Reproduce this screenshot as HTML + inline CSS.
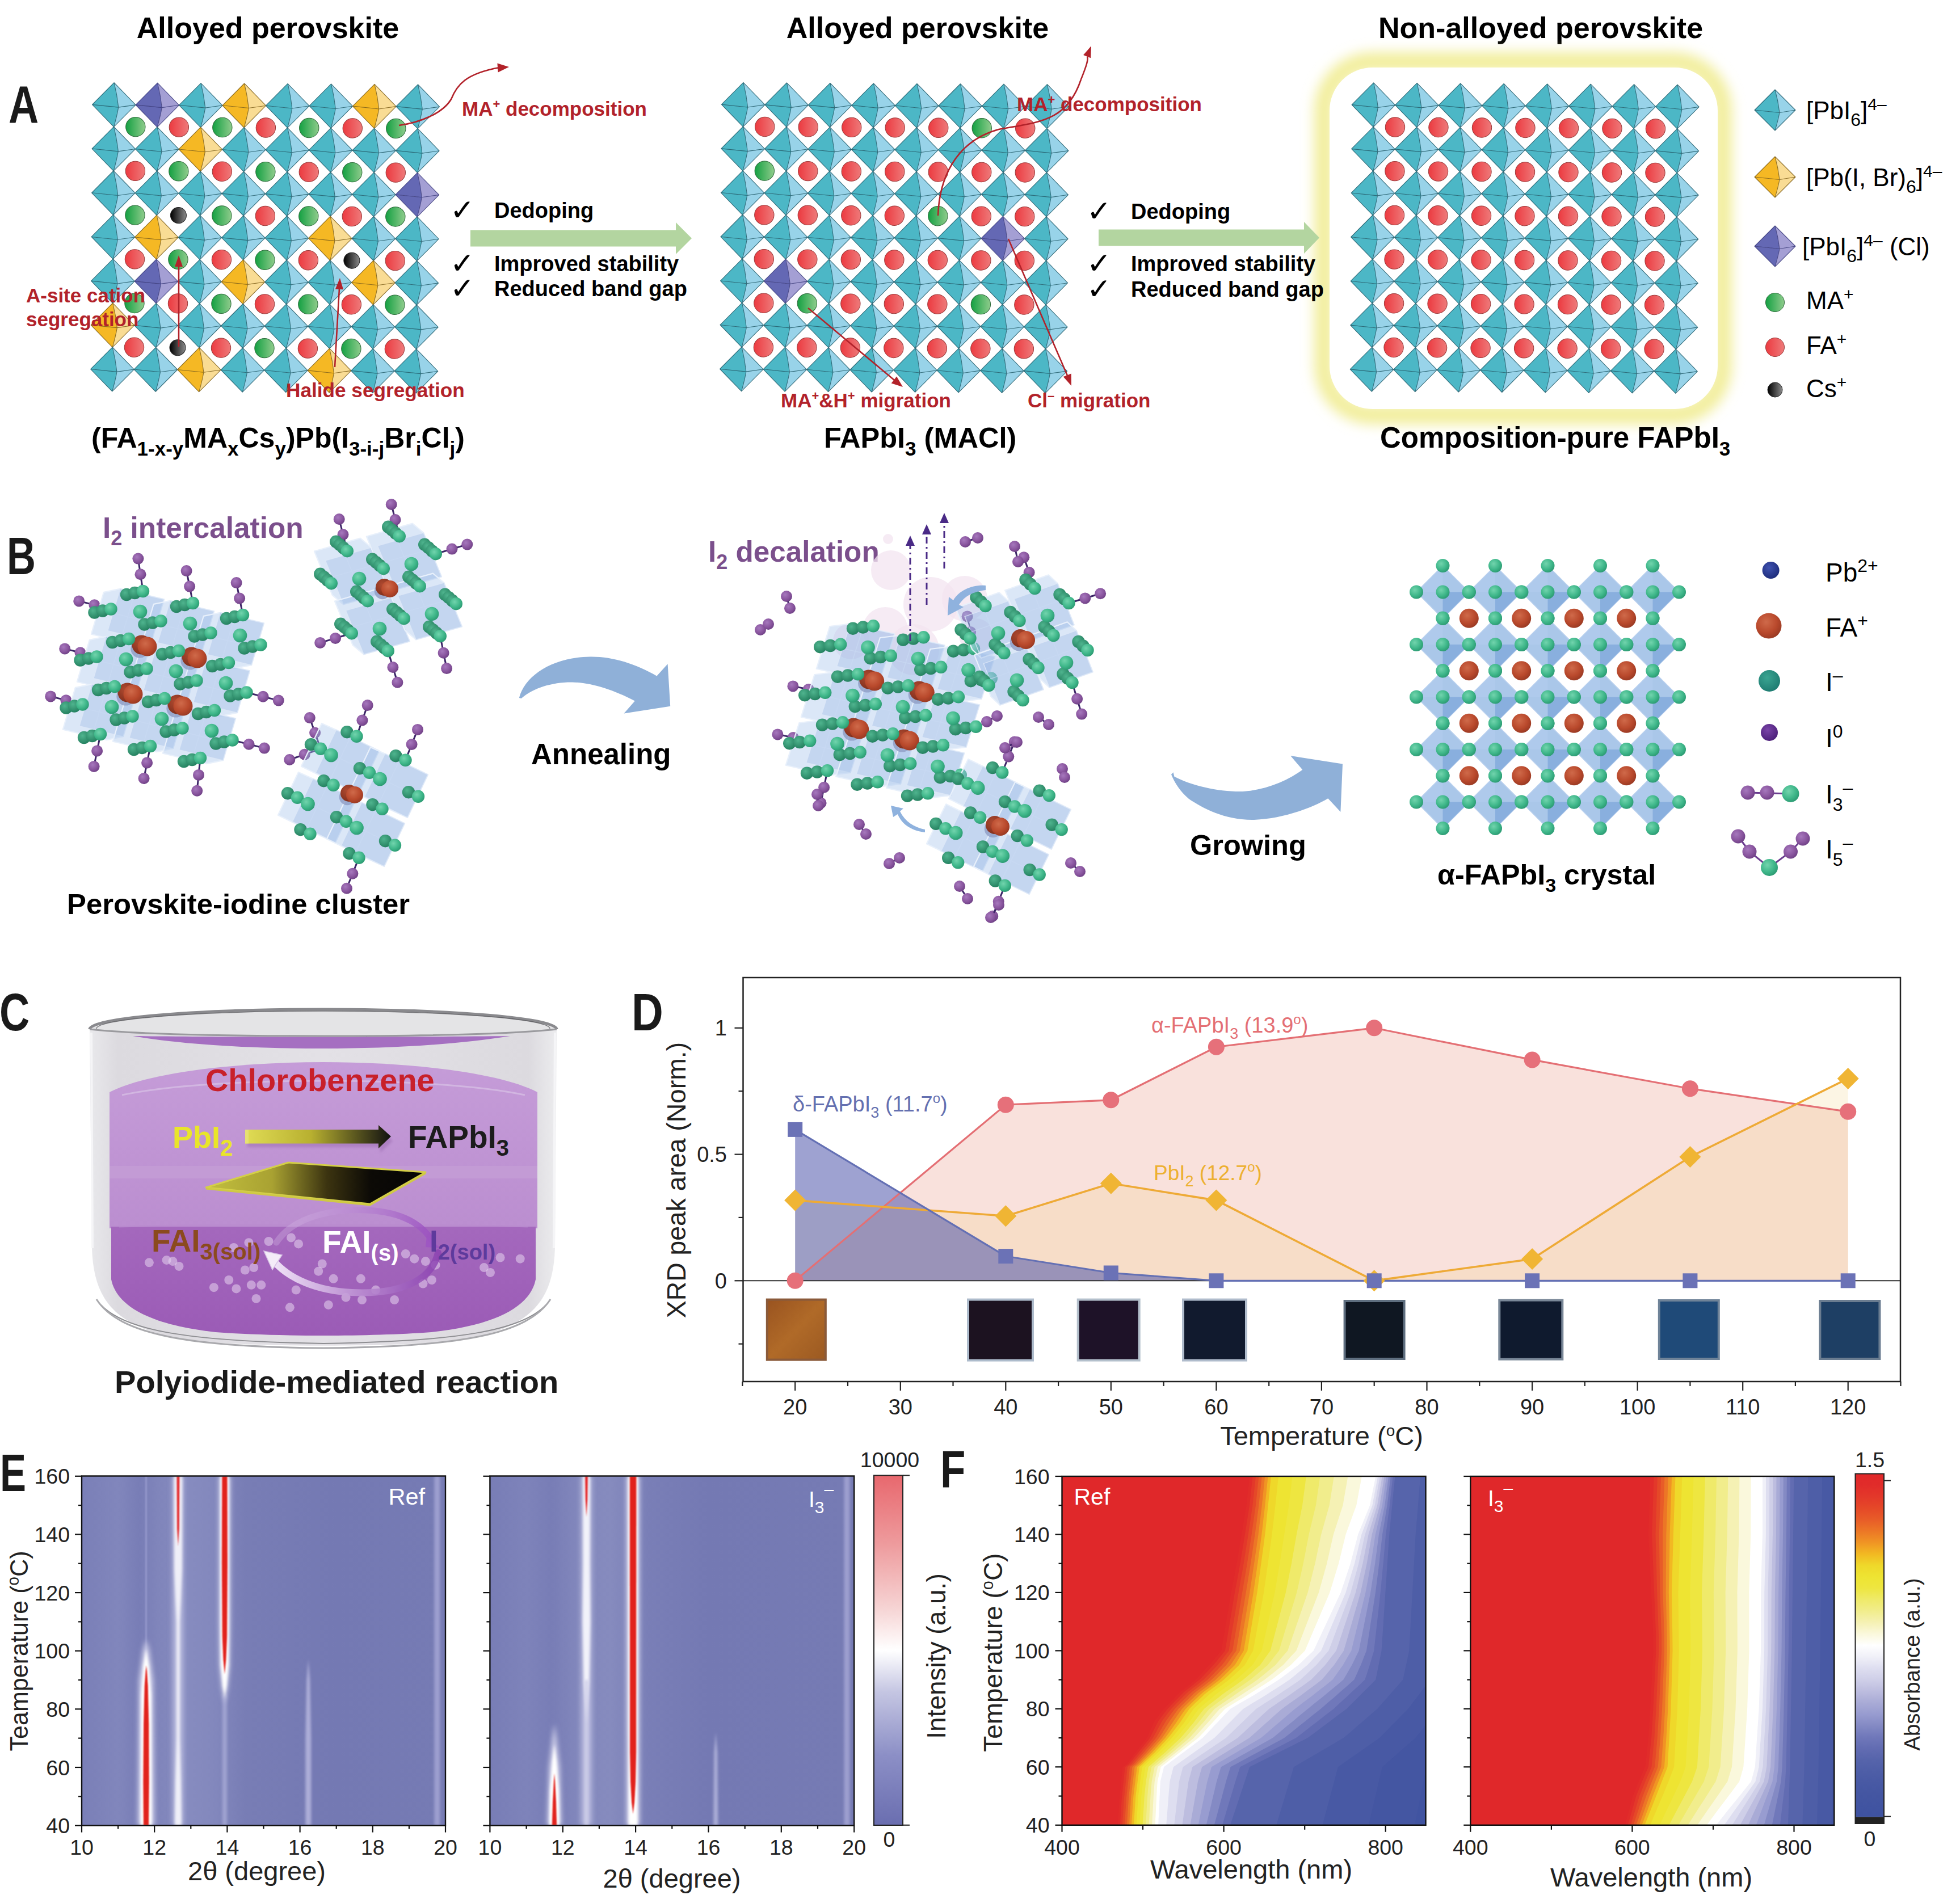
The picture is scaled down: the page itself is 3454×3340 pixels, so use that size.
<!DOCTYPE html>
<html><head><meta charset="utf-8"><title>Figure</title>
<style>html,body{margin:0;padding:0;background:#fff;} svg{display:block;}</style></head>
<body><svg width="3454" height="3340" viewBox="0 0 3454 3340" font-family='"Liberation Sans", Arial, Helvetica, sans-serif'>
<defs>
<linearGradient id="gG" x1="0" x2="1" y1="0" y2="0"><stop offset="0" stop-color="#14a042"/><stop offset="1" stop-color="#8fcc8c"/></linearGradient>
<linearGradient id="gR" x1="0" x2="1" y1="0" y2="0"><stop offset="0" stop-color="#ec3a40"/><stop offset="1" stop-color="#ee7a7a"/></linearGradient>
<linearGradient id="gK" x1="0" x2="1" y1="0" y2="0"><stop offset="0" stop-color="#000"/><stop offset="1" stop-color="#8a8a8a"/></linearGradient>
<filter id="glow" x="-20%" y="-20%" width="140%" height="140%"><feGaussianBlur stdDeviation="11"/></filter>
<marker id="arrR" markerWidth="8" markerHeight="8" refX="6" refY="4" orient="auto" markerUnits="userSpaceOnUse" viewBox="0 0 8 8"><path d="M0,0 L8,4 L0,8Z" fill="#b2222a"/></marker>

<radialGradient id="bG" cx="0.38" cy="0.35" r="0.7"><stop offset="0" stop-color="#72d4ad"/><stop offset="0.6" stop-color="#3fb78a"/><stop offset="1" stop-color="#2a9870"/></radialGradient>
<radialGradient id="bGd" cx="0.38" cy="0.35" r="0.7"><stop offset="0" stop-color="#4fb48e"/><stop offset="1" stop-color="#237f5e"/></radialGradient>
<radialGradient id="bP" cx="0.38" cy="0.35" r="0.7"><stop offset="0" stop-color="#a678bd"/><stop offset="0.6" stop-color="#8a569f"/><stop offset="1" stop-color="#6d3f84"/></radialGradient>
<radialGradient id="bR" cx="0.4" cy="0.35" r="0.7"><stop offset="0" stop-color="#cf6a4a"/><stop offset="0.6" stop-color="#b9492c"/><stop offset="1" stop-color="#963822"/></radialGradient>
<radialGradient id="bRd" cx="0.4" cy="0.35" r="0.7"><stop offset="0" stop-color="#b04a30"/><stop offset="1" stop-color="#7e2e1c"/></radialGradient>
<radialGradient id="bB" cx="0.4" cy="0.35" r="0.7"><stop offset="0" stop-color="#3f52b0"/><stop offset="1" stop-color="#1c2a78"/></radialGradient>
<radialGradient id="bV" cx="0.4" cy="0.35" r="0.7"><stop offset="0" stop-color="#7a44a8"/><stop offset="1" stop-color="#4a1e78"/></radialGradient>
<radialGradient id="bGl" cx="0.4" cy="0.35" r="0.7"><stop offset="0" stop-color="#3aa592"/><stop offset="1" stop-color="#1d7a70"/></radialGradient>
<linearGradient id="annealG" x1="0" y1="0" x2="1" y2="0"><stop offset="0" stop-color="#a9c4e6"/><stop offset="1" stop-color="#86aedd"/></linearGradient>
<filter id="soft" x="-30%" y="-30%" width="160%" height="160%"><feGaussianBlur stdDeviation="3"/></filter>

<linearGradient id="cUp" x1="0" y1="0" x2="0" y2="1"><stop offset="0" stop-color="#c59cd8"/><stop offset="1" stop-color="#bb8ed0"/></linearGradient>
<linearGradient id="cLow" x1="0" y1="0" x2="0" y2="1"><stop offset="0" stop-color="#a468bd"/><stop offset="1" stop-color="#9b5bb6"/></linearGradient>
<linearGradient id="cGlass" x1="0" y1="0" x2="1" y2="0"><stop offset="0" stop-color="#e9e9ec"/><stop offset="0.06" stop-color="#dcdadf"/><stop offset="0.5" stop-color="#e3e1e6"/><stop offset="0.94" stop-color="#dcdadf"/><stop offset="1" stop-color="#ececee"/></linearGradient>
<linearGradient id="cFilm" x1="0" y1="0" x2="1" y2="0"><stop offset="0" stop-color="#c2bf3e"/><stop offset="0.3" stop-color="#a9a232"/><stop offset="0.55" stop-color="#3c3410"/><stop offset="0.75" stop-color="#0c0a06"/><stop offset="1" stop-color="#050505"/></linearGradient>
<linearGradient id="cArr" x1="0" y1="0" x2="1" y2="0"><stop offset="0" stop-color="#e0dc55"/><stop offset="0.45" stop-color="#b8b030"/><stop offset="1" stop-color="#111"/></linearGradient>
<linearGradient id="cArcT" x1="0" y1="0" x2="1" y2="0"><stop offset="0" stop-color="#d8bfe6" stop-opacity="0.3"/><stop offset="1" stop-color="#9a4fc0" stop-opacity="0.85"/></linearGradient>
<linearGradient id="cArcB" x1="0" y1="0" x2="1" y2="0"><stop offset="0" stop-color="#f4eafa" stop-opacity="0.95"/><stop offset="1" stop-color="#8a3fb0" stop-opacity="0.8"/></linearGradient>
<filter id="blur2" x="-10%" y="-10%" width="120%" height="120%"><feGaussianBlur stdDeviation="2"/></filter>

<linearGradient id="ph20" x1="0" y1="0" x2="1" y2="1"><stop offset="0" stop-color="#9a5420"/><stop offset="0.5" stop-color="#b06a28"/><stop offset="1" stop-color="#9c5a22"/></linearGradient>

<filter id="bl1" x="-50%" y="-5%" width="200%" height="110%"><feGaussianBlur stdDeviation="1"/></filter>
<filter id="bl2" x="-50%" y="-5%" width="200%" height="110%"><feGaussianBlur stdDeviation="2.2"/></filter>
<filter id="bl4" x="-50%" y="-5%" width="200%" height="110%"><feGaussianBlur stdDeviation="4"/></filter>
<linearGradient id="eBg1" x1="0" y1="0" x2="1" y2="0">
 <stop offset="0" stop-color="#7a7fb7"/><stop offset="0.1" stop-color="#8186bc"/><stop offset="0.16" stop-color="#787db6"/><stop offset="0.21" stop-color="#8085bb"/>
 <stop offset="0.3" stop-color="#868bbf"/><stop offset="0.36" stop-color="#8388bd"/><stop offset="0.45" stop-color="#787db5"/><stop offset="0.7" stop-color="#7479b3"/><stop offset="1" stop-color="#767bb4"/></linearGradient>
<linearGradient id="eBg2" x1="0" y1="0" x2="1" y2="0">
 <stop offset="0" stop-color="#787db6"/><stop offset="0.1" stop-color="#7e83ba"/><stop offset="0.17" stop-color="#787db6"/><stop offset="0.24" stop-color="#8287bc"/>
 <stop offset="0.33" stop-color="#868bbe"/><stop offset="0.42" stop-color="#7a7fb7"/><stop offset="0.6" stop-color="#7479b3"/><stop offset="1" stop-color="#767bb4"/></linearGradient>
<linearGradient id="eCb" x1="0" y1="1" x2="0" y2="0">
 <stop offset="0" stop-color="#6a6eb0"/><stop offset="0.2" stop-color="#8c8fc6"/><stop offset="0.38" stop-color="#c4c5e2"/><stop offset="0.5" stop-color="#ffffff"/>
 <stop offset="0.62" stop-color="#f6d4d4"/><stop offset="0.8" stop-color="#ee9c9e"/><stop offset="1" stop-color="#e8686e"/></linearGradient>
<clipPath id="cpE1"><rect x="144" y="2601.5" width="641" height="616"/></clipPath>
<clipPath id="cpE2"><rect x="863.4" y="2601.5" width="641.8" height="616"/></clipPath>
<linearGradient id="fCb" x1="0" y1="0" x2="0" y2="1"><stop offset="0.0000" stop-color="#e0282a"/><stop offset="0.0333" stop-color="#e12c2a"/><stop offset="0.0667" stop-color="#e3382a"/><stop offset="0.1000" stop-color="#e54828"/><stop offset="0.1333" stop-color="#e85c28"/><stop offset="0.1667" stop-color="#ec7626"/><stop offset="0.2000" stop-color="#f09424"/><stop offset="0.2333" stop-color="#f2b822"/><stop offset="0.2667" stop-color="#efd82a"/><stop offset="0.3000" stop-color="#eee432"/><stop offset="0.3333" stop-color="#eee640"/><stop offset="0.3667" stop-color="#efea6a"/><stop offset="0.4000" stop-color="#f1ed8c"/><stop offset="0.4333" stop-color="#f5f1b4"/><stop offset="0.4667" stop-color="#faf8dc"/><stop offset="0.5000" stop-color="#ffffff"/><stop offset="0.5333" stop-color="#f0f0f8"/><stop offset="0.5667" stop-color="#dedef0"/><stop offset="0.6000" stop-color="#cfcfe8"/><stop offset="0.6333" stop-color="#bdbddf"/><stop offset="0.6667" stop-color="#a9abd6"/><stop offset="0.7000" stop-color="#989cd0"/><stop offset="0.7333" stop-color="#848ac4"/><stop offset="0.7667" stop-color="#7078ba"/><stop offset="0.8000" stop-color="#626cb2"/><stop offset="0.8333" stop-color="#5664ab"/><stop offset="0.8667" stop-color="#4e5ea7"/><stop offset="0.9000" stop-color="#4859a4"/><stop offset="0.9333" stop-color="#4456a2"/><stop offset="0.9667" stop-color="#4154a1"/><stop offset="1.0000" stop-color="#3e52a0"/></linearGradient><clipPath id="cpF1"><rect x="1871.5" y="2602" width="641" height="615"/></clipPath><clipPath id="cpF2"><rect x="2591.3" y="2602" width="641" height="615"/></clipPath></defs>
<rect width="3454" height="3340" fill="#fff"/>
<text x="472.0" y="67.0" font-size="52" font-weight="bold" text-anchor="middle" fill="#000" >Alloyed perovskite</text>
<text x="1617.0" y="67.0" font-size="52" font-weight="bold" text-anchor="middle" fill="#000" >Alloyed perovskite</text>
<text x="2715.0" y="67.0" font-size="52" font-weight="bold" text-anchor="middle" fill="#000" >Non-alloyed perovskite</text>
<text x="15" y="216" font-size="92" font-weight="bold" fill="#1a1a1a" transform="translate(15,0) scale(0.8,1) translate(-15,0)">A</text>
<g transform="rotate(0.35 200.8 184.6)">
<path d="M162.5,184.6 L200.8,145.6 Q206.3,167.0 208.8,189.1Z" fill="#4cb7c6"/><path d="M200.8,145.6 L239.1,184.6 L208.8,189.1 Q206.3,167.0 200.8,145.6Z" fill="#98d3e9"/><path d="M162.5,184.6 L208.8,189.1 Q206.3,204.1 200.8,223.6Z" fill="#4cb7c6"/><path d="M208.8,189.1 L239.1,184.6 L200.8,223.6 Q206.3,204.1 208.8,189.1Z" fill="#98d3e9"/><path d="M162.5,184.6 L200.8,145.6 L239.1,184.6 L200.8,223.6Z M200.8,145.6 Q206.3,167.0 208.8,189.1 Q206.3,204.1 200.8,223.6 M162.5,184.6 L208.8,189.1 L239.1,184.6" fill="none" stroke="#1f5a68" stroke-width="1.1" stroke-opacity="0.85" stroke-linejoin="round"/>
<path d="M239.0,184.6 L277.3,145.6 Q282.8,167.0 285.3,189.1Z" fill="#6468b4"/><path d="M277.3,145.6 L315.6,184.6 L285.3,189.1 Q282.8,167.0 277.3,145.6Z" fill="#a49fd4"/><path d="M239.0,184.6 L285.3,189.1 Q282.8,204.1 277.3,223.6Z" fill="#6468b4"/><path d="M285.3,189.1 L315.6,184.6 L277.3,223.6 Q282.8,204.1 285.3,189.1Z" fill="#a49fd4"/><path d="M239.0,184.6 L277.3,145.6 L315.6,184.6 L277.3,223.6Z M277.3,145.6 Q282.8,167.0 285.3,189.1 Q282.8,204.1 277.3,223.6 M239.0,184.6 L285.3,189.1 L315.6,184.6" fill="none" stroke="#3a3a7a" stroke-width="1.1" stroke-opacity="0.85" stroke-linejoin="round"/>
<path d="M315.5,184.6 L353.8,145.6 Q359.3,167.0 361.8,189.1Z" fill="#4cb7c6"/><path d="M353.8,145.6 L392.1,184.6 L361.8,189.1 Q359.3,167.0 353.8,145.6Z" fill="#98d3e9"/><path d="M315.5,184.6 L361.8,189.1 Q359.3,204.1 353.8,223.6Z" fill="#4cb7c6"/><path d="M361.8,189.1 L392.1,184.6 L353.8,223.6 Q359.3,204.1 361.8,189.1Z" fill="#98d3e9"/><path d="M315.5,184.6 L353.8,145.6 L392.1,184.6 L353.8,223.6Z M353.8,145.6 Q359.3,167.0 361.8,189.1 Q359.3,204.1 353.8,223.6 M315.5,184.6 L361.8,189.1 L392.1,184.6" fill="none" stroke="#1f5a68" stroke-width="1.1" stroke-opacity="0.85" stroke-linejoin="round"/>
<path d="M392.0,184.6 L430.3,145.6 Q435.8,167.0 438.3,189.1Z" fill="#f5b824"/><path d="M430.3,145.6 L468.6,184.6 L438.3,189.1 Q435.8,167.0 430.3,145.6Z" fill="#f9dc94"/><path d="M392.0,184.6 L438.3,189.1 Q435.8,204.1 430.3,223.6Z" fill="#f5b824"/><path d="M438.3,189.1 L468.6,184.6 L430.3,223.6 Q435.8,204.1 438.3,189.1Z" fill="#f9dc94"/><path d="M392.0,184.6 L430.3,145.6 L468.6,184.6 L430.3,223.6Z M430.3,145.6 Q435.8,167.0 438.3,189.1 Q435.8,204.1 430.3,223.6 M392.0,184.6 L438.3,189.1 L468.6,184.6" fill="none" stroke="#7a5a10" stroke-width="1.1" stroke-opacity="0.85" stroke-linejoin="round"/>
<path d="M468.5,184.6 L506.8,145.6 Q512.3,167.0 514.8,189.1Z" fill="#4cb7c6"/><path d="M506.8,145.6 L545.1,184.6 L514.8,189.1 Q512.3,167.0 506.8,145.6Z" fill="#98d3e9"/><path d="M468.5,184.6 L514.8,189.1 Q512.3,204.1 506.8,223.6Z" fill="#4cb7c6"/><path d="M514.8,189.1 L545.1,184.6 L506.8,223.6 Q512.3,204.1 514.8,189.1Z" fill="#98d3e9"/><path d="M468.5,184.6 L506.8,145.6 L545.1,184.6 L506.8,223.6Z M506.8,145.6 Q512.3,167.0 514.8,189.1 Q512.3,204.1 506.8,223.6 M468.5,184.6 L514.8,189.1 L545.1,184.6" fill="none" stroke="#1f5a68" stroke-width="1.1" stroke-opacity="0.85" stroke-linejoin="round"/>
<path d="M545.0,184.6 L583.3,145.6 Q588.8,167.0 591.3,189.1Z" fill="#4cb7c6"/><path d="M583.3,145.6 L621.6,184.6 L591.3,189.1 Q588.8,167.0 583.3,145.6Z" fill="#98d3e9"/><path d="M545.0,184.6 L591.3,189.1 Q588.8,204.1 583.3,223.6Z" fill="#4cb7c6"/><path d="M591.3,189.1 L621.6,184.6 L583.3,223.6 Q588.8,204.1 591.3,189.1Z" fill="#98d3e9"/><path d="M545.0,184.6 L583.3,145.6 L621.6,184.6 L583.3,223.6Z M583.3,145.6 Q588.8,167.0 591.3,189.1 Q588.8,204.1 583.3,223.6 M545.0,184.6 L591.3,189.1 L621.6,184.6" fill="none" stroke="#1f5a68" stroke-width="1.1" stroke-opacity="0.85" stroke-linejoin="round"/>
<path d="M621.5,184.6 L659.8,145.6 Q665.3,167.0 667.8,189.1Z" fill="#f5b824"/><path d="M659.8,145.6 L698.1,184.6 L667.8,189.1 Q665.3,167.0 659.8,145.6Z" fill="#f9dc94"/><path d="M621.5,184.6 L667.8,189.1 Q665.3,204.1 659.8,223.6Z" fill="#f5b824"/><path d="M667.8,189.1 L698.1,184.6 L659.8,223.6 Q665.3,204.1 667.8,189.1Z" fill="#f9dc94"/><path d="M621.5,184.6 L659.8,145.6 L698.1,184.6 L659.8,223.6Z M659.8,145.6 Q665.3,167.0 667.8,189.1 Q665.3,204.1 659.8,223.6 M621.5,184.6 L667.8,189.1 L698.1,184.6" fill="none" stroke="#7a5a10" stroke-width="1.1" stroke-opacity="0.85" stroke-linejoin="round"/>
<path d="M698.0,184.6 L736.3,145.6 Q741.8,167.0 744.3,189.1Z" fill="#4cb7c6"/><path d="M736.3,145.6 L774.6,184.6 L744.3,189.1 Q741.8,167.0 736.3,145.6Z" fill="#98d3e9"/><path d="M698.0,184.6 L744.3,189.1 Q741.8,204.1 736.3,223.6Z" fill="#4cb7c6"/><path d="M744.3,189.1 L774.6,184.6 L736.3,223.6 Q741.8,204.1 744.3,189.1Z" fill="#98d3e9"/><path d="M698.0,184.6 L736.3,145.6 L774.6,184.6 L736.3,223.6Z M736.3,145.6 Q741.8,167.0 744.3,189.1 Q741.8,204.1 736.3,223.6 M698.0,184.6 L744.3,189.1 L774.6,184.6" fill="none" stroke="#1f5a68" stroke-width="1.1" stroke-opacity="0.85" stroke-linejoin="round"/>
<path d="M162.5,262.3 L200.8,223.3 Q206.3,244.8 208.8,266.8Z" fill="#4cb7c6"/><path d="M200.8,223.3 L239.1,262.3 L208.8,266.8 Q206.3,244.8 200.8,223.3Z" fill="#98d3e9"/><path d="M162.5,262.3 L208.8,266.8 Q206.3,281.8 200.8,301.3Z" fill="#4cb7c6"/><path d="M208.8,266.8 L239.1,262.3 L200.8,301.3 Q206.3,281.8 208.8,266.8Z" fill="#98d3e9"/><path d="M162.5,262.3 L200.8,223.3 L239.1,262.3 L200.8,301.3Z M200.8,223.3 Q206.3,244.8 208.8,266.8 Q206.3,281.8 200.8,301.3 M162.5,262.3 L208.8,266.8 L239.1,262.3" fill="none" stroke="#1f5a68" stroke-width="1.1" stroke-opacity="0.85" stroke-linejoin="round"/>
<path d="M239.0,262.3 L277.3,223.3 Q282.8,244.8 285.3,266.8Z" fill="#4cb7c6"/><path d="M277.3,223.3 L315.6,262.3 L285.3,266.8 Q282.8,244.8 277.3,223.3Z" fill="#98d3e9"/><path d="M239.0,262.3 L285.3,266.8 Q282.8,281.8 277.3,301.3Z" fill="#4cb7c6"/><path d="M285.3,266.8 L315.6,262.3 L277.3,301.3 Q282.8,281.8 285.3,266.8Z" fill="#98d3e9"/><path d="M239.0,262.3 L277.3,223.3 L315.6,262.3 L277.3,301.3Z M277.3,223.3 Q282.8,244.8 285.3,266.8 Q282.8,281.8 277.3,301.3 M239.0,262.3 L285.3,266.8 L315.6,262.3" fill="none" stroke="#1f5a68" stroke-width="1.1" stroke-opacity="0.85" stroke-linejoin="round"/>
<path d="M315.5,262.3 L353.8,223.3 Q359.3,244.8 361.8,266.8Z" fill="#f5b824"/><path d="M353.8,223.3 L392.1,262.3 L361.8,266.8 Q359.3,244.8 353.8,223.3Z" fill="#f9dc94"/><path d="M315.5,262.3 L361.8,266.8 Q359.3,281.8 353.8,301.3Z" fill="#f5b824"/><path d="M361.8,266.8 L392.1,262.3 L353.8,301.3 Q359.3,281.8 361.8,266.8Z" fill="#f9dc94"/><path d="M315.5,262.3 L353.8,223.3 L392.1,262.3 L353.8,301.3Z M353.8,223.3 Q359.3,244.8 361.8,266.8 Q359.3,281.8 353.8,301.3 M315.5,262.3 L361.8,266.8 L392.1,262.3" fill="none" stroke="#7a5a10" stroke-width="1.1" stroke-opacity="0.85" stroke-linejoin="round"/>
<path d="M392.0,262.3 L430.3,223.3 Q435.8,244.8 438.3,266.8Z" fill="#4cb7c6"/><path d="M430.3,223.3 L468.6,262.3 L438.3,266.8 Q435.8,244.8 430.3,223.3Z" fill="#98d3e9"/><path d="M392.0,262.3 L438.3,266.8 Q435.8,281.8 430.3,301.3Z" fill="#4cb7c6"/><path d="M438.3,266.8 L468.6,262.3 L430.3,301.3 Q435.8,281.8 438.3,266.8Z" fill="#98d3e9"/><path d="M392.0,262.3 L430.3,223.3 L468.6,262.3 L430.3,301.3Z M430.3,223.3 Q435.8,244.8 438.3,266.8 Q435.8,281.8 430.3,301.3 M392.0,262.3 L438.3,266.8 L468.6,262.3" fill="none" stroke="#1f5a68" stroke-width="1.1" stroke-opacity="0.85" stroke-linejoin="round"/>
<path d="M468.5,262.3 L506.8,223.3 Q512.3,244.8 514.8,266.8Z" fill="#4cb7c6"/><path d="M506.8,223.3 L545.1,262.3 L514.8,266.8 Q512.3,244.8 506.8,223.3Z" fill="#98d3e9"/><path d="M468.5,262.3 L514.8,266.8 Q512.3,281.8 506.8,301.3Z" fill="#4cb7c6"/><path d="M514.8,266.8 L545.1,262.3 L506.8,301.3 Q512.3,281.8 514.8,266.8Z" fill="#98d3e9"/><path d="M468.5,262.3 L506.8,223.3 L545.1,262.3 L506.8,301.3Z M506.8,223.3 Q512.3,244.8 514.8,266.8 Q512.3,281.8 506.8,301.3 M468.5,262.3 L514.8,266.8 L545.1,262.3" fill="none" stroke="#1f5a68" stroke-width="1.1" stroke-opacity="0.85" stroke-linejoin="round"/>
<path d="M545.0,262.3 L583.3,223.3 Q588.8,244.8 591.3,266.8Z" fill="#4cb7c6"/><path d="M583.3,223.3 L621.6,262.3 L591.3,266.8 Q588.8,244.8 583.3,223.3Z" fill="#98d3e9"/><path d="M545.0,262.3 L591.3,266.8 Q588.8,281.8 583.3,301.3Z" fill="#4cb7c6"/><path d="M591.3,266.8 L621.6,262.3 L583.3,301.3 Q588.8,281.8 591.3,266.8Z" fill="#98d3e9"/><path d="M545.0,262.3 L583.3,223.3 L621.6,262.3 L583.3,301.3Z M583.3,223.3 Q588.8,244.8 591.3,266.8 Q588.8,281.8 583.3,301.3 M545.0,262.3 L591.3,266.8 L621.6,262.3" fill="none" stroke="#1f5a68" stroke-width="1.1" stroke-opacity="0.85" stroke-linejoin="round"/>
<path d="M621.5,262.3 L659.8,223.3 Q665.3,244.8 667.8,266.8Z" fill="#4cb7c6"/><path d="M659.8,223.3 L698.1,262.3 L667.8,266.8 Q665.3,244.8 659.8,223.3Z" fill="#98d3e9"/><path d="M621.5,262.3 L667.8,266.8 Q665.3,281.8 659.8,301.3Z" fill="#4cb7c6"/><path d="M667.8,266.8 L698.1,262.3 L659.8,301.3 Q665.3,281.8 667.8,266.8Z" fill="#98d3e9"/><path d="M621.5,262.3 L659.8,223.3 L698.1,262.3 L659.8,301.3Z M659.8,223.3 Q665.3,244.8 667.8,266.8 Q665.3,281.8 659.8,301.3 M621.5,262.3 L667.8,266.8 L698.1,262.3" fill="none" stroke="#1f5a68" stroke-width="1.1" stroke-opacity="0.85" stroke-linejoin="round"/>
<path d="M698.0,262.3 L736.3,223.3 Q741.8,244.8 744.3,266.8Z" fill="#4cb7c6"/><path d="M736.3,223.3 L774.6,262.3 L744.3,266.8 Q741.8,244.8 736.3,223.3Z" fill="#98d3e9"/><path d="M698.0,262.3 L744.3,266.8 Q741.8,281.8 736.3,301.3Z" fill="#4cb7c6"/><path d="M744.3,266.8 L774.6,262.3 L736.3,301.3 Q741.8,281.8 744.3,266.8Z" fill="#98d3e9"/><path d="M698.0,262.3 L736.3,223.3 L774.6,262.3 L736.3,301.3Z M736.3,223.3 Q741.8,244.8 744.3,266.8 Q741.8,281.8 736.3,301.3 M698.0,262.3 L744.3,266.8 L774.6,262.3" fill="none" stroke="#1f5a68" stroke-width="1.1" stroke-opacity="0.85" stroke-linejoin="round"/>
<path d="M162.5,340.0 L200.8,301.0 Q206.3,322.4 208.8,344.5Z" fill="#4cb7c6"/><path d="M200.8,301.0 L239.1,340.0 L208.8,344.5 Q206.3,322.4 200.8,301.0Z" fill="#98d3e9"/><path d="M162.5,340.0 L208.8,344.5 Q206.3,359.5 200.8,379.0Z" fill="#4cb7c6"/><path d="M208.8,344.5 L239.1,340.0 L200.8,379.0 Q206.3,359.5 208.8,344.5Z" fill="#98d3e9"/><path d="M162.5,340.0 L200.8,301.0 L239.1,340.0 L200.8,379.0Z M200.8,301.0 Q206.3,322.4 208.8,344.5 Q206.3,359.5 200.8,379.0 M162.5,340.0 L208.8,344.5 L239.1,340.0" fill="none" stroke="#1f5a68" stroke-width="1.1" stroke-opacity="0.85" stroke-linejoin="round"/>
<path d="M239.0,340.0 L277.3,301.0 Q282.8,322.4 285.3,344.5Z" fill="#4cb7c6"/><path d="M277.3,301.0 L315.6,340.0 L285.3,344.5 Q282.8,322.4 277.3,301.0Z" fill="#98d3e9"/><path d="M239.0,340.0 L285.3,344.5 Q282.8,359.5 277.3,379.0Z" fill="#4cb7c6"/><path d="M285.3,344.5 L315.6,340.0 L277.3,379.0 Q282.8,359.5 285.3,344.5Z" fill="#98d3e9"/><path d="M239.0,340.0 L277.3,301.0 L315.6,340.0 L277.3,379.0Z M277.3,301.0 Q282.8,322.4 285.3,344.5 Q282.8,359.5 277.3,379.0 M239.0,340.0 L285.3,344.5 L315.6,340.0" fill="none" stroke="#1f5a68" stroke-width="1.1" stroke-opacity="0.85" stroke-linejoin="round"/>
<path d="M315.5,340.0 L353.8,301.0 Q359.3,322.4 361.8,344.5Z" fill="#4cb7c6"/><path d="M353.8,301.0 L392.1,340.0 L361.8,344.5 Q359.3,322.4 353.8,301.0Z" fill="#98d3e9"/><path d="M315.5,340.0 L361.8,344.5 Q359.3,359.5 353.8,379.0Z" fill="#4cb7c6"/><path d="M361.8,344.5 L392.1,340.0 L353.8,379.0 Q359.3,359.5 361.8,344.5Z" fill="#98d3e9"/><path d="M315.5,340.0 L353.8,301.0 L392.1,340.0 L353.8,379.0Z M353.8,301.0 Q359.3,322.4 361.8,344.5 Q359.3,359.5 353.8,379.0 M315.5,340.0 L361.8,344.5 L392.1,340.0" fill="none" stroke="#1f5a68" stroke-width="1.1" stroke-opacity="0.85" stroke-linejoin="round"/>
<path d="M392.0,340.0 L430.3,301.0 Q435.8,322.4 438.3,344.5Z" fill="#4cb7c6"/><path d="M430.3,301.0 L468.6,340.0 L438.3,344.5 Q435.8,322.4 430.3,301.0Z" fill="#98d3e9"/><path d="M392.0,340.0 L438.3,344.5 Q435.8,359.5 430.3,379.0Z" fill="#4cb7c6"/><path d="M438.3,344.5 L468.6,340.0 L430.3,379.0 Q435.8,359.5 438.3,344.5Z" fill="#98d3e9"/><path d="M392.0,340.0 L430.3,301.0 L468.6,340.0 L430.3,379.0Z M430.3,301.0 Q435.8,322.4 438.3,344.5 Q435.8,359.5 430.3,379.0 M392.0,340.0 L438.3,344.5 L468.6,340.0" fill="none" stroke="#1f5a68" stroke-width="1.1" stroke-opacity="0.85" stroke-linejoin="round"/>
<path d="M468.5,340.0 L506.8,301.0 Q512.3,322.4 514.8,344.5Z" fill="#4cb7c6"/><path d="M506.8,301.0 L545.1,340.0 L514.8,344.5 Q512.3,322.4 506.8,301.0Z" fill="#98d3e9"/><path d="M468.5,340.0 L514.8,344.5 Q512.3,359.5 506.8,379.0Z" fill="#4cb7c6"/><path d="M514.8,344.5 L545.1,340.0 L506.8,379.0 Q512.3,359.5 514.8,344.5Z" fill="#98d3e9"/><path d="M468.5,340.0 L506.8,301.0 L545.1,340.0 L506.8,379.0Z M506.8,301.0 Q512.3,322.4 514.8,344.5 Q512.3,359.5 506.8,379.0 M468.5,340.0 L514.8,344.5 L545.1,340.0" fill="none" stroke="#1f5a68" stroke-width="1.1" stroke-opacity="0.85" stroke-linejoin="round"/>
<path d="M545.0,340.0 L583.3,301.0 Q588.8,322.4 591.3,344.5Z" fill="#4cb7c6"/><path d="M583.3,301.0 L621.6,340.0 L591.3,344.5 Q588.8,322.4 583.3,301.0Z" fill="#98d3e9"/><path d="M545.0,340.0 L591.3,344.5 Q588.8,359.5 583.3,379.0Z" fill="#4cb7c6"/><path d="M591.3,344.5 L621.6,340.0 L583.3,379.0 Q588.8,359.5 591.3,344.5Z" fill="#98d3e9"/><path d="M545.0,340.0 L583.3,301.0 L621.6,340.0 L583.3,379.0Z M583.3,301.0 Q588.8,322.4 591.3,344.5 Q588.8,359.5 583.3,379.0 M545.0,340.0 L591.3,344.5 L621.6,340.0" fill="none" stroke="#1f5a68" stroke-width="1.1" stroke-opacity="0.85" stroke-linejoin="round"/>
<path d="M621.5,340.0 L659.8,301.0 Q665.3,322.4 667.8,344.5Z" fill="#4cb7c6"/><path d="M659.8,301.0 L698.1,340.0 L667.8,344.5 Q665.3,322.4 659.8,301.0Z" fill="#98d3e9"/><path d="M621.5,340.0 L667.8,344.5 Q665.3,359.5 659.8,379.0Z" fill="#4cb7c6"/><path d="M667.8,344.5 L698.1,340.0 L659.8,379.0 Q665.3,359.5 667.8,344.5Z" fill="#98d3e9"/><path d="M621.5,340.0 L659.8,301.0 L698.1,340.0 L659.8,379.0Z M659.8,301.0 Q665.3,322.4 667.8,344.5 Q665.3,359.5 659.8,379.0 M621.5,340.0 L667.8,344.5 L698.1,340.0" fill="none" stroke="#1f5a68" stroke-width="1.1" stroke-opacity="0.85" stroke-linejoin="round"/>
<path d="M698.0,340.0 L736.3,301.0 Q741.8,322.4 744.3,344.5Z" fill="#6468b4"/><path d="M736.3,301.0 L774.6,340.0 L744.3,344.5 Q741.8,322.4 736.3,301.0Z" fill="#a49fd4"/><path d="M698.0,340.0 L744.3,344.5 Q741.8,359.5 736.3,379.0Z" fill="#6468b4"/><path d="M744.3,344.5 L774.6,340.0 L736.3,379.0 Q741.8,359.5 744.3,344.5Z" fill="#a49fd4"/><path d="M698.0,340.0 L736.3,301.0 L774.6,340.0 L736.3,379.0Z M736.3,301.0 Q741.8,322.4 744.3,344.5 Q741.8,359.5 736.3,379.0 M698.0,340.0 L744.3,344.5 L774.6,340.0" fill="none" stroke="#3a3a7a" stroke-width="1.1" stroke-opacity="0.85" stroke-linejoin="round"/>
<path d="M162.5,417.7 L200.8,378.7 Q206.3,400.2 208.8,422.2Z" fill="#4cb7c6"/><path d="M200.8,378.7 L239.1,417.7 L208.8,422.2 Q206.3,400.2 200.8,378.7Z" fill="#98d3e9"/><path d="M162.5,417.7 L208.8,422.2 Q206.3,437.2 200.8,456.7Z" fill="#4cb7c6"/><path d="M208.8,422.2 L239.1,417.7 L200.8,456.7 Q206.3,437.2 208.8,422.2Z" fill="#98d3e9"/><path d="M162.5,417.7 L200.8,378.7 L239.1,417.7 L200.8,456.7Z M200.8,378.7 Q206.3,400.2 208.8,422.2 Q206.3,437.2 200.8,456.7 M162.5,417.7 L208.8,422.2 L239.1,417.7" fill="none" stroke="#1f5a68" stroke-width="1.1" stroke-opacity="0.85" stroke-linejoin="round"/>
<path d="M239.0,417.7 L277.3,378.7 Q282.8,400.2 285.3,422.2Z" fill="#f5b824"/><path d="M277.3,378.7 L315.6,417.7 L285.3,422.2 Q282.8,400.2 277.3,378.7Z" fill="#f9dc94"/><path d="M239.0,417.7 L285.3,422.2 Q282.8,437.2 277.3,456.7Z" fill="#f5b824"/><path d="M285.3,422.2 L315.6,417.7 L277.3,456.7 Q282.8,437.2 285.3,422.2Z" fill="#f9dc94"/><path d="M239.0,417.7 L277.3,378.7 L315.6,417.7 L277.3,456.7Z M277.3,378.7 Q282.8,400.2 285.3,422.2 Q282.8,437.2 277.3,456.7 M239.0,417.7 L285.3,422.2 L315.6,417.7" fill="none" stroke="#7a5a10" stroke-width="1.1" stroke-opacity="0.85" stroke-linejoin="round"/>
<path d="M315.5,417.7 L353.8,378.7 Q359.3,400.2 361.8,422.2Z" fill="#4cb7c6"/><path d="M353.8,378.7 L392.1,417.7 L361.8,422.2 Q359.3,400.2 353.8,378.7Z" fill="#98d3e9"/><path d="M315.5,417.7 L361.8,422.2 Q359.3,437.2 353.8,456.7Z" fill="#4cb7c6"/><path d="M361.8,422.2 L392.1,417.7 L353.8,456.7 Q359.3,437.2 361.8,422.2Z" fill="#98d3e9"/><path d="M315.5,417.7 L353.8,378.7 L392.1,417.7 L353.8,456.7Z M353.8,378.7 Q359.3,400.2 361.8,422.2 Q359.3,437.2 353.8,456.7 M315.5,417.7 L361.8,422.2 L392.1,417.7" fill="none" stroke="#1f5a68" stroke-width="1.1" stroke-opacity="0.85" stroke-linejoin="round"/>
<path d="M392.0,417.7 L430.3,378.7 Q435.8,400.2 438.3,422.2Z" fill="#4cb7c6"/><path d="M430.3,378.7 L468.6,417.7 L438.3,422.2 Q435.8,400.2 430.3,378.7Z" fill="#98d3e9"/><path d="M392.0,417.7 L438.3,422.2 Q435.8,437.2 430.3,456.7Z" fill="#4cb7c6"/><path d="M438.3,422.2 L468.6,417.7 L430.3,456.7 Q435.8,437.2 438.3,422.2Z" fill="#98d3e9"/><path d="M392.0,417.7 L430.3,378.7 L468.6,417.7 L430.3,456.7Z M430.3,378.7 Q435.8,400.2 438.3,422.2 Q435.8,437.2 430.3,456.7 M392.0,417.7 L438.3,422.2 L468.6,417.7" fill="none" stroke="#1f5a68" stroke-width="1.1" stroke-opacity="0.85" stroke-linejoin="round"/>
<path d="M468.5,417.7 L506.8,378.7 Q512.3,400.2 514.8,422.2Z" fill="#4cb7c6"/><path d="M506.8,378.7 L545.1,417.7 L514.8,422.2 Q512.3,400.2 506.8,378.7Z" fill="#98d3e9"/><path d="M468.5,417.7 L514.8,422.2 Q512.3,437.2 506.8,456.7Z" fill="#4cb7c6"/><path d="M514.8,422.2 L545.1,417.7 L506.8,456.7 Q512.3,437.2 514.8,422.2Z" fill="#98d3e9"/><path d="M468.5,417.7 L506.8,378.7 L545.1,417.7 L506.8,456.7Z M506.8,378.7 Q512.3,400.2 514.8,422.2 Q512.3,437.2 506.8,456.7 M468.5,417.7 L514.8,422.2 L545.1,417.7" fill="none" stroke="#1f5a68" stroke-width="1.1" stroke-opacity="0.85" stroke-linejoin="round"/>
<path d="M545.0,417.7 L583.3,378.7 Q588.8,400.2 591.3,422.2Z" fill="#f5b824"/><path d="M583.3,378.7 L621.6,417.7 L591.3,422.2 Q588.8,400.2 583.3,378.7Z" fill="#f9dc94"/><path d="M545.0,417.7 L591.3,422.2 Q588.8,437.2 583.3,456.7Z" fill="#f5b824"/><path d="M591.3,422.2 L621.6,417.7 L583.3,456.7 Q588.8,437.2 591.3,422.2Z" fill="#f9dc94"/><path d="M545.0,417.7 L583.3,378.7 L621.6,417.7 L583.3,456.7Z M583.3,378.7 Q588.8,400.2 591.3,422.2 Q588.8,437.2 583.3,456.7 M545.0,417.7 L591.3,422.2 L621.6,417.7" fill="none" stroke="#7a5a10" stroke-width="1.1" stroke-opacity="0.85" stroke-linejoin="round"/>
<path d="M621.5,417.7 L659.8,378.7 Q665.3,400.2 667.8,422.2Z" fill="#4cb7c6"/><path d="M659.8,378.7 L698.1,417.7 L667.8,422.2 Q665.3,400.2 659.8,378.7Z" fill="#98d3e9"/><path d="M621.5,417.7 L667.8,422.2 Q665.3,437.2 659.8,456.7Z" fill="#4cb7c6"/><path d="M667.8,422.2 L698.1,417.7 L659.8,456.7 Q665.3,437.2 667.8,422.2Z" fill="#98d3e9"/><path d="M621.5,417.7 L659.8,378.7 L698.1,417.7 L659.8,456.7Z M659.8,378.7 Q665.3,400.2 667.8,422.2 Q665.3,437.2 659.8,456.7 M621.5,417.7 L667.8,422.2 L698.1,417.7" fill="none" stroke="#1f5a68" stroke-width="1.1" stroke-opacity="0.85" stroke-linejoin="round"/>
<path d="M698.0,417.7 L736.3,378.7 Q741.8,400.2 744.3,422.2Z" fill="#4cb7c6"/><path d="M736.3,378.7 L774.6,417.7 L744.3,422.2 Q741.8,400.2 736.3,378.7Z" fill="#98d3e9"/><path d="M698.0,417.7 L744.3,422.2 Q741.8,437.2 736.3,456.7Z" fill="#4cb7c6"/><path d="M744.3,422.2 L774.6,417.7 L736.3,456.7 Q741.8,437.2 744.3,422.2Z" fill="#98d3e9"/><path d="M698.0,417.7 L736.3,378.7 L774.6,417.7 L736.3,456.7Z M736.3,378.7 Q741.8,400.2 744.3,422.2 Q741.8,437.2 736.3,456.7 M698.0,417.7 L744.3,422.2 L774.6,417.7" fill="none" stroke="#1f5a68" stroke-width="1.1" stroke-opacity="0.85" stroke-linejoin="round"/>
<path d="M162.5,495.4 L200.8,456.4 Q206.3,477.8 208.8,499.9Z" fill="#4cb7c6"/><path d="M200.8,456.4 L239.1,495.4 L208.8,499.9 Q206.3,477.8 200.8,456.4Z" fill="#98d3e9"/><path d="M162.5,495.4 L208.8,499.9 Q206.3,514.9 200.8,534.4Z" fill="#4cb7c6"/><path d="M208.8,499.9 L239.1,495.4 L200.8,534.4 Q206.3,514.9 208.8,499.9Z" fill="#98d3e9"/><path d="M162.5,495.4 L200.8,456.4 L239.1,495.4 L200.8,534.4Z M200.8,456.4 Q206.3,477.8 208.8,499.9 Q206.3,514.9 200.8,534.4 M162.5,495.4 L208.8,499.9 L239.1,495.4" fill="none" stroke="#1f5a68" stroke-width="1.1" stroke-opacity="0.85" stroke-linejoin="round"/>
<path d="M239.0,495.4 L277.3,456.4 Q282.8,477.8 285.3,499.9Z" fill="#6468b4"/><path d="M277.3,456.4 L315.6,495.4 L285.3,499.9 Q282.8,477.8 277.3,456.4Z" fill="#a49fd4"/><path d="M239.0,495.4 L285.3,499.9 Q282.8,514.9 277.3,534.4Z" fill="#6468b4"/><path d="M285.3,499.9 L315.6,495.4 L277.3,534.4 Q282.8,514.9 285.3,499.9Z" fill="#a49fd4"/><path d="M239.0,495.4 L277.3,456.4 L315.6,495.4 L277.3,534.4Z M277.3,456.4 Q282.8,477.8 285.3,499.9 Q282.8,514.9 277.3,534.4 M239.0,495.4 L285.3,499.9 L315.6,495.4" fill="none" stroke="#3a3a7a" stroke-width="1.1" stroke-opacity="0.85" stroke-linejoin="round"/>
<path d="M315.5,495.4 L353.8,456.4 Q359.3,477.8 361.8,499.9Z" fill="#4cb7c6"/><path d="M353.8,456.4 L392.1,495.4 L361.8,499.9 Q359.3,477.8 353.8,456.4Z" fill="#98d3e9"/><path d="M315.5,495.4 L361.8,499.9 Q359.3,514.9 353.8,534.4Z" fill="#4cb7c6"/><path d="M361.8,499.9 L392.1,495.4 L353.8,534.4 Q359.3,514.9 361.8,499.9Z" fill="#98d3e9"/><path d="M315.5,495.4 L353.8,456.4 L392.1,495.4 L353.8,534.4Z M353.8,456.4 Q359.3,477.8 361.8,499.9 Q359.3,514.9 353.8,534.4 M315.5,495.4 L361.8,499.9 L392.1,495.4" fill="none" stroke="#1f5a68" stroke-width="1.1" stroke-opacity="0.85" stroke-linejoin="round"/>
<path d="M392.0,495.4 L430.3,456.4 Q435.8,477.8 438.3,499.9Z" fill="#f5b824"/><path d="M430.3,456.4 L468.6,495.4 L438.3,499.9 Q435.8,477.8 430.3,456.4Z" fill="#f9dc94"/><path d="M392.0,495.4 L438.3,499.9 Q435.8,514.9 430.3,534.4Z" fill="#f5b824"/><path d="M438.3,499.9 L468.6,495.4 L430.3,534.4 Q435.8,514.9 438.3,499.9Z" fill="#f9dc94"/><path d="M392.0,495.4 L430.3,456.4 L468.6,495.4 L430.3,534.4Z M430.3,456.4 Q435.8,477.8 438.3,499.9 Q435.8,514.9 430.3,534.4 M392.0,495.4 L438.3,499.9 L468.6,495.4" fill="none" stroke="#7a5a10" stroke-width="1.1" stroke-opacity="0.85" stroke-linejoin="round"/>
<path d="M468.5,495.4 L506.8,456.4 Q512.3,477.8 514.8,499.9Z" fill="#4cb7c6"/><path d="M506.8,456.4 L545.1,495.4 L514.8,499.9 Q512.3,477.8 506.8,456.4Z" fill="#98d3e9"/><path d="M468.5,495.4 L514.8,499.9 Q512.3,514.9 506.8,534.4Z" fill="#4cb7c6"/><path d="M514.8,499.9 L545.1,495.4 L506.8,534.4 Q512.3,514.9 514.8,499.9Z" fill="#98d3e9"/><path d="M468.5,495.4 L506.8,456.4 L545.1,495.4 L506.8,534.4Z M506.8,456.4 Q512.3,477.8 514.8,499.9 Q512.3,514.9 506.8,534.4 M468.5,495.4 L514.8,499.9 L545.1,495.4" fill="none" stroke="#1f5a68" stroke-width="1.1" stroke-opacity="0.85" stroke-linejoin="round"/>
<path d="M545.0,495.4 L583.3,456.4 Q588.8,477.8 591.3,499.9Z" fill="#4cb7c6"/><path d="M583.3,456.4 L621.6,495.4 L591.3,499.9 Q588.8,477.8 583.3,456.4Z" fill="#98d3e9"/><path d="M545.0,495.4 L591.3,499.9 Q588.8,514.9 583.3,534.4Z" fill="#4cb7c6"/><path d="M591.3,499.9 L621.6,495.4 L583.3,534.4 Q588.8,514.9 591.3,499.9Z" fill="#98d3e9"/><path d="M545.0,495.4 L583.3,456.4 L621.6,495.4 L583.3,534.4Z M583.3,456.4 Q588.8,477.8 591.3,499.9 Q588.8,514.9 583.3,534.4 M545.0,495.4 L591.3,499.9 L621.6,495.4" fill="none" stroke="#1f5a68" stroke-width="1.1" stroke-opacity="0.85" stroke-linejoin="round"/>
<path d="M621.5,495.4 L659.8,456.4 Q665.3,477.8 667.8,499.9Z" fill="#f5b824"/><path d="M659.8,456.4 L698.1,495.4 L667.8,499.9 Q665.3,477.8 659.8,456.4Z" fill="#f9dc94"/><path d="M621.5,495.4 L667.8,499.9 Q665.3,514.9 659.8,534.4Z" fill="#f5b824"/><path d="M667.8,499.9 L698.1,495.4 L659.8,534.4 Q665.3,514.9 667.8,499.9Z" fill="#f9dc94"/><path d="M621.5,495.4 L659.8,456.4 L698.1,495.4 L659.8,534.4Z M659.8,456.4 Q665.3,477.8 667.8,499.9 Q665.3,514.9 659.8,534.4 M621.5,495.4 L667.8,499.9 L698.1,495.4" fill="none" stroke="#7a5a10" stroke-width="1.1" stroke-opacity="0.85" stroke-linejoin="round"/>
<path d="M698.0,495.4 L736.3,456.4 Q741.8,477.8 744.3,499.9Z" fill="#4cb7c6"/><path d="M736.3,456.4 L774.6,495.4 L744.3,499.9 Q741.8,477.8 736.3,456.4Z" fill="#98d3e9"/><path d="M698.0,495.4 L744.3,499.9 Q741.8,514.9 736.3,534.4Z" fill="#4cb7c6"/><path d="M744.3,499.9 L774.6,495.4 L736.3,534.4 Q741.8,514.9 744.3,499.9Z" fill="#98d3e9"/><path d="M698.0,495.4 L736.3,456.4 L774.6,495.4 L736.3,534.4Z M736.3,456.4 Q741.8,477.8 744.3,499.9 Q741.8,514.9 736.3,534.4 M698.0,495.4 L744.3,499.9 L774.6,495.4" fill="none" stroke="#1f5a68" stroke-width="1.1" stroke-opacity="0.85" stroke-linejoin="round"/>
<path d="M162.5,573.1 L200.8,534.1 Q206.3,555.6 208.8,577.6Z" fill="#f5b824"/><path d="M200.8,534.1 L239.1,573.1 L208.8,577.6 Q206.3,555.6 200.8,534.1Z" fill="#f9dc94"/><path d="M162.5,573.1 L208.8,577.6 Q206.3,592.6 200.8,612.1Z" fill="#f5b824"/><path d="M208.8,577.6 L239.1,573.1 L200.8,612.1 Q206.3,592.6 208.8,577.6Z" fill="#f9dc94"/><path d="M162.5,573.1 L200.8,534.1 L239.1,573.1 L200.8,612.1Z M200.8,534.1 Q206.3,555.6 208.8,577.6 Q206.3,592.6 200.8,612.1 M162.5,573.1 L208.8,577.6 L239.1,573.1" fill="none" stroke="#7a5a10" stroke-width="1.1" stroke-opacity="0.85" stroke-linejoin="round"/>
<path d="M239.0,573.1 L277.3,534.1 Q282.8,555.6 285.3,577.6Z" fill="#4cb7c6"/><path d="M277.3,534.1 L315.6,573.1 L285.3,577.6 Q282.8,555.6 277.3,534.1Z" fill="#98d3e9"/><path d="M239.0,573.1 L285.3,577.6 Q282.8,592.6 277.3,612.1Z" fill="#4cb7c6"/><path d="M285.3,577.6 L315.6,573.1 L277.3,612.1 Q282.8,592.6 285.3,577.6Z" fill="#98d3e9"/><path d="M239.0,573.1 L277.3,534.1 L315.6,573.1 L277.3,612.1Z M277.3,534.1 Q282.8,555.6 285.3,577.6 Q282.8,592.6 277.3,612.1 M239.0,573.1 L285.3,577.6 L315.6,573.1" fill="none" stroke="#1f5a68" stroke-width="1.1" stroke-opacity="0.85" stroke-linejoin="round"/>
<path d="M315.5,573.1 L353.8,534.1 Q359.3,555.6 361.8,577.6Z" fill="#4cb7c6"/><path d="M353.8,534.1 L392.1,573.1 L361.8,577.6 Q359.3,555.6 353.8,534.1Z" fill="#98d3e9"/><path d="M315.5,573.1 L361.8,577.6 Q359.3,592.6 353.8,612.1Z" fill="#4cb7c6"/><path d="M361.8,577.6 L392.1,573.1 L353.8,612.1 Q359.3,592.6 361.8,577.6Z" fill="#98d3e9"/><path d="M315.5,573.1 L353.8,534.1 L392.1,573.1 L353.8,612.1Z M353.8,534.1 Q359.3,555.6 361.8,577.6 Q359.3,592.6 353.8,612.1 M315.5,573.1 L361.8,577.6 L392.1,573.1" fill="none" stroke="#1f5a68" stroke-width="1.1" stroke-opacity="0.85" stroke-linejoin="round"/>
<path d="M392.0,573.1 L430.3,534.1 Q435.8,555.6 438.3,577.6Z" fill="#4cb7c6"/><path d="M430.3,534.1 L468.6,573.1 L438.3,577.6 Q435.8,555.6 430.3,534.1Z" fill="#98d3e9"/><path d="M392.0,573.1 L438.3,577.6 Q435.8,592.6 430.3,612.1Z" fill="#4cb7c6"/><path d="M438.3,577.6 L468.6,573.1 L430.3,612.1 Q435.8,592.6 438.3,577.6Z" fill="#98d3e9"/><path d="M392.0,573.1 L430.3,534.1 L468.6,573.1 L430.3,612.1Z M430.3,534.1 Q435.8,555.6 438.3,577.6 Q435.8,592.6 430.3,612.1 M392.0,573.1 L438.3,577.6 L468.6,573.1" fill="none" stroke="#1f5a68" stroke-width="1.1" stroke-opacity="0.85" stroke-linejoin="round"/>
<path d="M468.5,573.1 L506.8,534.1 Q512.3,555.6 514.8,577.6Z" fill="#4cb7c6"/><path d="M506.8,534.1 L545.1,573.1 L514.8,577.6 Q512.3,555.6 506.8,534.1Z" fill="#98d3e9"/><path d="M468.5,573.1 L514.8,577.6 Q512.3,592.6 506.8,612.1Z" fill="#4cb7c6"/><path d="M514.8,577.6 L545.1,573.1 L506.8,612.1 Q512.3,592.6 514.8,577.6Z" fill="#98d3e9"/><path d="M468.5,573.1 L506.8,534.1 L545.1,573.1 L506.8,612.1Z M506.8,534.1 Q512.3,555.6 514.8,577.6 Q512.3,592.6 506.8,612.1 M468.5,573.1 L514.8,577.6 L545.1,573.1" fill="none" stroke="#1f5a68" stroke-width="1.1" stroke-opacity="0.85" stroke-linejoin="round"/>
<path d="M545.0,573.1 L583.3,534.1 Q588.8,555.6 591.3,577.6Z" fill="#4cb7c6"/><path d="M583.3,534.1 L621.6,573.1 L591.3,577.6 Q588.8,555.6 583.3,534.1Z" fill="#98d3e9"/><path d="M545.0,573.1 L591.3,577.6 Q588.8,592.6 583.3,612.1Z" fill="#4cb7c6"/><path d="M591.3,577.6 L621.6,573.1 L583.3,612.1 Q588.8,592.6 591.3,577.6Z" fill="#98d3e9"/><path d="M545.0,573.1 L583.3,534.1 L621.6,573.1 L583.3,612.1Z M583.3,534.1 Q588.8,555.6 591.3,577.6 Q588.8,592.6 583.3,612.1 M545.0,573.1 L591.3,577.6 L621.6,573.1" fill="none" stroke="#1f5a68" stroke-width="1.1" stroke-opacity="0.85" stroke-linejoin="round"/>
<path d="M621.5,573.1 L659.8,534.1 Q665.3,555.6 667.8,577.6Z" fill="#4cb7c6"/><path d="M659.8,534.1 L698.1,573.1 L667.8,577.6 Q665.3,555.6 659.8,534.1Z" fill="#98d3e9"/><path d="M621.5,573.1 L667.8,577.6 Q665.3,592.6 659.8,612.1Z" fill="#4cb7c6"/><path d="M667.8,577.6 L698.1,573.1 L659.8,612.1 Q665.3,592.6 667.8,577.6Z" fill="#98d3e9"/><path d="M621.5,573.1 L659.8,534.1 L698.1,573.1 L659.8,612.1Z M659.8,534.1 Q665.3,555.6 667.8,577.6 Q665.3,592.6 659.8,612.1 M621.5,573.1 L667.8,577.6 L698.1,573.1" fill="none" stroke="#1f5a68" stroke-width="1.1" stroke-opacity="0.85" stroke-linejoin="round"/>
<path d="M698.0,573.1 L736.3,534.1 Q741.8,555.6 744.3,577.6Z" fill="#4cb7c6"/><path d="M736.3,534.1 L774.6,573.1 L744.3,577.6 Q741.8,555.6 736.3,534.1Z" fill="#98d3e9"/><path d="M698.0,573.1 L744.3,577.6 Q741.8,592.6 736.3,612.1Z" fill="#4cb7c6"/><path d="M744.3,577.6 L774.6,573.1 L736.3,612.1 Q741.8,592.6 744.3,577.6Z" fill="#98d3e9"/><path d="M698.0,573.1 L736.3,534.1 L774.6,573.1 L736.3,612.1Z M736.3,534.1 Q741.8,555.6 744.3,577.6 Q741.8,592.6 736.3,612.1 M698.0,573.1 L744.3,577.6 L774.6,573.1" fill="none" stroke="#1f5a68" stroke-width="1.1" stroke-opacity="0.85" stroke-linejoin="round"/>
<path d="M162.5,650.8 L200.8,611.8 Q206.3,633.3 208.8,655.3Z" fill="#4cb7c6"/><path d="M200.8,611.8 L239.1,650.8 L208.8,655.3 Q206.3,633.3 200.8,611.8Z" fill="#98d3e9"/><path d="M162.5,650.8 L208.8,655.3 Q206.3,670.3 200.8,689.8Z" fill="#4cb7c6"/><path d="M208.8,655.3 L239.1,650.8 L200.8,689.8 Q206.3,670.3 208.8,655.3Z" fill="#98d3e9"/><path d="M162.5,650.8 L200.8,611.8 L239.1,650.8 L200.8,689.8Z M200.8,611.8 Q206.3,633.3 208.8,655.3 Q206.3,670.3 200.8,689.8 M162.5,650.8 L208.8,655.3 L239.1,650.8" fill="none" stroke="#1f5a68" stroke-width="1.1" stroke-opacity="0.85" stroke-linejoin="round"/>
<path d="M239.0,650.8 L277.3,611.8 Q282.8,633.3 285.3,655.3Z" fill="#4cb7c6"/><path d="M277.3,611.8 L315.6,650.8 L285.3,655.3 Q282.8,633.3 277.3,611.8Z" fill="#98d3e9"/><path d="M239.0,650.8 L285.3,655.3 Q282.8,670.3 277.3,689.8Z" fill="#4cb7c6"/><path d="M285.3,655.3 L315.6,650.8 L277.3,689.8 Q282.8,670.3 285.3,655.3Z" fill="#98d3e9"/><path d="M239.0,650.8 L277.3,611.8 L315.6,650.8 L277.3,689.8Z M277.3,611.8 Q282.8,633.3 285.3,655.3 Q282.8,670.3 277.3,689.8 M239.0,650.8 L285.3,655.3 L315.6,650.8" fill="none" stroke="#1f5a68" stroke-width="1.1" stroke-opacity="0.85" stroke-linejoin="round"/>
<path d="M315.5,650.8 L353.8,611.8 Q359.3,633.3 361.8,655.3Z" fill="#f5b824"/><path d="M353.8,611.8 L392.1,650.8 L361.8,655.3 Q359.3,633.3 353.8,611.8Z" fill="#f9dc94"/><path d="M315.5,650.8 L361.8,655.3 Q359.3,670.3 353.8,689.8Z" fill="#f5b824"/><path d="M361.8,655.3 L392.1,650.8 L353.8,689.8 Q359.3,670.3 361.8,655.3Z" fill="#f9dc94"/><path d="M315.5,650.8 L353.8,611.8 L392.1,650.8 L353.8,689.8Z M353.8,611.8 Q359.3,633.3 361.8,655.3 Q359.3,670.3 353.8,689.8 M315.5,650.8 L361.8,655.3 L392.1,650.8" fill="none" stroke="#7a5a10" stroke-width="1.1" stroke-opacity="0.85" stroke-linejoin="round"/>
<path d="M392.0,650.8 L430.3,611.8 Q435.8,633.3 438.3,655.3Z" fill="#4cb7c6"/><path d="M430.3,611.8 L468.6,650.8 L438.3,655.3 Q435.8,633.3 430.3,611.8Z" fill="#98d3e9"/><path d="M392.0,650.8 L438.3,655.3 Q435.8,670.3 430.3,689.8Z" fill="#4cb7c6"/><path d="M438.3,655.3 L468.6,650.8 L430.3,689.8 Q435.8,670.3 438.3,655.3Z" fill="#98d3e9"/><path d="M392.0,650.8 L430.3,611.8 L468.6,650.8 L430.3,689.8Z M430.3,611.8 Q435.8,633.3 438.3,655.3 Q435.8,670.3 430.3,689.8 M392.0,650.8 L438.3,655.3 L468.6,650.8" fill="none" stroke="#1f5a68" stroke-width="1.1" stroke-opacity="0.85" stroke-linejoin="round"/>
<path d="M468.5,650.8 L506.8,611.8 Q512.3,633.3 514.8,655.3Z" fill="#4cb7c6"/><path d="M506.8,611.8 L545.1,650.8 L514.8,655.3 Q512.3,633.3 506.8,611.8Z" fill="#98d3e9"/><path d="M468.5,650.8 L514.8,655.3 Q512.3,670.3 506.8,689.8Z" fill="#4cb7c6"/><path d="M514.8,655.3 L545.1,650.8 L506.8,689.8 Q512.3,670.3 514.8,655.3Z" fill="#98d3e9"/><path d="M468.5,650.8 L506.8,611.8 L545.1,650.8 L506.8,689.8Z M506.8,611.8 Q512.3,633.3 514.8,655.3 Q512.3,670.3 506.8,689.8 M468.5,650.8 L514.8,655.3 L545.1,650.8" fill="none" stroke="#1f5a68" stroke-width="1.1" stroke-opacity="0.85" stroke-linejoin="round"/>
<path d="M545.0,650.8 L583.3,611.8 Q588.8,633.3 591.3,655.3Z" fill="#f5b824"/><path d="M583.3,611.8 L621.6,650.8 L591.3,655.3 Q588.8,633.3 583.3,611.8Z" fill="#f9dc94"/><path d="M545.0,650.8 L591.3,655.3 Q588.8,670.3 583.3,689.8Z" fill="#f5b824"/><path d="M591.3,655.3 L621.6,650.8 L583.3,689.8 Q588.8,670.3 591.3,655.3Z" fill="#f9dc94"/><path d="M545.0,650.8 L583.3,611.8 L621.6,650.8 L583.3,689.8Z M583.3,611.8 Q588.8,633.3 591.3,655.3 Q588.8,670.3 583.3,689.8 M545.0,650.8 L591.3,655.3 L621.6,650.8" fill="none" stroke="#7a5a10" stroke-width="1.1" stroke-opacity="0.85" stroke-linejoin="round"/>
<path d="M621.5,650.8 L659.8,611.8 Q665.3,633.3 667.8,655.3Z" fill="#4cb7c6"/><path d="M659.8,611.8 L698.1,650.8 L667.8,655.3 Q665.3,633.3 659.8,611.8Z" fill="#98d3e9"/><path d="M621.5,650.8 L667.8,655.3 Q665.3,670.3 659.8,689.8Z" fill="#4cb7c6"/><path d="M667.8,655.3 L698.1,650.8 L659.8,689.8 Q665.3,670.3 667.8,655.3Z" fill="#98d3e9"/><path d="M621.5,650.8 L659.8,611.8 L698.1,650.8 L659.8,689.8Z M659.8,611.8 Q665.3,633.3 667.8,655.3 Q665.3,670.3 659.8,689.8 M621.5,650.8 L667.8,655.3 L698.1,650.8" fill="none" stroke="#1f5a68" stroke-width="1.1" stroke-opacity="0.85" stroke-linejoin="round"/>
<path d="M698.0,650.8 L736.3,611.8 Q741.8,633.3 744.3,655.3Z" fill="#4cb7c6"/><path d="M736.3,611.8 L774.6,650.8 L744.3,655.3 Q741.8,633.3 736.3,611.8Z" fill="#98d3e9"/><path d="M698.0,650.8 L744.3,655.3 Q741.8,670.3 736.3,689.8Z" fill="#4cb7c6"/><path d="M744.3,655.3 L774.6,650.8 L736.3,689.8 Q741.8,670.3 744.3,655.3Z" fill="#98d3e9"/><path d="M698.0,650.8 L736.3,611.8 L774.6,650.8 L736.3,689.8Z M736.3,611.8 Q741.8,633.3 744.3,655.3 Q741.8,670.3 736.3,689.8 M698.0,650.8 L744.3,655.3 L774.6,650.8" fill="none" stroke="#1f5a68" stroke-width="1.1" stroke-opacity="0.85" stroke-linejoin="round"/>
<circle cx="239.1" cy="223.4" r="17.2" fill="url(#gG)" stroke="#2d6b3a" stroke-width="1"/>
<circle cx="315.6" cy="223.4" r="17.2" fill="url(#gR)" stroke="#9a3a3a" stroke-width="1"/>
<circle cx="392.1" cy="223.4" r="17.2" fill="url(#gG)" stroke="#2d6b3a" stroke-width="1"/>
<circle cx="468.6" cy="223.4" r="17.2" fill="url(#gR)" stroke="#9a3a3a" stroke-width="1"/>
<circle cx="545.0" cy="223.4" r="17.2" fill="url(#gG)" stroke="#2d6b3a" stroke-width="1"/>
<circle cx="621.5" cy="223.4" r="17.2" fill="url(#gR)" stroke="#9a3a3a" stroke-width="1"/>
<circle cx="698.0" cy="223.4" r="17.2" fill="url(#gG)" stroke="#2d6b3a" stroke-width="1"/>
<circle cx="239.1" cy="301.1" r="17.2" fill="url(#gR)" stroke="#9a3a3a" stroke-width="1"/>
<circle cx="315.6" cy="301.1" r="17.2" fill="url(#gG)" stroke="#2d6b3a" stroke-width="1"/>
<circle cx="392.1" cy="301.1" r="17.2" fill="url(#gR)" stroke="#9a3a3a" stroke-width="1"/>
<circle cx="468.6" cy="301.1" r="17.2" fill="url(#gG)" stroke="#2d6b3a" stroke-width="1"/>
<circle cx="545.0" cy="301.1" r="17.2" fill="url(#gR)" stroke="#9a3a3a" stroke-width="1"/>
<circle cx="621.5" cy="301.1" r="17.2" fill="url(#gG)" stroke="#2d6b3a" stroke-width="1"/>
<circle cx="698.0" cy="301.1" r="17.2" fill="url(#gR)" stroke="#9a3a3a" stroke-width="1"/>
<circle cx="239.1" cy="378.9" r="17.2" fill="url(#gG)" stroke="#2d6b3a" stroke-width="1"/>
<circle cx="315.6" cy="378.9" r="14" fill="url(#gK)" stroke="#222" stroke-width="1"/>
<circle cx="392.1" cy="378.9" r="17.2" fill="url(#gG)" stroke="#2d6b3a" stroke-width="1"/>
<circle cx="468.6" cy="378.9" r="17.2" fill="url(#gR)" stroke="#9a3a3a" stroke-width="1"/>
<circle cx="545.0" cy="378.9" r="17.2" fill="url(#gG)" stroke="#2d6b3a" stroke-width="1"/>
<circle cx="621.5" cy="378.9" r="17.2" fill="url(#gR)" stroke="#9a3a3a" stroke-width="1"/>
<circle cx="698.0" cy="378.9" r="17.2" fill="url(#gG)" stroke="#2d6b3a" stroke-width="1"/>
<circle cx="239.1" cy="456.6" r="17.2" fill="url(#gR)" stroke="#9a3a3a" stroke-width="1"/>
<circle cx="315.6" cy="456.6" r="17.2" fill="url(#gG)" stroke="#2d6b3a" stroke-width="1"/>
<circle cx="392.1" cy="456.6" r="17.2" fill="url(#gR)" stroke="#9a3a3a" stroke-width="1"/>
<circle cx="468.6" cy="456.6" r="17.2" fill="url(#gG)" stroke="#2d6b3a" stroke-width="1"/>
<circle cx="545.0" cy="456.6" r="17.2" fill="url(#gR)" stroke="#9a3a3a" stroke-width="1"/>
<circle cx="621.5" cy="456.6" r="14" fill="url(#gK)" stroke="#222" stroke-width="1"/>
<circle cx="698.0" cy="456.6" r="17.2" fill="url(#gR)" stroke="#9a3a3a" stroke-width="1"/>
<circle cx="239.1" cy="534.2" r="17.2" fill="url(#gG)" stroke="#2d6b3a" stroke-width="1"/>
<circle cx="315.6" cy="534.2" r="17.2" fill="url(#gR)" stroke="#9a3a3a" stroke-width="1"/>
<circle cx="392.1" cy="534.2" r="17.2" fill="url(#gG)" stroke="#2d6b3a" stroke-width="1"/>
<circle cx="468.6" cy="534.2" r="17.2" fill="url(#gR)" stroke="#9a3a3a" stroke-width="1"/>
<circle cx="545.0" cy="534.2" r="17.2" fill="url(#gG)" stroke="#2d6b3a" stroke-width="1"/>
<circle cx="621.5" cy="534.2" r="17.2" fill="url(#gR)" stroke="#9a3a3a" stroke-width="1"/>
<circle cx="698.0" cy="534.2" r="17.2" fill="url(#gG)" stroke="#2d6b3a" stroke-width="1"/>
<circle cx="239.1" cy="612.0" r="17.2" fill="url(#gR)" stroke="#9a3a3a" stroke-width="1"/>
<circle cx="315.6" cy="612.0" r="14" fill="url(#gK)" stroke="#222" stroke-width="1"/>
<circle cx="392.1" cy="612.0" r="17.2" fill="url(#gR)" stroke="#9a3a3a" stroke-width="1"/>
<circle cx="468.6" cy="612.0" r="17.2" fill="url(#gG)" stroke="#2d6b3a" stroke-width="1"/>
<circle cx="545.0" cy="612.0" r="17.2" fill="url(#gR)" stroke="#9a3a3a" stroke-width="1"/>
<circle cx="621.5" cy="612.0" r="17.2" fill="url(#gG)" stroke="#2d6b3a" stroke-width="1"/>
<circle cx="698.0" cy="612.0" r="17.2" fill="url(#gR)" stroke="#9a3a3a" stroke-width="1"/>
</g>
<g transform="rotate(0.35 1309.7 184.4)">
<path d="M1271.4,184.4 L1309.7,145.4 Q1315.2,166.8 1317.7,188.9Z" fill="#4cb7c6"/><path d="M1309.7,145.4 L1348.0,184.4 L1317.7,188.9 Q1315.2,166.8 1309.7,145.4Z" fill="#98d3e9"/><path d="M1271.4,184.4 L1317.7,188.9 Q1315.2,203.9 1309.7,223.4Z" fill="#4cb7c6"/><path d="M1317.7,188.9 L1348.0,184.4 L1309.7,223.4 Q1315.2,203.9 1317.7,188.9Z" fill="#98d3e9"/><path d="M1271.4,184.4 L1309.7,145.4 L1348.0,184.4 L1309.7,223.4Z M1309.7,145.4 Q1315.2,166.8 1317.7,188.9 Q1315.2,203.9 1309.7,223.4 M1271.4,184.4 L1317.7,188.9 L1348.0,184.4" fill="none" stroke="#1f5a68" stroke-width="1.1" stroke-opacity="0.85" stroke-linejoin="round"/>
<path d="M1347.9,184.4 L1386.2,145.4 Q1391.7,166.8 1394.2,188.9Z" fill="#4cb7c6"/><path d="M1386.2,145.4 L1424.5,184.4 L1394.2,188.9 Q1391.7,166.8 1386.2,145.4Z" fill="#98d3e9"/><path d="M1347.9,184.4 L1394.2,188.9 Q1391.7,203.9 1386.2,223.4Z" fill="#4cb7c6"/><path d="M1394.2,188.9 L1424.5,184.4 L1386.2,223.4 Q1391.7,203.9 1394.2,188.9Z" fill="#98d3e9"/><path d="M1347.9,184.4 L1386.2,145.4 L1424.5,184.4 L1386.2,223.4Z M1386.2,145.4 Q1391.7,166.8 1394.2,188.9 Q1391.7,203.9 1386.2,223.4 M1347.9,184.4 L1394.2,188.9 L1424.5,184.4" fill="none" stroke="#1f5a68" stroke-width="1.1" stroke-opacity="0.85" stroke-linejoin="round"/>
<path d="M1424.4,184.4 L1462.7,145.4 Q1468.2,166.8 1470.7,188.9Z" fill="#4cb7c6"/><path d="M1462.7,145.4 L1501.0,184.4 L1470.7,188.9 Q1468.2,166.8 1462.7,145.4Z" fill="#98d3e9"/><path d="M1424.4,184.4 L1470.7,188.9 Q1468.2,203.9 1462.7,223.4Z" fill="#4cb7c6"/><path d="M1470.7,188.9 L1501.0,184.4 L1462.7,223.4 Q1468.2,203.9 1470.7,188.9Z" fill="#98d3e9"/><path d="M1424.4,184.4 L1462.7,145.4 L1501.0,184.4 L1462.7,223.4Z M1462.7,145.4 Q1468.2,166.8 1470.7,188.9 Q1468.2,203.9 1462.7,223.4 M1424.4,184.4 L1470.7,188.9 L1501.0,184.4" fill="none" stroke="#1f5a68" stroke-width="1.1" stroke-opacity="0.85" stroke-linejoin="round"/>
<path d="M1500.9,184.4 L1539.2,145.4 Q1544.7,166.8 1547.2,188.9Z" fill="#4cb7c6"/><path d="M1539.2,145.4 L1577.5,184.4 L1547.2,188.9 Q1544.7,166.8 1539.2,145.4Z" fill="#98d3e9"/><path d="M1500.9,184.4 L1547.2,188.9 Q1544.7,203.9 1539.2,223.4Z" fill="#4cb7c6"/><path d="M1547.2,188.9 L1577.5,184.4 L1539.2,223.4 Q1544.7,203.9 1547.2,188.9Z" fill="#98d3e9"/><path d="M1500.9,184.4 L1539.2,145.4 L1577.5,184.4 L1539.2,223.4Z M1539.2,145.4 Q1544.7,166.8 1547.2,188.9 Q1544.7,203.9 1539.2,223.4 M1500.9,184.4 L1547.2,188.9 L1577.5,184.4" fill="none" stroke="#1f5a68" stroke-width="1.1" stroke-opacity="0.85" stroke-linejoin="round"/>
<path d="M1577.4,184.4 L1615.7,145.4 Q1621.2,166.8 1623.7,188.9Z" fill="#4cb7c6"/><path d="M1615.7,145.4 L1654.0,184.4 L1623.7,188.9 Q1621.2,166.8 1615.7,145.4Z" fill="#98d3e9"/><path d="M1577.4,184.4 L1623.7,188.9 Q1621.2,203.9 1615.7,223.4Z" fill="#4cb7c6"/><path d="M1623.7,188.9 L1654.0,184.4 L1615.7,223.4 Q1621.2,203.9 1623.7,188.9Z" fill="#98d3e9"/><path d="M1577.4,184.4 L1615.7,145.4 L1654.0,184.4 L1615.7,223.4Z M1615.7,145.4 Q1621.2,166.8 1623.7,188.9 Q1621.2,203.9 1615.7,223.4 M1577.4,184.4 L1623.7,188.9 L1654.0,184.4" fill="none" stroke="#1f5a68" stroke-width="1.1" stroke-opacity="0.85" stroke-linejoin="round"/>
<path d="M1653.9,184.4 L1692.2,145.4 Q1697.7,166.8 1700.2,188.9Z" fill="#4cb7c6"/><path d="M1692.2,145.4 L1730.5,184.4 L1700.2,188.9 Q1697.7,166.8 1692.2,145.4Z" fill="#98d3e9"/><path d="M1653.9,184.4 L1700.2,188.9 Q1697.7,203.9 1692.2,223.4Z" fill="#4cb7c6"/><path d="M1700.2,188.9 L1730.5,184.4 L1692.2,223.4 Q1697.7,203.9 1700.2,188.9Z" fill="#98d3e9"/><path d="M1653.9,184.4 L1692.2,145.4 L1730.5,184.4 L1692.2,223.4Z M1692.2,145.4 Q1697.7,166.8 1700.2,188.9 Q1697.7,203.9 1692.2,223.4 M1653.9,184.4 L1700.2,188.9 L1730.5,184.4" fill="none" stroke="#1f5a68" stroke-width="1.1" stroke-opacity="0.85" stroke-linejoin="round"/>
<path d="M1730.4,184.4 L1768.7,145.4 Q1774.2,166.8 1776.7,188.9Z" fill="#4cb7c6"/><path d="M1768.7,145.4 L1807.0,184.4 L1776.7,188.9 Q1774.2,166.8 1768.7,145.4Z" fill="#98d3e9"/><path d="M1730.4,184.4 L1776.7,188.9 Q1774.2,203.9 1768.7,223.4Z" fill="#4cb7c6"/><path d="M1776.7,188.9 L1807.0,184.4 L1768.7,223.4 Q1774.2,203.9 1776.7,188.9Z" fill="#98d3e9"/><path d="M1730.4,184.4 L1768.7,145.4 L1807.0,184.4 L1768.7,223.4Z M1768.7,145.4 Q1774.2,166.8 1776.7,188.9 Q1774.2,203.9 1768.7,223.4 M1730.4,184.4 L1776.7,188.9 L1807.0,184.4" fill="none" stroke="#1f5a68" stroke-width="1.1" stroke-opacity="0.85" stroke-linejoin="round"/>
<path d="M1806.9,184.4 L1845.2,145.4 Q1850.7,166.8 1853.2,188.9Z" fill="#4cb7c6"/><path d="M1845.2,145.4 L1883.5,184.4 L1853.2,188.9 Q1850.7,166.8 1845.2,145.4Z" fill="#98d3e9"/><path d="M1806.9,184.4 L1853.2,188.9 Q1850.7,203.9 1845.2,223.4Z" fill="#4cb7c6"/><path d="M1853.2,188.9 L1883.5,184.4 L1845.2,223.4 Q1850.7,203.9 1853.2,188.9Z" fill="#98d3e9"/><path d="M1806.9,184.4 L1845.2,145.4 L1883.5,184.4 L1845.2,223.4Z M1845.2,145.4 Q1850.7,166.8 1853.2,188.9 Q1850.7,203.9 1845.2,223.4 M1806.9,184.4 L1853.2,188.9 L1883.5,184.4" fill="none" stroke="#1f5a68" stroke-width="1.1" stroke-opacity="0.85" stroke-linejoin="round"/>
<path d="M1271.4,262.1 L1309.7,223.1 Q1315.2,244.6 1317.7,266.6Z" fill="#4cb7c6"/><path d="M1309.7,223.1 L1348.0,262.1 L1317.7,266.6 Q1315.2,244.6 1309.7,223.1Z" fill="#98d3e9"/><path d="M1271.4,262.1 L1317.7,266.6 Q1315.2,281.6 1309.7,301.1Z" fill="#4cb7c6"/><path d="M1317.7,266.6 L1348.0,262.1 L1309.7,301.1 Q1315.2,281.6 1317.7,266.6Z" fill="#98d3e9"/><path d="M1271.4,262.1 L1309.7,223.1 L1348.0,262.1 L1309.7,301.1Z M1309.7,223.1 Q1315.2,244.6 1317.7,266.6 Q1315.2,281.6 1309.7,301.1 M1271.4,262.1 L1317.7,266.6 L1348.0,262.1" fill="none" stroke="#1f5a68" stroke-width="1.1" stroke-opacity="0.85" stroke-linejoin="round"/>
<path d="M1347.9,262.1 L1386.2,223.1 Q1391.7,244.6 1394.2,266.6Z" fill="#4cb7c6"/><path d="M1386.2,223.1 L1424.5,262.1 L1394.2,266.6 Q1391.7,244.6 1386.2,223.1Z" fill="#98d3e9"/><path d="M1347.9,262.1 L1394.2,266.6 Q1391.7,281.6 1386.2,301.1Z" fill="#4cb7c6"/><path d="M1394.2,266.6 L1424.5,262.1 L1386.2,301.1 Q1391.7,281.6 1394.2,266.6Z" fill="#98d3e9"/><path d="M1347.9,262.1 L1386.2,223.1 L1424.5,262.1 L1386.2,301.1Z M1386.2,223.1 Q1391.7,244.6 1394.2,266.6 Q1391.7,281.6 1386.2,301.1 M1347.9,262.1 L1394.2,266.6 L1424.5,262.1" fill="none" stroke="#1f5a68" stroke-width="1.1" stroke-opacity="0.85" stroke-linejoin="round"/>
<path d="M1424.4,262.1 L1462.7,223.1 Q1468.2,244.6 1470.7,266.6Z" fill="#4cb7c6"/><path d="M1462.7,223.1 L1501.0,262.1 L1470.7,266.6 Q1468.2,244.6 1462.7,223.1Z" fill="#98d3e9"/><path d="M1424.4,262.1 L1470.7,266.6 Q1468.2,281.6 1462.7,301.1Z" fill="#4cb7c6"/><path d="M1470.7,266.6 L1501.0,262.1 L1462.7,301.1 Q1468.2,281.6 1470.7,266.6Z" fill="#98d3e9"/><path d="M1424.4,262.1 L1462.7,223.1 L1501.0,262.1 L1462.7,301.1Z M1462.7,223.1 Q1468.2,244.6 1470.7,266.6 Q1468.2,281.6 1462.7,301.1 M1424.4,262.1 L1470.7,266.6 L1501.0,262.1" fill="none" stroke="#1f5a68" stroke-width="1.1" stroke-opacity="0.85" stroke-linejoin="round"/>
<path d="M1500.9,262.1 L1539.2,223.1 Q1544.7,244.6 1547.2,266.6Z" fill="#4cb7c6"/><path d="M1539.2,223.1 L1577.5,262.1 L1547.2,266.6 Q1544.7,244.6 1539.2,223.1Z" fill="#98d3e9"/><path d="M1500.9,262.1 L1547.2,266.6 Q1544.7,281.6 1539.2,301.1Z" fill="#4cb7c6"/><path d="M1547.2,266.6 L1577.5,262.1 L1539.2,301.1 Q1544.7,281.6 1547.2,266.6Z" fill="#98d3e9"/><path d="M1500.9,262.1 L1539.2,223.1 L1577.5,262.1 L1539.2,301.1Z M1539.2,223.1 Q1544.7,244.6 1547.2,266.6 Q1544.7,281.6 1539.2,301.1 M1500.9,262.1 L1547.2,266.6 L1577.5,262.1" fill="none" stroke="#1f5a68" stroke-width="1.1" stroke-opacity="0.85" stroke-linejoin="round"/>
<path d="M1577.4,262.1 L1615.7,223.1 Q1621.2,244.6 1623.7,266.6Z" fill="#4cb7c6"/><path d="M1615.7,223.1 L1654.0,262.1 L1623.7,266.6 Q1621.2,244.6 1615.7,223.1Z" fill="#98d3e9"/><path d="M1577.4,262.1 L1623.7,266.6 Q1621.2,281.6 1615.7,301.1Z" fill="#4cb7c6"/><path d="M1623.7,266.6 L1654.0,262.1 L1615.7,301.1 Q1621.2,281.6 1623.7,266.6Z" fill="#98d3e9"/><path d="M1577.4,262.1 L1615.7,223.1 L1654.0,262.1 L1615.7,301.1Z M1615.7,223.1 Q1621.2,244.6 1623.7,266.6 Q1621.2,281.6 1615.7,301.1 M1577.4,262.1 L1623.7,266.6 L1654.0,262.1" fill="none" stroke="#1f5a68" stroke-width="1.1" stroke-opacity="0.85" stroke-linejoin="round"/>
<path d="M1653.9,262.1 L1692.2,223.1 Q1697.7,244.6 1700.2,266.6Z" fill="#4cb7c6"/><path d="M1692.2,223.1 L1730.5,262.1 L1700.2,266.6 Q1697.7,244.6 1692.2,223.1Z" fill="#98d3e9"/><path d="M1653.9,262.1 L1700.2,266.6 Q1697.7,281.6 1692.2,301.1Z" fill="#4cb7c6"/><path d="M1700.2,266.6 L1730.5,262.1 L1692.2,301.1 Q1697.7,281.6 1700.2,266.6Z" fill="#98d3e9"/><path d="M1653.9,262.1 L1692.2,223.1 L1730.5,262.1 L1692.2,301.1Z M1692.2,223.1 Q1697.7,244.6 1700.2,266.6 Q1697.7,281.6 1692.2,301.1 M1653.9,262.1 L1700.2,266.6 L1730.5,262.1" fill="none" stroke="#1f5a68" stroke-width="1.1" stroke-opacity="0.85" stroke-linejoin="round"/>
<path d="M1730.4,262.1 L1768.7,223.1 Q1774.2,244.6 1776.7,266.6Z" fill="#4cb7c6"/><path d="M1768.7,223.1 L1807.0,262.1 L1776.7,266.6 Q1774.2,244.6 1768.7,223.1Z" fill="#98d3e9"/><path d="M1730.4,262.1 L1776.7,266.6 Q1774.2,281.6 1768.7,301.1Z" fill="#4cb7c6"/><path d="M1776.7,266.6 L1807.0,262.1 L1768.7,301.1 Q1774.2,281.6 1776.7,266.6Z" fill="#98d3e9"/><path d="M1730.4,262.1 L1768.7,223.1 L1807.0,262.1 L1768.7,301.1Z M1768.7,223.1 Q1774.2,244.6 1776.7,266.6 Q1774.2,281.6 1768.7,301.1 M1730.4,262.1 L1776.7,266.6 L1807.0,262.1" fill="none" stroke="#1f5a68" stroke-width="1.1" stroke-opacity="0.85" stroke-linejoin="round"/>
<path d="M1806.9,262.1 L1845.2,223.1 Q1850.7,244.6 1853.2,266.6Z" fill="#4cb7c6"/><path d="M1845.2,223.1 L1883.5,262.1 L1853.2,266.6 Q1850.7,244.6 1845.2,223.1Z" fill="#98d3e9"/><path d="M1806.9,262.1 L1853.2,266.6 Q1850.7,281.6 1845.2,301.1Z" fill="#4cb7c6"/><path d="M1853.2,266.6 L1883.5,262.1 L1845.2,301.1 Q1850.7,281.6 1853.2,266.6Z" fill="#98d3e9"/><path d="M1806.9,262.1 L1845.2,223.1 L1883.5,262.1 L1845.2,301.1Z M1845.2,223.1 Q1850.7,244.6 1853.2,266.6 Q1850.7,281.6 1845.2,301.1 M1806.9,262.1 L1853.2,266.6 L1883.5,262.1" fill="none" stroke="#1f5a68" stroke-width="1.1" stroke-opacity="0.85" stroke-linejoin="round"/>
<path d="M1271.4,339.8 L1309.7,300.8 Q1315.2,322.2 1317.7,344.3Z" fill="#4cb7c6"/><path d="M1309.7,300.8 L1348.0,339.8 L1317.7,344.3 Q1315.2,322.2 1309.7,300.8Z" fill="#98d3e9"/><path d="M1271.4,339.8 L1317.7,344.3 Q1315.2,359.3 1309.7,378.8Z" fill="#4cb7c6"/><path d="M1317.7,344.3 L1348.0,339.8 L1309.7,378.8 Q1315.2,359.3 1317.7,344.3Z" fill="#98d3e9"/><path d="M1271.4,339.8 L1309.7,300.8 L1348.0,339.8 L1309.7,378.8Z M1309.7,300.8 Q1315.2,322.2 1317.7,344.3 Q1315.2,359.3 1309.7,378.8 M1271.4,339.8 L1317.7,344.3 L1348.0,339.8" fill="none" stroke="#1f5a68" stroke-width="1.1" stroke-opacity="0.85" stroke-linejoin="round"/>
<path d="M1347.9,339.8 L1386.2,300.8 Q1391.7,322.2 1394.2,344.3Z" fill="#4cb7c6"/><path d="M1386.2,300.8 L1424.5,339.8 L1394.2,344.3 Q1391.7,322.2 1386.2,300.8Z" fill="#98d3e9"/><path d="M1347.9,339.8 L1394.2,344.3 Q1391.7,359.3 1386.2,378.8Z" fill="#4cb7c6"/><path d="M1394.2,344.3 L1424.5,339.8 L1386.2,378.8 Q1391.7,359.3 1394.2,344.3Z" fill="#98d3e9"/><path d="M1347.9,339.8 L1386.2,300.8 L1424.5,339.8 L1386.2,378.8Z M1386.2,300.8 Q1391.7,322.2 1394.2,344.3 Q1391.7,359.3 1386.2,378.8 M1347.9,339.8 L1394.2,344.3 L1424.5,339.8" fill="none" stroke="#1f5a68" stroke-width="1.1" stroke-opacity="0.85" stroke-linejoin="round"/>
<path d="M1424.4,339.8 L1462.7,300.8 Q1468.2,322.2 1470.7,344.3Z" fill="#4cb7c6"/><path d="M1462.7,300.8 L1501.0,339.8 L1470.7,344.3 Q1468.2,322.2 1462.7,300.8Z" fill="#98d3e9"/><path d="M1424.4,339.8 L1470.7,344.3 Q1468.2,359.3 1462.7,378.8Z" fill="#4cb7c6"/><path d="M1470.7,344.3 L1501.0,339.8 L1462.7,378.8 Q1468.2,359.3 1470.7,344.3Z" fill="#98d3e9"/><path d="M1424.4,339.8 L1462.7,300.8 L1501.0,339.8 L1462.7,378.8Z M1462.7,300.8 Q1468.2,322.2 1470.7,344.3 Q1468.2,359.3 1462.7,378.8 M1424.4,339.8 L1470.7,344.3 L1501.0,339.8" fill="none" stroke="#1f5a68" stroke-width="1.1" stroke-opacity="0.85" stroke-linejoin="round"/>
<path d="M1500.9,339.8 L1539.2,300.8 Q1544.7,322.2 1547.2,344.3Z" fill="#4cb7c6"/><path d="M1539.2,300.8 L1577.5,339.8 L1547.2,344.3 Q1544.7,322.2 1539.2,300.8Z" fill="#98d3e9"/><path d="M1500.9,339.8 L1547.2,344.3 Q1544.7,359.3 1539.2,378.8Z" fill="#4cb7c6"/><path d="M1547.2,344.3 L1577.5,339.8 L1539.2,378.8 Q1544.7,359.3 1547.2,344.3Z" fill="#98d3e9"/><path d="M1500.9,339.8 L1539.2,300.8 L1577.5,339.8 L1539.2,378.8Z M1539.2,300.8 Q1544.7,322.2 1547.2,344.3 Q1544.7,359.3 1539.2,378.8 M1500.9,339.8 L1547.2,344.3 L1577.5,339.8" fill="none" stroke="#1f5a68" stroke-width="1.1" stroke-opacity="0.85" stroke-linejoin="round"/>
<path d="M1577.4,339.8 L1615.7,300.8 Q1621.2,322.2 1623.7,344.3Z" fill="#4cb7c6"/><path d="M1615.7,300.8 L1654.0,339.8 L1623.7,344.3 Q1621.2,322.2 1615.7,300.8Z" fill="#98d3e9"/><path d="M1577.4,339.8 L1623.7,344.3 Q1621.2,359.3 1615.7,378.8Z" fill="#4cb7c6"/><path d="M1623.7,344.3 L1654.0,339.8 L1615.7,378.8 Q1621.2,359.3 1623.7,344.3Z" fill="#98d3e9"/><path d="M1577.4,339.8 L1615.7,300.8 L1654.0,339.8 L1615.7,378.8Z M1615.7,300.8 Q1621.2,322.2 1623.7,344.3 Q1621.2,359.3 1615.7,378.8 M1577.4,339.8 L1623.7,344.3 L1654.0,339.8" fill="none" stroke="#1f5a68" stroke-width="1.1" stroke-opacity="0.85" stroke-linejoin="round"/>
<path d="M1653.9,339.8 L1692.2,300.8 Q1697.7,322.2 1700.2,344.3Z" fill="#4cb7c6"/><path d="M1692.2,300.8 L1730.5,339.8 L1700.2,344.3 Q1697.7,322.2 1692.2,300.8Z" fill="#98d3e9"/><path d="M1653.9,339.8 L1700.2,344.3 Q1697.7,359.3 1692.2,378.8Z" fill="#4cb7c6"/><path d="M1700.2,344.3 L1730.5,339.8 L1692.2,378.8 Q1697.7,359.3 1700.2,344.3Z" fill="#98d3e9"/><path d="M1653.9,339.8 L1692.2,300.8 L1730.5,339.8 L1692.2,378.8Z M1692.2,300.8 Q1697.7,322.2 1700.2,344.3 Q1697.7,359.3 1692.2,378.8 M1653.9,339.8 L1700.2,344.3 L1730.5,339.8" fill="none" stroke="#1f5a68" stroke-width="1.1" stroke-opacity="0.85" stroke-linejoin="round"/>
<path d="M1730.4,339.8 L1768.7,300.8 Q1774.2,322.2 1776.7,344.3Z" fill="#4cb7c6"/><path d="M1768.7,300.8 L1807.0,339.8 L1776.7,344.3 Q1774.2,322.2 1768.7,300.8Z" fill="#98d3e9"/><path d="M1730.4,339.8 L1776.7,344.3 Q1774.2,359.3 1768.7,378.8Z" fill="#4cb7c6"/><path d="M1776.7,344.3 L1807.0,339.8 L1768.7,378.8 Q1774.2,359.3 1776.7,344.3Z" fill="#98d3e9"/><path d="M1730.4,339.8 L1768.7,300.8 L1807.0,339.8 L1768.7,378.8Z M1768.7,300.8 Q1774.2,322.2 1776.7,344.3 Q1774.2,359.3 1768.7,378.8 M1730.4,339.8 L1776.7,344.3 L1807.0,339.8" fill="none" stroke="#1f5a68" stroke-width="1.1" stroke-opacity="0.85" stroke-linejoin="round"/>
<path d="M1806.9,339.8 L1845.2,300.8 Q1850.7,322.2 1853.2,344.3Z" fill="#4cb7c6"/><path d="M1845.2,300.8 L1883.5,339.8 L1853.2,344.3 Q1850.7,322.2 1845.2,300.8Z" fill="#98d3e9"/><path d="M1806.9,339.8 L1853.2,344.3 Q1850.7,359.3 1845.2,378.8Z" fill="#4cb7c6"/><path d="M1853.2,344.3 L1883.5,339.8 L1845.2,378.8 Q1850.7,359.3 1853.2,344.3Z" fill="#98d3e9"/><path d="M1806.9,339.8 L1845.2,300.8 L1883.5,339.8 L1845.2,378.8Z M1845.2,300.8 Q1850.7,322.2 1853.2,344.3 Q1850.7,359.3 1845.2,378.8 M1806.9,339.8 L1853.2,344.3 L1883.5,339.8" fill="none" stroke="#1f5a68" stroke-width="1.1" stroke-opacity="0.85" stroke-linejoin="round"/>
<path d="M1271.4,417.5 L1309.7,378.5 Q1315.2,399.9 1317.7,422.0Z" fill="#4cb7c6"/><path d="M1309.7,378.5 L1348.0,417.5 L1317.7,422.0 Q1315.2,399.9 1309.7,378.5Z" fill="#98d3e9"/><path d="M1271.4,417.5 L1317.7,422.0 Q1315.2,437.0 1309.7,456.5Z" fill="#4cb7c6"/><path d="M1317.7,422.0 L1348.0,417.5 L1309.7,456.5 Q1315.2,437.0 1317.7,422.0Z" fill="#98d3e9"/><path d="M1271.4,417.5 L1309.7,378.5 L1348.0,417.5 L1309.7,456.5Z M1309.7,378.5 Q1315.2,399.9 1317.7,422.0 Q1315.2,437.0 1309.7,456.5 M1271.4,417.5 L1317.7,422.0 L1348.0,417.5" fill="none" stroke="#1f5a68" stroke-width="1.1" stroke-opacity="0.85" stroke-linejoin="round"/>
<path d="M1347.9,417.5 L1386.2,378.5 Q1391.7,399.9 1394.2,422.0Z" fill="#4cb7c6"/><path d="M1386.2,378.5 L1424.5,417.5 L1394.2,422.0 Q1391.7,399.9 1386.2,378.5Z" fill="#98d3e9"/><path d="M1347.9,417.5 L1394.2,422.0 Q1391.7,437.0 1386.2,456.5Z" fill="#4cb7c6"/><path d="M1394.2,422.0 L1424.5,417.5 L1386.2,456.5 Q1391.7,437.0 1394.2,422.0Z" fill="#98d3e9"/><path d="M1347.9,417.5 L1386.2,378.5 L1424.5,417.5 L1386.2,456.5Z M1386.2,378.5 Q1391.7,399.9 1394.2,422.0 Q1391.7,437.0 1386.2,456.5 M1347.9,417.5 L1394.2,422.0 L1424.5,417.5" fill="none" stroke="#1f5a68" stroke-width="1.1" stroke-opacity="0.85" stroke-linejoin="round"/>
<path d="M1424.4,417.5 L1462.7,378.5 Q1468.2,399.9 1470.7,422.0Z" fill="#4cb7c6"/><path d="M1462.7,378.5 L1501.0,417.5 L1470.7,422.0 Q1468.2,399.9 1462.7,378.5Z" fill="#98d3e9"/><path d="M1424.4,417.5 L1470.7,422.0 Q1468.2,437.0 1462.7,456.5Z" fill="#4cb7c6"/><path d="M1470.7,422.0 L1501.0,417.5 L1462.7,456.5 Q1468.2,437.0 1470.7,422.0Z" fill="#98d3e9"/><path d="M1424.4,417.5 L1462.7,378.5 L1501.0,417.5 L1462.7,456.5Z M1462.7,378.5 Q1468.2,399.9 1470.7,422.0 Q1468.2,437.0 1462.7,456.5 M1424.4,417.5 L1470.7,422.0 L1501.0,417.5" fill="none" stroke="#1f5a68" stroke-width="1.1" stroke-opacity="0.85" stroke-linejoin="round"/>
<path d="M1500.9,417.5 L1539.2,378.5 Q1544.7,399.9 1547.2,422.0Z" fill="#4cb7c6"/><path d="M1539.2,378.5 L1577.5,417.5 L1547.2,422.0 Q1544.7,399.9 1539.2,378.5Z" fill="#98d3e9"/><path d="M1500.9,417.5 L1547.2,422.0 Q1544.7,437.0 1539.2,456.5Z" fill="#4cb7c6"/><path d="M1547.2,422.0 L1577.5,417.5 L1539.2,456.5 Q1544.7,437.0 1547.2,422.0Z" fill="#98d3e9"/><path d="M1500.9,417.5 L1539.2,378.5 L1577.5,417.5 L1539.2,456.5Z M1539.2,378.5 Q1544.7,399.9 1547.2,422.0 Q1544.7,437.0 1539.2,456.5 M1500.9,417.5 L1547.2,422.0 L1577.5,417.5" fill="none" stroke="#1f5a68" stroke-width="1.1" stroke-opacity="0.85" stroke-linejoin="round"/>
<path d="M1577.4,417.5 L1615.7,378.5 Q1621.2,399.9 1623.7,422.0Z" fill="#4cb7c6"/><path d="M1615.7,378.5 L1654.0,417.5 L1623.7,422.0 Q1621.2,399.9 1615.7,378.5Z" fill="#98d3e9"/><path d="M1577.4,417.5 L1623.7,422.0 Q1621.2,437.0 1615.7,456.5Z" fill="#4cb7c6"/><path d="M1623.7,422.0 L1654.0,417.5 L1615.7,456.5 Q1621.2,437.0 1623.7,422.0Z" fill="#98d3e9"/><path d="M1577.4,417.5 L1615.7,378.5 L1654.0,417.5 L1615.7,456.5Z M1615.7,378.5 Q1621.2,399.9 1623.7,422.0 Q1621.2,437.0 1615.7,456.5 M1577.4,417.5 L1623.7,422.0 L1654.0,417.5" fill="none" stroke="#1f5a68" stroke-width="1.1" stroke-opacity="0.85" stroke-linejoin="round"/>
<path d="M1653.9,417.5 L1692.2,378.5 Q1697.7,399.9 1700.2,422.0Z" fill="#4cb7c6"/><path d="M1692.2,378.5 L1730.5,417.5 L1700.2,422.0 Q1697.7,399.9 1692.2,378.5Z" fill="#98d3e9"/><path d="M1653.9,417.5 L1700.2,422.0 Q1697.7,437.0 1692.2,456.5Z" fill="#4cb7c6"/><path d="M1700.2,422.0 L1730.5,417.5 L1692.2,456.5 Q1697.7,437.0 1700.2,422.0Z" fill="#98d3e9"/><path d="M1653.9,417.5 L1692.2,378.5 L1730.5,417.5 L1692.2,456.5Z M1692.2,378.5 Q1697.7,399.9 1700.2,422.0 Q1697.7,437.0 1692.2,456.5 M1653.9,417.5 L1700.2,422.0 L1730.5,417.5" fill="none" stroke="#1f5a68" stroke-width="1.1" stroke-opacity="0.85" stroke-linejoin="round"/>
<path d="M1730.4,417.5 L1768.7,378.5 Q1774.2,399.9 1776.7,422.0Z" fill="#6468b4"/><path d="M1768.7,378.5 L1807.0,417.5 L1776.7,422.0 Q1774.2,399.9 1768.7,378.5Z" fill="#a49fd4"/><path d="M1730.4,417.5 L1776.7,422.0 Q1774.2,437.0 1768.7,456.5Z" fill="#6468b4"/><path d="M1776.7,422.0 L1807.0,417.5 L1768.7,456.5 Q1774.2,437.0 1776.7,422.0Z" fill="#a49fd4"/><path d="M1730.4,417.5 L1768.7,378.5 L1807.0,417.5 L1768.7,456.5Z M1768.7,378.5 Q1774.2,399.9 1776.7,422.0 Q1774.2,437.0 1768.7,456.5 M1730.4,417.5 L1776.7,422.0 L1807.0,417.5" fill="none" stroke="#3a3a7a" stroke-width="1.1" stroke-opacity="0.85" stroke-linejoin="round"/>
<path d="M1806.9,417.5 L1845.2,378.5 Q1850.7,399.9 1853.2,422.0Z" fill="#4cb7c6"/><path d="M1845.2,378.5 L1883.5,417.5 L1853.2,422.0 Q1850.7,399.9 1845.2,378.5Z" fill="#98d3e9"/><path d="M1806.9,417.5 L1853.2,422.0 Q1850.7,437.0 1845.2,456.5Z" fill="#4cb7c6"/><path d="M1853.2,422.0 L1883.5,417.5 L1845.2,456.5 Q1850.7,437.0 1853.2,422.0Z" fill="#98d3e9"/><path d="M1806.9,417.5 L1845.2,378.5 L1883.5,417.5 L1845.2,456.5Z M1845.2,378.5 Q1850.7,399.9 1853.2,422.0 Q1850.7,437.0 1845.2,456.5 M1806.9,417.5 L1853.2,422.0 L1883.5,417.5" fill="none" stroke="#1f5a68" stroke-width="1.1" stroke-opacity="0.85" stroke-linejoin="round"/>
<path d="M1271.4,495.2 L1309.7,456.2 Q1315.2,477.7 1317.7,499.7Z" fill="#4cb7c6"/><path d="M1309.7,456.2 L1348.0,495.2 L1317.7,499.7 Q1315.2,477.7 1309.7,456.2Z" fill="#98d3e9"/><path d="M1271.4,495.2 L1317.7,499.7 Q1315.2,514.7 1309.7,534.2Z" fill="#4cb7c6"/><path d="M1317.7,499.7 L1348.0,495.2 L1309.7,534.2 Q1315.2,514.7 1317.7,499.7Z" fill="#98d3e9"/><path d="M1271.4,495.2 L1309.7,456.2 L1348.0,495.2 L1309.7,534.2Z M1309.7,456.2 Q1315.2,477.7 1317.7,499.7 Q1315.2,514.7 1309.7,534.2 M1271.4,495.2 L1317.7,499.7 L1348.0,495.2" fill="none" stroke="#1f5a68" stroke-width="1.1" stroke-opacity="0.85" stroke-linejoin="round"/>
<path d="M1347.9,495.2 L1386.2,456.2 Q1391.7,477.7 1394.2,499.7Z" fill="#6468b4"/><path d="M1386.2,456.2 L1424.5,495.2 L1394.2,499.7 Q1391.7,477.7 1386.2,456.2Z" fill="#a49fd4"/><path d="M1347.9,495.2 L1394.2,499.7 Q1391.7,514.7 1386.2,534.2Z" fill="#6468b4"/><path d="M1394.2,499.7 L1424.5,495.2 L1386.2,534.2 Q1391.7,514.7 1394.2,499.7Z" fill="#a49fd4"/><path d="M1347.9,495.2 L1386.2,456.2 L1424.5,495.2 L1386.2,534.2Z M1386.2,456.2 Q1391.7,477.7 1394.2,499.7 Q1391.7,514.7 1386.2,534.2 M1347.9,495.2 L1394.2,499.7 L1424.5,495.2" fill="none" stroke="#3a3a7a" stroke-width="1.1" stroke-opacity="0.85" stroke-linejoin="round"/>
<path d="M1424.4,495.2 L1462.7,456.2 Q1468.2,477.7 1470.7,499.7Z" fill="#4cb7c6"/><path d="M1462.7,456.2 L1501.0,495.2 L1470.7,499.7 Q1468.2,477.7 1462.7,456.2Z" fill="#98d3e9"/><path d="M1424.4,495.2 L1470.7,499.7 Q1468.2,514.7 1462.7,534.2Z" fill="#4cb7c6"/><path d="M1470.7,499.7 L1501.0,495.2 L1462.7,534.2 Q1468.2,514.7 1470.7,499.7Z" fill="#98d3e9"/><path d="M1424.4,495.2 L1462.7,456.2 L1501.0,495.2 L1462.7,534.2Z M1462.7,456.2 Q1468.2,477.7 1470.7,499.7 Q1468.2,514.7 1462.7,534.2 M1424.4,495.2 L1470.7,499.7 L1501.0,495.2" fill="none" stroke="#1f5a68" stroke-width="1.1" stroke-opacity="0.85" stroke-linejoin="round"/>
<path d="M1500.9,495.2 L1539.2,456.2 Q1544.7,477.7 1547.2,499.7Z" fill="#4cb7c6"/><path d="M1539.2,456.2 L1577.5,495.2 L1547.2,499.7 Q1544.7,477.7 1539.2,456.2Z" fill="#98d3e9"/><path d="M1500.9,495.2 L1547.2,499.7 Q1544.7,514.7 1539.2,534.2Z" fill="#4cb7c6"/><path d="M1547.2,499.7 L1577.5,495.2 L1539.2,534.2 Q1544.7,514.7 1547.2,499.7Z" fill="#98d3e9"/><path d="M1500.9,495.2 L1539.2,456.2 L1577.5,495.2 L1539.2,534.2Z M1539.2,456.2 Q1544.7,477.7 1547.2,499.7 Q1544.7,514.7 1539.2,534.2 M1500.9,495.2 L1547.2,499.7 L1577.5,495.2" fill="none" stroke="#1f5a68" stroke-width="1.1" stroke-opacity="0.85" stroke-linejoin="round"/>
<path d="M1577.4,495.2 L1615.7,456.2 Q1621.2,477.7 1623.7,499.7Z" fill="#4cb7c6"/><path d="M1615.7,456.2 L1654.0,495.2 L1623.7,499.7 Q1621.2,477.7 1615.7,456.2Z" fill="#98d3e9"/><path d="M1577.4,495.2 L1623.7,499.7 Q1621.2,514.7 1615.7,534.2Z" fill="#4cb7c6"/><path d="M1623.7,499.7 L1654.0,495.2 L1615.7,534.2 Q1621.2,514.7 1623.7,499.7Z" fill="#98d3e9"/><path d="M1577.4,495.2 L1615.7,456.2 L1654.0,495.2 L1615.7,534.2Z M1615.7,456.2 Q1621.2,477.7 1623.7,499.7 Q1621.2,514.7 1615.7,534.2 M1577.4,495.2 L1623.7,499.7 L1654.0,495.2" fill="none" stroke="#1f5a68" stroke-width="1.1" stroke-opacity="0.85" stroke-linejoin="round"/>
<path d="M1653.9,495.2 L1692.2,456.2 Q1697.7,477.7 1700.2,499.7Z" fill="#4cb7c6"/><path d="M1692.2,456.2 L1730.5,495.2 L1700.2,499.7 Q1697.7,477.7 1692.2,456.2Z" fill="#98d3e9"/><path d="M1653.9,495.2 L1700.2,499.7 Q1697.7,514.7 1692.2,534.2Z" fill="#4cb7c6"/><path d="M1700.2,499.7 L1730.5,495.2 L1692.2,534.2 Q1697.7,514.7 1700.2,499.7Z" fill="#98d3e9"/><path d="M1653.9,495.2 L1692.2,456.2 L1730.5,495.2 L1692.2,534.2Z M1692.2,456.2 Q1697.7,477.7 1700.2,499.7 Q1697.7,514.7 1692.2,534.2 M1653.9,495.2 L1700.2,499.7 L1730.5,495.2" fill="none" stroke="#1f5a68" stroke-width="1.1" stroke-opacity="0.85" stroke-linejoin="round"/>
<path d="M1730.4,495.2 L1768.7,456.2 Q1774.2,477.7 1776.7,499.7Z" fill="#4cb7c6"/><path d="M1768.7,456.2 L1807.0,495.2 L1776.7,499.7 Q1774.2,477.7 1768.7,456.2Z" fill="#98d3e9"/><path d="M1730.4,495.2 L1776.7,499.7 Q1774.2,514.7 1768.7,534.2Z" fill="#4cb7c6"/><path d="M1776.7,499.7 L1807.0,495.2 L1768.7,534.2 Q1774.2,514.7 1776.7,499.7Z" fill="#98d3e9"/><path d="M1730.4,495.2 L1768.7,456.2 L1807.0,495.2 L1768.7,534.2Z M1768.7,456.2 Q1774.2,477.7 1776.7,499.7 Q1774.2,514.7 1768.7,534.2 M1730.4,495.2 L1776.7,499.7 L1807.0,495.2" fill="none" stroke="#1f5a68" stroke-width="1.1" stroke-opacity="0.85" stroke-linejoin="round"/>
<path d="M1806.9,495.2 L1845.2,456.2 Q1850.7,477.7 1853.2,499.7Z" fill="#4cb7c6"/><path d="M1845.2,456.2 L1883.5,495.2 L1853.2,499.7 Q1850.7,477.7 1845.2,456.2Z" fill="#98d3e9"/><path d="M1806.9,495.2 L1853.2,499.7 Q1850.7,514.7 1845.2,534.2Z" fill="#4cb7c6"/><path d="M1853.2,499.7 L1883.5,495.2 L1845.2,534.2 Q1850.7,514.7 1853.2,499.7Z" fill="#98d3e9"/><path d="M1806.9,495.2 L1845.2,456.2 L1883.5,495.2 L1845.2,534.2Z M1845.2,456.2 Q1850.7,477.7 1853.2,499.7 Q1850.7,514.7 1845.2,534.2 M1806.9,495.2 L1853.2,499.7 L1883.5,495.2" fill="none" stroke="#1f5a68" stroke-width="1.1" stroke-opacity="0.85" stroke-linejoin="round"/>
<path d="M1271.4,572.9 L1309.7,533.9 Q1315.2,555.4 1317.7,577.4Z" fill="#4cb7c6"/><path d="M1309.7,533.9 L1348.0,572.9 L1317.7,577.4 Q1315.2,555.4 1309.7,533.9Z" fill="#98d3e9"/><path d="M1271.4,572.9 L1317.7,577.4 Q1315.2,592.4 1309.7,611.9Z" fill="#4cb7c6"/><path d="M1317.7,577.4 L1348.0,572.9 L1309.7,611.9 Q1315.2,592.4 1317.7,577.4Z" fill="#98d3e9"/><path d="M1271.4,572.9 L1309.7,533.9 L1348.0,572.9 L1309.7,611.9Z M1309.7,533.9 Q1315.2,555.4 1317.7,577.4 Q1315.2,592.4 1309.7,611.9 M1271.4,572.9 L1317.7,577.4 L1348.0,572.9" fill="none" stroke="#1f5a68" stroke-width="1.1" stroke-opacity="0.85" stroke-linejoin="round"/>
<path d="M1347.9,572.9 L1386.2,533.9 Q1391.7,555.4 1394.2,577.4Z" fill="#4cb7c6"/><path d="M1386.2,533.9 L1424.5,572.9 L1394.2,577.4 Q1391.7,555.4 1386.2,533.9Z" fill="#98d3e9"/><path d="M1347.9,572.9 L1394.2,577.4 Q1391.7,592.4 1386.2,611.9Z" fill="#4cb7c6"/><path d="M1394.2,577.4 L1424.5,572.9 L1386.2,611.9 Q1391.7,592.4 1394.2,577.4Z" fill="#98d3e9"/><path d="M1347.9,572.9 L1386.2,533.9 L1424.5,572.9 L1386.2,611.9Z M1386.2,533.9 Q1391.7,555.4 1394.2,577.4 Q1391.7,592.4 1386.2,611.9 M1347.9,572.9 L1394.2,577.4 L1424.5,572.9" fill="none" stroke="#1f5a68" stroke-width="1.1" stroke-opacity="0.85" stroke-linejoin="round"/>
<path d="M1424.4,572.9 L1462.7,533.9 Q1468.2,555.4 1470.7,577.4Z" fill="#4cb7c6"/><path d="M1462.7,533.9 L1501.0,572.9 L1470.7,577.4 Q1468.2,555.4 1462.7,533.9Z" fill="#98d3e9"/><path d="M1424.4,572.9 L1470.7,577.4 Q1468.2,592.4 1462.7,611.9Z" fill="#4cb7c6"/><path d="M1470.7,577.4 L1501.0,572.9 L1462.7,611.9 Q1468.2,592.4 1470.7,577.4Z" fill="#98d3e9"/><path d="M1424.4,572.9 L1462.7,533.9 L1501.0,572.9 L1462.7,611.9Z M1462.7,533.9 Q1468.2,555.4 1470.7,577.4 Q1468.2,592.4 1462.7,611.9 M1424.4,572.9 L1470.7,577.4 L1501.0,572.9" fill="none" stroke="#1f5a68" stroke-width="1.1" stroke-opacity="0.85" stroke-linejoin="round"/>
<path d="M1500.9,572.9 L1539.2,533.9 Q1544.7,555.4 1547.2,577.4Z" fill="#4cb7c6"/><path d="M1539.2,533.9 L1577.5,572.9 L1547.2,577.4 Q1544.7,555.4 1539.2,533.9Z" fill="#98d3e9"/><path d="M1500.9,572.9 L1547.2,577.4 Q1544.7,592.4 1539.2,611.9Z" fill="#4cb7c6"/><path d="M1547.2,577.4 L1577.5,572.9 L1539.2,611.9 Q1544.7,592.4 1547.2,577.4Z" fill="#98d3e9"/><path d="M1500.9,572.9 L1539.2,533.9 L1577.5,572.9 L1539.2,611.9Z M1539.2,533.9 Q1544.7,555.4 1547.2,577.4 Q1544.7,592.4 1539.2,611.9 M1500.9,572.9 L1547.2,577.4 L1577.5,572.9" fill="none" stroke="#1f5a68" stroke-width="1.1" stroke-opacity="0.85" stroke-linejoin="round"/>
<path d="M1577.4,572.9 L1615.7,533.9 Q1621.2,555.4 1623.7,577.4Z" fill="#4cb7c6"/><path d="M1615.7,533.9 L1654.0,572.9 L1623.7,577.4 Q1621.2,555.4 1615.7,533.9Z" fill="#98d3e9"/><path d="M1577.4,572.9 L1623.7,577.4 Q1621.2,592.4 1615.7,611.9Z" fill="#4cb7c6"/><path d="M1623.7,577.4 L1654.0,572.9 L1615.7,611.9 Q1621.2,592.4 1623.7,577.4Z" fill="#98d3e9"/><path d="M1577.4,572.9 L1615.7,533.9 L1654.0,572.9 L1615.7,611.9Z M1615.7,533.9 Q1621.2,555.4 1623.7,577.4 Q1621.2,592.4 1615.7,611.9 M1577.4,572.9 L1623.7,577.4 L1654.0,572.9" fill="none" stroke="#1f5a68" stroke-width="1.1" stroke-opacity="0.85" stroke-linejoin="round"/>
<path d="M1653.9,572.9 L1692.2,533.9 Q1697.7,555.4 1700.2,577.4Z" fill="#4cb7c6"/><path d="M1692.2,533.9 L1730.5,572.9 L1700.2,577.4 Q1697.7,555.4 1692.2,533.9Z" fill="#98d3e9"/><path d="M1653.9,572.9 L1700.2,577.4 Q1697.7,592.4 1692.2,611.9Z" fill="#4cb7c6"/><path d="M1700.2,577.4 L1730.5,572.9 L1692.2,611.9 Q1697.7,592.4 1700.2,577.4Z" fill="#98d3e9"/><path d="M1653.9,572.9 L1692.2,533.9 L1730.5,572.9 L1692.2,611.9Z M1692.2,533.9 Q1697.7,555.4 1700.2,577.4 Q1697.7,592.4 1692.2,611.9 M1653.9,572.9 L1700.2,577.4 L1730.5,572.9" fill="none" stroke="#1f5a68" stroke-width="1.1" stroke-opacity="0.85" stroke-linejoin="round"/>
<path d="M1730.4,572.9 L1768.7,533.9 Q1774.2,555.4 1776.7,577.4Z" fill="#4cb7c6"/><path d="M1768.7,533.9 L1807.0,572.9 L1776.7,577.4 Q1774.2,555.4 1768.7,533.9Z" fill="#98d3e9"/><path d="M1730.4,572.9 L1776.7,577.4 Q1774.2,592.4 1768.7,611.9Z" fill="#4cb7c6"/><path d="M1776.7,577.4 L1807.0,572.9 L1768.7,611.9 Q1774.2,592.4 1776.7,577.4Z" fill="#98d3e9"/><path d="M1730.4,572.9 L1768.7,533.9 L1807.0,572.9 L1768.7,611.9Z M1768.7,533.9 Q1774.2,555.4 1776.7,577.4 Q1774.2,592.4 1768.7,611.9 M1730.4,572.9 L1776.7,577.4 L1807.0,572.9" fill="none" stroke="#1f5a68" stroke-width="1.1" stroke-opacity="0.85" stroke-linejoin="round"/>
<path d="M1806.9,572.9 L1845.2,533.9 Q1850.7,555.4 1853.2,577.4Z" fill="#4cb7c6"/><path d="M1845.2,533.9 L1883.5,572.9 L1853.2,577.4 Q1850.7,555.4 1845.2,533.9Z" fill="#98d3e9"/><path d="M1806.9,572.9 L1853.2,577.4 Q1850.7,592.4 1845.2,611.9Z" fill="#4cb7c6"/><path d="M1853.2,577.4 L1883.5,572.9 L1845.2,611.9 Q1850.7,592.4 1853.2,577.4Z" fill="#98d3e9"/><path d="M1806.9,572.9 L1845.2,533.9 L1883.5,572.9 L1845.2,611.9Z M1845.2,533.9 Q1850.7,555.4 1853.2,577.4 Q1850.7,592.4 1845.2,611.9 M1806.9,572.9 L1853.2,577.4 L1883.5,572.9" fill="none" stroke="#1f5a68" stroke-width="1.1" stroke-opacity="0.85" stroke-linejoin="round"/>
<path d="M1271.4,650.6 L1309.7,611.6 Q1315.2,633.1 1317.7,655.1Z" fill="#4cb7c6"/><path d="M1309.7,611.6 L1348.0,650.6 L1317.7,655.1 Q1315.2,633.1 1309.7,611.6Z" fill="#98d3e9"/><path d="M1271.4,650.6 L1317.7,655.1 Q1315.2,670.1 1309.7,689.6Z" fill="#4cb7c6"/><path d="M1317.7,655.1 L1348.0,650.6 L1309.7,689.6 Q1315.2,670.1 1317.7,655.1Z" fill="#98d3e9"/><path d="M1271.4,650.6 L1309.7,611.6 L1348.0,650.6 L1309.7,689.6Z M1309.7,611.6 Q1315.2,633.1 1317.7,655.1 Q1315.2,670.1 1309.7,689.6 M1271.4,650.6 L1317.7,655.1 L1348.0,650.6" fill="none" stroke="#1f5a68" stroke-width="1.1" stroke-opacity="0.85" stroke-linejoin="round"/>
<path d="M1347.9,650.6 L1386.2,611.6 Q1391.7,633.1 1394.2,655.1Z" fill="#4cb7c6"/><path d="M1386.2,611.6 L1424.5,650.6 L1394.2,655.1 Q1391.7,633.1 1386.2,611.6Z" fill="#98d3e9"/><path d="M1347.9,650.6 L1394.2,655.1 Q1391.7,670.1 1386.2,689.6Z" fill="#4cb7c6"/><path d="M1394.2,655.1 L1424.5,650.6 L1386.2,689.6 Q1391.7,670.1 1394.2,655.1Z" fill="#98d3e9"/><path d="M1347.9,650.6 L1386.2,611.6 L1424.5,650.6 L1386.2,689.6Z M1386.2,611.6 Q1391.7,633.1 1394.2,655.1 Q1391.7,670.1 1386.2,689.6 M1347.9,650.6 L1394.2,655.1 L1424.5,650.6" fill="none" stroke="#1f5a68" stroke-width="1.1" stroke-opacity="0.85" stroke-linejoin="round"/>
<path d="M1424.4,650.6 L1462.7,611.6 Q1468.2,633.1 1470.7,655.1Z" fill="#4cb7c6"/><path d="M1462.7,611.6 L1501.0,650.6 L1470.7,655.1 Q1468.2,633.1 1462.7,611.6Z" fill="#98d3e9"/><path d="M1424.4,650.6 L1470.7,655.1 Q1468.2,670.1 1462.7,689.6Z" fill="#4cb7c6"/><path d="M1470.7,655.1 L1501.0,650.6 L1462.7,689.6 Q1468.2,670.1 1470.7,655.1Z" fill="#98d3e9"/><path d="M1424.4,650.6 L1462.7,611.6 L1501.0,650.6 L1462.7,689.6Z M1462.7,611.6 Q1468.2,633.1 1470.7,655.1 Q1468.2,670.1 1462.7,689.6 M1424.4,650.6 L1470.7,655.1 L1501.0,650.6" fill="none" stroke="#1f5a68" stroke-width="1.1" stroke-opacity="0.85" stroke-linejoin="round"/>
<path d="M1500.9,650.6 L1539.2,611.6 Q1544.7,633.1 1547.2,655.1Z" fill="#4cb7c6"/><path d="M1539.2,611.6 L1577.5,650.6 L1547.2,655.1 Q1544.7,633.1 1539.2,611.6Z" fill="#98d3e9"/><path d="M1500.9,650.6 L1547.2,655.1 Q1544.7,670.1 1539.2,689.6Z" fill="#4cb7c6"/><path d="M1547.2,655.1 L1577.5,650.6 L1539.2,689.6 Q1544.7,670.1 1547.2,655.1Z" fill="#98d3e9"/><path d="M1500.9,650.6 L1539.2,611.6 L1577.5,650.6 L1539.2,689.6Z M1539.2,611.6 Q1544.7,633.1 1547.2,655.1 Q1544.7,670.1 1539.2,689.6 M1500.9,650.6 L1547.2,655.1 L1577.5,650.6" fill="none" stroke="#1f5a68" stroke-width="1.1" stroke-opacity="0.85" stroke-linejoin="round"/>
<path d="M1577.4,650.6 L1615.7,611.6 Q1621.2,633.1 1623.7,655.1Z" fill="#4cb7c6"/><path d="M1615.7,611.6 L1654.0,650.6 L1623.7,655.1 Q1621.2,633.1 1615.7,611.6Z" fill="#98d3e9"/><path d="M1577.4,650.6 L1623.7,655.1 Q1621.2,670.1 1615.7,689.6Z" fill="#4cb7c6"/><path d="M1623.7,655.1 L1654.0,650.6 L1615.7,689.6 Q1621.2,670.1 1623.7,655.1Z" fill="#98d3e9"/><path d="M1577.4,650.6 L1615.7,611.6 L1654.0,650.6 L1615.7,689.6Z M1615.7,611.6 Q1621.2,633.1 1623.7,655.1 Q1621.2,670.1 1615.7,689.6 M1577.4,650.6 L1623.7,655.1 L1654.0,650.6" fill="none" stroke="#1f5a68" stroke-width="1.1" stroke-opacity="0.85" stroke-linejoin="round"/>
<path d="M1653.9,650.6 L1692.2,611.6 Q1697.7,633.1 1700.2,655.1Z" fill="#4cb7c6"/><path d="M1692.2,611.6 L1730.5,650.6 L1700.2,655.1 Q1697.7,633.1 1692.2,611.6Z" fill="#98d3e9"/><path d="M1653.9,650.6 L1700.2,655.1 Q1697.7,670.1 1692.2,689.6Z" fill="#4cb7c6"/><path d="M1700.2,655.1 L1730.5,650.6 L1692.2,689.6 Q1697.7,670.1 1700.2,655.1Z" fill="#98d3e9"/><path d="M1653.9,650.6 L1692.2,611.6 L1730.5,650.6 L1692.2,689.6Z M1692.2,611.6 Q1697.7,633.1 1700.2,655.1 Q1697.7,670.1 1692.2,689.6 M1653.9,650.6 L1700.2,655.1 L1730.5,650.6" fill="none" stroke="#1f5a68" stroke-width="1.1" stroke-opacity="0.85" stroke-linejoin="round"/>
<path d="M1730.4,650.6 L1768.7,611.6 Q1774.2,633.1 1776.7,655.1Z" fill="#4cb7c6"/><path d="M1768.7,611.6 L1807.0,650.6 L1776.7,655.1 Q1774.2,633.1 1768.7,611.6Z" fill="#98d3e9"/><path d="M1730.4,650.6 L1776.7,655.1 Q1774.2,670.1 1768.7,689.6Z" fill="#4cb7c6"/><path d="M1776.7,655.1 L1807.0,650.6 L1768.7,689.6 Q1774.2,670.1 1776.7,655.1Z" fill="#98d3e9"/><path d="M1730.4,650.6 L1768.7,611.6 L1807.0,650.6 L1768.7,689.6Z M1768.7,611.6 Q1774.2,633.1 1776.7,655.1 Q1774.2,670.1 1768.7,689.6 M1730.4,650.6 L1776.7,655.1 L1807.0,650.6" fill="none" stroke="#1f5a68" stroke-width="1.1" stroke-opacity="0.85" stroke-linejoin="round"/>
<path d="M1806.9,650.6 L1845.2,611.6 Q1850.7,633.1 1853.2,655.1Z" fill="#4cb7c6"/><path d="M1845.2,611.6 L1883.5,650.6 L1853.2,655.1 Q1850.7,633.1 1845.2,611.6Z" fill="#98d3e9"/><path d="M1806.9,650.6 L1853.2,655.1 Q1850.7,670.1 1845.2,689.6Z" fill="#4cb7c6"/><path d="M1853.2,655.1 L1883.5,650.6 L1845.2,689.6 Q1850.7,670.1 1853.2,655.1Z" fill="#98d3e9"/><path d="M1806.9,650.6 L1845.2,611.6 L1883.5,650.6 L1845.2,689.6Z M1845.2,611.6 Q1850.7,633.1 1853.2,655.1 Q1850.7,670.1 1845.2,689.6 M1806.9,650.6 L1853.2,655.1 L1883.5,650.6" fill="none" stroke="#1f5a68" stroke-width="1.1" stroke-opacity="0.85" stroke-linejoin="round"/>
<circle cx="1348.0" cy="223.2" r="17.2" fill="url(#gR)" stroke="#9a3a3a" stroke-width="1"/>
<circle cx="1424.5" cy="223.2" r="17.2" fill="url(#gR)" stroke="#9a3a3a" stroke-width="1"/>
<circle cx="1501.0" cy="223.2" r="17.2" fill="url(#gR)" stroke="#9a3a3a" stroke-width="1"/>
<circle cx="1577.5" cy="223.2" r="17.2" fill="url(#gR)" stroke="#9a3a3a" stroke-width="1"/>
<circle cx="1654.0" cy="223.2" r="17.2" fill="url(#gR)" stroke="#9a3a3a" stroke-width="1"/>
<circle cx="1730.5" cy="223.2" r="17.2" fill="url(#gG)" stroke="#2d6b3a" stroke-width="1"/>
<circle cx="1807.0" cy="223.2" r="17.2" fill="url(#gR)" stroke="#9a3a3a" stroke-width="1"/>
<circle cx="1348.0" cy="300.9" r="17.2" fill="url(#gG)" stroke="#2d6b3a" stroke-width="1"/>
<circle cx="1424.5" cy="300.9" r="17.2" fill="url(#gR)" stroke="#9a3a3a" stroke-width="1"/>
<circle cx="1501.0" cy="300.9" r="17.2" fill="url(#gR)" stroke="#9a3a3a" stroke-width="1"/>
<circle cx="1577.5" cy="300.9" r="17.2" fill="url(#gR)" stroke="#9a3a3a" stroke-width="1"/>
<circle cx="1654.0" cy="300.9" r="17.2" fill="url(#gR)" stroke="#9a3a3a" stroke-width="1"/>
<circle cx="1730.5" cy="300.9" r="17.2" fill="url(#gR)" stroke="#9a3a3a" stroke-width="1"/>
<circle cx="1807.0" cy="300.9" r="17.2" fill="url(#gR)" stroke="#9a3a3a" stroke-width="1"/>
<circle cx="1348.0" cy="378.6" r="17.2" fill="url(#gR)" stroke="#9a3a3a" stroke-width="1"/>
<circle cx="1424.5" cy="378.6" r="17.2" fill="url(#gR)" stroke="#9a3a3a" stroke-width="1"/>
<circle cx="1501.0" cy="378.6" r="17.2" fill="url(#gR)" stroke="#9a3a3a" stroke-width="1"/>
<circle cx="1577.5" cy="378.6" r="17.2" fill="url(#gR)" stroke="#9a3a3a" stroke-width="1"/>
<circle cx="1654.0" cy="378.6" r="17.2" fill="url(#gG)" stroke="#2d6b3a" stroke-width="1"/>
<circle cx="1730.5" cy="378.6" r="17.2" fill="url(#gR)" stroke="#9a3a3a" stroke-width="1"/>
<circle cx="1807.0" cy="378.6" r="17.2" fill="url(#gR)" stroke="#9a3a3a" stroke-width="1"/>
<circle cx="1348.0" cy="456.4" r="17.2" fill="url(#gR)" stroke="#9a3a3a" stroke-width="1"/>
<circle cx="1424.5" cy="456.4" r="17.2" fill="url(#gR)" stroke="#9a3a3a" stroke-width="1"/>
<circle cx="1501.0" cy="456.4" r="17.2" fill="url(#gR)" stroke="#9a3a3a" stroke-width="1"/>
<circle cx="1577.5" cy="456.4" r="17.2" fill="url(#gR)" stroke="#9a3a3a" stroke-width="1"/>
<circle cx="1654.0" cy="456.4" r="17.2" fill="url(#gR)" stroke="#9a3a3a" stroke-width="1"/>
<circle cx="1730.5" cy="456.4" r="17.2" fill="url(#gR)" stroke="#9a3a3a" stroke-width="1"/>
<circle cx="1807.0" cy="456.4" r="17.2" fill="url(#gR)" stroke="#9a3a3a" stroke-width="1"/>
<circle cx="1348.0" cy="534.0" r="17.2" fill="url(#gR)" stroke="#9a3a3a" stroke-width="1"/>
<circle cx="1424.5" cy="534.0" r="17.2" fill="url(#gG)" stroke="#2d6b3a" stroke-width="1"/>
<circle cx="1501.0" cy="534.0" r="17.2" fill="url(#gR)" stroke="#9a3a3a" stroke-width="1"/>
<circle cx="1577.5" cy="534.0" r="17.2" fill="url(#gR)" stroke="#9a3a3a" stroke-width="1"/>
<circle cx="1654.0" cy="534.0" r="17.2" fill="url(#gR)" stroke="#9a3a3a" stroke-width="1"/>
<circle cx="1730.5" cy="534.0" r="17.2" fill="url(#gG)" stroke="#2d6b3a" stroke-width="1"/>
<circle cx="1807.0" cy="534.0" r="17.2" fill="url(#gR)" stroke="#9a3a3a" stroke-width="1"/>
<circle cx="1348.0" cy="611.8" r="17.2" fill="url(#gR)" stroke="#9a3a3a" stroke-width="1"/>
<circle cx="1424.5" cy="611.8" r="17.2" fill="url(#gR)" stroke="#9a3a3a" stroke-width="1"/>
<circle cx="1501.0" cy="611.8" r="17.2" fill="url(#gR)" stroke="#9a3a3a" stroke-width="1"/>
<circle cx="1577.5" cy="611.8" r="17.2" fill="url(#gR)" stroke="#9a3a3a" stroke-width="1"/>
<circle cx="1654.0" cy="611.8" r="17.2" fill="url(#gR)" stroke="#9a3a3a" stroke-width="1"/>
<circle cx="1730.5" cy="611.8" r="17.2" fill="url(#gR)" stroke="#9a3a3a" stroke-width="1"/>
<circle cx="1807.0" cy="611.8" r="17.2" fill="url(#gR)" stroke="#9a3a3a" stroke-width="1"/>
</g>
<rect x="2333" y="109" width="702" height="622" rx="86" fill="none" stroke="#f2ee9c" stroke-width="34" filter="url(#glow)"/>
<rect x="2343" y="119" width="684" height="602" rx="76" fill="#fff"/>
<g transform="rotate(0.35 2420.4 184.9)">
<path d="M2382.1,184.9 L2420.4,145.9 Q2425.9,167.3 2428.4,189.4Z" fill="#4cb7c6"/><path d="M2420.4,145.9 L2458.7,184.9 L2428.4,189.4 Q2425.9,167.3 2420.4,145.9Z" fill="#98d3e9"/><path d="M2382.1,184.9 L2428.4,189.4 Q2425.9,204.4 2420.4,223.9Z" fill="#4cb7c6"/><path d="M2428.4,189.4 L2458.7,184.9 L2420.4,223.9 Q2425.9,204.4 2428.4,189.4Z" fill="#98d3e9"/><path d="M2382.1,184.9 L2420.4,145.9 L2458.7,184.9 L2420.4,223.9Z M2420.4,145.9 Q2425.9,167.3 2428.4,189.4 Q2425.9,204.4 2420.4,223.9 M2382.1,184.9 L2428.4,189.4 L2458.7,184.9" fill="none" stroke="#1f5a68" stroke-width="1.1" stroke-opacity="0.85" stroke-linejoin="round"/>
<path d="M2458.6,184.9 L2496.9,145.9 Q2502.4,167.3 2504.9,189.4Z" fill="#4cb7c6"/><path d="M2496.9,145.9 L2535.2,184.9 L2504.9,189.4 Q2502.4,167.3 2496.9,145.9Z" fill="#98d3e9"/><path d="M2458.6,184.9 L2504.9,189.4 Q2502.4,204.4 2496.9,223.9Z" fill="#4cb7c6"/><path d="M2504.9,189.4 L2535.2,184.9 L2496.9,223.9 Q2502.4,204.4 2504.9,189.4Z" fill="#98d3e9"/><path d="M2458.6,184.9 L2496.9,145.9 L2535.2,184.9 L2496.9,223.9Z M2496.9,145.9 Q2502.4,167.3 2504.9,189.4 Q2502.4,204.4 2496.9,223.9 M2458.6,184.9 L2504.9,189.4 L2535.2,184.9" fill="none" stroke="#1f5a68" stroke-width="1.1" stroke-opacity="0.85" stroke-linejoin="round"/>
<path d="M2535.1,184.9 L2573.4,145.9 Q2578.9,167.3 2581.4,189.4Z" fill="#4cb7c6"/><path d="M2573.4,145.9 L2611.7,184.9 L2581.4,189.4 Q2578.9,167.3 2573.4,145.9Z" fill="#98d3e9"/><path d="M2535.1,184.9 L2581.4,189.4 Q2578.9,204.4 2573.4,223.9Z" fill="#4cb7c6"/><path d="M2581.4,189.4 L2611.7,184.9 L2573.4,223.9 Q2578.9,204.4 2581.4,189.4Z" fill="#98d3e9"/><path d="M2535.1,184.9 L2573.4,145.9 L2611.7,184.9 L2573.4,223.9Z M2573.4,145.9 Q2578.9,167.3 2581.4,189.4 Q2578.9,204.4 2573.4,223.9 M2535.1,184.9 L2581.4,189.4 L2611.7,184.9" fill="none" stroke="#1f5a68" stroke-width="1.1" stroke-opacity="0.85" stroke-linejoin="round"/>
<path d="M2611.6,184.9 L2649.9,145.9 Q2655.4,167.3 2657.9,189.4Z" fill="#4cb7c6"/><path d="M2649.9,145.9 L2688.2,184.9 L2657.9,189.4 Q2655.4,167.3 2649.9,145.9Z" fill="#98d3e9"/><path d="M2611.6,184.9 L2657.9,189.4 Q2655.4,204.4 2649.9,223.9Z" fill="#4cb7c6"/><path d="M2657.9,189.4 L2688.2,184.9 L2649.9,223.9 Q2655.4,204.4 2657.9,189.4Z" fill="#98d3e9"/><path d="M2611.6,184.9 L2649.9,145.9 L2688.2,184.9 L2649.9,223.9Z M2649.9,145.9 Q2655.4,167.3 2657.9,189.4 Q2655.4,204.4 2649.9,223.9 M2611.6,184.9 L2657.9,189.4 L2688.2,184.9" fill="none" stroke="#1f5a68" stroke-width="1.1" stroke-opacity="0.85" stroke-linejoin="round"/>
<path d="M2688.1,184.9 L2726.4,145.9 Q2731.9,167.3 2734.4,189.4Z" fill="#4cb7c6"/><path d="M2726.4,145.9 L2764.7,184.9 L2734.4,189.4 Q2731.9,167.3 2726.4,145.9Z" fill="#98d3e9"/><path d="M2688.1,184.9 L2734.4,189.4 Q2731.9,204.4 2726.4,223.9Z" fill="#4cb7c6"/><path d="M2734.4,189.4 L2764.7,184.9 L2726.4,223.9 Q2731.9,204.4 2734.4,189.4Z" fill="#98d3e9"/><path d="M2688.1,184.9 L2726.4,145.9 L2764.7,184.9 L2726.4,223.9Z M2726.4,145.9 Q2731.9,167.3 2734.4,189.4 Q2731.9,204.4 2726.4,223.9 M2688.1,184.9 L2734.4,189.4 L2764.7,184.9" fill="none" stroke="#1f5a68" stroke-width="1.1" stroke-opacity="0.85" stroke-linejoin="round"/>
<path d="M2764.6,184.9 L2802.9,145.9 Q2808.4,167.3 2810.9,189.4Z" fill="#4cb7c6"/><path d="M2802.9,145.9 L2841.2,184.9 L2810.9,189.4 Q2808.4,167.3 2802.9,145.9Z" fill="#98d3e9"/><path d="M2764.6,184.9 L2810.9,189.4 Q2808.4,204.4 2802.9,223.9Z" fill="#4cb7c6"/><path d="M2810.9,189.4 L2841.2,184.9 L2802.9,223.9 Q2808.4,204.4 2810.9,189.4Z" fill="#98d3e9"/><path d="M2764.6,184.9 L2802.9,145.9 L2841.2,184.9 L2802.9,223.9Z M2802.9,145.9 Q2808.4,167.3 2810.9,189.4 Q2808.4,204.4 2802.9,223.9 M2764.6,184.9 L2810.9,189.4 L2841.2,184.9" fill="none" stroke="#1f5a68" stroke-width="1.1" stroke-opacity="0.85" stroke-linejoin="round"/>
<path d="M2841.1,184.9 L2879.4,145.9 Q2884.9,167.3 2887.4,189.4Z" fill="#4cb7c6"/><path d="M2879.4,145.9 L2917.7,184.9 L2887.4,189.4 Q2884.9,167.3 2879.4,145.9Z" fill="#98d3e9"/><path d="M2841.1,184.9 L2887.4,189.4 Q2884.9,204.4 2879.4,223.9Z" fill="#4cb7c6"/><path d="M2887.4,189.4 L2917.7,184.9 L2879.4,223.9 Q2884.9,204.4 2887.4,189.4Z" fill="#98d3e9"/><path d="M2841.1,184.9 L2879.4,145.9 L2917.7,184.9 L2879.4,223.9Z M2879.4,145.9 Q2884.9,167.3 2887.4,189.4 Q2884.9,204.4 2879.4,223.9 M2841.1,184.9 L2887.4,189.4 L2917.7,184.9" fill="none" stroke="#1f5a68" stroke-width="1.1" stroke-opacity="0.85" stroke-linejoin="round"/>
<path d="M2917.6,184.9 L2955.9,145.9 Q2961.4,167.3 2963.9,189.4Z" fill="#4cb7c6"/><path d="M2955.9,145.9 L2994.2,184.9 L2963.9,189.4 Q2961.4,167.3 2955.9,145.9Z" fill="#98d3e9"/><path d="M2917.6,184.9 L2963.9,189.4 Q2961.4,204.4 2955.9,223.9Z" fill="#4cb7c6"/><path d="M2963.9,189.4 L2994.2,184.9 L2955.9,223.9 Q2961.4,204.4 2963.9,189.4Z" fill="#98d3e9"/><path d="M2917.6,184.9 L2955.9,145.9 L2994.2,184.9 L2955.9,223.9Z M2955.9,145.9 Q2961.4,167.3 2963.9,189.4 Q2961.4,204.4 2955.9,223.9 M2917.6,184.9 L2963.9,189.4 L2994.2,184.9" fill="none" stroke="#1f5a68" stroke-width="1.1" stroke-opacity="0.85" stroke-linejoin="round"/>
<path d="M2382.1,262.6 L2420.4,223.6 Q2425.9,245.1 2428.4,267.1Z" fill="#4cb7c6"/><path d="M2420.4,223.6 L2458.7,262.6 L2428.4,267.1 Q2425.9,245.1 2420.4,223.6Z" fill="#98d3e9"/><path d="M2382.1,262.6 L2428.4,267.1 Q2425.9,282.1 2420.4,301.6Z" fill="#4cb7c6"/><path d="M2428.4,267.1 L2458.7,262.6 L2420.4,301.6 Q2425.9,282.1 2428.4,267.1Z" fill="#98d3e9"/><path d="M2382.1,262.6 L2420.4,223.6 L2458.7,262.6 L2420.4,301.6Z M2420.4,223.6 Q2425.9,245.1 2428.4,267.1 Q2425.9,282.1 2420.4,301.6 M2382.1,262.6 L2428.4,267.1 L2458.7,262.6" fill="none" stroke="#1f5a68" stroke-width="1.1" stroke-opacity="0.85" stroke-linejoin="round"/>
<path d="M2458.6,262.6 L2496.9,223.6 Q2502.4,245.1 2504.9,267.1Z" fill="#4cb7c6"/><path d="M2496.9,223.6 L2535.2,262.6 L2504.9,267.1 Q2502.4,245.1 2496.9,223.6Z" fill="#98d3e9"/><path d="M2458.6,262.6 L2504.9,267.1 Q2502.4,282.1 2496.9,301.6Z" fill="#4cb7c6"/><path d="M2504.9,267.1 L2535.2,262.6 L2496.9,301.6 Q2502.4,282.1 2504.9,267.1Z" fill="#98d3e9"/><path d="M2458.6,262.6 L2496.9,223.6 L2535.2,262.6 L2496.9,301.6Z M2496.9,223.6 Q2502.4,245.1 2504.9,267.1 Q2502.4,282.1 2496.9,301.6 M2458.6,262.6 L2504.9,267.1 L2535.2,262.6" fill="none" stroke="#1f5a68" stroke-width="1.1" stroke-opacity="0.85" stroke-linejoin="round"/>
<path d="M2535.1,262.6 L2573.4,223.6 Q2578.9,245.1 2581.4,267.1Z" fill="#4cb7c6"/><path d="M2573.4,223.6 L2611.7,262.6 L2581.4,267.1 Q2578.9,245.1 2573.4,223.6Z" fill="#98d3e9"/><path d="M2535.1,262.6 L2581.4,267.1 Q2578.9,282.1 2573.4,301.6Z" fill="#4cb7c6"/><path d="M2581.4,267.1 L2611.7,262.6 L2573.4,301.6 Q2578.9,282.1 2581.4,267.1Z" fill="#98d3e9"/><path d="M2535.1,262.6 L2573.4,223.6 L2611.7,262.6 L2573.4,301.6Z M2573.4,223.6 Q2578.9,245.1 2581.4,267.1 Q2578.9,282.1 2573.4,301.6 M2535.1,262.6 L2581.4,267.1 L2611.7,262.6" fill="none" stroke="#1f5a68" stroke-width="1.1" stroke-opacity="0.85" stroke-linejoin="round"/>
<path d="M2611.6,262.6 L2649.9,223.6 Q2655.4,245.1 2657.9,267.1Z" fill="#4cb7c6"/><path d="M2649.9,223.6 L2688.2,262.6 L2657.9,267.1 Q2655.4,245.1 2649.9,223.6Z" fill="#98d3e9"/><path d="M2611.6,262.6 L2657.9,267.1 Q2655.4,282.1 2649.9,301.6Z" fill="#4cb7c6"/><path d="M2657.9,267.1 L2688.2,262.6 L2649.9,301.6 Q2655.4,282.1 2657.9,267.1Z" fill="#98d3e9"/><path d="M2611.6,262.6 L2649.9,223.6 L2688.2,262.6 L2649.9,301.6Z M2649.9,223.6 Q2655.4,245.1 2657.9,267.1 Q2655.4,282.1 2649.9,301.6 M2611.6,262.6 L2657.9,267.1 L2688.2,262.6" fill="none" stroke="#1f5a68" stroke-width="1.1" stroke-opacity="0.85" stroke-linejoin="round"/>
<path d="M2688.1,262.6 L2726.4,223.6 Q2731.9,245.1 2734.4,267.1Z" fill="#4cb7c6"/><path d="M2726.4,223.6 L2764.7,262.6 L2734.4,267.1 Q2731.9,245.1 2726.4,223.6Z" fill="#98d3e9"/><path d="M2688.1,262.6 L2734.4,267.1 Q2731.9,282.1 2726.4,301.6Z" fill="#4cb7c6"/><path d="M2734.4,267.1 L2764.7,262.6 L2726.4,301.6 Q2731.9,282.1 2734.4,267.1Z" fill="#98d3e9"/><path d="M2688.1,262.6 L2726.4,223.6 L2764.7,262.6 L2726.4,301.6Z M2726.4,223.6 Q2731.9,245.1 2734.4,267.1 Q2731.9,282.1 2726.4,301.6 M2688.1,262.6 L2734.4,267.1 L2764.7,262.6" fill="none" stroke="#1f5a68" stroke-width="1.1" stroke-opacity="0.85" stroke-linejoin="round"/>
<path d="M2764.6,262.6 L2802.9,223.6 Q2808.4,245.1 2810.9,267.1Z" fill="#4cb7c6"/><path d="M2802.9,223.6 L2841.2,262.6 L2810.9,267.1 Q2808.4,245.1 2802.9,223.6Z" fill="#98d3e9"/><path d="M2764.6,262.6 L2810.9,267.1 Q2808.4,282.1 2802.9,301.6Z" fill="#4cb7c6"/><path d="M2810.9,267.1 L2841.2,262.6 L2802.9,301.6 Q2808.4,282.1 2810.9,267.1Z" fill="#98d3e9"/><path d="M2764.6,262.6 L2802.9,223.6 L2841.2,262.6 L2802.9,301.6Z M2802.9,223.6 Q2808.4,245.1 2810.9,267.1 Q2808.4,282.1 2802.9,301.6 M2764.6,262.6 L2810.9,267.1 L2841.2,262.6" fill="none" stroke="#1f5a68" stroke-width="1.1" stroke-opacity="0.85" stroke-linejoin="round"/>
<path d="M2841.1,262.6 L2879.4,223.6 Q2884.9,245.1 2887.4,267.1Z" fill="#4cb7c6"/><path d="M2879.4,223.6 L2917.7,262.6 L2887.4,267.1 Q2884.9,245.1 2879.4,223.6Z" fill="#98d3e9"/><path d="M2841.1,262.6 L2887.4,267.1 Q2884.9,282.1 2879.4,301.6Z" fill="#4cb7c6"/><path d="M2887.4,267.1 L2917.7,262.6 L2879.4,301.6 Q2884.9,282.1 2887.4,267.1Z" fill="#98d3e9"/><path d="M2841.1,262.6 L2879.4,223.6 L2917.7,262.6 L2879.4,301.6Z M2879.4,223.6 Q2884.9,245.1 2887.4,267.1 Q2884.9,282.1 2879.4,301.6 M2841.1,262.6 L2887.4,267.1 L2917.7,262.6" fill="none" stroke="#1f5a68" stroke-width="1.1" stroke-opacity="0.85" stroke-linejoin="round"/>
<path d="M2917.6,262.6 L2955.9,223.6 Q2961.4,245.1 2963.9,267.1Z" fill="#4cb7c6"/><path d="M2955.9,223.6 L2994.2,262.6 L2963.9,267.1 Q2961.4,245.1 2955.9,223.6Z" fill="#98d3e9"/><path d="M2917.6,262.6 L2963.9,267.1 Q2961.4,282.1 2955.9,301.6Z" fill="#4cb7c6"/><path d="M2963.9,267.1 L2994.2,262.6 L2955.9,301.6 Q2961.4,282.1 2963.9,267.1Z" fill="#98d3e9"/><path d="M2917.6,262.6 L2955.9,223.6 L2994.2,262.6 L2955.9,301.6Z M2955.9,223.6 Q2961.4,245.1 2963.9,267.1 Q2961.4,282.1 2955.9,301.6 M2917.6,262.6 L2963.9,267.1 L2994.2,262.6" fill="none" stroke="#1f5a68" stroke-width="1.1" stroke-opacity="0.85" stroke-linejoin="round"/>
<path d="M2382.1,340.3 L2420.4,301.3 Q2425.9,322.8 2428.4,344.8Z" fill="#4cb7c6"/><path d="M2420.4,301.3 L2458.7,340.3 L2428.4,344.8 Q2425.9,322.8 2420.4,301.3Z" fill="#98d3e9"/><path d="M2382.1,340.3 L2428.4,344.8 Q2425.9,359.8 2420.4,379.3Z" fill="#4cb7c6"/><path d="M2428.4,344.8 L2458.7,340.3 L2420.4,379.3 Q2425.9,359.8 2428.4,344.8Z" fill="#98d3e9"/><path d="M2382.1,340.3 L2420.4,301.3 L2458.7,340.3 L2420.4,379.3Z M2420.4,301.3 Q2425.9,322.8 2428.4,344.8 Q2425.9,359.8 2420.4,379.3 M2382.1,340.3 L2428.4,344.8 L2458.7,340.3" fill="none" stroke="#1f5a68" stroke-width="1.1" stroke-opacity="0.85" stroke-linejoin="round"/>
<path d="M2458.6,340.3 L2496.9,301.3 Q2502.4,322.8 2504.9,344.8Z" fill="#4cb7c6"/><path d="M2496.9,301.3 L2535.2,340.3 L2504.9,344.8 Q2502.4,322.8 2496.9,301.3Z" fill="#98d3e9"/><path d="M2458.6,340.3 L2504.9,344.8 Q2502.4,359.8 2496.9,379.3Z" fill="#4cb7c6"/><path d="M2504.9,344.8 L2535.2,340.3 L2496.9,379.3 Q2502.4,359.8 2504.9,344.8Z" fill="#98d3e9"/><path d="M2458.6,340.3 L2496.9,301.3 L2535.2,340.3 L2496.9,379.3Z M2496.9,301.3 Q2502.4,322.8 2504.9,344.8 Q2502.4,359.8 2496.9,379.3 M2458.6,340.3 L2504.9,344.8 L2535.2,340.3" fill="none" stroke="#1f5a68" stroke-width="1.1" stroke-opacity="0.85" stroke-linejoin="round"/>
<path d="M2535.1,340.3 L2573.4,301.3 Q2578.9,322.8 2581.4,344.8Z" fill="#4cb7c6"/><path d="M2573.4,301.3 L2611.7,340.3 L2581.4,344.8 Q2578.9,322.8 2573.4,301.3Z" fill="#98d3e9"/><path d="M2535.1,340.3 L2581.4,344.8 Q2578.9,359.8 2573.4,379.3Z" fill="#4cb7c6"/><path d="M2581.4,344.8 L2611.7,340.3 L2573.4,379.3 Q2578.9,359.8 2581.4,344.8Z" fill="#98d3e9"/><path d="M2535.1,340.3 L2573.4,301.3 L2611.7,340.3 L2573.4,379.3Z M2573.4,301.3 Q2578.9,322.8 2581.4,344.8 Q2578.9,359.8 2573.4,379.3 M2535.1,340.3 L2581.4,344.8 L2611.7,340.3" fill="none" stroke="#1f5a68" stroke-width="1.1" stroke-opacity="0.85" stroke-linejoin="round"/>
<path d="M2611.6,340.3 L2649.9,301.3 Q2655.4,322.8 2657.9,344.8Z" fill="#4cb7c6"/><path d="M2649.9,301.3 L2688.2,340.3 L2657.9,344.8 Q2655.4,322.8 2649.9,301.3Z" fill="#98d3e9"/><path d="M2611.6,340.3 L2657.9,344.8 Q2655.4,359.8 2649.9,379.3Z" fill="#4cb7c6"/><path d="M2657.9,344.8 L2688.2,340.3 L2649.9,379.3 Q2655.4,359.8 2657.9,344.8Z" fill="#98d3e9"/><path d="M2611.6,340.3 L2649.9,301.3 L2688.2,340.3 L2649.9,379.3Z M2649.9,301.3 Q2655.4,322.8 2657.9,344.8 Q2655.4,359.8 2649.9,379.3 M2611.6,340.3 L2657.9,344.8 L2688.2,340.3" fill="none" stroke="#1f5a68" stroke-width="1.1" stroke-opacity="0.85" stroke-linejoin="round"/>
<path d="M2688.1,340.3 L2726.4,301.3 Q2731.9,322.8 2734.4,344.8Z" fill="#4cb7c6"/><path d="M2726.4,301.3 L2764.7,340.3 L2734.4,344.8 Q2731.9,322.8 2726.4,301.3Z" fill="#98d3e9"/><path d="M2688.1,340.3 L2734.4,344.8 Q2731.9,359.8 2726.4,379.3Z" fill="#4cb7c6"/><path d="M2734.4,344.8 L2764.7,340.3 L2726.4,379.3 Q2731.9,359.8 2734.4,344.8Z" fill="#98d3e9"/><path d="M2688.1,340.3 L2726.4,301.3 L2764.7,340.3 L2726.4,379.3Z M2726.4,301.3 Q2731.9,322.8 2734.4,344.8 Q2731.9,359.8 2726.4,379.3 M2688.1,340.3 L2734.4,344.8 L2764.7,340.3" fill="none" stroke="#1f5a68" stroke-width="1.1" stroke-opacity="0.85" stroke-linejoin="round"/>
<path d="M2764.6,340.3 L2802.9,301.3 Q2808.4,322.8 2810.9,344.8Z" fill="#4cb7c6"/><path d="M2802.9,301.3 L2841.2,340.3 L2810.9,344.8 Q2808.4,322.8 2802.9,301.3Z" fill="#98d3e9"/><path d="M2764.6,340.3 L2810.9,344.8 Q2808.4,359.8 2802.9,379.3Z" fill="#4cb7c6"/><path d="M2810.9,344.8 L2841.2,340.3 L2802.9,379.3 Q2808.4,359.8 2810.9,344.8Z" fill="#98d3e9"/><path d="M2764.6,340.3 L2802.9,301.3 L2841.2,340.3 L2802.9,379.3Z M2802.9,301.3 Q2808.4,322.8 2810.9,344.8 Q2808.4,359.8 2802.9,379.3 M2764.6,340.3 L2810.9,344.8 L2841.2,340.3" fill="none" stroke="#1f5a68" stroke-width="1.1" stroke-opacity="0.85" stroke-linejoin="round"/>
<path d="M2841.1,340.3 L2879.4,301.3 Q2884.9,322.8 2887.4,344.8Z" fill="#4cb7c6"/><path d="M2879.4,301.3 L2917.7,340.3 L2887.4,344.8 Q2884.9,322.8 2879.4,301.3Z" fill="#98d3e9"/><path d="M2841.1,340.3 L2887.4,344.8 Q2884.9,359.8 2879.4,379.3Z" fill="#4cb7c6"/><path d="M2887.4,344.8 L2917.7,340.3 L2879.4,379.3 Q2884.9,359.8 2887.4,344.8Z" fill="#98d3e9"/><path d="M2841.1,340.3 L2879.4,301.3 L2917.7,340.3 L2879.4,379.3Z M2879.4,301.3 Q2884.9,322.8 2887.4,344.8 Q2884.9,359.8 2879.4,379.3 M2841.1,340.3 L2887.4,344.8 L2917.7,340.3" fill="none" stroke="#1f5a68" stroke-width="1.1" stroke-opacity="0.85" stroke-linejoin="round"/>
<path d="M2917.6,340.3 L2955.9,301.3 Q2961.4,322.8 2963.9,344.8Z" fill="#4cb7c6"/><path d="M2955.9,301.3 L2994.2,340.3 L2963.9,344.8 Q2961.4,322.8 2955.9,301.3Z" fill="#98d3e9"/><path d="M2917.6,340.3 L2963.9,344.8 Q2961.4,359.8 2955.9,379.3Z" fill="#4cb7c6"/><path d="M2963.9,344.8 L2994.2,340.3 L2955.9,379.3 Q2961.4,359.8 2963.9,344.8Z" fill="#98d3e9"/><path d="M2917.6,340.3 L2955.9,301.3 L2994.2,340.3 L2955.9,379.3Z M2955.9,301.3 Q2961.4,322.8 2963.9,344.8 Q2961.4,359.8 2955.9,379.3 M2917.6,340.3 L2963.9,344.8 L2994.2,340.3" fill="none" stroke="#1f5a68" stroke-width="1.1" stroke-opacity="0.85" stroke-linejoin="round"/>
<path d="M2382.1,418.0 L2420.4,379.0 Q2425.9,400.4 2428.4,422.5Z" fill="#4cb7c6"/><path d="M2420.4,379.0 L2458.7,418.0 L2428.4,422.5 Q2425.9,400.4 2420.4,379.0Z" fill="#98d3e9"/><path d="M2382.1,418.0 L2428.4,422.5 Q2425.9,437.5 2420.4,457.0Z" fill="#4cb7c6"/><path d="M2428.4,422.5 L2458.7,418.0 L2420.4,457.0 Q2425.9,437.5 2428.4,422.5Z" fill="#98d3e9"/><path d="M2382.1,418.0 L2420.4,379.0 L2458.7,418.0 L2420.4,457.0Z M2420.4,379.0 Q2425.9,400.4 2428.4,422.5 Q2425.9,437.5 2420.4,457.0 M2382.1,418.0 L2428.4,422.5 L2458.7,418.0" fill="none" stroke="#1f5a68" stroke-width="1.1" stroke-opacity="0.85" stroke-linejoin="round"/>
<path d="M2458.6,418.0 L2496.9,379.0 Q2502.4,400.4 2504.9,422.5Z" fill="#4cb7c6"/><path d="M2496.9,379.0 L2535.2,418.0 L2504.9,422.5 Q2502.4,400.4 2496.9,379.0Z" fill="#98d3e9"/><path d="M2458.6,418.0 L2504.9,422.5 Q2502.4,437.5 2496.9,457.0Z" fill="#4cb7c6"/><path d="M2504.9,422.5 L2535.2,418.0 L2496.9,457.0 Q2502.4,437.5 2504.9,422.5Z" fill="#98d3e9"/><path d="M2458.6,418.0 L2496.9,379.0 L2535.2,418.0 L2496.9,457.0Z M2496.9,379.0 Q2502.4,400.4 2504.9,422.5 Q2502.4,437.5 2496.9,457.0 M2458.6,418.0 L2504.9,422.5 L2535.2,418.0" fill="none" stroke="#1f5a68" stroke-width="1.1" stroke-opacity="0.85" stroke-linejoin="round"/>
<path d="M2535.1,418.0 L2573.4,379.0 Q2578.9,400.4 2581.4,422.5Z" fill="#4cb7c6"/><path d="M2573.4,379.0 L2611.7,418.0 L2581.4,422.5 Q2578.9,400.4 2573.4,379.0Z" fill="#98d3e9"/><path d="M2535.1,418.0 L2581.4,422.5 Q2578.9,437.5 2573.4,457.0Z" fill="#4cb7c6"/><path d="M2581.4,422.5 L2611.7,418.0 L2573.4,457.0 Q2578.9,437.5 2581.4,422.5Z" fill="#98d3e9"/><path d="M2535.1,418.0 L2573.4,379.0 L2611.7,418.0 L2573.4,457.0Z M2573.4,379.0 Q2578.9,400.4 2581.4,422.5 Q2578.9,437.5 2573.4,457.0 M2535.1,418.0 L2581.4,422.5 L2611.7,418.0" fill="none" stroke="#1f5a68" stroke-width="1.1" stroke-opacity="0.85" stroke-linejoin="round"/>
<path d="M2611.6,418.0 L2649.9,379.0 Q2655.4,400.4 2657.9,422.5Z" fill="#4cb7c6"/><path d="M2649.9,379.0 L2688.2,418.0 L2657.9,422.5 Q2655.4,400.4 2649.9,379.0Z" fill="#98d3e9"/><path d="M2611.6,418.0 L2657.9,422.5 Q2655.4,437.5 2649.9,457.0Z" fill="#4cb7c6"/><path d="M2657.9,422.5 L2688.2,418.0 L2649.9,457.0 Q2655.4,437.5 2657.9,422.5Z" fill="#98d3e9"/><path d="M2611.6,418.0 L2649.9,379.0 L2688.2,418.0 L2649.9,457.0Z M2649.9,379.0 Q2655.4,400.4 2657.9,422.5 Q2655.4,437.5 2649.9,457.0 M2611.6,418.0 L2657.9,422.5 L2688.2,418.0" fill="none" stroke="#1f5a68" stroke-width="1.1" stroke-opacity="0.85" stroke-linejoin="round"/>
<path d="M2688.1,418.0 L2726.4,379.0 Q2731.9,400.4 2734.4,422.5Z" fill="#4cb7c6"/><path d="M2726.4,379.0 L2764.7,418.0 L2734.4,422.5 Q2731.9,400.4 2726.4,379.0Z" fill="#98d3e9"/><path d="M2688.1,418.0 L2734.4,422.5 Q2731.9,437.5 2726.4,457.0Z" fill="#4cb7c6"/><path d="M2734.4,422.5 L2764.7,418.0 L2726.4,457.0 Q2731.9,437.5 2734.4,422.5Z" fill="#98d3e9"/><path d="M2688.1,418.0 L2726.4,379.0 L2764.7,418.0 L2726.4,457.0Z M2726.4,379.0 Q2731.9,400.4 2734.4,422.5 Q2731.9,437.5 2726.4,457.0 M2688.1,418.0 L2734.4,422.5 L2764.7,418.0" fill="none" stroke="#1f5a68" stroke-width="1.1" stroke-opacity="0.85" stroke-linejoin="round"/>
<path d="M2764.6,418.0 L2802.9,379.0 Q2808.4,400.4 2810.9,422.5Z" fill="#4cb7c6"/><path d="M2802.9,379.0 L2841.2,418.0 L2810.9,422.5 Q2808.4,400.4 2802.9,379.0Z" fill="#98d3e9"/><path d="M2764.6,418.0 L2810.9,422.5 Q2808.4,437.5 2802.9,457.0Z" fill="#4cb7c6"/><path d="M2810.9,422.5 L2841.2,418.0 L2802.9,457.0 Q2808.4,437.5 2810.9,422.5Z" fill="#98d3e9"/><path d="M2764.6,418.0 L2802.9,379.0 L2841.2,418.0 L2802.9,457.0Z M2802.9,379.0 Q2808.4,400.4 2810.9,422.5 Q2808.4,437.5 2802.9,457.0 M2764.6,418.0 L2810.9,422.5 L2841.2,418.0" fill="none" stroke="#1f5a68" stroke-width="1.1" stroke-opacity="0.85" stroke-linejoin="round"/>
<path d="M2841.1,418.0 L2879.4,379.0 Q2884.9,400.4 2887.4,422.5Z" fill="#4cb7c6"/><path d="M2879.4,379.0 L2917.7,418.0 L2887.4,422.5 Q2884.9,400.4 2879.4,379.0Z" fill="#98d3e9"/><path d="M2841.1,418.0 L2887.4,422.5 Q2884.9,437.5 2879.4,457.0Z" fill="#4cb7c6"/><path d="M2887.4,422.5 L2917.7,418.0 L2879.4,457.0 Q2884.9,437.5 2887.4,422.5Z" fill="#98d3e9"/><path d="M2841.1,418.0 L2879.4,379.0 L2917.7,418.0 L2879.4,457.0Z M2879.4,379.0 Q2884.9,400.4 2887.4,422.5 Q2884.9,437.5 2879.4,457.0 M2841.1,418.0 L2887.4,422.5 L2917.7,418.0" fill="none" stroke="#1f5a68" stroke-width="1.1" stroke-opacity="0.85" stroke-linejoin="round"/>
<path d="M2917.6,418.0 L2955.9,379.0 Q2961.4,400.4 2963.9,422.5Z" fill="#4cb7c6"/><path d="M2955.9,379.0 L2994.2,418.0 L2963.9,422.5 Q2961.4,400.4 2955.9,379.0Z" fill="#98d3e9"/><path d="M2917.6,418.0 L2963.9,422.5 Q2961.4,437.5 2955.9,457.0Z" fill="#4cb7c6"/><path d="M2963.9,422.5 L2994.2,418.0 L2955.9,457.0 Q2961.4,437.5 2963.9,422.5Z" fill="#98d3e9"/><path d="M2917.6,418.0 L2955.9,379.0 L2994.2,418.0 L2955.9,457.0Z M2955.9,379.0 Q2961.4,400.4 2963.9,422.5 Q2961.4,437.5 2955.9,457.0 M2917.6,418.0 L2963.9,422.5 L2994.2,418.0" fill="none" stroke="#1f5a68" stroke-width="1.1" stroke-opacity="0.85" stroke-linejoin="round"/>
<path d="M2382.1,495.7 L2420.4,456.7 Q2425.9,478.2 2428.4,500.2Z" fill="#4cb7c6"/><path d="M2420.4,456.7 L2458.7,495.7 L2428.4,500.2 Q2425.9,478.2 2420.4,456.7Z" fill="#98d3e9"/><path d="M2382.1,495.7 L2428.4,500.2 Q2425.9,515.2 2420.4,534.7Z" fill="#4cb7c6"/><path d="M2428.4,500.2 L2458.7,495.7 L2420.4,534.7 Q2425.9,515.2 2428.4,500.2Z" fill="#98d3e9"/><path d="M2382.1,495.7 L2420.4,456.7 L2458.7,495.7 L2420.4,534.7Z M2420.4,456.7 Q2425.9,478.2 2428.4,500.2 Q2425.9,515.2 2420.4,534.7 M2382.1,495.7 L2428.4,500.2 L2458.7,495.7" fill="none" stroke="#1f5a68" stroke-width="1.1" stroke-opacity="0.85" stroke-linejoin="round"/>
<path d="M2458.6,495.7 L2496.9,456.7 Q2502.4,478.2 2504.9,500.2Z" fill="#4cb7c6"/><path d="M2496.9,456.7 L2535.2,495.7 L2504.9,500.2 Q2502.4,478.2 2496.9,456.7Z" fill="#98d3e9"/><path d="M2458.6,495.7 L2504.9,500.2 Q2502.4,515.2 2496.9,534.7Z" fill="#4cb7c6"/><path d="M2504.9,500.2 L2535.2,495.7 L2496.9,534.7 Q2502.4,515.2 2504.9,500.2Z" fill="#98d3e9"/><path d="M2458.6,495.7 L2496.9,456.7 L2535.2,495.7 L2496.9,534.7Z M2496.9,456.7 Q2502.4,478.2 2504.9,500.2 Q2502.4,515.2 2496.9,534.7 M2458.6,495.7 L2504.9,500.2 L2535.2,495.7" fill="none" stroke="#1f5a68" stroke-width="1.1" stroke-opacity="0.85" stroke-linejoin="round"/>
<path d="M2535.1,495.7 L2573.4,456.7 Q2578.9,478.2 2581.4,500.2Z" fill="#4cb7c6"/><path d="M2573.4,456.7 L2611.7,495.7 L2581.4,500.2 Q2578.9,478.2 2573.4,456.7Z" fill="#98d3e9"/><path d="M2535.1,495.7 L2581.4,500.2 Q2578.9,515.2 2573.4,534.7Z" fill="#4cb7c6"/><path d="M2581.4,500.2 L2611.7,495.7 L2573.4,534.7 Q2578.9,515.2 2581.4,500.2Z" fill="#98d3e9"/><path d="M2535.1,495.7 L2573.4,456.7 L2611.7,495.7 L2573.4,534.7Z M2573.4,456.7 Q2578.9,478.2 2581.4,500.2 Q2578.9,515.2 2573.4,534.7 M2535.1,495.7 L2581.4,500.2 L2611.7,495.7" fill="none" stroke="#1f5a68" stroke-width="1.1" stroke-opacity="0.85" stroke-linejoin="round"/>
<path d="M2611.6,495.7 L2649.9,456.7 Q2655.4,478.2 2657.9,500.2Z" fill="#4cb7c6"/><path d="M2649.9,456.7 L2688.2,495.7 L2657.9,500.2 Q2655.4,478.2 2649.9,456.7Z" fill="#98d3e9"/><path d="M2611.6,495.7 L2657.9,500.2 Q2655.4,515.2 2649.9,534.7Z" fill="#4cb7c6"/><path d="M2657.9,500.2 L2688.2,495.7 L2649.9,534.7 Q2655.4,515.2 2657.9,500.2Z" fill="#98d3e9"/><path d="M2611.6,495.7 L2649.9,456.7 L2688.2,495.7 L2649.9,534.7Z M2649.9,456.7 Q2655.4,478.2 2657.9,500.2 Q2655.4,515.2 2649.9,534.7 M2611.6,495.7 L2657.9,500.2 L2688.2,495.7" fill="none" stroke="#1f5a68" stroke-width="1.1" stroke-opacity="0.85" stroke-linejoin="round"/>
<path d="M2688.1,495.7 L2726.4,456.7 Q2731.9,478.2 2734.4,500.2Z" fill="#4cb7c6"/><path d="M2726.4,456.7 L2764.7,495.7 L2734.4,500.2 Q2731.9,478.2 2726.4,456.7Z" fill="#98d3e9"/><path d="M2688.1,495.7 L2734.4,500.2 Q2731.9,515.2 2726.4,534.7Z" fill="#4cb7c6"/><path d="M2734.4,500.2 L2764.7,495.7 L2726.4,534.7 Q2731.9,515.2 2734.4,500.2Z" fill="#98d3e9"/><path d="M2688.1,495.7 L2726.4,456.7 L2764.7,495.7 L2726.4,534.7Z M2726.4,456.7 Q2731.9,478.2 2734.4,500.2 Q2731.9,515.2 2726.4,534.7 M2688.1,495.7 L2734.4,500.2 L2764.7,495.7" fill="none" stroke="#1f5a68" stroke-width="1.1" stroke-opacity="0.85" stroke-linejoin="round"/>
<path d="M2764.6,495.7 L2802.9,456.7 Q2808.4,478.2 2810.9,500.2Z" fill="#4cb7c6"/><path d="M2802.9,456.7 L2841.2,495.7 L2810.9,500.2 Q2808.4,478.2 2802.9,456.7Z" fill="#98d3e9"/><path d="M2764.6,495.7 L2810.9,500.2 Q2808.4,515.2 2802.9,534.7Z" fill="#4cb7c6"/><path d="M2810.9,500.2 L2841.2,495.7 L2802.9,534.7 Q2808.4,515.2 2810.9,500.2Z" fill="#98d3e9"/><path d="M2764.6,495.7 L2802.9,456.7 L2841.2,495.7 L2802.9,534.7Z M2802.9,456.7 Q2808.4,478.2 2810.9,500.2 Q2808.4,515.2 2802.9,534.7 M2764.6,495.7 L2810.9,500.2 L2841.2,495.7" fill="none" stroke="#1f5a68" stroke-width="1.1" stroke-opacity="0.85" stroke-linejoin="round"/>
<path d="M2841.1,495.7 L2879.4,456.7 Q2884.9,478.2 2887.4,500.2Z" fill="#4cb7c6"/><path d="M2879.4,456.7 L2917.7,495.7 L2887.4,500.2 Q2884.9,478.2 2879.4,456.7Z" fill="#98d3e9"/><path d="M2841.1,495.7 L2887.4,500.2 Q2884.9,515.2 2879.4,534.7Z" fill="#4cb7c6"/><path d="M2887.4,500.2 L2917.7,495.7 L2879.4,534.7 Q2884.9,515.2 2887.4,500.2Z" fill="#98d3e9"/><path d="M2841.1,495.7 L2879.4,456.7 L2917.7,495.7 L2879.4,534.7Z M2879.4,456.7 Q2884.9,478.2 2887.4,500.2 Q2884.9,515.2 2879.4,534.7 M2841.1,495.7 L2887.4,500.2 L2917.7,495.7" fill="none" stroke="#1f5a68" stroke-width="1.1" stroke-opacity="0.85" stroke-linejoin="round"/>
<path d="M2917.6,495.7 L2955.9,456.7 Q2961.4,478.2 2963.9,500.2Z" fill="#4cb7c6"/><path d="M2955.9,456.7 L2994.2,495.7 L2963.9,500.2 Q2961.4,478.2 2955.9,456.7Z" fill="#98d3e9"/><path d="M2917.6,495.7 L2963.9,500.2 Q2961.4,515.2 2955.9,534.7Z" fill="#4cb7c6"/><path d="M2963.9,500.2 L2994.2,495.7 L2955.9,534.7 Q2961.4,515.2 2963.9,500.2Z" fill="#98d3e9"/><path d="M2917.6,495.7 L2955.9,456.7 L2994.2,495.7 L2955.9,534.7Z M2955.9,456.7 Q2961.4,478.2 2963.9,500.2 Q2961.4,515.2 2955.9,534.7 M2917.6,495.7 L2963.9,500.2 L2994.2,495.7" fill="none" stroke="#1f5a68" stroke-width="1.1" stroke-opacity="0.85" stroke-linejoin="round"/>
<path d="M2382.1,573.4 L2420.4,534.4 Q2425.9,555.9 2428.4,577.9Z" fill="#4cb7c6"/><path d="M2420.4,534.4 L2458.7,573.4 L2428.4,577.9 Q2425.9,555.9 2420.4,534.4Z" fill="#98d3e9"/><path d="M2382.1,573.4 L2428.4,577.9 Q2425.9,592.9 2420.4,612.4Z" fill="#4cb7c6"/><path d="M2428.4,577.9 L2458.7,573.4 L2420.4,612.4 Q2425.9,592.9 2428.4,577.9Z" fill="#98d3e9"/><path d="M2382.1,573.4 L2420.4,534.4 L2458.7,573.4 L2420.4,612.4Z M2420.4,534.4 Q2425.9,555.9 2428.4,577.9 Q2425.9,592.9 2420.4,612.4 M2382.1,573.4 L2428.4,577.9 L2458.7,573.4" fill="none" stroke="#1f5a68" stroke-width="1.1" stroke-opacity="0.85" stroke-linejoin="round"/>
<path d="M2458.6,573.4 L2496.9,534.4 Q2502.4,555.9 2504.9,577.9Z" fill="#4cb7c6"/><path d="M2496.9,534.4 L2535.2,573.4 L2504.9,577.9 Q2502.4,555.9 2496.9,534.4Z" fill="#98d3e9"/><path d="M2458.6,573.4 L2504.9,577.9 Q2502.4,592.9 2496.9,612.4Z" fill="#4cb7c6"/><path d="M2504.9,577.9 L2535.2,573.4 L2496.9,612.4 Q2502.4,592.9 2504.9,577.9Z" fill="#98d3e9"/><path d="M2458.6,573.4 L2496.9,534.4 L2535.2,573.4 L2496.9,612.4Z M2496.9,534.4 Q2502.4,555.9 2504.9,577.9 Q2502.4,592.9 2496.9,612.4 M2458.6,573.4 L2504.9,577.9 L2535.2,573.4" fill="none" stroke="#1f5a68" stroke-width="1.1" stroke-opacity="0.85" stroke-linejoin="round"/>
<path d="M2535.1,573.4 L2573.4,534.4 Q2578.9,555.9 2581.4,577.9Z" fill="#4cb7c6"/><path d="M2573.4,534.4 L2611.7,573.4 L2581.4,577.9 Q2578.9,555.9 2573.4,534.4Z" fill="#98d3e9"/><path d="M2535.1,573.4 L2581.4,577.9 Q2578.9,592.9 2573.4,612.4Z" fill="#4cb7c6"/><path d="M2581.4,577.9 L2611.7,573.4 L2573.4,612.4 Q2578.9,592.9 2581.4,577.9Z" fill="#98d3e9"/><path d="M2535.1,573.4 L2573.4,534.4 L2611.7,573.4 L2573.4,612.4Z M2573.4,534.4 Q2578.9,555.9 2581.4,577.9 Q2578.9,592.9 2573.4,612.4 M2535.1,573.4 L2581.4,577.9 L2611.7,573.4" fill="none" stroke="#1f5a68" stroke-width="1.1" stroke-opacity="0.85" stroke-linejoin="round"/>
<path d="M2611.6,573.4 L2649.9,534.4 Q2655.4,555.9 2657.9,577.9Z" fill="#4cb7c6"/><path d="M2649.9,534.4 L2688.2,573.4 L2657.9,577.9 Q2655.4,555.9 2649.9,534.4Z" fill="#98d3e9"/><path d="M2611.6,573.4 L2657.9,577.9 Q2655.4,592.9 2649.9,612.4Z" fill="#4cb7c6"/><path d="M2657.9,577.9 L2688.2,573.4 L2649.9,612.4 Q2655.4,592.9 2657.9,577.9Z" fill="#98d3e9"/><path d="M2611.6,573.4 L2649.9,534.4 L2688.2,573.4 L2649.9,612.4Z M2649.9,534.4 Q2655.4,555.9 2657.9,577.9 Q2655.4,592.9 2649.9,612.4 M2611.6,573.4 L2657.9,577.9 L2688.2,573.4" fill="none" stroke="#1f5a68" stroke-width="1.1" stroke-opacity="0.85" stroke-linejoin="round"/>
<path d="M2688.1,573.4 L2726.4,534.4 Q2731.9,555.9 2734.4,577.9Z" fill="#4cb7c6"/><path d="M2726.4,534.4 L2764.7,573.4 L2734.4,577.9 Q2731.9,555.9 2726.4,534.4Z" fill="#98d3e9"/><path d="M2688.1,573.4 L2734.4,577.9 Q2731.9,592.9 2726.4,612.4Z" fill="#4cb7c6"/><path d="M2734.4,577.9 L2764.7,573.4 L2726.4,612.4 Q2731.9,592.9 2734.4,577.9Z" fill="#98d3e9"/><path d="M2688.1,573.4 L2726.4,534.4 L2764.7,573.4 L2726.4,612.4Z M2726.4,534.4 Q2731.9,555.9 2734.4,577.9 Q2731.9,592.9 2726.4,612.4 M2688.1,573.4 L2734.4,577.9 L2764.7,573.4" fill="none" stroke="#1f5a68" stroke-width="1.1" stroke-opacity="0.85" stroke-linejoin="round"/>
<path d="M2764.6,573.4 L2802.9,534.4 Q2808.4,555.9 2810.9,577.9Z" fill="#4cb7c6"/><path d="M2802.9,534.4 L2841.2,573.4 L2810.9,577.9 Q2808.4,555.9 2802.9,534.4Z" fill="#98d3e9"/><path d="M2764.6,573.4 L2810.9,577.9 Q2808.4,592.9 2802.9,612.4Z" fill="#4cb7c6"/><path d="M2810.9,577.9 L2841.2,573.4 L2802.9,612.4 Q2808.4,592.9 2810.9,577.9Z" fill="#98d3e9"/><path d="M2764.6,573.4 L2802.9,534.4 L2841.2,573.4 L2802.9,612.4Z M2802.9,534.4 Q2808.4,555.9 2810.9,577.9 Q2808.4,592.9 2802.9,612.4 M2764.6,573.4 L2810.9,577.9 L2841.2,573.4" fill="none" stroke="#1f5a68" stroke-width="1.1" stroke-opacity="0.85" stroke-linejoin="round"/>
<path d="M2841.1,573.4 L2879.4,534.4 Q2884.9,555.9 2887.4,577.9Z" fill="#4cb7c6"/><path d="M2879.4,534.4 L2917.7,573.4 L2887.4,577.9 Q2884.9,555.9 2879.4,534.4Z" fill="#98d3e9"/><path d="M2841.1,573.4 L2887.4,577.9 Q2884.9,592.9 2879.4,612.4Z" fill="#4cb7c6"/><path d="M2887.4,577.9 L2917.7,573.4 L2879.4,612.4 Q2884.9,592.9 2887.4,577.9Z" fill="#98d3e9"/><path d="M2841.1,573.4 L2879.4,534.4 L2917.7,573.4 L2879.4,612.4Z M2879.4,534.4 Q2884.9,555.9 2887.4,577.9 Q2884.9,592.9 2879.4,612.4 M2841.1,573.4 L2887.4,577.9 L2917.7,573.4" fill="none" stroke="#1f5a68" stroke-width="1.1" stroke-opacity="0.85" stroke-linejoin="round"/>
<path d="M2917.6,573.4 L2955.9,534.4 Q2961.4,555.9 2963.9,577.9Z" fill="#4cb7c6"/><path d="M2955.9,534.4 L2994.2,573.4 L2963.9,577.9 Q2961.4,555.9 2955.9,534.4Z" fill="#98d3e9"/><path d="M2917.6,573.4 L2963.9,577.9 Q2961.4,592.9 2955.9,612.4Z" fill="#4cb7c6"/><path d="M2963.9,577.9 L2994.2,573.4 L2955.9,612.4 Q2961.4,592.9 2963.9,577.9Z" fill="#98d3e9"/><path d="M2917.6,573.4 L2955.9,534.4 L2994.2,573.4 L2955.9,612.4Z M2955.9,534.4 Q2961.4,555.9 2963.9,577.9 Q2961.4,592.9 2955.9,612.4 M2917.6,573.4 L2963.9,577.9 L2994.2,573.4" fill="none" stroke="#1f5a68" stroke-width="1.1" stroke-opacity="0.85" stroke-linejoin="round"/>
<path d="M2382.1,651.1 L2420.4,612.1 Q2425.9,633.6 2428.4,655.6Z" fill="#4cb7c6"/><path d="M2420.4,612.1 L2458.7,651.1 L2428.4,655.6 Q2425.9,633.6 2420.4,612.1Z" fill="#98d3e9"/><path d="M2382.1,651.1 L2428.4,655.6 Q2425.9,670.6 2420.4,690.1Z" fill="#4cb7c6"/><path d="M2428.4,655.6 L2458.7,651.1 L2420.4,690.1 Q2425.9,670.6 2428.4,655.6Z" fill="#98d3e9"/><path d="M2382.1,651.1 L2420.4,612.1 L2458.7,651.1 L2420.4,690.1Z M2420.4,612.1 Q2425.9,633.6 2428.4,655.6 Q2425.9,670.6 2420.4,690.1 M2382.1,651.1 L2428.4,655.6 L2458.7,651.1" fill="none" stroke="#1f5a68" stroke-width="1.1" stroke-opacity="0.85" stroke-linejoin="round"/>
<path d="M2458.6,651.1 L2496.9,612.1 Q2502.4,633.6 2504.9,655.6Z" fill="#4cb7c6"/><path d="M2496.9,612.1 L2535.2,651.1 L2504.9,655.6 Q2502.4,633.6 2496.9,612.1Z" fill="#98d3e9"/><path d="M2458.6,651.1 L2504.9,655.6 Q2502.4,670.6 2496.9,690.1Z" fill="#4cb7c6"/><path d="M2504.9,655.6 L2535.2,651.1 L2496.9,690.1 Q2502.4,670.6 2504.9,655.6Z" fill="#98d3e9"/><path d="M2458.6,651.1 L2496.9,612.1 L2535.2,651.1 L2496.9,690.1Z M2496.9,612.1 Q2502.4,633.6 2504.9,655.6 Q2502.4,670.6 2496.9,690.1 M2458.6,651.1 L2504.9,655.6 L2535.2,651.1" fill="none" stroke="#1f5a68" stroke-width="1.1" stroke-opacity="0.85" stroke-linejoin="round"/>
<path d="M2535.1,651.1 L2573.4,612.1 Q2578.9,633.6 2581.4,655.6Z" fill="#4cb7c6"/><path d="M2573.4,612.1 L2611.7,651.1 L2581.4,655.6 Q2578.9,633.6 2573.4,612.1Z" fill="#98d3e9"/><path d="M2535.1,651.1 L2581.4,655.6 Q2578.9,670.6 2573.4,690.1Z" fill="#4cb7c6"/><path d="M2581.4,655.6 L2611.7,651.1 L2573.4,690.1 Q2578.9,670.6 2581.4,655.6Z" fill="#98d3e9"/><path d="M2535.1,651.1 L2573.4,612.1 L2611.7,651.1 L2573.4,690.1Z M2573.4,612.1 Q2578.9,633.6 2581.4,655.6 Q2578.9,670.6 2573.4,690.1 M2535.1,651.1 L2581.4,655.6 L2611.7,651.1" fill="none" stroke="#1f5a68" stroke-width="1.1" stroke-opacity="0.85" stroke-linejoin="round"/>
<path d="M2611.6,651.1 L2649.9,612.1 Q2655.4,633.6 2657.9,655.6Z" fill="#4cb7c6"/><path d="M2649.9,612.1 L2688.2,651.1 L2657.9,655.6 Q2655.4,633.6 2649.9,612.1Z" fill="#98d3e9"/><path d="M2611.6,651.1 L2657.9,655.6 Q2655.4,670.6 2649.9,690.1Z" fill="#4cb7c6"/><path d="M2657.9,655.6 L2688.2,651.1 L2649.9,690.1 Q2655.4,670.6 2657.9,655.6Z" fill="#98d3e9"/><path d="M2611.6,651.1 L2649.9,612.1 L2688.2,651.1 L2649.9,690.1Z M2649.9,612.1 Q2655.4,633.6 2657.9,655.6 Q2655.4,670.6 2649.9,690.1 M2611.6,651.1 L2657.9,655.6 L2688.2,651.1" fill="none" stroke="#1f5a68" stroke-width="1.1" stroke-opacity="0.85" stroke-linejoin="round"/>
<path d="M2688.1,651.1 L2726.4,612.1 Q2731.9,633.6 2734.4,655.6Z" fill="#4cb7c6"/><path d="M2726.4,612.1 L2764.7,651.1 L2734.4,655.6 Q2731.9,633.6 2726.4,612.1Z" fill="#98d3e9"/><path d="M2688.1,651.1 L2734.4,655.6 Q2731.9,670.6 2726.4,690.1Z" fill="#4cb7c6"/><path d="M2734.4,655.6 L2764.7,651.1 L2726.4,690.1 Q2731.9,670.6 2734.4,655.6Z" fill="#98d3e9"/><path d="M2688.1,651.1 L2726.4,612.1 L2764.7,651.1 L2726.4,690.1Z M2726.4,612.1 Q2731.9,633.6 2734.4,655.6 Q2731.9,670.6 2726.4,690.1 M2688.1,651.1 L2734.4,655.6 L2764.7,651.1" fill="none" stroke="#1f5a68" stroke-width="1.1" stroke-opacity="0.85" stroke-linejoin="round"/>
<path d="M2764.6,651.1 L2802.9,612.1 Q2808.4,633.6 2810.9,655.6Z" fill="#4cb7c6"/><path d="M2802.9,612.1 L2841.2,651.1 L2810.9,655.6 Q2808.4,633.6 2802.9,612.1Z" fill="#98d3e9"/><path d="M2764.6,651.1 L2810.9,655.6 Q2808.4,670.6 2802.9,690.1Z" fill="#4cb7c6"/><path d="M2810.9,655.6 L2841.2,651.1 L2802.9,690.1 Q2808.4,670.6 2810.9,655.6Z" fill="#98d3e9"/><path d="M2764.6,651.1 L2802.9,612.1 L2841.2,651.1 L2802.9,690.1Z M2802.9,612.1 Q2808.4,633.6 2810.9,655.6 Q2808.4,670.6 2802.9,690.1 M2764.6,651.1 L2810.9,655.6 L2841.2,651.1" fill="none" stroke="#1f5a68" stroke-width="1.1" stroke-opacity="0.85" stroke-linejoin="round"/>
<path d="M2841.1,651.1 L2879.4,612.1 Q2884.9,633.6 2887.4,655.6Z" fill="#4cb7c6"/><path d="M2879.4,612.1 L2917.7,651.1 L2887.4,655.6 Q2884.9,633.6 2879.4,612.1Z" fill="#98d3e9"/><path d="M2841.1,651.1 L2887.4,655.6 Q2884.9,670.6 2879.4,690.1Z" fill="#4cb7c6"/><path d="M2887.4,655.6 L2917.7,651.1 L2879.4,690.1 Q2884.9,670.6 2887.4,655.6Z" fill="#98d3e9"/><path d="M2841.1,651.1 L2879.4,612.1 L2917.7,651.1 L2879.4,690.1Z M2879.4,612.1 Q2884.9,633.6 2887.4,655.6 Q2884.9,670.6 2879.4,690.1 M2841.1,651.1 L2887.4,655.6 L2917.7,651.1" fill="none" stroke="#1f5a68" stroke-width="1.1" stroke-opacity="0.85" stroke-linejoin="round"/>
<path d="M2917.6,651.1 L2955.9,612.1 Q2961.4,633.6 2963.9,655.6Z" fill="#4cb7c6"/><path d="M2955.9,612.1 L2994.2,651.1 L2963.9,655.6 Q2961.4,633.6 2955.9,612.1Z" fill="#98d3e9"/><path d="M2917.6,651.1 L2963.9,655.6 Q2961.4,670.6 2955.9,690.1Z" fill="#4cb7c6"/><path d="M2963.9,655.6 L2994.2,651.1 L2955.9,690.1 Q2961.4,670.6 2963.9,655.6Z" fill="#98d3e9"/><path d="M2917.6,651.1 L2955.9,612.1 L2994.2,651.1 L2955.9,690.1Z M2955.9,612.1 Q2961.4,633.6 2963.9,655.6 Q2961.4,670.6 2955.9,690.1 M2917.6,651.1 L2963.9,655.6 L2994.2,651.1" fill="none" stroke="#1f5a68" stroke-width="1.1" stroke-opacity="0.85" stroke-linejoin="round"/>
<circle cx="2458.7" cy="223.8" r="17.2" fill="url(#gR)" stroke="#9a3a3a" stroke-width="1"/>
<circle cx="2535.2" cy="223.8" r="17.2" fill="url(#gR)" stroke="#9a3a3a" stroke-width="1"/>
<circle cx="2611.7" cy="223.8" r="17.2" fill="url(#gR)" stroke="#9a3a3a" stroke-width="1"/>
<circle cx="2688.2" cy="223.8" r="17.2" fill="url(#gR)" stroke="#9a3a3a" stroke-width="1"/>
<circle cx="2764.7" cy="223.8" r="17.2" fill="url(#gR)" stroke="#9a3a3a" stroke-width="1"/>
<circle cx="2841.2" cy="223.8" r="17.2" fill="url(#gR)" stroke="#9a3a3a" stroke-width="1"/>
<circle cx="2917.7" cy="223.8" r="17.2" fill="url(#gR)" stroke="#9a3a3a" stroke-width="1"/>
<circle cx="2458.7" cy="301.4" r="17.2" fill="url(#gR)" stroke="#9a3a3a" stroke-width="1"/>
<circle cx="2535.2" cy="301.4" r="17.2" fill="url(#gR)" stroke="#9a3a3a" stroke-width="1"/>
<circle cx="2611.7" cy="301.4" r="17.2" fill="url(#gR)" stroke="#9a3a3a" stroke-width="1"/>
<circle cx="2688.2" cy="301.4" r="17.2" fill="url(#gR)" stroke="#9a3a3a" stroke-width="1"/>
<circle cx="2764.7" cy="301.4" r="17.2" fill="url(#gR)" stroke="#9a3a3a" stroke-width="1"/>
<circle cx="2841.2" cy="301.4" r="17.2" fill="url(#gR)" stroke="#9a3a3a" stroke-width="1"/>
<circle cx="2917.7" cy="301.4" r="17.2" fill="url(#gR)" stroke="#9a3a3a" stroke-width="1"/>
<circle cx="2458.7" cy="379.1" r="17.2" fill="url(#gR)" stroke="#9a3a3a" stroke-width="1"/>
<circle cx="2535.2" cy="379.1" r="17.2" fill="url(#gR)" stroke="#9a3a3a" stroke-width="1"/>
<circle cx="2611.7" cy="379.1" r="17.2" fill="url(#gR)" stroke="#9a3a3a" stroke-width="1"/>
<circle cx="2688.2" cy="379.1" r="17.2" fill="url(#gR)" stroke="#9a3a3a" stroke-width="1"/>
<circle cx="2764.7" cy="379.1" r="17.2" fill="url(#gR)" stroke="#9a3a3a" stroke-width="1"/>
<circle cx="2841.2" cy="379.1" r="17.2" fill="url(#gR)" stroke="#9a3a3a" stroke-width="1"/>
<circle cx="2917.7" cy="379.1" r="17.2" fill="url(#gR)" stroke="#9a3a3a" stroke-width="1"/>
<circle cx="2458.7" cy="456.9" r="17.2" fill="url(#gR)" stroke="#9a3a3a" stroke-width="1"/>
<circle cx="2535.2" cy="456.9" r="17.2" fill="url(#gR)" stroke="#9a3a3a" stroke-width="1"/>
<circle cx="2611.7" cy="456.9" r="17.2" fill="url(#gR)" stroke="#9a3a3a" stroke-width="1"/>
<circle cx="2688.2" cy="456.9" r="17.2" fill="url(#gR)" stroke="#9a3a3a" stroke-width="1"/>
<circle cx="2764.7" cy="456.9" r="17.2" fill="url(#gR)" stroke="#9a3a3a" stroke-width="1"/>
<circle cx="2841.2" cy="456.9" r="17.2" fill="url(#gR)" stroke="#9a3a3a" stroke-width="1"/>
<circle cx="2917.7" cy="456.9" r="17.2" fill="url(#gR)" stroke="#9a3a3a" stroke-width="1"/>
<circle cx="2458.7" cy="534.5" r="17.2" fill="url(#gR)" stroke="#9a3a3a" stroke-width="1"/>
<circle cx="2535.2" cy="534.5" r="17.2" fill="url(#gR)" stroke="#9a3a3a" stroke-width="1"/>
<circle cx="2611.7" cy="534.5" r="17.2" fill="url(#gR)" stroke="#9a3a3a" stroke-width="1"/>
<circle cx="2688.2" cy="534.5" r="17.2" fill="url(#gR)" stroke="#9a3a3a" stroke-width="1"/>
<circle cx="2764.7" cy="534.5" r="17.2" fill="url(#gR)" stroke="#9a3a3a" stroke-width="1"/>
<circle cx="2841.2" cy="534.5" r="17.2" fill="url(#gR)" stroke="#9a3a3a" stroke-width="1"/>
<circle cx="2917.7" cy="534.5" r="17.2" fill="url(#gR)" stroke="#9a3a3a" stroke-width="1"/>
<circle cx="2458.7" cy="612.2" r="17.2" fill="url(#gR)" stroke="#9a3a3a" stroke-width="1"/>
<circle cx="2535.2" cy="612.2" r="17.2" fill="url(#gR)" stroke="#9a3a3a" stroke-width="1"/>
<circle cx="2611.7" cy="612.2" r="17.2" fill="url(#gR)" stroke="#9a3a3a" stroke-width="1"/>
<circle cx="2688.2" cy="612.2" r="17.2" fill="url(#gR)" stroke="#9a3a3a" stroke-width="1"/>
<circle cx="2764.7" cy="612.2" r="17.2" fill="url(#gR)" stroke="#9a3a3a" stroke-width="1"/>
<circle cx="2841.2" cy="612.2" r="17.2" fill="url(#gR)" stroke="#9a3a3a" stroke-width="1"/>
<circle cx="2917.7" cy="612.2" r="17.2" fill="url(#gR)" stroke="#9a3a3a" stroke-width="1"/>
</g>
<path d="M703,221 C740,216 780,200 795,175 C805,150 820,130 880,119" fill="none" stroke="#b2222a" stroke-width="2.6"/>
<path d="M897.0,118.0 L877.7,127.5 L876.4,111.6Z" fill="#b2222a"/>
<line x1="315" y1="611" x2="315" y2="468" stroke="#b2222a" stroke-width="2.6"/>
<path d="M315.0,450.0 L322.0,470.0 L308.0,470.0Z" fill="#b2222a"/>
<line x1="590" y1="647" x2="598" y2="508" stroke="#b2222a" stroke-width="2.6"/>
<path d="M599.0,490.0 L605.0,510.3 L591.0,509.6Z" fill="#b2222a"/>
<text x="46.0" y="533.0" font-size="35" font-weight="bold" fill="#b2222a" >A-site cation</text>
<text x="46.0" y="575.0" font-size="35" font-weight="bold" fill="#b2222a" >segregation</text>
<text x="504.0" y="700.0" font-size="35.2" font-weight="bold" fill="#b2222a" >Halide segregation</text>
<text x="814.0" y="204.0" font-size="35" font-weight="bold" fill="#b2222a" >MA<tspan dy="-13" font-size="22">+</tspan><tspan dy="13"> decomposition</tspan></text>
<path d="M1653,380 C1655,320 1680,250 1760,228 C1830,215 1880,215 1905,140" fill="none" stroke="#b2222a" stroke-width="2.6"/>
<path d="M1923.0,81.0 L1922.1,102.2 L1909.1,97.0Z" fill="#b2222a"/>
<path d="M1905,140 C1915,115 1918,105 1916,100" fill="none" stroke="#b2222a" stroke-width="2.6"/>
<text x="1792.0" y="196.0" font-size="35" font-weight="bold" fill="#b2222a" >MA<tspan dy="-13" font-size="22">+</tspan><tspan dy="13"> decomposition</tspan></text>
<line x1="1424" y1="543" x2="1576" y2="670" stroke="#b2222a" stroke-width="2.6"/>
<path d="M1591.0,682.0 L1570.7,675.4 L1580.1,663.6Z" fill="#b2222a"/>
<line x1="1777" y1="421" x2="1881" y2="662" stroke="#b2222a" stroke-width="2.6"/>
<path d="M1888.0,680.0 L1873.8,664.1 L1887.7,658.6Z" fill="#b2222a"/>
<text x="1376.0" y="718.0" font-size="35" font-weight="bold" fill="#b2222a" >MA<tspan dy="-13" font-size="22">+</tspan><tspan dy="13">&amp;H</tspan><tspan dy="-13" font-size="22">+</tspan><tspan dy="13"> migration</tspan></text>
<text x="1811.0" y="718.0" font-size="35" font-weight="bold" fill="#b2222a" >Cl<tspan dy="-13" font-size="22">&#8211;</tspan><tspan dy="13"> migration</tspan></text>
<text x="793.0" y="388.0" font-size="52" fill="#000" font-family="DejaVu Sans">&#10003;</text>
<text x="871.0" y="384.0" font-size="38" font-weight="bold" fill="#000" >Dedoping</text>
<text x="793.0" y="482.0" font-size="52" fill="#000" font-family="DejaVu Sans">&#10003;</text>
<text x="871.0" y="478.0" font-size="38" font-weight="bold" fill="#000" >Improved stability</text>
<text x="793.0" y="526.0" font-size="52" fill="#000" font-family="DejaVu Sans">&#10003;</text>
<text x="871.0" y="522.0" font-size="38" font-weight="bold" fill="#000" >Reduced band gap</text>
<path d="M829,405.5 L1191,405.5 L1191,392 L1219,420 L1191,448 L1191,434.5 L829,434.5Z" fill="#b3d5a0"/>
<text x="1915.0" y="390.0" font-size="52" fill="#000" font-family="DejaVu Sans">&#10003;</text>
<text x="1993.0" y="386.0" font-size="38" font-weight="bold" fill="#000" >Dedoping</text>
<text x="1915.0" y="482.0" font-size="52" fill="#000" font-family="DejaVu Sans">&#10003;</text>
<text x="1993.0" y="478.0" font-size="38" font-weight="bold" fill="#000" >Improved stability</text>
<text x="1915.0" y="527.0" font-size="52" fill="#000" font-family="DejaVu Sans">&#10003;</text>
<text x="1993.0" y="523.0" font-size="38" font-weight="bold" fill="#000" >Reduced band gap</text>
<path d="M1936,404.5 L2298,404.5 L2298,391 L2325,419 L2298,447 L2298,433.5 L1936,433.5Z" fill="#b3d5a0"/>
<text x="161.0" y="789.0" font-size="50" font-weight="bold" fill="#000" >(FA<tspan dy="14" font-size="35">1-x-y</tspan><tspan dy="-14">MA</tspan><tspan dy="14" font-size="35">x</tspan><tspan dy="-14">Cs</tspan><tspan dy="14" font-size="35">y</tspan><tspan dy="-14">)Pb(I</tspan><tspan dy="14" font-size="35">3-i-j</tspan><tspan dy="-14">Br</tspan><tspan dy="14" font-size="35">i</tspan><tspan dy="-14">Cl</tspan><tspan dy="14" font-size="35">j</tspan><tspan dy="-14">)</tspan></text>
<text x="1452.0" y="789.0" font-size="50.5" font-weight="bold" fill="#000" >FAPbI<tspan dy="14" font-size="35">3</tspan><tspan dy="-14"> (MACl)</tspan></text>
<text x="2432.0" y="789.0" font-size="51" font-weight="bold" fill="#000" >Composition-pure FAPbI<tspan dy="14" font-size="35">3</tspan><tspan dy="-14"></tspan></text>
<path d="M3092.0,194.0 L3128.0,158.0 Q3133.5,177.8 3136.0,198.5Z" fill="#4cb7c6"/><path d="M3128.0,158.0 L3164.0,194.0 L3136.0,198.5 Q3133.5,177.8 3128.0,158.0Z" fill="#98d3e9"/><path d="M3092.0,194.0 L3136.0,198.5 Q3133.5,212.0 3128.0,230.0Z" fill="#4cb7c6"/><path d="M3136.0,198.5 L3164.0,194.0 L3128.0,230.0 Q3133.5,212.0 3136.0,198.5Z" fill="#98d3e9"/><path d="M3092.0,194.0 L3128.0,158.0 L3164.0,194.0 L3128.0,230.0Z M3128.0,158.0 Q3133.5,177.8 3136.0,198.5 Q3133.5,212.0 3128.0,230.0 M3092.0,194.0 L3136.0,198.5 L3164.0,194.0" fill="none" stroke="#1f5a68" stroke-width="1.1" stroke-opacity="0.85" stroke-linejoin="round"/>
<path d="M3092.0,312.0 L3128.0,276.0 Q3133.5,295.8 3136.0,316.5Z" fill="#f5b824"/><path d="M3128.0,276.0 L3164.0,312.0 L3136.0,316.5 Q3133.5,295.8 3128.0,276.0Z" fill="#f9dc94"/><path d="M3092.0,312.0 L3136.0,316.5 Q3133.5,330.0 3128.0,348.0Z" fill="#f5b824"/><path d="M3136.0,316.5 L3164.0,312.0 L3128.0,348.0 Q3133.5,330.0 3136.0,316.5Z" fill="#f9dc94"/><path d="M3092.0,312.0 L3128.0,276.0 L3164.0,312.0 L3128.0,348.0Z M3128.0,276.0 Q3133.5,295.8 3136.0,316.5 Q3133.5,330.0 3128.0,348.0 M3092.0,312.0 L3136.0,316.5 L3164.0,312.0" fill="none" stroke="#7a5a10" stroke-width="1.1" stroke-opacity="0.85" stroke-linejoin="round"/>
<path d="M3092.0,434.0 L3128.0,398.0 Q3133.5,417.8 3136.0,438.5Z" fill="#6468b4"/><path d="M3128.0,398.0 L3164.0,434.0 L3136.0,438.5 Q3133.5,417.8 3128.0,398.0Z" fill="#a49fd4"/><path d="M3092.0,434.0 L3136.0,438.5 Q3133.5,452.0 3128.0,470.0Z" fill="#6468b4"/><path d="M3136.0,438.5 L3164.0,434.0 L3128.0,470.0 Q3133.5,452.0 3136.0,438.5Z" fill="#a49fd4"/><path d="M3092.0,434.0 L3128.0,398.0 L3164.0,434.0 L3128.0,470.0Z M3128.0,398.0 Q3133.5,417.8 3136.0,438.5 Q3133.5,452.0 3128.0,470.0 M3092.0,434.0 L3136.0,438.5 L3164.0,434.0" fill="none" stroke="#3a3a7a" stroke-width="1.1" stroke-opacity="0.85" stroke-linejoin="round"/>
<text x="3183.0" y="210.0" font-size="44" fill="#000" >[PbI<tspan dy="12" font-size="32">6</tspan><tspan dy="-12">]</tspan><tspan dy="-16" font-size="30">4&#8211;</tspan></text>
<text x="3183.0" y="328.0" font-size="44" fill="#000" >[Pb(I, Br)<tspan dy="12" font-size="32">6</tspan><tspan dy="-12">]</tspan><tspan dy="-16" font-size="30">4&#8211;</tspan></text>
<text x="3176.0" y="450.0" font-size="44" fill="#000" >[PbI<tspan dy="12" font-size="32">6</tspan><tspan dy="-12">]</tspan><tspan dy="-16" font-size="30">4&#8211;</tspan><tspan dy="16"> (Cl)</tspan></text>
<circle cx="3128.0" cy="533.0" r="16.5" fill="url(#gG)" stroke="#2d6b3a" stroke-width="1"/>
<circle cx="3128.0" cy="612.0" r="16.5" fill="url(#gR)" stroke="#9a3a3a" stroke-width="1"/>
<circle cx="3128.0" cy="687.0" r="13" fill="url(#gK)" stroke="#222" stroke-width="1"/>
<text x="3183.0" y="545.0" font-size="44" fill="#000" >MA<tspan dy="-16" font-size="30">+</tspan></text>
<text x="3183.0" y="624.0" font-size="44" fill="#000" >FA<tspan dy="-16" font-size="30">+</tspan></text>
<text x="3183.0" y="700.0" font-size="44" fill="#000" >Cs<tspan dy="-16" font-size="30">+</tspan></text>
<text x="12" y="1012" font-size="92" font-weight="bold" fill="#1a1a1a" transform="translate(12,0) scale(0.767,1) translate(-12,0)">B</text>
<text x="181.0" y="948.0" font-size="51.3" font-weight="bold" fill="#7b4f8c" >I<tspan dy="13" font-size="36">2</tspan><tspan dy="-13"> intercalation</tspan></text>
<text x="1248.0" y="990.0" font-size="51.2" font-weight="bold" fill="#7b4f8c" >I<tspan dy="13" font-size="36">2</tspan><tspan dy="-13"> decalation</tspan></text>
<text x="118.0" y="1611.0" font-size="50.8" font-weight="bold" fill="#000" >Perovskite-iodine cluster</text>
<text x="936.0" y="1347.0" font-size="51" font-weight="bold" fill="#000" >Annealing</text>
<text x="2097.0" y="1507.0" font-size="50.5" font-weight="bold" fill="#000" >Growing</text>
<text x="2533.0" y="1559.0" font-size="50.3" font-weight="bold" fill="#000" >&#945;-FAPbI<tspan dy="13" font-size="34">3</tspan><tspan dy="-13"> crystal</tspan></text>
<line x1="353.0" y1="1336.0" x2="347.2" y2="1393.7" stroke="#3b2466" stroke-width="3"/><circle cx="350.0" cy="1365.9" r="10" fill="url(#bP)"/><circle cx="347.2" cy="1393.7" r="10" fill="url(#bP)"/>
<line x1="265.0" y1="1315.0" x2="253.6" y2="1371.9" stroke="#3b2466" stroke-width="3"/><circle cx="259.1" cy="1344.4" r="10" fill="url(#bP)"/><circle cx="253.6" cy="1371.9" r="10" fill="url(#bP)"/>
<line x1="177.0" y1="1294.0" x2="165.6" y2="1350.9" stroke="#3b2466" stroke-width="3"/><circle cx="171.1" cy="1323.4" r="10" fill="url(#bP)"/><circle cx="165.6" cy="1350.9" r="10" fill="url(#bP)"/>
<line x1="409.5" y1="1304.5" x2="465.8" y2="1318.6" stroke="#3b2466" stroke-width="3"/><circle cx="438.6" cy="1311.8" r="10" fill="url(#bP)"/><circle cx="465.8" cy="1318.6" r="10" fill="url(#bP)"/>
<line x1="434.5" y1="1220.5" x2="490.8" y2="1234.6" stroke="#3b2466" stroke-width="3"/><circle cx="463.6" cy="1227.8" r="10" fill="url(#bP)"/><circle cx="490.8" cy="1234.6" r="10" fill="url(#bP)"/>
<line x1="145.5" y1="1241.5" x2="89.2" y2="1227.4" stroke="#3b2466" stroke-width="3"/><circle cx="116.4" cy="1234.2" r="10" fill="url(#bP)"/><circle cx="89.2" cy="1227.4" r="10" fill="url(#bP)"/>
<line x1="170.5" y1="1157.5" x2="114.2" y2="1143.4" stroke="#3b2466" stroke-width="3"/><circle cx="141.4" cy="1150.2" r="10" fill="url(#bP)"/><circle cx="114.2" cy="1143.4" r="10" fill="url(#bP)"/>
<line x1="195.5" y1="1073.5" x2="139.2" y2="1059.4" stroke="#3b2466" stroke-width="3"/><circle cx="166.4" cy="1066.2" r="10" fill="url(#bP)"/><circle cx="139.2" cy="1059.4" r="10" fill="url(#bP)"/>
<line x1="428.0" y1="1084.0" x2="416.6" y2="1027.1" stroke="#3b2466" stroke-width="3"/><circle cx="422.1" cy="1054.6" r="10" fill="url(#bP)"/><circle cx="416.6" cy="1027.1" r="10" fill="url(#bP)"/>
<line x1="340.0" y1="1063.0" x2="328.6" y2="1006.1" stroke="#3b2466" stroke-width="3"/><circle cx="334.1" cy="1033.6" r="10" fill="url(#bP)"/><circle cx="328.6" cy="1006.1" r="10" fill="url(#bP)"/>
<line x1="252.0" y1="1042.0" x2="243.4" y2="984.6" stroke="#3b2466" stroke-width="3"/><circle cx="247.5" cy="1012.3" r="10" fill="url(#bP)"/><circle cx="243.4" cy="984.6" r="10" fill="url(#bP)"/>
<path d="M160.8,1117.7 L182.8,1043.8 L211.8,1037.8 L289.2,1056.3 L267.2,1130.2 L238.2,1136.2Z" fill="#a9c6ec" fill-opacity="0.42" stroke="#e8f0fb" stroke-width="2.2" stroke-linejoin="round"/>
<path d="M211.8,1037.8 L289.2,1056.3 L267.2,1130.2 L189.8,1111.7Z" fill="#8fb0e0" fill-opacity="0.3" stroke="#dfe9f8" stroke-width="1.5" stroke-opacity="0.8"/>
<path d="M189.8,1078.6 L260.2,1095.4 M235.0,1053.4 L215.0,1120.6" stroke="#c9daf3" stroke-width="1.5" opacity="0.7"/>
<path d="M135.8,1201.7 L157.8,1127.8 L186.8,1121.8 L264.2,1140.3 L242.2,1214.2 L213.2,1220.2Z" fill="#a9c6ec" fill-opacity="0.42" stroke="#e8f0fb" stroke-width="2.2" stroke-linejoin="round"/>
<path d="M186.8,1121.8 L264.2,1140.3 L242.2,1214.2 L164.8,1195.7Z" fill="#8fb0e0" fill-opacity="0.3" stroke="#dfe9f8" stroke-width="1.5" stroke-opacity="0.8"/>
<path d="M164.8,1162.6 L235.2,1179.4 M210.0,1137.4 L190.0,1204.6" stroke="#c9daf3" stroke-width="1.5" opacity="0.7"/>
<path d="M110.8,1285.7 L132.8,1211.8 L161.8,1205.8 L239.2,1224.3 L217.2,1298.2 L188.2,1304.2Z" fill="#a9c6ec" fill-opacity="0.42" stroke="#e8f0fb" stroke-width="2.2" stroke-linejoin="round"/>
<path d="M161.8,1205.8 L239.2,1224.3 L217.2,1298.2 L139.8,1279.7Z" fill="#8fb0e0" fill-opacity="0.3" stroke="#dfe9f8" stroke-width="1.5" stroke-opacity="0.8"/>
<path d="M139.8,1246.6 L210.2,1263.4 M185.0,1221.4 L165.0,1288.6" stroke="#c9daf3" stroke-width="1.5" opacity="0.7"/>
<path d="M248.8,1138.7 L270.8,1064.8 L299.8,1058.8 L377.2,1077.3 L355.2,1151.2 L326.2,1157.2Z" fill="#a9c6ec" fill-opacity="0.42" stroke="#e8f0fb" stroke-width="2.2" stroke-linejoin="round"/>
<path d="M299.8,1058.8 L377.2,1077.3 L355.2,1151.2 L277.8,1132.7Z" fill="#8fb0e0" fill-opacity="0.3" stroke="#dfe9f8" stroke-width="1.5" stroke-opacity="0.8"/>
<path d="M277.8,1099.6 L348.2,1116.4 M323.0,1074.4 L303.0,1141.6" stroke="#c9daf3" stroke-width="1.5" opacity="0.7"/>
<path d="M223.8,1222.7 L245.8,1148.8 L274.8,1142.8 L352.2,1161.3 L330.2,1235.2 L301.2,1241.2Z" fill="#a9c6ec" fill-opacity="0.42" stroke="#e8f0fb" stroke-width="2.2" stroke-linejoin="round"/>
<path d="M274.8,1142.8 L352.2,1161.3 L330.2,1235.2 L252.8,1216.7Z" fill="#8fb0e0" fill-opacity="0.3" stroke="#dfe9f8" stroke-width="1.5" stroke-opacity="0.8"/>
<path d="M252.8,1183.6 L323.2,1200.4 M298.0,1158.4 L278.0,1225.6" stroke="#c9daf3" stroke-width="1.5" opacity="0.7"/>
<path d="M198.8,1306.7 L220.8,1232.8 L249.8,1226.8 L327.2,1245.3 L305.2,1319.2 L276.2,1325.2Z" fill="#a9c6ec" fill-opacity="0.42" stroke="#e8f0fb" stroke-width="2.2" stroke-linejoin="round"/>
<path d="M249.8,1226.8 L327.2,1245.3 L305.2,1319.2 L227.8,1300.7Z" fill="#8fb0e0" fill-opacity="0.3" stroke="#dfe9f8" stroke-width="1.5" stroke-opacity="0.8"/>
<path d="M227.8,1267.6 L298.2,1284.4 M273.0,1242.4 L253.0,1309.6" stroke="#c9daf3" stroke-width="1.5" opacity="0.7"/>
<path d="M336.8,1159.7 L358.8,1085.8 L387.8,1079.8 L465.2,1098.3 L443.2,1172.2 L414.2,1178.2Z" fill="#a9c6ec" fill-opacity="0.42" stroke="#e8f0fb" stroke-width="2.2" stroke-linejoin="round"/>
<path d="M387.8,1079.8 L465.2,1098.3 L443.2,1172.2 L365.8,1153.7Z" fill="#8fb0e0" fill-opacity="0.3" stroke="#dfe9f8" stroke-width="1.5" stroke-opacity="0.8"/>
<path d="M365.8,1120.6 L436.2,1137.4 M411.0,1095.4 L391.0,1162.6" stroke="#c9daf3" stroke-width="1.5" opacity="0.7"/>
<path d="M311.8,1243.7 L333.8,1169.8 L362.8,1163.8 L440.2,1182.3 L418.2,1256.2 L389.2,1262.2Z" fill="#a9c6ec" fill-opacity="0.42" stroke="#e8f0fb" stroke-width="2.2" stroke-linejoin="round"/>
<path d="M362.8,1163.8 L440.2,1182.3 L418.2,1256.2 L340.8,1237.7Z" fill="#8fb0e0" fill-opacity="0.3" stroke="#dfe9f8" stroke-width="1.5" stroke-opacity="0.8"/>
<path d="M340.8,1204.6 L411.2,1221.4 M386.0,1179.4 L366.0,1246.6" stroke="#c9daf3" stroke-width="1.5" opacity="0.7"/>
<path d="M286.8,1327.7 L308.8,1253.8 L337.8,1247.8 L415.2,1266.3 L393.2,1340.2 L364.2,1346.2Z" fill="#a9c6ec" fill-opacity="0.42" stroke="#e8f0fb" stroke-width="2.2" stroke-linejoin="round"/>
<path d="M337.8,1247.8 L415.2,1266.3 L393.2,1340.2 L315.8,1321.7Z" fill="#8fb0e0" fill-opacity="0.3" stroke="#dfe9f8" stroke-width="1.5" stroke-opacity="0.8"/>
<path d="M315.8,1288.6 L386.2,1305.4 M361.0,1263.4 L341.0,1330.6" stroke="#c9daf3" stroke-width="1.5" opacity="0.7"/>
<circle cx="246.5" cy="1143.5" r="16.1" fill="#8f9cc4" opacity="0.8"/>
<circle cx="249.5" cy="1136.5" r="17" fill="url(#bRd)"/>
<circle cx="259.5" cy="1139.5" r="17" fill="url(#bR)"/>
<circle cx="221.5" cy="1227.5" r="16.1" fill="#8f9cc4" opacity="0.8"/>
<circle cx="224.5" cy="1220.5" r="17" fill="url(#bRd)"/>
<circle cx="234.5" cy="1223.5" r="17" fill="url(#bR)"/>
<circle cx="334.5" cy="1164.5" r="16.1" fill="#8f9cc4" opacity="0.8"/>
<circle cx="337.5" cy="1157.5" r="17" fill="url(#bRd)"/>
<circle cx="347.5" cy="1160.5" r="17" fill="url(#bR)"/>
<circle cx="309.5" cy="1248.5" r="16.1" fill="#8f9cc4" opacity="0.8"/>
<circle cx="312.5" cy="1241.5" r="17" fill="url(#bRd)"/>
<circle cx="322.5" cy="1244.5" r="17" fill="url(#bR)"/>
<circle cx="254.5" cy="1100.5" r="11.2" fill="url(#bGd)"/>
<circle cx="269.0" cy="1097.5" r="11.2" fill="url(#bGd)"/>
<circle cx="283.5" cy="1094.5" r="11.2" fill="url(#bG)"/>
<circle cx="166.5" cy="1079.5" r="11.2" fill="url(#bGd)"/>
<circle cx="181.0" cy="1076.5" r="11.2" fill="url(#bGd)"/>
<circle cx="195.5" cy="1073.5" r="11.2" fill="url(#bG)"/>
<circle cx="198.0" cy="1132.0" r="11.2" fill="url(#bGd)"/>
<circle cx="212.5" cy="1129.0" r="11.2" fill="url(#bGd)"/>
<circle cx="227.0" cy="1126.0" r="11.2" fill="url(#bG)"/>
<circle cx="223.0" cy="1048.0" r="11.2" fill="url(#bGd)"/>
<circle cx="237.5" cy="1045.0" r="11.2" fill="url(#bGd)"/>
<circle cx="252.0" cy="1042.0" r="11.2" fill="url(#bG)"/>
<circle cx="229.5" cy="1184.5" r="11.2" fill="url(#bGd)"/>
<circle cx="244.0" cy="1181.5" r="11.2" fill="url(#bGd)"/>
<circle cx="258.5" cy="1178.5" r="11.2" fill="url(#bG)"/>
<circle cx="141.5" cy="1163.5" r="11.2" fill="url(#bGd)"/>
<circle cx="156.0" cy="1160.5" r="11.2" fill="url(#bGd)"/>
<circle cx="170.5" cy="1157.5" r="11.2" fill="url(#bG)"/>
<circle cx="173.0" cy="1216.0" r="11.2" fill="url(#bGd)"/>
<circle cx="187.5" cy="1213.0" r="11.2" fill="url(#bGd)"/>
<circle cx="202.0" cy="1210.0" r="11.2" fill="url(#bG)"/>
<circle cx="204.5" cy="1268.5" r="11.2" fill="url(#bGd)"/>
<circle cx="219.0" cy="1265.5" r="11.2" fill="url(#bGd)"/>
<circle cx="233.5" cy="1262.5" r="11.2" fill="url(#bG)"/>
<circle cx="116.5" cy="1247.5" r="11.2" fill="url(#bGd)"/>
<circle cx="131.0" cy="1244.5" r="11.2" fill="url(#bGd)"/>
<circle cx="145.5" cy="1241.5" r="11.2" fill="url(#bG)"/>
<circle cx="148.0" cy="1300.0" r="11.2" fill="url(#bGd)"/>
<circle cx="162.5" cy="1297.0" r="11.2" fill="url(#bGd)"/>
<circle cx="177.0" cy="1294.0" r="11.2" fill="url(#bG)"/>
<circle cx="342.5" cy="1121.5" r="11.2" fill="url(#bGd)"/>
<circle cx="357.0" cy="1118.5" r="11.2" fill="url(#bGd)"/>
<circle cx="371.5" cy="1115.5" r="11.2" fill="url(#bG)"/>
<circle cx="286.0" cy="1153.0" r="11.2" fill="url(#bGd)"/>
<circle cx="300.5" cy="1150.0" r="11.2" fill="url(#bGd)"/>
<circle cx="315.0" cy="1147.0" r="11.2" fill="url(#bG)"/>
<circle cx="311.0" cy="1069.0" r="11.2" fill="url(#bGd)"/>
<circle cx="325.5" cy="1066.0" r="11.2" fill="url(#bGd)"/>
<circle cx="340.0" cy="1063.0" r="11.2" fill="url(#bG)"/>
<circle cx="317.5" cy="1205.5" r="11.2" fill="url(#bGd)"/>
<circle cx="332.0" cy="1202.5" r="11.2" fill="url(#bGd)"/>
<circle cx="346.5" cy="1199.5" r="11.2" fill="url(#bG)"/>
<circle cx="261.0" cy="1237.0" r="11.2" fill="url(#bGd)"/>
<circle cx="275.5" cy="1234.0" r="11.2" fill="url(#bGd)"/>
<circle cx="290.0" cy="1231.0" r="11.2" fill="url(#bG)"/>
<circle cx="292.5" cy="1289.5" r="11.2" fill="url(#bGd)"/>
<circle cx="307.0" cy="1286.5" r="11.2" fill="url(#bGd)"/>
<circle cx="321.5" cy="1283.5" r="11.2" fill="url(#bG)"/>
<circle cx="236.0" cy="1321.0" r="11.2" fill="url(#bGd)"/>
<circle cx="250.5" cy="1318.0" r="11.2" fill="url(#bGd)"/>
<circle cx="265.0" cy="1315.0" r="11.2" fill="url(#bG)"/>
<circle cx="430.5" cy="1142.5" r="11.2" fill="url(#bGd)"/>
<circle cx="445.0" cy="1139.5" r="11.2" fill="url(#bGd)"/>
<circle cx="459.5" cy="1136.5" r="11.2" fill="url(#bG)"/>
<circle cx="374.0" cy="1174.0" r="11.2" fill="url(#bGd)"/>
<circle cx="388.5" cy="1171.0" r="11.2" fill="url(#bGd)"/>
<circle cx="403.0" cy="1168.0" r="11.2" fill="url(#bG)"/>
<circle cx="399.0" cy="1090.0" r="11.2" fill="url(#bGd)"/>
<circle cx="413.5" cy="1087.0" r="11.2" fill="url(#bGd)"/>
<circle cx="428.0" cy="1084.0" r="11.2" fill="url(#bG)"/>
<circle cx="405.5" cy="1226.5" r="11.2" fill="url(#bGd)"/>
<circle cx="420.0" cy="1223.5" r="11.2" fill="url(#bGd)"/>
<circle cx="434.5" cy="1220.5" r="11.2" fill="url(#bG)"/>
<circle cx="349.0" cy="1258.0" r="11.2" fill="url(#bGd)"/>
<circle cx="363.5" cy="1255.0" r="11.2" fill="url(#bGd)"/>
<circle cx="378.0" cy="1252.0" r="11.2" fill="url(#bG)"/>
<circle cx="380.5" cy="1310.5" r="11.2" fill="url(#bGd)"/>
<circle cx="395.0" cy="1307.5" r="11.2" fill="url(#bGd)"/>
<circle cx="409.5" cy="1304.5" r="11.2" fill="url(#bG)"/>
<circle cx="324.0" cy="1342.0" r="11.2" fill="url(#bGd)"/>
<circle cx="338.5" cy="1339.0" r="11.2" fill="url(#bGd)"/>
<circle cx="353.0" cy="1336.0" r="11.2" fill="url(#bG)"/>
<circle cx="247.0" cy="1078.0" r="12.32" fill="url(#bG)"/>
<circle cx="222.0" cy="1162.0" r="12.32" fill="url(#bG)"/>
<circle cx="197.0" cy="1246.0" r="12.32" fill="url(#bG)"/>
<circle cx="335.0" cy="1099.0" r="12.32" fill="url(#bG)"/>
<circle cx="310.0" cy="1183.0" r="12.32" fill="url(#bG)"/>
<circle cx="285.0" cy="1267.0" r="12.32" fill="url(#bG)"/>
<circle cx="423.0" cy="1120.0" r="12.32" fill="url(#bG)"/>
<circle cx="398.0" cy="1204.0" r="12.32" fill="url(#bG)"/>
<circle cx="373.0" cy="1288.0" r="12.32" fill="url(#bG)"/>
<line x1="775.8" y1="1121.2" x2="787.1" y2="1178.1" stroke="#3b2466" stroke-width="3"/><circle cx="781.6" cy="1150.7" r="10" fill="url(#bP)"/><circle cx="787.1" cy="1178.1" r="10" fill="url(#bP)"/>
<line x1="683.8" y1="1147.2" x2="700.4" y2="1202.8" stroke="#3b2466" stroke-width="3"/><circle cx="692.4" cy="1176.0" r="10" fill="url(#bP)"/><circle cx="700.4" cy="1202.8" r="10" fill="url(#bP)"/>
<line x1="619.8" y1="1116.2" x2="564.2" y2="1132.9" stroke="#3b2466" stroke-width="3"/><circle cx="591.0" cy="1124.9" r="10" fill="url(#bP)"/><circle cx="564.2" cy="1132.9" r="10" fill="url(#bP)"/>
<line x1="767.8" y1="976.2" x2="823.3" y2="959.6" stroke="#3b2466" stroke-width="3"/><circle cx="796.5" cy="967.6" r="10" fill="url(#bP)"/><circle cx="823.3" cy="959.6" r="10" fill="url(#bP)"/>
<line x1="703.8" y1="945.2" x2="689.7" y2="889.0" stroke="#3b2466" stroke-width="3"/><circle cx="696.5" cy="916.1" r="10" fill="url(#bP)"/><circle cx="689.7" cy="889.0" r="10" fill="url(#bP)"/>
<line x1="611.8" y1="971.2" x2="597.7" y2="915.0" stroke="#3b2466" stroke-width="3"/><circle cx="604.5" cy="942.1" r="10" fill="url(#bP)"/><circle cx="597.7" cy="915.0" r="10" fill="url(#bP)"/>
<path d="M553.9,971.5 L634.9,948.6 L654.4,965.1 L686.1,1042.5 L605.1,1065.4 L585.6,1048.9Z" fill="#a9c6ec" fill-opacity="0.42" stroke="#e8f0fb" stroke-width="2.2" stroke-linejoin="round"/>
<path d="M573.4,988.0 L654.4,965.1 L686.1,1042.5 L605.1,1065.4Z" fill="#8fb0e0" fill-opacity="0.3" stroke="#dfe9f8" stroke-width="1.5" stroke-opacity="0.8"/>
<path d="M583.2,1017.4 L656.8,996.6 M605.6,971.8 L634.4,1042.2" stroke="#c9daf3" stroke-width="1.5" opacity="0.7"/>
<path d="M589.9,1059.5 L670.9,1036.6 L690.4,1053.1 L722.1,1130.5 L641.1,1153.4 L621.6,1136.9Z" fill="#a9c6ec" fill-opacity="0.42" stroke="#e8f0fb" stroke-width="2.2" stroke-linejoin="round"/>
<path d="M609.4,1076.0 L690.4,1053.1 L722.1,1130.5 L641.1,1153.4Z" fill="#8fb0e0" fill-opacity="0.3" stroke="#dfe9f8" stroke-width="1.5" stroke-opacity="0.8"/>
<path d="M619.2,1105.4 L692.8,1084.6 M641.6,1059.8 L670.4,1130.2" stroke="#c9daf3" stroke-width="1.5" opacity="0.7"/>
<path d="M645.9,945.5 L726.9,922.6 L746.4,939.1 L778.1,1016.5 L697.1,1039.4 L677.6,1022.9Z" fill="#a9c6ec" fill-opacity="0.42" stroke="#e8f0fb" stroke-width="2.2" stroke-linejoin="round"/>
<path d="M665.4,962.0 L746.4,939.1 L778.1,1016.5 L697.1,1039.4Z" fill="#8fb0e0" fill-opacity="0.3" stroke="#dfe9f8" stroke-width="1.5" stroke-opacity="0.8"/>
<path d="M675.2,991.4 L748.8,970.6 M697.6,945.8 L726.4,1016.2" stroke="#c9daf3" stroke-width="1.5" opacity="0.7"/>
<path d="M681.9,1033.5 L762.9,1010.6 L782.4,1027.1 L814.1,1104.5 L733.1,1127.4 L713.6,1110.9Z" fill="#a9c6ec" fill-opacity="0.42" stroke="#e8f0fb" stroke-width="2.2" stroke-linejoin="round"/>
<path d="M701.4,1050.0 L782.4,1027.1 L814.1,1104.5 L733.1,1127.4Z" fill="#8fb0e0" fill-opacity="0.3" stroke="#dfe9f8" stroke-width="1.5" stroke-opacity="0.8"/>
<path d="M711.2,1079.4 L784.8,1058.6 M733.6,1033.8 L762.4,1104.2" stroke="#c9daf3" stroke-width="1.5" opacity="0.7"/>
<circle cx="674.0" cy="1042.0" r="14.2" fill="#8f9cc4" opacity="0.8"/>
<circle cx="677.0" cy="1035.0" r="15" fill="url(#bRd)"/>
<circle cx="687.0" cy="1038.0" r="15" fill="url(#bR)"/>
<circle cx="656.2" cy="985.8" r="11.2" fill="url(#bGd)"/>
<circle cx="662.8" cy="991.2" r="11.2" fill="url(#bGd)"/>
<circle cx="669.2" cy="996.8" r="11.2" fill="url(#bGd)"/>
<circle cx="675.8" cy="1002.2" r="11.2" fill="url(#bG)"/>
<circle cx="564.2" cy="1011.8" r="11.2" fill="url(#bGd)"/>
<circle cx="570.8" cy="1017.2" r="11.2" fill="url(#bGd)"/>
<circle cx="577.2" cy="1022.8" r="11.2" fill="url(#bGd)"/>
<circle cx="583.8" cy="1028.2" r="11.2" fill="url(#bG)"/>
<circle cx="628.2" cy="1042.8" r="11.2" fill="url(#bGd)"/>
<circle cx="634.8" cy="1048.2" r="11.2" fill="url(#bGd)"/>
<circle cx="641.2" cy="1053.8" r="11.2" fill="url(#bGd)"/>
<circle cx="647.8" cy="1059.2" r="11.2" fill="url(#bG)"/>
<circle cx="592.2" cy="954.8" r="11.2" fill="url(#bGd)"/>
<circle cx="598.8" cy="960.2" r="11.2" fill="url(#bGd)"/>
<circle cx="605.2" cy="965.8" r="11.2" fill="url(#bGd)"/>
<circle cx="611.8" cy="971.2" r="11.2" fill="url(#bG)"/>
<circle cx="692.2" cy="1073.8" r="11.2" fill="url(#bGd)"/>
<circle cx="698.8" cy="1079.2" r="11.2" fill="url(#bGd)"/>
<circle cx="705.2" cy="1084.8" r="11.2" fill="url(#bGd)"/>
<circle cx="711.8" cy="1090.2" r="11.2" fill="url(#bG)"/>
<circle cx="600.2" cy="1099.8" r="11.2" fill="url(#bGd)"/>
<circle cx="606.8" cy="1105.2" r="11.2" fill="url(#bGd)"/>
<circle cx="613.2" cy="1110.8" r="11.2" fill="url(#bGd)"/>
<circle cx="619.8" cy="1116.2" r="11.2" fill="url(#bG)"/>
<circle cx="664.2" cy="1130.8" r="11.2" fill="url(#bGd)"/>
<circle cx="670.8" cy="1136.2" r="11.2" fill="url(#bGd)"/>
<circle cx="677.2" cy="1141.8" r="11.2" fill="url(#bGd)"/>
<circle cx="683.8" cy="1147.2" r="11.2" fill="url(#bG)"/>
<circle cx="748.2" cy="959.8" r="11.2" fill="url(#bGd)"/>
<circle cx="754.8" cy="965.2" r="11.2" fill="url(#bGd)"/>
<circle cx="761.2" cy="970.8" r="11.2" fill="url(#bGd)"/>
<circle cx="767.8" cy="976.2" r="11.2" fill="url(#bG)"/>
<circle cx="720.2" cy="1016.8" r="11.2" fill="url(#bGd)"/>
<circle cx="726.8" cy="1022.2" r="11.2" fill="url(#bGd)"/>
<circle cx="733.2" cy="1027.8" r="11.2" fill="url(#bGd)"/>
<circle cx="739.8" cy="1033.2" r="11.2" fill="url(#bG)"/>
<circle cx="684.2" cy="928.8" r="11.2" fill="url(#bGd)"/>
<circle cx="690.8" cy="934.2" r="11.2" fill="url(#bGd)"/>
<circle cx="697.2" cy="939.8" r="11.2" fill="url(#bGd)"/>
<circle cx="703.8" cy="945.2" r="11.2" fill="url(#bG)"/>
<circle cx="784.2" cy="1047.8" r="11.2" fill="url(#bGd)"/>
<circle cx="790.8" cy="1053.2" r="11.2" fill="url(#bGd)"/>
<circle cx="797.2" cy="1058.8" r="11.2" fill="url(#bGd)"/>
<circle cx="803.8" cy="1064.2" r="11.2" fill="url(#bG)"/>
<circle cx="756.2" cy="1104.8" r="11.2" fill="url(#bGd)"/>
<circle cx="762.8" cy="1110.2" r="11.2" fill="url(#bGd)"/>
<circle cx="769.2" cy="1115.8" r="11.2" fill="url(#bGd)"/>
<circle cx="775.8" cy="1121.2" r="11.2" fill="url(#bG)"/>
<circle cx="633.0" cy="1020.0" r="12.32" fill="url(#bG)"/>
<circle cx="669.0" cy="1108.0" r="12.32" fill="url(#bG)"/>
<circle cx="725.0" cy="994.0" r="12.32" fill="url(#bG)"/>
<circle cx="761.0" cy="1082.0" r="12.32" fill="url(#bG)"/>
<line x1="632.5" y1="1511.8" x2="611.0" y2="1565.7" stroke="#3b2466" stroke-width="3"/><circle cx="621.4" cy="1539.7" r="10" fill="url(#bP)"/><circle cx="611.0" cy="1565.7" r="10" fill="url(#bP)"/>
<line x1="714.5" y1="1339.8" x2="736.0" y2="1285.9" stroke="#3b2466" stroke-width="3"/><circle cx="725.6" cy="1311.9" r="10" fill="url(#bP)"/><circle cx="736.0" cy="1285.9" r="10" fill="url(#bP)"/>
<line x1="628.5" y1="1297.8" x2="647.7" y2="1243.1" stroke="#3b2466" stroke-width="3"/><circle cx="638.4" cy="1269.5" r="10" fill="url(#bP)"/><circle cx="647.7" cy="1243.1" r="10" fill="url(#bP)"/>
<line x1="565.0" y1="1319.8" x2="545.8" y2="1265.1" stroke="#3b2466" stroke-width="3"/><circle cx="555.1" cy="1291.5" r="10" fill="url(#bP)"/><circle cx="545.8" cy="1265.1" r="10" fill="url(#bP)"/>
<line x1="565.0" y1="1319.8" x2="510.3" y2="1339.0" stroke="#3b2466" stroke-width="3"/><circle cx="536.7" cy="1329.7" r="10" fill="url(#bP)"/><circle cx="510.3" cy="1339.0" r="10" fill="url(#bP)"/>
<path d="M530.9,1350.7 L566.9,1275.0 L592.4,1286.4 L668.1,1323.3 L632.1,1399.0 L606.6,1387.6Z" fill="#a9c6ec" fill-opacity="0.42" stroke="#e8f0fb" stroke-width="2.2" stroke-linejoin="round"/>
<path d="M592.4,1286.4 L668.1,1323.3 L632.1,1399.0 L556.4,1362.1Z" fill="#8fb0e0" fill-opacity="0.3" stroke="#dfe9f8" stroke-width="1.5" stroke-opacity="0.8"/>
<path d="M565.1,1320.2 L633.9,1353.8 M615.9,1302.6 L583.1,1371.4" stroke="#c9daf3" stroke-width="1.5" opacity="0.7"/>
<path d="M489.9,1436.7 L525.9,1361.0 L551.4,1372.4 L627.1,1409.3 L591.1,1485.0 L565.6,1473.6Z" fill="#a9c6ec" fill-opacity="0.42" stroke="#e8f0fb" stroke-width="2.2" stroke-linejoin="round"/>
<path d="M551.4,1372.4 L627.1,1409.3 L591.1,1485.0 L515.4,1448.1Z" fill="#8fb0e0" fill-opacity="0.3" stroke="#dfe9f8" stroke-width="1.5" stroke-opacity="0.8"/>
<path d="M524.1,1406.2 L592.9,1439.8 M574.9,1388.6 L542.1,1457.4" stroke="#c9daf3" stroke-width="1.5" opacity="0.7"/>
<path d="M616.9,1392.7 L652.9,1317.0 L678.4,1328.4 L754.1,1365.3 L718.1,1441.0 L692.6,1429.6Z" fill="#a9c6ec" fill-opacity="0.42" stroke="#e8f0fb" stroke-width="2.2" stroke-linejoin="round"/>
<path d="M678.4,1328.4 L754.1,1365.3 L718.1,1441.0 L642.4,1404.1Z" fill="#8fb0e0" fill-opacity="0.3" stroke="#dfe9f8" stroke-width="1.5" stroke-opacity="0.8"/>
<path d="M651.1,1362.2 L719.9,1395.8 M701.9,1344.6 L669.1,1413.4" stroke="#c9daf3" stroke-width="1.5" opacity="0.7"/>
<path d="M575.9,1478.7 L611.9,1403.0 L637.4,1414.4 L713.1,1451.3 L677.1,1527.0 L651.6,1515.6Z" fill="#a9c6ec" fill-opacity="0.42" stroke="#e8f0fb" stroke-width="2.2" stroke-linejoin="round"/>
<path d="M637.4,1414.4 L713.1,1451.3 L677.1,1527.0 L601.4,1490.1Z" fill="#8fb0e0" fill-opacity="0.3" stroke="#dfe9f8" stroke-width="1.5" stroke-opacity="0.8"/>
<path d="M610.1,1448.2 L678.9,1481.8 M660.9,1430.6 L628.1,1499.4" stroke="#c9daf3" stroke-width="1.5" opacity="0.7"/>
<circle cx="612.0" cy="1405.0" r="14.2" fill="#8f9cc4" opacity="0.8"/>
<circle cx="615.0" cy="1398.0" r="15" fill="url(#bRd)"/>
<circle cx="625.0" cy="1401.0" r="15" fill="url(#bR)"/>
<circle cx="634.0" cy="1354.2" r="11.2" fill="url(#bGd)"/>
<circle cx="651.0" cy="1361.8" r="11.2" fill="url(#bG)"/>
<circle cx="548.0" cy="1312.2" r="11.2" fill="url(#bGd)"/>
<circle cx="565.0" cy="1319.8" r="11.2" fill="url(#bG)"/>
<circle cx="570.5" cy="1376.2" r="11.2" fill="url(#bGd)"/>
<circle cx="587.5" cy="1383.8" r="11.2" fill="url(#bG)"/>
<circle cx="611.5" cy="1290.2" r="11.2" fill="url(#bGd)"/>
<circle cx="628.5" cy="1297.8" r="11.2" fill="url(#bG)"/>
<circle cx="593.0" cy="1440.2" r="11.2" fill="url(#bGd)"/>
<circle cx="610.0" cy="1447.8" r="11.2" fill="url(#bG)"/>
<circle cx="507.0" cy="1398.2" r="11.2" fill="url(#bGd)"/>
<circle cx="524.0" cy="1405.8" r="11.2" fill="url(#bG)"/>
<circle cx="529.5" cy="1462.2" r="11.2" fill="url(#bGd)"/>
<circle cx="546.5" cy="1469.8" r="11.2" fill="url(#bG)"/>
<circle cx="720.0" cy="1396.2" r="11.2" fill="url(#bGd)"/>
<circle cx="737.0" cy="1403.8" r="11.2" fill="url(#bG)"/>
<circle cx="656.5" cy="1418.2" r="11.2" fill="url(#bGd)"/>
<circle cx="673.5" cy="1425.8" r="11.2" fill="url(#bG)"/>
<circle cx="697.5" cy="1332.2" r="11.2" fill="url(#bGd)"/>
<circle cx="714.5" cy="1339.8" r="11.2" fill="url(#bG)"/>
<circle cx="679.0" cy="1482.2" r="11.2" fill="url(#bGd)"/>
<circle cx="696.0" cy="1489.8" r="11.2" fill="url(#bG)"/>
<circle cx="615.5" cy="1504.2" r="11.2" fill="url(#bGd)"/>
<circle cx="632.5" cy="1511.8" r="11.2" fill="url(#bG)"/>
<circle cx="583.5" cy="1331.0" r="12.32" fill="url(#bG)"/>
<circle cx="542.5" cy="1417.0" r="12.32" fill="url(#bG)"/>
<circle cx="669.5" cy="1373.0" r="12.32" fill="url(#bG)"/>
<circle cx="628.5" cy="1459.0" r="12.32" fill="url(#bG)"/>
<circle cx="1570" cy="1005" r="35" fill="#f3e4f0" opacity="0.75"/>
<circle cx="1640" cy="1065" r="48" fill="#f3e4f0" opacity="0.75"/>
<circle cx="1560" cy="1110" r="40" fill="#f3e4f0" opacity="0.75"/>
<circle cx="1700" cy="1055" r="40" fill="#f3e4f0" opacity="0.75"/>
<circle cx="1610" cy="1145" r="45" fill="#f3e4f0" opacity="0.75"/>
<circle cx="1500" cy="1130" r="32" fill="#f3e4f0" opacity="0.75"/>
<circle cx="1720" cy="1120" r="30" fill="#f3e4f0" opacity="0.75"/>
<circle cx="1565" cy="950" r="9" fill="#f3e4f0" opacity="0.75"/>
<line x1="1716.0" y1="1143.3" x2="1704.6" y2="1086.4" stroke="#3b2466" stroke-width="3"/><circle cx="1710.1" cy="1113.9" r="10" fill="url(#bP)"/><circle cx="1704.6" cy="1086.4" r="10" fill="url(#bP)"/>
<line x1="1458.0" y1="1358.3" x2="1446.6" y2="1415.2" stroke="#3b2466" stroke-width="3"/><circle cx="1452.1" cy="1387.7" r="10" fill="url(#bP)"/><circle cx="1446.6" cy="1415.2" r="10" fill="url(#bP)"/>
<line x1="1427.2" y1="1305.8" x2="1370.4" y2="1294.4" stroke="#3b2466" stroke-width="3"/><circle cx="1397.8" cy="1299.9" r="10" fill="url(#bP)"/><circle cx="1370.4" cy="1294.4" r="10" fill="url(#bP)"/>
<line x1="1454.2" y1="1220.8" x2="1397.4" y2="1209.4" stroke="#3b2466" stroke-width="3"/><circle cx="1424.8" cy="1214.9" r="10" fill="url(#bP)"/><circle cx="1397.4" cy="1209.4" r="10" fill="url(#bP)"/>
<path d="M1438.7,1178.8 L1462.4,1104.0 L1498.4,1099.6 L1576.3,1117.2 L1552.6,1192.0 L1516.6,1196.4Z" fill="#a9c6ec" fill-opacity="0.42" stroke="#e8f0fb" stroke-width="2.2" stroke-linejoin="round"/>
<path d="M1498.4,1099.6 L1576.3,1117.2 L1552.6,1192.0 L1474.7,1174.4Z" fill="#8fb0e0" fill-opacity="0.3" stroke="#dfe9f8" stroke-width="1.5" stroke-opacity="0.8"/>
<path d="M1472.1,1140.0 L1542.9,1156.0 M1518.3,1114.0 L1496.7,1182.0" stroke="#c9daf3" stroke-width="1.5" opacity="0.7"/>
<path d="M1411.7,1263.8 L1435.4,1189.0 L1471.4,1184.6 L1549.3,1202.2 L1525.6,1277.0 L1489.6,1281.4Z" fill="#a9c6ec" fill-opacity="0.42" stroke="#e8f0fb" stroke-width="2.2" stroke-linejoin="round"/>
<path d="M1471.4,1184.6 L1549.3,1202.2 L1525.6,1277.0 L1447.7,1259.4Z" fill="#8fb0e0" fill-opacity="0.3" stroke="#dfe9f8" stroke-width="1.5" stroke-opacity="0.8"/>
<path d="M1445.1,1225.0 L1515.9,1241.0 M1491.3,1199.0 L1469.7,1267.0" stroke="#c9daf3" stroke-width="1.5" opacity="0.7"/>
<path d="M1384.7,1348.8 L1408.4,1274.0 L1444.4,1269.6 L1522.3,1287.2 L1498.6,1362.0 L1462.6,1366.4Z" fill="#a9c6ec" fill-opacity="0.42" stroke="#e8f0fb" stroke-width="2.2" stroke-linejoin="round"/>
<path d="M1444.4,1269.6 L1522.3,1287.2 L1498.6,1362.0 L1420.7,1344.4Z" fill="#8fb0e0" fill-opacity="0.3" stroke="#dfe9f8" stroke-width="1.5" stroke-opacity="0.8"/>
<path d="M1418.1,1310.0 L1488.9,1326.0 M1464.3,1284.0 L1442.7,1352.0" stroke="#c9daf3" stroke-width="1.5" opacity="0.7"/>
<path d="M1527.2,1198.8 L1550.9,1124.0 L1586.9,1119.6 L1664.8,1137.2 L1641.1,1212.0 L1605.1,1216.4Z" fill="#a9c6ec" fill-opacity="0.42" stroke="#e8f0fb" stroke-width="2.2" stroke-linejoin="round"/>
<path d="M1586.9,1119.6 L1664.8,1137.2 L1641.1,1212.0 L1563.2,1194.4Z" fill="#8fb0e0" fill-opacity="0.3" stroke="#dfe9f8" stroke-width="1.5" stroke-opacity="0.8"/>
<path d="M1560.6,1160.0 L1631.4,1176.0 M1606.8,1134.0 L1585.2,1202.0" stroke="#c9daf3" stroke-width="1.5" opacity="0.7"/>
<path d="M1500.2,1283.8 L1523.9,1209.0 L1559.9,1204.6 L1637.8,1222.2 L1614.1,1297.0 L1578.1,1301.4Z" fill="#a9c6ec" fill-opacity="0.42" stroke="#e8f0fb" stroke-width="2.2" stroke-linejoin="round"/>
<path d="M1559.9,1204.6 L1637.8,1222.2 L1614.1,1297.0 L1536.2,1279.4Z" fill="#8fb0e0" fill-opacity="0.3" stroke="#dfe9f8" stroke-width="1.5" stroke-opacity="0.8"/>
<path d="M1533.6,1245.0 L1604.4,1261.0 M1579.8,1219.0 L1558.2,1287.0" stroke="#c9daf3" stroke-width="1.5" opacity="0.7"/>
<path d="M1473.2,1368.8 L1496.9,1294.0 L1532.9,1289.6 L1610.8,1307.2 L1587.1,1382.0 L1551.1,1386.4Z" fill="#a9c6ec" fill-opacity="0.42" stroke="#e8f0fb" stroke-width="2.2" stroke-linejoin="round"/>
<path d="M1532.9,1289.6 L1610.8,1307.2 L1587.1,1382.0 L1509.2,1364.4Z" fill="#8fb0e0" fill-opacity="0.3" stroke="#dfe9f8" stroke-width="1.5" stroke-opacity="0.8"/>
<path d="M1506.6,1330.0 L1577.4,1346.0 M1552.8,1304.0 L1531.2,1372.0" stroke="#c9daf3" stroke-width="1.5" opacity="0.7"/>
<path d="M1615.7,1218.8 L1639.4,1144.0 L1675.4,1139.6 L1753.3,1157.2 L1729.6,1232.0 L1693.6,1236.4Z" fill="#a9c6ec" fill-opacity="0.42" stroke="#e8f0fb" stroke-width="2.2" stroke-linejoin="round"/>
<path d="M1675.4,1139.6 L1753.3,1157.2 L1729.6,1232.0 L1651.7,1214.4Z" fill="#8fb0e0" fill-opacity="0.3" stroke="#dfe9f8" stroke-width="1.5" stroke-opacity="0.8"/>
<path d="M1649.1,1180.0 L1719.9,1196.0 M1695.3,1154.0 L1673.7,1222.0" stroke="#c9daf3" stroke-width="1.5" opacity="0.7"/>
<path d="M1588.7,1303.8 L1612.4,1229.0 L1648.4,1224.6 L1726.3,1242.2 L1702.6,1317.0 L1666.6,1321.4Z" fill="#a9c6ec" fill-opacity="0.42" stroke="#e8f0fb" stroke-width="2.2" stroke-linejoin="round"/>
<path d="M1648.4,1224.6 L1726.3,1242.2 L1702.6,1317.0 L1624.7,1299.4Z" fill="#8fb0e0" fill-opacity="0.3" stroke="#dfe9f8" stroke-width="1.5" stroke-opacity="0.8"/>
<path d="M1622.1,1265.0 L1692.9,1281.0 M1668.3,1239.0 L1646.7,1307.0" stroke="#c9daf3" stroke-width="1.5" opacity="0.7"/>
<path d="M1561.7,1388.8 L1585.4,1314.0 L1621.4,1309.6 L1699.3,1327.2 L1675.6,1402.0 L1639.6,1406.4Z" fill="#a9c6ec" fill-opacity="0.42" stroke="#e8f0fb" stroke-width="2.2" stroke-linejoin="round"/>
<path d="M1621.4,1309.6 L1699.3,1327.2 L1675.6,1402.0 L1597.7,1384.4Z" fill="#8fb0e0" fill-opacity="0.3" stroke="#dfe9f8" stroke-width="1.5" stroke-opacity="0.8"/>
<path d="M1595.1,1350.0 L1665.9,1366.0 M1641.3,1324.0 L1619.7,1392.0" stroke="#c9daf3" stroke-width="1.5" opacity="0.7"/>
<circle cx="1528.2" cy="1204.5" r="16.1" fill="#8f9cc4" opacity="0.8"/>
<circle cx="1531.2" cy="1197.5" r="17" fill="url(#bRd)"/>
<circle cx="1541.2" cy="1200.5" r="17" fill="url(#bR)"/>
<circle cx="1501.2" cy="1289.5" r="16.1" fill="#8f9cc4" opacity="0.8"/>
<circle cx="1504.2" cy="1282.5" r="17" fill="url(#bRd)"/>
<circle cx="1514.2" cy="1285.5" r="17" fill="url(#bR)"/>
<circle cx="1616.8" cy="1224.5" r="16.1" fill="#8f9cc4" opacity="0.8"/>
<circle cx="1619.8" cy="1217.5" r="17" fill="url(#bRd)"/>
<circle cx="1629.8" cy="1220.5" r="17" fill="url(#bR)"/>
<circle cx="1589.8" cy="1309.5" r="16.1" fill="#8f9cc4" opacity="0.8"/>
<circle cx="1592.8" cy="1302.5" r="17" fill="url(#bRd)"/>
<circle cx="1602.8" cy="1305.5" r="17" fill="url(#bR)"/>
<circle cx="1533.8" cy="1160.2" r="11.2" fill="url(#bGd)"/>
<circle cx="1551.8" cy="1158.0" r="11.2" fill="url(#bGd)"/>
<circle cx="1569.8" cy="1155.8" r="11.2" fill="url(#bG)"/>
<circle cx="1445.2" cy="1140.2" r="11.2" fill="url(#bGd)"/>
<circle cx="1463.2" cy="1138.0" r="11.2" fill="url(#bGd)"/>
<circle cx="1481.2" cy="1135.8" r="11.2" fill="url(#bG)"/>
<circle cx="1476.0" cy="1192.7" r="11.2" fill="url(#bGd)"/>
<circle cx="1494.0" cy="1190.5" r="11.2" fill="url(#bGd)"/>
<circle cx="1512.0" cy="1188.3" r="11.2" fill="url(#bG)"/>
<circle cx="1503.0" cy="1107.7" r="11.2" fill="url(#bGd)"/>
<circle cx="1521.0" cy="1105.5" r="11.2" fill="url(#bGd)"/>
<circle cx="1539.0" cy="1103.3" r="11.2" fill="url(#bG)"/>
<circle cx="1506.8" cy="1245.2" r="11.2" fill="url(#bGd)"/>
<circle cx="1524.8" cy="1243.0" r="11.2" fill="url(#bGd)"/>
<circle cx="1542.8" cy="1240.8" r="11.2" fill="url(#bG)"/>
<circle cx="1418.2" cy="1225.2" r="11.2" fill="url(#bGd)"/>
<circle cx="1436.2" cy="1223.0" r="11.2" fill="url(#bGd)"/>
<circle cx="1454.2" cy="1220.8" r="11.2" fill="url(#bG)"/>
<circle cx="1449.0" cy="1277.7" r="11.2" fill="url(#bGd)"/>
<circle cx="1467.0" cy="1275.5" r="11.2" fill="url(#bGd)"/>
<circle cx="1485.0" cy="1273.3" r="11.2" fill="url(#bG)"/>
<circle cx="1479.8" cy="1330.2" r="11.2" fill="url(#bGd)"/>
<circle cx="1497.8" cy="1328.0" r="11.2" fill="url(#bGd)"/>
<circle cx="1515.8" cy="1325.8" r="11.2" fill="url(#bG)"/>
<circle cx="1391.2" cy="1310.2" r="11.2" fill="url(#bGd)"/>
<circle cx="1409.2" cy="1308.0" r="11.2" fill="url(#bGd)"/>
<circle cx="1427.2" cy="1305.8" r="11.2" fill="url(#bG)"/>
<circle cx="1422.0" cy="1362.7" r="11.2" fill="url(#bGd)"/>
<circle cx="1440.0" cy="1360.5" r="11.2" fill="url(#bGd)"/>
<circle cx="1458.0" cy="1358.3" r="11.2" fill="url(#bG)"/>
<circle cx="1622.2" cy="1180.2" r="11.2" fill="url(#bGd)"/>
<circle cx="1640.2" cy="1178.0" r="11.2" fill="url(#bGd)"/>
<circle cx="1658.2" cy="1175.8" r="11.2" fill="url(#bG)"/>
<circle cx="1564.5" cy="1212.7" r="11.2" fill="url(#bGd)"/>
<circle cx="1582.5" cy="1210.5" r="11.2" fill="url(#bGd)"/>
<circle cx="1600.5" cy="1208.3" r="11.2" fill="url(#bG)"/>
<circle cx="1591.5" cy="1127.7" r="11.2" fill="url(#bGd)"/>
<circle cx="1609.5" cy="1125.5" r="11.2" fill="url(#bGd)"/>
<circle cx="1627.5" cy="1123.3" r="11.2" fill="url(#bG)"/>
<circle cx="1595.2" cy="1265.2" r="11.2" fill="url(#bGd)"/>
<circle cx="1613.2" cy="1263.0" r="11.2" fill="url(#bGd)"/>
<circle cx="1631.2" cy="1260.8" r="11.2" fill="url(#bG)"/>
<circle cx="1537.5" cy="1297.7" r="11.2" fill="url(#bGd)"/>
<circle cx="1555.5" cy="1295.5" r="11.2" fill="url(#bGd)"/>
<circle cx="1573.5" cy="1293.3" r="11.2" fill="url(#bG)"/>
<circle cx="1568.2" cy="1350.2" r="11.2" fill="url(#bGd)"/>
<circle cx="1586.2" cy="1348.0" r="11.2" fill="url(#bGd)"/>
<circle cx="1604.2" cy="1345.8" r="11.2" fill="url(#bG)"/>
<circle cx="1510.5" cy="1382.7" r="11.2" fill="url(#bGd)"/>
<circle cx="1528.5" cy="1380.5" r="11.2" fill="url(#bGd)"/>
<circle cx="1546.5" cy="1378.3" r="11.2" fill="url(#bG)"/>
<circle cx="1710.8" cy="1200.2" r="11.2" fill="url(#bGd)"/>
<circle cx="1728.8" cy="1198.0" r="11.2" fill="url(#bGd)"/>
<circle cx="1746.8" cy="1195.8" r="11.2" fill="url(#bG)"/>
<circle cx="1653.0" cy="1232.7" r="11.2" fill="url(#bGd)"/>
<circle cx="1671.0" cy="1230.5" r="11.2" fill="url(#bGd)"/>
<circle cx="1689.0" cy="1228.3" r="11.2" fill="url(#bG)"/>
<circle cx="1680.0" cy="1147.7" r="11.2" fill="url(#bGd)"/>
<circle cx="1698.0" cy="1145.5" r="11.2" fill="url(#bGd)"/>
<circle cx="1716.0" cy="1143.3" r="11.2" fill="url(#bG)"/>
<circle cx="1683.8" cy="1285.2" r="11.2" fill="url(#bGd)"/>
<circle cx="1701.8" cy="1283.0" r="11.2" fill="url(#bGd)"/>
<circle cx="1719.8" cy="1280.8" r="11.2" fill="url(#bG)"/>
<circle cx="1626.0" cy="1317.7" r="11.2" fill="url(#bGd)"/>
<circle cx="1644.0" cy="1315.5" r="11.2" fill="url(#bGd)"/>
<circle cx="1662.0" cy="1313.3" r="11.2" fill="url(#bG)"/>
<circle cx="1656.8" cy="1370.2" r="11.2" fill="url(#bGd)"/>
<circle cx="1674.8" cy="1368.0" r="11.2" fill="url(#bGd)"/>
<circle cx="1692.8" cy="1365.8" r="11.2" fill="url(#bG)"/>
<circle cx="1599.0" cy="1402.7" r="11.2" fill="url(#bGd)"/>
<circle cx="1617.0" cy="1400.5" r="11.2" fill="url(#bGd)"/>
<circle cx="1635.0" cy="1398.3" r="11.2" fill="url(#bG)"/>
<circle cx="1529.5" cy="1141.0" r="12.32" fill="url(#bG)"/>
<circle cx="1502.5" cy="1226.0" r="12.32" fill="url(#bG)"/>
<circle cx="1475.5" cy="1311.0" r="12.32" fill="url(#bG)"/>
<circle cx="1618.0" cy="1161.0" r="12.32" fill="url(#bG)"/>
<circle cx="1591.0" cy="1246.0" r="12.32" fill="url(#bG)"/>
<circle cx="1564.0" cy="1331.0" r="12.32" fill="url(#bG)"/>
<circle cx="1706.5" cy="1181.0" r="12.32" fill="url(#bG)"/>
<circle cx="1679.5" cy="1266.0" r="12.32" fill="url(#bG)"/>
<circle cx="1652.5" cy="1351.0" r="12.32" fill="url(#bG)"/>
<line x1="1889.5" y1="1203.0" x2="1906.2" y2="1258.6" stroke="#3b2466" stroke-width="3"/><circle cx="1898.1" cy="1231.7" r="10" fill="url(#bP)"/><circle cx="1906.2" cy="1258.6" r="10" fill="url(#bP)"/>
<line x1="1883.5" y1="1063.0" x2="1939.1" y2="1046.3" stroke="#3b2466" stroke-width="3"/><circle cx="1912.2" cy="1054.4" r="10" fill="url(#bP)"/><circle cx="1939.1" cy="1046.3" r="10" fill="url(#bP)"/>
<line x1="1823.5" y1="1037.0" x2="1804.3" y2="982.3" stroke="#3b2466" stroke-width="3"/><circle cx="1813.6" cy="1008.7" r="10" fill="url(#bP)"/><circle cx="1804.3" cy="982.3" r="10" fill="url(#bP)"/>
<path d="M1684.2,1071.6 L1760.8,1044.3 L1776.8,1059.3 L1805.8,1132.4 L1729.2,1159.7 L1713.2,1144.7Z" fill="#a9c6ec" fill-opacity="0.42" stroke="#e8f0fb" stroke-width="2.2" stroke-linejoin="round"/>
<path d="M1700.2,1086.6 L1776.8,1059.3 L1805.8,1132.4 L1729.2,1159.7Z" fill="#8fb0e0" fill-opacity="0.3" stroke="#dfe9f8" stroke-width="1.5" stroke-opacity="0.8"/>
<path d="M1710.2,1114.4 L1779.8,1089.6 M1731.8,1068.8 L1758.2,1135.2" stroke="#c9daf3" stroke-width="1.5" opacity="0.7"/>
<path d="M1717.2,1154.6 L1793.8,1127.3 L1809.8,1142.3 L1838.8,1215.4 L1762.2,1242.7 L1746.2,1227.7Z" fill="#a9c6ec" fill-opacity="0.42" stroke="#e8f0fb" stroke-width="2.2" stroke-linejoin="round"/>
<path d="M1733.2,1169.6 L1809.8,1142.3 L1838.8,1215.4 L1762.2,1242.7Z" fill="#8fb0e0" fill-opacity="0.3" stroke="#dfe9f8" stroke-width="1.5" stroke-opacity="0.8"/>
<path d="M1743.2,1197.4 L1812.8,1172.6 M1764.8,1151.8 L1791.2,1218.2" stroke="#c9daf3" stroke-width="1.5" opacity="0.7"/>
<path d="M1771.2,1040.6 L1847.8,1013.3 L1863.8,1028.3 L1892.8,1101.4 L1816.2,1128.7 L1800.2,1113.7Z" fill="#a9c6ec" fill-opacity="0.42" stroke="#e8f0fb" stroke-width="2.2" stroke-linejoin="round"/>
<path d="M1787.2,1055.6 L1863.8,1028.3 L1892.8,1101.4 L1816.2,1128.7Z" fill="#8fb0e0" fill-opacity="0.3" stroke="#dfe9f8" stroke-width="1.5" stroke-opacity="0.8"/>
<path d="M1797.2,1083.4 L1866.8,1058.6 M1818.8,1037.8 L1845.2,1104.2" stroke="#c9daf3" stroke-width="1.5" opacity="0.7"/>
<path d="M1804.2,1123.6 L1880.8,1096.3 L1896.8,1111.3 L1925.8,1184.4 L1849.2,1211.7 L1833.2,1196.7Z" fill="#a9c6ec" fill-opacity="0.42" stroke="#e8f0fb" stroke-width="2.2" stroke-linejoin="round"/>
<path d="M1820.2,1138.6 L1896.8,1111.3 L1925.8,1184.4 L1849.2,1211.7Z" fill="#8fb0e0" fill-opacity="0.3" stroke="#dfe9f8" stroke-width="1.5" stroke-opacity="0.8"/>
<path d="M1830.2,1166.4 L1899.8,1141.6 M1851.8,1120.8 L1878.2,1187.2" stroke="#c9daf3" stroke-width="1.5" opacity="0.7"/>
<circle cx="1795.0" cy="1132.0" r="15.2" fill="#8f9cc4" opacity="0.8"/>
<circle cx="1798.0" cy="1125.0" r="16" fill="url(#bRd)"/>
<circle cx="1808.0" cy="1128.0" r="16" fill="url(#bR)"/>
<circle cx="1780.5" cy="1079.0" r="11.2" fill="url(#bGd)"/>
<circle cx="1788.5" cy="1086.5" r="11.2" fill="url(#bGd)"/>
<circle cx="1796.5" cy="1094.0" r="11.2" fill="url(#bG)"/>
<circle cx="1693.5" cy="1110.0" r="11.2" fill="url(#bGd)"/>
<circle cx="1701.5" cy="1117.5" r="11.2" fill="url(#bGd)"/>
<circle cx="1709.5" cy="1125.0" r="11.2" fill="url(#bG)"/>
<circle cx="1753.5" cy="1136.0" r="11.2" fill="url(#bGd)"/>
<circle cx="1761.5" cy="1143.5" r="11.2" fill="url(#bGd)"/>
<circle cx="1769.5" cy="1151.0" r="11.2" fill="url(#bG)"/>
<circle cx="1720.5" cy="1053.0" r="11.2" fill="url(#bGd)"/>
<circle cx="1728.5" cy="1060.5" r="11.2" fill="url(#bGd)"/>
<circle cx="1736.5" cy="1068.0" r="11.2" fill="url(#bG)"/>
<circle cx="1813.5" cy="1162.0" r="11.2" fill="url(#bGd)"/>
<circle cx="1821.5" cy="1169.5" r="11.2" fill="url(#bGd)"/>
<circle cx="1829.5" cy="1177.0" r="11.2" fill="url(#bG)"/>
<circle cx="1726.5" cy="1193.0" r="11.2" fill="url(#bGd)"/>
<circle cx="1734.5" cy="1200.5" r="11.2" fill="url(#bGd)"/>
<circle cx="1742.5" cy="1208.0" r="11.2" fill="url(#bG)"/>
<circle cx="1786.5" cy="1219.0" r="11.2" fill="url(#bGd)"/>
<circle cx="1794.5" cy="1226.5" r="11.2" fill="url(#bGd)"/>
<circle cx="1802.5" cy="1234.0" r="11.2" fill="url(#bG)"/>
<circle cx="1867.5" cy="1048.0" r="11.2" fill="url(#bGd)"/>
<circle cx="1875.5" cy="1055.5" r="11.2" fill="url(#bGd)"/>
<circle cx="1883.5" cy="1063.0" r="11.2" fill="url(#bG)"/>
<circle cx="1840.5" cy="1105.0" r="11.2" fill="url(#bGd)"/>
<circle cx="1848.5" cy="1112.5" r="11.2" fill="url(#bGd)"/>
<circle cx="1856.5" cy="1120.0" r="11.2" fill="url(#bG)"/>
<circle cx="1807.5" cy="1022.0" r="11.2" fill="url(#bGd)"/>
<circle cx="1815.5" cy="1029.5" r="11.2" fill="url(#bGd)"/>
<circle cx="1823.5" cy="1037.0" r="11.2" fill="url(#bG)"/>
<circle cx="1900.5" cy="1131.0" r="11.2" fill="url(#bGd)"/>
<circle cx="1908.5" cy="1138.5" r="11.2" fill="url(#bGd)"/>
<circle cx="1916.5" cy="1146.0" r="11.2" fill="url(#bG)"/>
<circle cx="1873.5" cy="1188.0" r="11.2" fill="url(#bGd)"/>
<circle cx="1881.5" cy="1195.5" r="11.2" fill="url(#bGd)"/>
<circle cx="1889.5" cy="1203.0" r="11.2" fill="url(#bG)"/>
<circle cx="1759.0" cy="1116.0" r="12.32" fill="url(#bG)"/>
<circle cx="1792.0" cy="1199.0" r="12.32" fill="url(#bG)"/>
<circle cx="1846.0" cy="1085.0" r="12.32" fill="url(#bG)"/>
<circle cx="1879.0" cy="1168.0" r="12.32" fill="url(#bG)"/>
<line x1="1770.8" y1="1560.9" x2="1749.3" y2="1614.8" stroke="#3b2466" stroke-width="3"/><circle cx="1759.7" cy="1588.8" r="10" fill="url(#bP)"/><circle cx="1749.3" cy="1614.8" r="10" fill="url(#bP)"/>
<line x1="1766.2" y1="1361.5" x2="1787.7" y2="1307.6" stroke="#3b2466" stroke-width="3"/><circle cx="1777.3" cy="1333.6" r="10" fill="url(#bP)"/><circle cx="1787.7" cy="1307.6" r="10" fill="url(#bP)"/>
<path d="M1671.9,1407.8 L1706.2,1337.9 L1778.9,1373.6 L1804.4,1386.2 L1770.1,1456.1 L1697.4,1420.4Z" fill="#a9c6ec" fill-opacity="0.42" stroke="#e8f0fb" stroke-width="2.2" stroke-linejoin="round"/>
<path d="M1731.7,1350.5 L1804.4,1386.2 L1770.1,1456.1 L1697.4,1420.4Z" fill="#8fb0e0" fill-opacity="0.3" stroke="#dfe9f8" stroke-width="1.5" stroke-opacity="0.8"/>
<path d="M1705.1,1380.8 L1771.2,1413.2 M1753.8,1365.2 L1722.6,1428.8" stroke="#c9daf3" stroke-width="1.5" opacity="0.7"/>
<path d="M1632.9,1487.2 L1667.2,1417.3 L1739.9,1453.0 L1765.4,1465.6 L1731.1,1535.5 L1658.4,1499.8Z" fill="#a9c6ec" fill-opacity="0.42" stroke="#e8f0fb" stroke-width="2.2" stroke-linejoin="round"/>
<path d="M1692.7,1429.9 L1765.4,1465.6 L1731.1,1535.5 L1658.4,1499.8Z" fill="#8fb0e0" fill-opacity="0.3" stroke="#dfe9f8" stroke-width="1.5" stroke-opacity="0.8"/>
<path d="M1666.1,1460.2 L1732.2,1492.6 M1714.8,1444.6 L1683.6,1508.2" stroke="#c9daf3" stroke-width="1.5" opacity="0.7"/>
<path d="M1754.6,1448.4 L1788.9,1378.5 L1861.6,1414.2 L1887.1,1426.8 L1852.8,1496.7 L1780.1,1461.0Z" fill="#a9c6ec" fill-opacity="0.42" stroke="#e8f0fb" stroke-width="2.2" stroke-linejoin="round"/>
<path d="M1814.4,1391.1 L1887.1,1426.8 L1852.8,1496.7 L1780.1,1461.0Z" fill="#8fb0e0" fill-opacity="0.3" stroke="#dfe9f8" stroke-width="1.5" stroke-opacity="0.8"/>
<path d="M1787.8,1421.4 L1853.9,1453.8 M1836.4,1405.8 L1805.2,1469.4" stroke="#c9daf3" stroke-width="1.5" opacity="0.7"/>
<path d="M1715.6,1527.8 L1749.9,1457.9 L1822.6,1493.6 L1848.1,1506.2 L1813.8,1576.1 L1741.1,1540.4Z" fill="#a9c6ec" fill-opacity="0.42" stroke="#e8f0fb" stroke-width="2.2" stroke-linejoin="round"/>
<path d="M1775.4,1470.5 L1848.1,1506.2 L1813.8,1576.1 L1741.1,1540.4Z" fill="#8fb0e0" fill-opacity="0.3" stroke="#dfe9f8" stroke-width="1.5" stroke-opacity="0.8"/>
<path d="M1748.8,1500.8 L1814.9,1533.2 M1797.4,1485.2 L1766.2,1548.8" stroke="#c9daf3" stroke-width="1.5" opacity="0.7"/>
<circle cx="1750.0" cy="1461.0" r="15.2" fill="#8f9cc4" opacity="0.8"/>
<circle cx="1753.0" cy="1454.0" r="16" fill="url(#bRd)"/>
<circle cx="1763.0" cy="1457.0" r="16" fill="url(#bR)"/>
<circle cx="1771.0" cy="1413.1" r="11.2" fill="url(#bGd)"/>
<circle cx="1788.0" cy="1421.5" r="11.2" fill="url(#bG)"/>
<circle cx="1688.3" cy="1372.5" r="11.2" fill="url(#bGd)"/>
<circle cx="1705.3" cy="1380.9" r="11.2" fill="url(#bG)"/>
<circle cx="1710.2" cy="1432.5" r="11.2" fill="url(#bGd)"/>
<circle cx="1727.2" cy="1440.9" r="11.2" fill="url(#bG)"/>
<circle cx="1749.2" cy="1353.1" r="11.2" fill="url(#bGd)"/>
<circle cx="1766.2" cy="1361.5" r="11.2" fill="url(#bG)"/>
<circle cx="1732.0" cy="1492.5" r="11.2" fill="url(#bGd)"/>
<circle cx="1749.0" cy="1500.9" r="11.2" fill="url(#bG)"/>
<circle cx="1649.3" cy="1451.9" r="11.2" fill="url(#bGd)"/>
<circle cx="1666.3" cy="1460.3" r="11.2" fill="url(#bG)"/>
<circle cx="1671.2" cy="1511.9" r="11.2" fill="url(#bGd)"/>
<circle cx="1688.2" cy="1520.3" r="11.2" fill="url(#bG)"/>
<circle cx="1853.7" cy="1453.7" r="11.2" fill="url(#bGd)"/>
<circle cx="1870.7" cy="1462.1" r="11.2" fill="url(#bG)"/>
<circle cx="1792.8" cy="1473.1" r="11.2" fill="url(#bGd)"/>
<circle cx="1809.8" cy="1481.5" r="11.2" fill="url(#bG)"/>
<circle cx="1831.8" cy="1393.7" r="11.2" fill="url(#bGd)"/>
<circle cx="1848.8" cy="1402.1" r="11.2" fill="url(#bG)"/>
<circle cx="1814.7" cy="1533.1" r="11.2" fill="url(#bGd)"/>
<circle cx="1831.7" cy="1541.5" r="11.2" fill="url(#bG)"/>
<circle cx="1753.8" cy="1552.5" r="11.2" fill="url(#bGd)"/>
<circle cx="1770.8" cy="1560.9" r="11.2" fill="url(#bG)"/>
<circle cx="1723.2" cy="1388.6" r="12.32" fill="url(#bG)"/>
<circle cx="1684.2" cy="1468.0" r="12.32" fill="url(#bG)"/>
<circle cx="1805.8" cy="1429.2" r="12.32" fill="url(#bG)"/>
<circle cx="1766.8" cy="1508.6" r="12.32" fill="url(#bG)"/>
<line x1="1340.0" y1="1110.0" x2="1354.0" y2="1100.0" stroke="#3b2466" stroke-width="3"/><circle cx="1340.0" cy="1110.0" r="10" fill="url(#bP)"/><circle cx="1354.0" cy="1100.0" r="10" fill="url(#bP)"/>
<line x1="1386.0" y1="1051.0" x2="1392.0" y2="1072.0" stroke="#3b2466" stroke-width="3"/><circle cx="1386.0" cy="1051.0" r="10" fill="url(#bP)"/><circle cx="1392.0" cy="1072.0" r="10" fill="url(#bP)"/>
<line x1="1701.0" y1="955.0" x2="1723.0" y2="948.0" stroke="#3b2466" stroke-width="3"/><circle cx="1701.0" cy="955.0" r="10" fill="url(#bP)"/><circle cx="1723.0" cy="948.0" r="10" fill="url(#bP)"/>
<line x1="1788.0" y1="963.0" x2="1794.0" y2="990.0" stroke="#3b2466" stroke-width="3"/><circle cx="1788.0" cy="963.0" r="10" fill="url(#bP)"/><circle cx="1794.0" cy="990.0" r="10" fill="url(#bP)"/>
<line x1="1757.0" y1="1262.0" x2="1739.0" y2="1272.0" stroke="#3b2466" stroke-width="3"/><circle cx="1757.0" cy="1262.0" r="10" fill="url(#bP)"/><circle cx="1739.0" cy="1272.0" r="10" fill="url(#bP)"/>
<line x1="1830.0" y1="1264.0" x2="1848.0" y2="1277.0" stroke="#3b2466" stroke-width="3"/><circle cx="1830.0" cy="1264.0" r="10" fill="url(#bP)"/><circle cx="1848.0" cy="1277.0" r="10" fill="url(#bP)"/>
<line x1="1771.0" y1="1318.0" x2="1792.0" y2="1308.0" stroke="#3b2466" stroke-width="3"/><circle cx="1771.0" cy="1318.0" r="10" fill="url(#bP)"/><circle cx="1792.0" cy="1308.0" r="10" fill="url(#bP)"/>
<line x1="1872.0" y1="1355.0" x2="1876.0" y2="1370.0" stroke="#3b2466" stroke-width="3"/><circle cx="1872.0" cy="1355.0" r="10" fill="url(#bP)"/><circle cx="1876.0" cy="1370.0" r="10" fill="url(#bP)"/>
<line x1="1514.0" y1="1453.0" x2="1526.0" y2="1470.0" stroke="#3b2466" stroke-width="3"/><circle cx="1514.0" cy="1453.0" r="10" fill="url(#bP)"/><circle cx="1526.0" cy="1470.0" r="10" fill="url(#bP)"/>
<line x1="1585.0" y1="1512.0" x2="1567.0" y2="1522.0" stroke="#3b2466" stroke-width="3"/><circle cx="1585.0" cy="1512.0" r="10" fill="url(#bP)"/><circle cx="1567.0" cy="1522.0" r="10" fill="url(#bP)"/>
<line x1="1691.0" y1="1562.0" x2="1705.0" y2="1584.0" stroke="#3b2466" stroke-width="3"/><circle cx="1691.0" cy="1562.0" r="10" fill="url(#bP)"/><circle cx="1705.0" cy="1584.0" r="10" fill="url(#bP)"/>
<line x1="1887.0" y1="1521.0" x2="1903.0" y2="1536.0" stroke="#3b2466" stroke-width="3"/><circle cx="1887.0" cy="1521.0" r="10" fill="url(#bP)"/><circle cx="1903.0" cy="1536.0" r="10" fill="url(#bP)"/>
<line x1="1760.0" y1="1595.0" x2="1746.0" y2="1617.0" stroke="#3b2466" stroke-width="3"/><circle cx="1760.0" cy="1595.0" r="10" fill="url(#bP)"/><circle cx="1746.0" cy="1617.0" r="10" fill="url(#bP)"/>
<line x1="1440.0" y1="1400.0" x2="1442.0" y2="1420.0" stroke="#3b2466" stroke-width="3"/><circle cx="1440.0" cy="1400.0" r="10" fill="url(#bP)"/><circle cx="1442.0" cy="1420.0" r="10" fill="url(#bP)"/>
<line x1="1604" y1="1130" x2="1604" y2="960" stroke="#4a2a86" stroke-width="3" stroke-dasharray="12,6,3,6"/>
<path d="M1604,944 L1596,962 L1612,962Z" fill="#4a2a86"/>
<line x1="1633" y1="1066" x2="1633" y2="940" stroke="#4a2a86" stroke-width="3" stroke-dasharray="12,6,3,6"/>
<path d="M1633,924 L1625,942 L1641,942Z" fill="#4a2a86"/>
<line x1="1664" y1="1002" x2="1664" y2="920" stroke="#4a2a86" stroke-width="3" stroke-dasharray="12,6,3,6"/>
<path d="M1664,904 L1656,922 L1672,922Z" fill="#4a2a86"/>
<path d="M1737,1032 C1715,1030 1690,1040 1680,1058 L1672,1052 L1670,1085 L1698,1070 L1690,1066 C1700,1050 1715,1043 1737,1040Z" fill="#8fb2de"/>
<path d="M1630,1467 C1610,1465 1590,1455 1582,1435 L1574,1440 L1570,1420 L1592,1425 L1586,1430 C1595,1448 1610,1458 1630,1462Z" fill="#8fb2de"/>
<path d="M914.9,1230 C925,1190 975,1158 1040,1157.5 C1080,1157 1120,1170 1157.4,1191.4 L1176.6,1170.3 L1181.2,1244.7 L1099.5,1257.6 L1118.8,1235.5 C1080,1215 1040,1203 1008.6,1202.5 C975,1202 940,1212 918.6,1231Z" fill="#8fb0d8"/>
<path d="M2064,1365 L2067.6,1361.3 L2069.4,1368.7 C2100,1385 2150,1396 2190,1395 C2230,1392 2265,1378 2295.3,1356.7 L2274.2,1332 L2366,1346.6 L2362.4,1431.1 L2340.3,1407.3 C2310,1425 2260,1443 2210,1445 C2160,1446 2120,1425 2095,1408 C2080,1395 2070,1380 2064,1365Z" fill="#8fb0d8"/>
<path d="M2542.5,997.0999999999999 L2589.0,1043.6 L2542.5,1090.1 L2496.0,1043.6Z" fill="#8db4e2" fill-opacity="0.75" stroke="#b9d0ee" stroke-width="1.5"/>
<path d="M2542.5,1043.6 L2589.0,1043.6 L2542.5,1090.1Z" fill="#6d9bd6" fill-opacity="0.55"/>
<path d="M2542.5,997.0999999999999 L2496.0,1043.6 L2542.5,1043.6Z" fill="#b4cdef" fill-opacity="0.5"/>
<path d="M2635.0,997.0999999999999 L2681.5,1043.6 L2635.0,1090.1 L2588.5,1043.6Z" fill="#8db4e2" fill-opacity="0.75" stroke="#b9d0ee" stroke-width="1.5"/>
<path d="M2635.0,1043.6 L2681.5,1043.6 L2635.0,1090.1Z" fill="#6d9bd6" fill-opacity="0.55"/>
<path d="M2635.0,997.0999999999999 L2588.5,1043.6 L2635.0,1043.6Z" fill="#b4cdef" fill-opacity="0.5"/>
<path d="M2727.5,997.0999999999999 L2774.0,1043.6 L2727.5,1090.1 L2681.0,1043.6Z" fill="#8db4e2" fill-opacity="0.75" stroke="#b9d0ee" stroke-width="1.5"/>
<path d="M2727.5,1043.6 L2774.0,1043.6 L2727.5,1090.1Z" fill="#6d9bd6" fill-opacity="0.55"/>
<path d="M2727.5,997.0999999999999 L2681.0,1043.6 L2727.5,1043.6Z" fill="#b4cdef" fill-opacity="0.5"/>
<path d="M2820.0,997.0999999999999 L2866.5,1043.6 L2820.0,1090.1 L2773.5,1043.6Z" fill="#8db4e2" fill-opacity="0.75" stroke="#b9d0ee" stroke-width="1.5"/>
<path d="M2820.0,1043.6 L2866.5,1043.6 L2820.0,1090.1Z" fill="#6d9bd6" fill-opacity="0.55"/>
<path d="M2820.0,997.0999999999999 L2773.5,1043.6 L2820.0,1043.6Z" fill="#b4cdef" fill-opacity="0.5"/>
<path d="M2912.5,997.0999999999999 L2959.0,1043.6 L2912.5,1090.1 L2866.0,1043.6Z" fill="#8db4e2" fill-opacity="0.75" stroke="#b9d0ee" stroke-width="1.5"/>
<path d="M2912.5,1043.6 L2959.0,1043.6 L2912.5,1090.1Z" fill="#6d9bd6" fill-opacity="0.55"/>
<path d="M2912.5,997.0999999999999 L2866.0,1043.6 L2912.5,1043.6Z" fill="#b4cdef" fill-opacity="0.5"/>
<path d="M2542.5,1089.6 L2589.0,1136.1 L2542.5,1182.6 L2496.0,1136.1Z" fill="#8db4e2" fill-opacity="0.75" stroke="#b9d0ee" stroke-width="1.5"/>
<path d="M2542.5,1136.1 L2589.0,1136.1 L2542.5,1182.6Z" fill="#6d9bd6" fill-opacity="0.55"/>
<path d="M2542.5,1089.6 L2496.0,1136.1 L2542.5,1136.1Z" fill="#b4cdef" fill-opacity="0.5"/>
<path d="M2635.0,1089.6 L2681.5,1136.1 L2635.0,1182.6 L2588.5,1136.1Z" fill="#8db4e2" fill-opacity="0.75" stroke="#b9d0ee" stroke-width="1.5"/>
<path d="M2635.0,1136.1 L2681.5,1136.1 L2635.0,1182.6Z" fill="#6d9bd6" fill-opacity="0.55"/>
<path d="M2635.0,1089.6 L2588.5,1136.1 L2635.0,1136.1Z" fill="#b4cdef" fill-opacity="0.5"/>
<path d="M2727.5,1089.6 L2774.0,1136.1 L2727.5,1182.6 L2681.0,1136.1Z" fill="#8db4e2" fill-opacity="0.75" stroke="#b9d0ee" stroke-width="1.5"/>
<path d="M2727.5,1136.1 L2774.0,1136.1 L2727.5,1182.6Z" fill="#6d9bd6" fill-opacity="0.55"/>
<path d="M2727.5,1089.6 L2681.0,1136.1 L2727.5,1136.1Z" fill="#b4cdef" fill-opacity="0.5"/>
<path d="M2820.0,1089.6 L2866.5,1136.1 L2820.0,1182.6 L2773.5,1136.1Z" fill="#8db4e2" fill-opacity="0.75" stroke="#b9d0ee" stroke-width="1.5"/>
<path d="M2820.0,1136.1 L2866.5,1136.1 L2820.0,1182.6Z" fill="#6d9bd6" fill-opacity="0.55"/>
<path d="M2820.0,1089.6 L2773.5,1136.1 L2820.0,1136.1Z" fill="#b4cdef" fill-opacity="0.5"/>
<path d="M2912.5,1089.6 L2959.0,1136.1 L2912.5,1182.6 L2866.0,1136.1Z" fill="#8db4e2" fill-opacity="0.75" stroke="#b9d0ee" stroke-width="1.5"/>
<path d="M2912.5,1136.1 L2959.0,1136.1 L2912.5,1182.6Z" fill="#6d9bd6" fill-opacity="0.55"/>
<path d="M2912.5,1089.6 L2866.0,1136.1 L2912.5,1136.1Z" fill="#b4cdef" fill-opacity="0.5"/>
<path d="M2542.5,1182.1 L2589.0,1228.6 L2542.5,1275.1 L2496.0,1228.6Z" fill="#8db4e2" fill-opacity="0.75" stroke="#b9d0ee" stroke-width="1.5"/>
<path d="M2542.5,1228.6 L2589.0,1228.6 L2542.5,1275.1Z" fill="#6d9bd6" fill-opacity="0.55"/>
<path d="M2542.5,1182.1 L2496.0,1228.6 L2542.5,1228.6Z" fill="#b4cdef" fill-opacity="0.5"/>
<path d="M2635.0,1182.1 L2681.5,1228.6 L2635.0,1275.1 L2588.5,1228.6Z" fill="#8db4e2" fill-opacity="0.75" stroke="#b9d0ee" stroke-width="1.5"/>
<path d="M2635.0,1228.6 L2681.5,1228.6 L2635.0,1275.1Z" fill="#6d9bd6" fill-opacity="0.55"/>
<path d="M2635.0,1182.1 L2588.5,1228.6 L2635.0,1228.6Z" fill="#b4cdef" fill-opacity="0.5"/>
<path d="M2727.5,1182.1 L2774.0,1228.6 L2727.5,1275.1 L2681.0,1228.6Z" fill="#8db4e2" fill-opacity="0.75" stroke="#b9d0ee" stroke-width="1.5"/>
<path d="M2727.5,1228.6 L2774.0,1228.6 L2727.5,1275.1Z" fill="#6d9bd6" fill-opacity="0.55"/>
<path d="M2727.5,1182.1 L2681.0,1228.6 L2727.5,1228.6Z" fill="#b4cdef" fill-opacity="0.5"/>
<path d="M2820.0,1182.1 L2866.5,1228.6 L2820.0,1275.1 L2773.5,1228.6Z" fill="#8db4e2" fill-opacity="0.75" stroke="#b9d0ee" stroke-width="1.5"/>
<path d="M2820.0,1228.6 L2866.5,1228.6 L2820.0,1275.1Z" fill="#6d9bd6" fill-opacity="0.55"/>
<path d="M2820.0,1182.1 L2773.5,1228.6 L2820.0,1228.6Z" fill="#b4cdef" fill-opacity="0.5"/>
<path d="M2912.5,1182.1 L2959.0,1228.6 L2912.5,1275.1 L2866.0,1228.6Z" fill="#8db4e2" fill-opacity="0.75" stroke="#b9d0ee" stroke-width="1.5"/>
<path d="M2912.5,1228.6 L2959.0,1228.6 L2912.5,1275.1Z" fill="#6d9bd6" fill-opacity="0.55"/>
<path d="M2912.5,1182.1 L2866.0,1228.6 L2912.5,1228.6Z" fill="#b4cdef" fill-opacity="0.5"/>
<path d="M2542.5,1274.6 L2589.0,1321.1 L2542.5,1367.6 L2496.0,1321.1Z" fill="#8db4e2" fill-opacity="0.75" stroke="#b9d0ee" stroke-width="1.5"/>
<path d="M2542.5,1321.1 L2589.0,1321.1 L2542.5,1367.6Z" fill="#6d9bd6" fill-opacity="0.55"/>
<path d="M2542.5,1274.6 L2496.0,1321.1 L2542.5,1321.1Z" fill="#b4cdef" fill-opacity="0.5"/>
<path d="M2635.0,1274.6 L2681.5,1321.1 L2635.0,1367.6 L2588.5,1321.1Z" fill="#8db4e2" fill-opacity="0.75" stroke="#b9d0ee" stroke-width="1.5"/>
<path d="M2635.0,1321.1 L2681.5,1321.1 L2635.0,1367.6Z" fill="#6d9bd6" fill-opacity="0.55"/>
<path d="M2635.0,1274.6 L2588.5,1321.1 L2635.0,1321.1Z" fill="#b4cdef" fill-opacity="0.5"/>
<path d="M2727.5,1274.6 L2774.0,1321.1 L2727.5,1367.6 L2681.0,1321.1Z" fill="#8db4e2" fill-opacity="0.75" stroke="#b9d0ee" stroke-width="1.5"/>
<path d="M2727.5,1321.1 L2774.0,1321.1 L2727.5,1367.6Z" fill="#6d9bd6" fill-opacity="0.55"/>
<path d="M2727.5,1274.6 L2681.0,1321.1 L2727.5,1321.1Z" fill="#b4cdef" fill-opacity="0.5"/>
<path d="M2820.0,1274.6 L2866.5,1321.1 L2820.0,1367.6 L2773.5,1321.1Z" fill="#8db4e2" fill-opacity="0.75" stroke="#b9d0ee" stroke-width="1.5"/>
<path d="M2820.0,1321.1 L2866.5,1321.1 L2820.0,1367.6Z" fill="#6d9bd6" fill-opacity="0.55"/>
<path d="M2820.0,1274.6 L2773.5,1321.1 L2820.0,1321.1Z" fill="#b4cdef" fill-opacity="0.5"/>
<path d="M2912.5,1274.6 L2959.0,1321.1 L2912.5,1367.6 L2866.0,1321.1Z" fill="#8db4e2" fill-opacity="0.75" stroke="#b9d0ee" stroke-width="1.5"/>
<path d="M2912.5,1321.1 L2959.0,1321.1 L2912.5,1367.6Z" fill="#6d9bd6" fill-opacity="0.55"/>
<path d="M2912.5,1274.6 L2866.0,1321.1 L2912.5,1321.1Z" fill="#b4cdef" fill-opacity="0.5"/>
<path d="M2542.5,1367.1 L2589.0,1413.6 L2542.5,1460.1 L2496.0,1413.6Z" fill="#8db4e2" fill-opacity="0.75" stroke="#b9d0ee" stroke-width="1.5"/>
<path d="M2542.5,1413.6 L2589.0,1413.6 L2542.5,1460.1Z" fill="#6d9bd6" fill-opacity="0.55"/>
<path d="M2542.5,1367.1 L2496.0,1413.6 L2542.5,1413.6Z" fill="#b4cdef" fill-opacity="0.5"/>
<path d="M2635.0,1367.1 L2681.5,1413.6 L2635.0,1460.1 L2588.5,1413.6Z" fill="#8db4e2" fill-opacity="0.75" stroke="#b9d0ee" stroke-width="1.5"/>
<path d="M2635.0,1413.6 L2681.5,1413.6 L2635.0,1460.1Z" fill="#6d9bd6" fill-opacity="0.55"/>
<path d="M2635.0,1367.1 L2588.5,1413.6 L2635.0,1413.6Z" fill="#b4cdef" fill-opacity="0.5"/>
<path d="M2727.5,1367.1 L2774.0,1413.6 L2727.5,1460.1 L2681.0,1413.6Z" fill="#8db4e2" fill-opacity="0.75" stroke="#b9d0ee" stroke-width="1.5"/>
<path d="M2727.5,1413.6 L2774.0,1413.6 L2727.5,1460.1Z" fill="#6d9bd6" fill-opacity="0.55"/>
<path d="M2727.5,1367.1 L2681.0,1413.6 L2727.5,1413.6Z" fill="#b4cdef" fill-opacity="0.5"/>
<path d="M2820.0,1367.1 L2866.5,1413.6 L2820.0,1460.1 L2773.5,1413.6Z" fill="#8db4e2" fill-opacity="0.75" stroke="#b9d0ee" stroke-width="1.5"/>
<path d="M2820.0,1413.6 L2866.5,1413.6 L2820.0,1460.1Z" fill="#6d9bd6" fill-opacity="0.55"/>
<path d="M2820.0,1367.1 L2773.5,1413.6 L2820.0,1413.6Z" fill="#b4cdef" fill-opacity="0.5"/>
<path d="M2912.5,1367.1 L2959.0,1413.6 L2912.5,1460.1 L2866.0,1413.6Z" fill="#8db4e2" fill-opacity="0.75" stroke="#b9d0ee" stroke-width="1.5"/>
<path d="M2912.5,1413.6 L2959.0,1413.6 L2912.5,1460.1Z" fill="#6d9bd6" fill-opacity="0.55"/>
<path d="M2912.5,1367.1 L2866.0,1413.6 L2912.5,1413.6Z" fill="#b4cdef" fill-opacity="0.5"/>
<circle cx="2588.8" cy="1089.8" r="17" fill="url(#bR)"/>
<circle cx="2681.2" cy="1089.8" r="17" fill="url(#bR)"/>
<circle cx="2773.8" cy="1089.8" r="17" fill="url(#bR)"/>
<circle cx="2866.2" cy="1089.8" r="17" fill="url(#bR)"/>
<circle cx="2588.8" cy="1182.3" r="17" fill="url(#bR)"/>
<circle cx="2681.2" cy="1182.3" r="17" fill="url(#bR)"/>
<circle cx="2773.8" cy="1182.3" r="17" fill="url(#bR)"/>
<circle cx="2866.2" cy="1182.3" r="17" fill="url(#bR)"/>
<circle cx="2588.8" cy="1274.8" r="17" fill="url(#bR)"/>
<circle cx="2681.2" cy="1274.8" r="17" fill="url(#bR)"/>
<circle cx="2773.8" cy="1274.8" r="17" fill="url(#bR)"/>
<circle cx="2866.2" cy="1274.8" r="17" fill="url(#bR)"/>
<circle cx="2588.8" cy="1367.3" r="17" fill="url(#bR)"/>
<circle cx="2681.2" cy="1367.3" r="17" fill="url(#bR)"/>
<circle cx="2773.8" cy="1367.3" r="17" fill="url(#bR)"/>
<circle cx="2866.2" cy="1367.3" r="17" fill="url(#bR)"/>
<circle cx="2542.5" cy="1043.6" r="12" fill="url(#bG)"/>
<circle cx="2635.0" cy="1043.6" r="12" fill="url(#bG)"/>
<circle cx="2727.5" cy="1043.6" r="12" fill="url(#bG)"/>
<circle cx="2820.0" cy="1043.6" r="12" fill="url(#bG)"/>
<circle cx="2912.5" cy="1043.6" r="12" fill="url(#bG)"/>
<circle cx="2542.5" cy="1136.1" r="12" fill="url(#bG)"/>
<circle cx="2635.0" cy="1136.1" r="12" fill="url(#bG)"/>
<circle cx="2727.5" cy="1136.1" r="12" fill="url(#bG)"/>
<circle cx="2820.0" cy="1136.1" r="12" fill="url(#bG)"/>
<circle cx="2912.5" cy="1136.1" r="12" fill="url(#bG)"/>
<circle cx="2542.5" cy="1228.6" r="12" fill="url(#bG)"/>
<circle cx="2635.0" cy="1228.6" r="12" fill="url(#bG)"/>
<circle cx="2727.5" cy="1228.6" r="12" fill="url(#bG)"/>
<circle cx="2820.0" cy="1228.6" r="12" fill="url(#bG)"/>
<circle cx="2912.5" cy="1228.6" r="12" fill="url(#bG)"/>
<circle cx="2542.5" cy="1321.1" r="12" fill="url(#bG)"/>
<circle cx="2635.0" cy="1321.1" r="12" fill="url(#bG)"/>
<circle cx="2727.5" cy="1321.1" r="12" fill="url(#bG)"/>
<circle cx="2820.0" cy="1321.1" r="12" fill="url(#bG)"/>
<circle cx="2912.5" cy="1321.1" r="12" fill="url(#bG)"/>
<circle cx="2542.5" cy="1413.6" r="12" fill="url(#bG)"/>
<circle cx="2635.0" cy="1413.6" r="12" fill="url(#bG)"/>
<circle cx="2727.5" cy="1413.6" r="12" fill="url(#bG)"/>
<circle cx="2820.0" cy="1413.6" r="12" fill="url(#bG)"/>
<circle cx="2912.5" cy="1413.6" r="12" fill="url(#bG)"/>
<circle cx="2496.0" cy="1043.6" r="12" fill="url(#bG)"/>
<circle cx="2496.0" cy="1136.1" r="12" fill="url(#bG)"/>
<circle cx="2496.0" cy="1228.6" r="12" fill="url(#bG)"/>
<circle cx="2496.0" cy="1321.1" r="12" fill="url(#bG)"/>
<circle cx="2496.0" cy="1413.6" r="12" fill="url(#bG)"/>
<circle cx="2542.5" cy="997.1" r="12" fill="url(#bG)"/>
<circle cx="2542.5" cy="1089.6" r="12" fill="url(#bG)"/>
<circle cx="2542.5" cy="1090.1" r="12" fill="url(#bG)"/>
<circle cx="2542.5" cy="1182.1" r="12" fill="url(#bG)"/>
<circle cx="2542.5" cy="1182.6" r="12" fill="url(#bG)"/>
<circle cx="2542.5" cy="1274.6" r="12" fill="url(#bG)"/>
<circle cx="2542.5" cy="1275.1" r="12" fill="url(#bG)"/>
<circle cx="2542.5" cy="1367.1" r="12" fill="url(#bG)"/>
<circle cx="2542.5" cy="1367.6" r="12" fill="url(#bG)"/>
<circle cx="2542.5" cy="1460.1" r="12" fill="url(#bG)"/>
<circle cx="2588.5" cy="1043.6" r="12" fill="url(#bG)"/>
<circle cx="2588.5" cy="1136.1" r="12" fill="url(#bG)"/>
<circle cx="2588.5" cy="1228.6" r="12" fill="url(#bG)"/>
<circle cx="2588.5" cy="1321.1" r="12" fill="url(#bG)"/>
<circle cx="2588.5" cy="1413.6" r="12" fill="url(#bG)"/>
<circle cx="2589.0" cy="1043.6" r="12" fill="url(#bG)"/>
<circle cx="2589.0" cy="1136.1" r="12" fill="url(#bG)"/>
<circle cx="2589.0" cy="1228.6" r="12" fill="url(#bG)"/>
<circle cx="2589.0" cy="1321.1" r="12" fill="url(#bG)"/>
<circle cx="2589.0" cy="1413.6" r="12" fill="url(#bG)"/>
<circle cx="2635.0" cy="997.1" r="12" fill="url(#bG)"/>
<circle cx="2635.0" cy="1089.6" r="12" fill="url(#bG)"/>
<circle cx="2635.0" cy="1090.1" r="12" fill="url(#bG)"/>
<circle cx="2635.0" cy="1182.1" r="12" fill="url(#bG)"/>
<circle cx="2635.0" cy="1182.6" r="12" fill="url(#bG)"/>
<circle cx="2635.0" cy="1274.6" r="12" fill="url(#bG)"/>
<circle cx="2635.0" cy="1275.1" r="12" fill="url(#bG)"/>
<circle cx="2635.0" cy="1367.1" r="12" fill="url(#bG)"/>
<circle cx="2635.0" cy="1367.6" r="12" fill="url(#bG)"/>
<circle cx="2635.0" cy="1460.1" r="12" fill="url(#bG)"/>
<circle cx="2681.0" cy="1043.6" r="12" fill="url(#bG)"/>
<circle cx="2681.0" cy="1136.1" r="12" fill="url(#bG)"/>
<circle cx="2681.0" cy="1228.6" r="12" fill="url(#bG)"/>
<circle cx="2681.0" cy="1321.1" r="12" fill="url(#bG)"/>
<circle cx="2681.0" cy="1413.6" r="12" fill="url(#bG)"/>
<circle cx="2681.5" cy="1043.6" r="12" fill="url(#bG)"/>
<circle cx="2681.5" cy="1136.1" r="12" fill="url(#bG)"/>
<circle cx="2681.5" cy="1228.6" r="12" fill="url(#bG)"/>
<circle cx="2681.5" cy="1321.1" r="12" fill="url(#bG)"/>
<circle cx="2681.5" cy="1413.6" r="12" fill="url(#bG)"/>
<circle cx="2727.5" cy="997.1" r="12" fill="url(#bG)"/>
<circle cx="2727.5" cy="1089.6" r="12" fill="url(#bG)"/>
<circle cx="2727.5" cy="1090.1" r="12" fill="url(#bG)"/>
<circle cx="2727.5" cy="1182.1" r="12" fill="url(#bG)"/>
<circle cx="2727.5" cy="1182.6" r="12" fill="url(#bG)"/>
<circle cx="2727.5" cy="1274.6" r="12" fill="url(#bG)"/>
<circle cx="2727.5" cy="1275.1" r="12" fill="url(#bG)"/>
<circle cx="2727.5" cy="1367.1" r="12" fill="url(#bG)"/>
<circle cx="2727.5" cy="1367.6" r="12" fill="url(#bG)"/>
<circle cx="2727.5" cy="1460.1" r="12" fill="url(#bG)"/>
<circle cx="2773.5" cy="1043.6" r="12" fill="url(#bG)"/>
<circle cx="2773.5" cy="1136.1" r="12" fill="url(#bG)"/>
<circle cx="2773.5" cy="1228.6" r="12" fill="url(#bG)"/>
<circle cx="2773.5" cy="1321.1" r="12" fill="url(#bG)"/>
<circle cx="2773.5" cy="1413.6" r="12" fill="url(#bG)"/>
<circle cx="2774.0" cy="1043.6" r="12" fill="url(#bG)"/>
<circle cx="2774.0" cy="1136.1" r="12" fill="url(#bG)"/>
<circle cx="2774.0" cy="1228.6" r="12" fill="url(#bG)"/>
<circle cx="2774.0" cy="1321.1" r="12" fill="url(#bG)"/>
<circle cx="2774.0" cy="1413.6" r="12" fill="url(#bG)"/>
<circle cx="2820.0" cy="997.1" r="12" fill="url(#bG)"/>
<circle cx="2820.0" cy="1089.6" r="12" fill="url(#bG)"/>
<circle cx="2820.0" cy="1090.1" r="12" fill="url(#bG)"/>
<circle cx="2820.0" cy="1182.1" r="12" fill="url(#bG)"/>
<circle cx="2820.0" cy="1182.6" r="12" fill="url(#bG)"/>
<circle cx="2820.0" cy="1274.6" r="12" fill="url(#bG)"/>
<circle cx="2820.0" cy="1275.1" r="12" fill="url(#bG)"/>
<circle cx="2820.0" cy="1367.1" r="12" fill="url(#bG)"/>
<circle cx="2820.0" cy="1367.6" r="12" fill="url(#bG)"/>
<circle cx="2820.0" cy="1460.1" r="12" fill="url(#bG)"/>
<circle cx="2866.0" cy="1043.6" r="12" fill="url(#bG)"/>
<circle cx="2866.0" cy="1136.1" r="12" fill="url(#bG)"/>
<circle cx="2866.0" cy="1228.6" r="12" fill="url(#bG)"/>
<circle cx="2866.0" cy="1321.1" r="12" fill="url(#bG)"/>
<circle cx="2866.0" cy="1413.6" r="12" fill="url(#bG)"/>
<circle cx="2866.5" cy="1043.6" r="12" fill="url(#bG)"/>
<circle cx="2866.5" cy="1136.1" r="12" fill="url(#bG)"/>
<circle cx="2866.5" cy="1228.6" r="12" fill="url(#bG)"/>
<circle cx="2866.5" cy="1321.1" r="12" fill="url(#bG)"/>
<circle cx="2866.5" cy="1413.6" r="12" fill="url(#bG)"/>
<circle cx="2912.5" cy="997.1" r="12" fill="url(#bG)"/>
<circle cx="2912.5" cy="1089.6" r="12" fill="url(#bG)"/>
<circle cx="2912.5" cy="1090.1" r="12" fill="url(#bG)"/>
<circle cx="2912.5" cy="1182.1" r="12" fill="url(#bG)"/>
<circle cx="2912.5" cy="1182.6" r="12" fill="url(#bG)"/>
<circle cx="2912.5" cy="1274.6" r="12" fill="url(#bG)"/>
<circle cx="2912.5" cy="1275.1" r="12" fill="url(#bG)"/>
<circle cx="2912.5" cy="1367.1" r="12" fill="url(#bG)"/>
<circle cx="2912.5" cy="1367.6" r="12" fill="url(#bG)"/>
<circle cx="2912.5" cy="1460.1" r="12" fill="url(#bG)"/>
<circle cx="2959.0" cy="1043.6" r="12" fill="url(#bG)"/>
<circle cx="2959.0" cy="1136.1" r="12" fill="url(#bG)"/>
<circle cx="2959.0" cy="1228.6" r="12" fill="url(#bG)"/>
<circle cx="2959.0" cy="1321.1" r="12" fill="url(#bG)"/>
<circle cx="2959.0" cy="1413.6" r="12" fill="url(#bG)"/>
<circle cx="3120.6" cy="1005.0" r="15" fill="url(#bB)"/>
<circle cx="3117.0" cy="1103.0" r="22.5" fill="url(#bR)"/>
<circle cx="3118.0" cy="1200.0" r="19" fill="url(#bGl)"/>
<circle cx="3118.0" cy="1291.0" r="15" fill="url(#bV)"/>
<line x1="3080" y1="1397" x2="3155" y2="1399" stroke="#6a3b8f" stroke-width="3"/>
<circle cx="3080.0" cy="1397.0" r="12.5" fill="url(#bP)"/><circle cx="3114.0" cy="1397.0" r="12.5" fill="url(#bP)"/><circle cx="3155.5" cy="1399.0" r="15" fill="url(#bG)"/>
<path d="M3063,1474 L3083,1501 L3118,1529 L3155.5,1501 L3177,1478" fill="none" stroke="#6a3b8f" stroke-width="3"/>
<circle cx="3063.0" cy="1474.0" r="12.5" fill="url(#bP)"/><circle cx="3083.0" cy="1501.0" r="12.5" fill="url(#bP)"/><circle cx="3155.5" cy="1501.0" r="12.5" fill="url(#bP)"/><circle cx="3177.0" cy="1478.0" r="12.5" fill="url(#bP)"/><circle cx="3118.0" cy="1529.0" r="15" fill="url(#bG)"/>
<text x="3217.0" y="1025.0" font-size="46" fill="#000" >Pb<tspan dy="-17" font-size="32">2+</tspan></text>
<text x="3217.0" y="1122.0" font-size="46" fill="#000" >FA<tspan dy="-17" font-size="32">+</tspan></text>
<text x="3217.0" y="1218.0" font-size="46" fill="#000" >I<tspan dy="-17" font-size="32">&#8211;</tspan></text>
<text x="3217.0" y="1317.0" font-size="46" fill="#000" >I<tspan dy="-17" font-size="32">0</tspan></text>
<text x="3217.0" y="1416.0" font-size="46" fill="#000" >I<tspan dy="13" font-size="32">3</tspan><tspan dy="-30" font-size="32">&#8211;</tspan></text>
<text x="3217.0" y="1513.0" font-size="46" fill="#000" >I<tspan dy="13" font-size="32">5</tspan><tspan dy="-30" font-size="32">&#8211;</tspan></text>
<text x="-1" y="1816" font-size="92" font-weight="bold" fill="#1a1a1a" transform="translate(-1,0) scale(0.8,1) translate(1,0)">C</text>
<path d="M158,1814 L162,2200 C165,2290 200,2340 330,2362 C430,2374 700,2376 810,2362 C940,2340 975,2290 978,2200 L981,1814Z" fill="url(#cGlass)"/>
<path d="M160,1814 A411,35 0 0 1 980,1814 C900,1822 700,1826 570,1826 C440,1826 240,1822 160,1814Z" fill="#e4e4e6"/>
<path d="M234,1826 C400,1828 740,1828 899,1826 C800,1842 680,1848 570,1848 C450,1848 330,1842 234,1826Z" fill="#a56fc1"/>
<path d="M193,1925 C260,1890 420,1872 570,1872 C720,1872 880,1890 947,1925 L947,2165 L193,2165Z" fill="url(#cUp)"/>
<path d="M215,1930 C300,1912 440,1905 570,1905 C700,1905 840,1912 925,1930" fill="none" stroke="#d6bde3" stroke-width="3" opacity="0.8"/>
<rect x="193" y="2055" width="754" height="22" fill="#c7a3d8" opacity="0.5"/>
<path d="M196,2162 L944,2162 L944,2255 C935,2300 880,2335 760,2348 C650,2356 490,2356 380,2348 C260,2335 205,2300 196,2255Z" fill="url(#cLow)"/>
<path d="M210,2162 C350,2158 790,2158 930,2162" fill="none" stroke="#b98bcf" stroke-width="3" opacity="0.7"/>
<path d="M178,2300 C220,2345 330,2364 570,2368 C810,2364 920,2345 962,2300" fill="none" stroke="#8e8e92" stroke-width="2"/>
<path d="M170,2290 C210,2352 330,2374 570,2376 C810,2374 930,2352 970,2290" fill="none" stroke="#a9a9ad" stroke-width="3"/>
<path d="M158,1814 A411,35 0 0 1 981,1814" fill="none" stroke="#8a8a8e" stroke-width="5"/>
<path d="M170,1813 A399,31 0 0 1 969,1813" fill="none" stroke="#4a4a4e" stroke-width="1.5" opacity="0.7"/>
<path d="M158,1814 C240,1823 400,1826 570,1826 C740,1826 900,1823 981,1814" fill="none" stroke="#9a9a9e" stroke-width="3"/>
<path d="M161,1820 L163,2200" stroke="#f5f5f7" stroke-width="4" fill="none"/>
<path d="M978,1820 L976,2200" stroke="#f5f5f7" stroke-width="4" fill="none"/>
<circle cx="262.9" cy="2225.3" r="8" fill="#e6d4ef" opacity="0.55"/>
<circle cx="293.6" cy="2220.9" r="8" fill="#e6d4ef" opacity="0.55"/>
<circle cx="304.5" cy="2223.1" r="8" fill="#e6d4ef" opacity="0.55"/>
<circle cx="315.5" cy="2231.9" r="8" fill="#e6d4ef" opacity="0.55"/>
<circle cx="376.9" cy="2269.2" r="8" fill="#e6d4ef" opacity="0.55"/>
<circle cx="403.3" cy="2256.0" r="8" fill="#e6d4ef" opacity="0.55"/>
<circle cx="416.4" cy="2271.4" r="8" fill="#e6d4ef" opacity="0.55"/>
<circle cx="431.8" cy="2238.5" r="8" fill="#e6d4ef" opacity="0.55"/>
<circle cx="447.2" cy="2234.1" r="8" fill="#e6d4ef" opacity="0.55"/>
<circle cx="442.8" cy="2264.8" r="8" fill="#e6d4ef" opacity="0.55"/>
<circle cx="460.3" cy="2264.8" r="8" fill="#e6d4ef" opacity="0.55"/>
<circle cx="451.5" cy="2288.9" r="8" fill="#e6d4ef" opacity="0.55"/>
<circle cx="473.5" cy="2188.0" r="8" fill="#e6d4ef" opacity="0.55"/>
<circle cx="513.0" cy="2181.4" r="8" fill="#e6d4ef" opacity="0.55"/>
<circle cx="526.1" cy="2192.4" r="8" fill="#e6d4ef" opacity="0.55"/>
<circle cx="521.7" cy="2273.6" r="8" fill="#e6d4ef" opacity="0.55"/>
<circle cx="510.8" cy="2304.3" r="8" fill="#e6d4ef" opacity="0.55"/>
<circle cx="567.8" cy="2227.5" r="8" fill="#e6d4ef" opacity="0.55"/>
<circle cx="561.2" cy="2240.7" r="8" fill="#e6d4ef" opacity="0.55"/>
<circle cx="578.8" cy="2299.9" r="8" fill="#e6d4ef" opacity="0.55"/>
<circle cx="587.6" cy="2253.8" r="8" fill="#e6d4ef" opacity="0.55"/>
<circle cx="609.5" cy="2286.7" r="8" fill="#e6d4ef" opacity="0.55"/>
<circle cx="635.8" cy="2253.8" r="8" fill="#e6d4ef" opacity="0.55"/>
<circle cx="638.0" cy="2291.1" r="8" fill="#e6d4ef" opacity="0.55"/>
<circle cx="662.2" cy="2273.6" r="8" fill="#e6d4ef" opacity="0.55"/>
<circle cx="695.1" cy="2291.1" r="8" fill="#e6d4ef" opacity="0.55"/>
<circle cx="714.8" cy="2210.0" r="8" fill="#e6d4ef" opacity="0.55"/>
<circle cx="730.2" cy="2218.7" r="8" fill="#e6d4ef" opacity="0.55"/>
<circle cx="749.9" cy="2223.1" r="8" fill="#e6d4ef" opacity="0.55"/>
<circle cx="767.5" cy="2229.7" r="8" fill="#e6d4ef" opacity="0.55"/>
<circle cx="745.5" cy="2262.6" r="8" fill="#e6d4ef" opacity="0.55"/>
<circle cx="760.9" cy="2256.0" r="8" fill="#e6d4ef" opacity="0.55"/>
<circle cx="853.0" cy="2234.1" r="8" fill="#e6d4ef" opacity="0.55"/>
<circle cx="864.0" cy="2242.9" r="8" fill="#e6d4ef" opacity="0.55"/>
<circle cx="881.6" cy="2216.5" r="8" fill="#e6d4ef" opacity="0.55"/>
<circle cx="916.7" cy="2218.7" r="8" fill="#e6d4ef" opacity="0.55"/>
<circle cx="438.4" cy="2190.2" r="8" fill="#e6d4ef" opacity="0.55"/>
<circle cx="412.0" cy="2199.0" r="8" fill="#e6d4ef" opacity="0.55"/>
<path d="M363,2093 L508,2049 L750,2066 L652,2122Z" fill="url(#cFilm)" stroke="#d4cf48" stroke-width="3" stroke-linejoin="round"/>
<path d="M363,2095 L652,2124 L750,2068" fill="none" stroke="#cfc944" stroke-width="3"/>
<path d="M436,2000 L670,2000 L670,1990 L692,2011 L670,2032 L670,2022 L436,2022Z" fill="#8a5aa0" opacity="0.35" filter="url(#blur2)"/>
<path d="M432,1991 L667,1991 L667,1983 L689,2003 L667,2024 L667,2015.5 L432,2015.5Z" fill="url(#cArr)"/>
<rect x="432" y="1991" width="6" height="24.5" fill="#e8e480" opacity="0.7"/>
<path d="M487,2190 C520,2140 600,2128 660,2134 C720,2140 750,2165 763,2190" fill="none" stroke="url(#cArcT)" stroke-width="11" stroke-linecap="round"/>
<path d="M752,2178 L776,2200 L750,2198Z" fill="#9d55c2" opacity="0.9"/>
<path d="M772,2208 C760,2260 700,2282 620,2278 C560,2275 510,2255 482,2222" fill="none" stroke="url(#cArcB)" stroke-width="12" stroke-linecap="round"/>
<path d="M465,2205 L497,2212 L480,2238Z" fill="#f4ecf8" stroke="#d8c4e6" stroke-width="1.5"/>
<text x="362.0" y="1923.0" font-size="55.9" font-weight="bold" fill="#c8202a" >Chlorobenzene</text>
<text x="304.0" y="2023.0" font-size="54" font-weight="bold" fill="#e9e52a" >PbI<tspan dy="14" font-size="40">2</tspan></text>
<text x="719.0" y="2023.0" font-size="55" font-weight="bold" fill="#1c1c1c" >FAPbI<tspan dy="14" font-size="40">3</tspan></text>
<text x="267.0" y="2206.0" font-size="55" font-weight="bold" fill="#8b4a1e" >FAI<tspan dy="14" font-size="40">3(sol)</tspan></text>
<text x="568.0" y="2208.0" font-size="55" font-weight="bold" fill="#ffffff" >FAI<tspan dy="14" font-size="40">(s)</tspan></text>
<text x="757.0" y="2206.0" font-size="53" font-weight="bold" fill="#5e3a9c" >I<tspan dy="14" font-size="38">2(sol)</tspan></text>
<text x="202.0" y="2455.0" font-size="56.1" font-weight="bold" fill="#1a1a1a" >Polyiodide-mediated reaction</text>
<text x="1113" y="1816" font-size="92" font-weight="bold" fill="#1a1a1a" transform="translate(1113,0) scale(0.84,1) translate(-1113,0)">D</text>
<polygon points="1401.2,2257.3 1401.2,2257.3 1772.3,1947.2 1957.8,1938.8 2143.4,1845.2 2421.7,1811.8 2700.1,1867.9 2978.4,1918.7 3256.7,1959.3 3256.7,2257.3" fill="#f9e1dc" fill-opacity="1"/>
<polygon points="1401.2,2257.3 1401.2,2115.6 1772.3,2143.3 1957.8,2085.8 2143.4,2115.6 2421.7,2257.3 2700.1,2219.0 2978.4,2039.0 3256.7,1900.9 3256.7,2257.3" fill="#f2cf7a" fill-opacity="0.2"/>
<polygon points="1401.2,2257.3 1401.2,1990.9 1772.3,2214.1 1957.8,2243.5 2143.4,2257.3 2421.7,2257.3 2700.1,2257.3 2978.4,2257.3 3256.7,2257.3 3256.7,2257.3" fill="#4f56ab" fill-opacity="0.55"/>
<line x1="1309.5" y1="2257.3" x2="3349" y2="2257.3" stroke="#333" stroke-width="2"/>
<polyline points="1401.2,2257.3 1772.3,1947.2 1957.8,1938.8 2143.4,1845.2 2421.7,1811.8 2700.1,1867.9 2978.4,1918.7 3256.7,1959.3" fill="none" stroke="#e46f74" stroke-width="3.2"/>
<polyline points="1401.2,2115.6 1772.3,2143.3 1957.8,2085.8 2143.4,2115.6 2421.7,2257.3 2700.1,2219.0 2978.4,2039.0 3256.7,1900.9" fill="none" stroke="#eeaa36" stroke-width="3.6"/>
<polyline points="1401.2,1990.9 1772.3,2214.1 1957.8,2243.5 2143.4,2257.3 2421.7,2257.3 2700.1,2257.3 2978.4,2257.3 3256.7,2257.3" fill="none" stroke="#6470b4" stroke-width="3.2"/>
<path d="M1401.2,2096.6 L1420.2,2115.6 L1401.2,2134.6 L1382.2,2115.6Z" fill="#f0b534"/>
<path d="M1772.3,2124.3 L1791.3,2143.3 L1772.3,2162.3 L1753.3,2143.3Z" fill="#f0b534"/>
<path d="M1957.8,2066.8 L1976.8,2085.8 L1957.8,2104.8 L1938.8,2085.8Z" fill="#f0b534"/>
<path d="M2143.4,2096.6 L2162.4,2115.6 L2143.4,2134.6 L2124.4,2115.6Z" fill="#f0b534"/>
<path d="M2421.7,2238.3 L2440.7,2257.3 L2421.7,2276.3 L2402.7,2257.3Z" fill="#f0b534"/>
<path d="M2700.1,2200.0 L2719.1,2219.0 L2700.1,2238.0 L2681.1,2219.0Z" fill="#f0b534"/>
<path d="M2978.4,2020.0 L2997.4,2039.0 L2978.4,2058.0 L2959.4,2039.0Z" fill="#f0b534"/>
<path d="M3256.7,1881.9 L3275.7,1900.9 L3256.7,1919.9 L3237.7,1900.9Z" fill="#f0b534"/>
<circle cx="1401.2" cy="2257.3" r="14.5" fill="#e6707a"/>
<circle cx="1772.3" cy="1947.2" r="14.5" fill="#e6707a"/>
<circle cx="1957.8" cy="1938.8" r="14.5" fill="#e6707a"/>
<circle cx="2143.4" cy="1845.2" r="14.5" fill="#e6707a"/>
<circle cx="2421.7" cy="1811.8" r="14.5" fill="#e6707a"/>
<circle cx="2700.1" cy="1867.9" r="14.5" fill="#e6707a"/>
<circle cx="2978.4" cy="1918.7" r="14.5" fill="#e6707a"/>
<circle cx="3256.7" cy="1959.3" r="14.5" fill="#e6707a"/>
<rect x="1388.2" y="1977.9" width="26" height="26" fill="#6b72b6"/>
<rect x="1759.3" y="2201.1" width="26" height="26" fill="#6b72b6"/>
<rect x="1944.8" y="2230.5" width="26" height="26" fill="#6b72b6"/>
<rect x="2130.4" y="2244.3" width="26" height="26" fill="#6b72b6"/>
<rect x="2408.7" y="2244.3" width="26" height="26" fill="#6b72b6"/>
<rect x="2687.1" y="2244.3" width="26" height="26" fill="#6b72b6"/>
<rect x="2965.4" y="2244.3" width="26" height="26" fill="#6b72b6"/>
<rect x="3243.7" y="2244.3" width="26" height="26" fill="#6b72b6"/>
<rect x="1349.8" y="2288.6" width="107" height="110" fill="#8a5a3a"/>
<rect x="1353.8" y="2292.6" width="99" height="102" fill="url(#ph20)"/>
<rect x="1704.0" y="2288.6" width="118" height="111" fill="#aebccc"/>
<rect x="1708.0" y="2292.6" width="110" height="103" fill="#1c1220"/>
<rect x="1897.7" y="2288.6" width="112" height="111" fill="#b4c0cc"/>
<rect x="1901.7" y="2292.6" width="104" height="103" fill="#1e1228"/>
<rect x="2083.0" y="2288.6" width="115" height="111" fill="#b0bccc"/>
<rect x="2087.0" y="2292.6" width="107" height="103" fill="#111a2e"/>
<rect x="2367.6" y="2291.0" width="109" height="106" fill="#5f6f80"/>
<rect x="2371.6" y="2295.0" width="101" height="98" fill="#0f1722"/>
<rect x="2640.3" y="2289.7" width="115" height="108" fill="#7a8898"/>
<rect x="2644.3" y="2293.7" width="107" height="100" fill="#0f1a2e"/>
<rect x="2921.8" y="2290.0" width="109" height="107" fill="#6f8398"/>
<rect x="2925.8" y="2294.0" width="101" height="99" fill="#1f4a78"/>
<rect x="3205.4" y="2291.0" width="109" height="106" fill="#6a7c90"/>
<rect x="3209.4" y="2295.0" width="101" height="98" fill="#1e3f64"/>
<path d="M1309.5,1723 L3349,1723 L3349,2435 L1309.5,2435Z" fill="none" stroke="#222" stroke-width="2.5"/>
<line x1="1294.5" y1="1811.8" x2="1309.5" y2="1811.8" stroke="#222" stroke-width="2.2"/>
<line x1="1294.5" y1="2034.6" x2="1309.5" y2="2034.6" stroke="#222" stroke-width="2.2"/>
<line x1="1294.5" y1="2257.3" x2="1309.5" y2="2257.3" stroke="#222" stroke-width="2.2"/>
<line x1="1301.5" y1="1923.2" x2="1309.5" y2="1923.2" stroke="#222" stroke-width="2.2"/>
<line x1="1301.5" y1="2145.9" x2="1309.5" y2="2145.9" stroke="#222" stroke-width="2.2"/>
<line x1="1301.5" y1="2368.7" x2="1309.5" y2="2368.7" stroke="#222" stroke-width="2.2"/>
<text x="1281.0" y="1825.3" font-size="38" text-anchor="end" fill="#222" >1</text>
<text x="1281.0" y="2048.1" font-size="38" text-anchor="end" fill="#222" >0.5</text>
<text x="1281.0" y="2270.8" font-size="38" text-anchor="end" fill="#222" >0</text>
<line x1="1308.4" y1="2435" x2="1308.4" y2="2443" stroke="#222" stroke-width="2.2"/>
<line x1="1401.2" y1="2435" x2="1401.2" y2="2451" stroke="#222" stroke-width="2.2"/>
<text x="1401.2" y="2492.5" font-size="38" text-anchor="middle" fill="#222" >20</text>
<line x1="1494.0" y1="2435" x2="1494.0" y2="2443" stroke="#222" stroke-width="2.2"/>
<line x1="1586.8" y1="2435" x2="1586.8" y2="2451" stroke="#222" stroke-width="2.2"/>
<text x="1586.8" y="2492.5" font-size="38" text-anchor="middle" fill="#222" >30</text>
<line x1="1679.5" y1="2435" x2="1679.5" y2="2443" stroke="#222" stroke-width="2.2"/>
<line x1="1772.3" y1="2435" x2="1772.3" y2="2451" stroke="#222" stroke-width="2.2"/>
<text x="1772.3" y="2492.5" font-size="38" text-anchor="middle" fill="#222" >40</text>
<line x1="1865.1" y1="2435" x2="1865.1" y2="2443" stroke="#222" stroke-width="2.2"/>
<line x1="1957.8" y1="2435" x2="1957.8" y2="2451" stroke="#222" stroke-width="2.2"/>
<text x="1957.8" y="2492.5" font-size="38" text-anchor="middle" fill="#222" >50</text>
<line x1="2050.6" y1="2435" x2="2050.6" y2="2443" stroke="#222" stroke-width="2.2"/>
<line x1="2143.4" y1="2435" x2="2143.4" y2="2451" stroke="#222" stroke-width="2.2"/>
<text x="2143.4" y="2492.5" font-size="38" text-anchor="middle" fill="#222" >60</text>
<line x1="2236.2" y1="2435" x2="2236.2" y2="2443" stroke="#222" stroke-width="2.2"/>
<line x1="2328.9" y1="2435" x2="2328.9" y2="2451" stroke="#222" stroke-width="2.2"/>
<text x="2328.9" y="2492.5" font-size="38" text-anchor="middle" fill="#222" >70</text>
<line x1="2421.7" y1="2435" x2="2421.7" y2="2443" stroke="#222" stroke-width="2.2"/>
<line x1="2514.5" y1="2435" x2="2514.5" y2="2451" stroke="#222" stroke-width="2.2"/>
<text x="2514.5" y="2492.5" font-size="38" text-anchor="middle" fill="#222" >80</text>
<line x1="2607.3" y1="2435" x2="2607.3" y2="2443" stroke="#222" stroke-width="2.2"/>
<line x1="2700.1" y1="2435" x2="2700.1" y2="2451" stroke="#222" stroke-width="2.2"/>
<text x="2700.1" y="2492.5" font-size="38" text-anchor="middle" fill="#222" >90</text>
<line x1="2792.8" y1="2435" x2="2792.8" y2="2443" stroke="#222" stroke-width="2.2"/>
<line x1="2885.6" y1="2435" x2="2885.6" y2="2451" stroke="#222" stroke-width="2.2"/>
<text x="2885.6" y="2492.5" font-size="38" text-anchor="middle" fill="#222" >100</text>
<line x1="2978.4" y1="2435" x2="2978.4" y2="2443" stroke="#222" stroke-width="2.2"/>
<line x1="3071.2" y1="2435" x2="3071.2" y2="2451" stroke="#222" stroke-width="2.2"/>
<text x="3071.2" y="2492.5" font-size="38" text-anchor="middle" fill="#222" >110</text>
<line x1="3163.9" y1="2435" x2="3163.9" y2="2443" stroke="#222" stroke-width="2.2"/>
<line x1="3256.7" y1="2435" x2="3256.7" y2="2451" stroke="#222" stroke-width="2.2"/>
<text x="3256.7" y="2492.5" font-size="38" text-anchor="middle" fill="#222" >120</text>
<line x1="3349.5" y1="2435" x2="3349.5" y2="2443" stroke="#222" stroke-width="2.2"/>
<text x="2329.0" y="2547.0" font-size="47" text-anchor="middle" fill="#222" >Temperature (<tspan dy="-16" font-size="28">o</tspan><tspan dy="16">C)</tspan></text>
<text x="1208" y="2080" font-size="46.3" fill="#222" text-anchor="middle" transform="rotate(-90 1208 2080)">XRD peak area (Norm.)</text>
<text x="2029.0" y="1819.5" font-size="38" fill="#e46f74" >&#945;-FAPbI<tspan dy="11" font-size="27">3</tspan><tspan dy="-11"> (13.9</tspan><tspan dy="-15" font-size="24">o</tspan><tspan dy="15">)</tspan></text>
<text x="1397.0" y="1959.0" font-size="38" fill="#6470b0" >&#948;-FAPbI<tspan dy="11" font-size="27">3</tspan><tspan dy="-11"> (11.7</tspan><tspan dy="-15" font-size="24">o</tspan><tspan dy="15">)</tspan></text>
<text x="2033.0" y="2080.0" font-size="37" fill="#edb030" >PbI<tspan dy="11" font-size="27">2</tspan><tspan dy="-11"> (12.7</tspan><tspan dy="-15" font-size="24">o</tspan><tspan dy="15">)</tspan></text>
<text x="0" y="2628" font-size="92" font-weight="bold" fill="#1a1a1a" transform="translate(0,0) scale(0.75,1) translate(0,0)">E</text>
<g clip-path="url(#cpE1)">
<rect x="144" y="2601.5" width="641" height="616" fill="url(#eBg1)"/>
<path d="M765.3,3217.6 L765.3,2601.8 L775.3,2601.8 L775.3,3217.6Z" fill="#a6a8d6" fill-opacity="0.8" filter="url(#bl2)"/>
<path d="M538.3,3217.6 L538.3,3063.6 L540.3,2961.0 L543.3,2925.1 L543.3,2925.1 L546.3,2961.0 L548.3,3063.6 L548.3,3217.6Z" fill="#b2b4dc" fill-opacity="0.9" filter="url(#bl2)"/>
<path d="M256.0,2930.2 L256.0,2601.8 L259.0,2601.8 L259.0,2930.2Z" fill="#a0a2d4" fill-opacity="0.7" filter="url(#bl1)"/>
<path d="M242.5,3217.6 L244.5,2961.0 L251.5,2909.7 L257.5,2889.2 L257.5,2889.2 L263.5,2909.7 L270.5,2961.0 L272.5,3217.6Z" fill="#d4d4ec" fill-opacity="0.9" filter="url(#bl4)"/>
<path d="M247.5,3217.6 L248.5,2986.7 L252.5,2935.4 L257.5,2907.1 L257.5,2907.1 L262.5,2935.4 L266.5,2986.7 L267.5,3217.6Z" fill="#ffffff" filter="url(#bl2)"/>
<path d="M252.9,3217.6 L252.3,3140.6 L253.1,3038.0 L254.7,2971.3 L256.6,2945.6 L257.8,2935.4 L257.8,2935.4 L259.0,2945.6 L260.7,2971.3 L262.3,3038.0 L262.7,3140.6 L262.1,3217.6Z" fill="#e1201f" filter="url(#bl1)"/>
<path d="M303.9,3217.6 L303.9,2601.8 L323.9,2601.8 L323.9,3217.6Z" fill="#b8bade" fill-opacity="0.9" filter="url(#bl4)"/>
<path d="M307.9,3217.6 L308.9,3140.6 L310.9,3063.6 L310.9,2858.4 L308.9,2817.3 L306.9,2766.0 L306.4,2601.8 L321.4,2601.8 L320.9,2766.0 L318.9,2817.3 L316.9,2858.4 L316.9,3063.6 L318.9,3140.6 L319.9,3217.6Z" fill="#f2f2fa" fill-opacity="0.95" filter="url(#bl2)"/>
<path d="M313.9,2725.0 L312.1,2694.2 L311.5,2601.8 L316.3,2601.8 L315.7,2694.2 L313.9,2725.0Z" fill="#e4282a" filter="url(#bl1)"/>
<path d="M391.9,3217.6 L391.9,2986.7 L399.9,2986.7 L399.9,3217.6Z" fill="#a8aad6" fill-opacity="0.8" filter="url(#bl2)"/>
<path d="M395.9,3002.1 L390.9,2976.4 L386.9,2935.4 L385.9,2858.4 L385.9,2601.8 L405.9,2601.8 L405.9,2858.4 L404.9,2935.4 L400.9,2976.4 L395.9,3002.1Z" fill="#d8d8ee" fill-opacity="0.9" filter="url(#bl4)"/>
<path d="M395.9,2991.8 L392.4,2971.3 L388.9,2935.4 L388.4,2884.0 L388.4,2601.8 L403.4,2601.8 L403.4,2884.0 L402.9,2935.4 L399.4,2971.3 L395.9,2991.8Z" fill="#ffffff" filter="url(#bl2)"/>
<path d="M395.9,2950.8 L393.4,2925.1 L391.7,2884.0 L390.9,2755.7 L391.3,2601.8 L400.5,2601.8 L400.9,2755.7 L400.1,2884.0 L398.4,2925.1 L395.9,2950.8Z" fill="#e1201f" filter="url(#bl1)"/>
</g>
<text x="684.5" y="2652.0" font-size="41.5" fill="#fff" >Ref</text>
<rect x="144" y="2601.5" width="641" height="616.0999999999999" fill="none" stroke="#111" stroke-width="2.4"/>
<line x1="132" y1="3217.6" x2="144" y2="3217.6" stroke="#111" stroke-width="2.2"/>
<text x="123.0" y="3231.1" font-size="37.5" text-anchor="end" fill="#222" >40</text>
<line x1="138" y1="3166.3" x2="144" y2="3166.3" stroke="#111" stroke-width="2.2"/>
<line x1="132" y1="3115.0" x2="144" y2="3115.0" stroke="#111" stroke-width="2.2"/>
<text x="123.0" y="3128.5" font-size="37.5" text-anchor="end" fill="#222" >60</text>
<line x1="138" y1="3063.6" x2="144" y2="3063.6" stroke="#111" stroke-width="2.2"/>
<line x1="132" y1="3012.3" x2="144" y2="3012.3" stroke="#111" stroke-width="2.2"/>
<text x="123.0" y="3025.8" font-size="37.5" text-anchor="end" fill="#222" >80</text>
<line x1="138" y1="2961.0" x2="144" y2="2961.0" stroke="#111" stroke-width="2.2"/>
<line x1="132" y1="2909.7" x2="144" y2="2909.7" stroke="#111" stroke-width="2.2"/>
<text x="123.0" y="2923.2" font-size="37.5" text-anchor="end" fill="#222" >100</text>
<line x1="138" y1="2858.4" x2="144" y2="2858.4" stroke="#111" stroke-width="2.2"/>
<line x1="132" y1="2807.1" x2="144" y2="2807.1" stroke="#111" stroke-width="2.2"/>
<text x="123.0" y="2820.6" font-size="37.5" text-anchor="end" fill="#222" >120</text>
<line x1="138" y1="2755.7" x2="144" y2="2755.7" stroke="#111" stroke-width="2.2"/>
<line x1="132" y1="2704.4" x2="144" y2="2704.4" stroke="#111" stroke-width="2.2"/>
<text x="123.0" y="2717.9" font-size="37.5" text-anchor="end" fill="#222" >140</text>
<line x1="138" y1="2653.1" x2="144" y2="2653.1" stroke="#111" stroke-width="2.2"/>
<line x1="132" y1="2601.8" x2="144" y2="2601.8" stroke="#111" stroke-width="2.2"/>
<text x="123.0" y="2615.3" font-size="37.5" text-anchor="end" fill="#222" >160</text>
<line x1="144.0" y1="3217.6" x2="144.0" y2="3229.6" stroke="#111" stroke-width="2.2"/>
<text x="144.0" y="3268.5" font-size="37.5" text-anchor="middle" fill="#222" >10</text>
<line x1="208.1" y1="3217.6" x2="208.1" y2="3223.6" stroke="#111" stroke-width="2.2"/>
<line x1="272.2" y1="3217.6" x2="272.2" y2="3229.6" stroke="#111" stroke-width="2.2"/>
<text x="272.2" y="3268.5" font-size="37.5" text-anchor="middle" fill="#222" >12</text>
<line x1="336.3" y1="3217.6" x2="336.3" y2="3223.6" stroke="#111" stroke-width="2.2"/>
<line x1="400.4" y1="3217.6" x2="400.4" y2="3229.6" stroke="#111" stroke-width="2.2"/>
<text x="400.4" y="3268.5" font-size="37.5" text-anchor="middle" fill="#222" >14</text>
<line x1="464.5" y1="3217.6" x2="464.5" y2="3223.6" stroke="#111" stroke-width="2.2"/>
<line x1="528.6" y1="3217.6" x2="528.6" y2="3229.6" stroke="#111" stroke-width="2.2"/>
<text x="528.6" y="3268.5" font-size="37.5" text-anchor="middle" fill="#222" >16</text>
<line x1="592.7" y1="3217.6" x2="592.7" y2="3223.6" stroke="#111" stroke-width="2.2"/>
<line x1="656.8" y1="3217.6" x2="656.8" y2="3229.6" stroke="#111" stroke-width="2.2"/>
<text x="656.8" y="3268.5" font-size="37.5" text-anchor="middle" fill="#222" >18</text>
<line x1="720.9" y1="3217.6" x2="720.9" y2="3223.6" stroke="#111" stroke-width="2.2"/>
<line x1="785.0" y1="3217.6" x2="785.0" y2="3229.6" stroke="#111" stroke-width="2.2"/>
<text x="785.0" y="3268.5" font-size="37.5" text-anchor="middle" fill="#222" >20</text>
<g clip-path="url(#cpE2)">
<rect x="863.4" y="2601.5" width="641.8" height="616" fill="url(#eBg2)"/>
<path d="M1487.4,3217.6 L1487.4,2601.8 L1497.4,2601.8 L1497.4,3217.6Z" fill="#a6a8d6" fill-opacity="0.8" filter="url(#bl2)"/>
<path d="M1257.3,3217.6 L1258.3,3089.3 L1261.3,3053.4 L1261.3,3053.4 L1264.3,3089.3 L1265.3,3217.6Z" fill="#b0b2da" fill-opacity="0.9" filter="url(#bl2)"/>
<path d="M964.0,3217.6 L967.0,3115.0 L973.0,3063.6 L977.0,3038.0 L977.0,3038.0 L981.0,3063.6 L987.0,3115.0 L990.0,3217.6Z" fill="#d4d4ec" fill-opacity="0.9" filter="url(#bl4)"/>
<path d="M968.0,3217.6 L969.0,3156.0 L973.0,3104.7 L977.0,3073.9 L977.0,3073.9 L981.0,3104.7 L985.0,3156.0 L986.0,3217.6Z" fill="#ffffff" filter="url(#bl2)"/>
<path d="M972.8,3217.6 L974.0,3176.5 L975.8,3140.6 L977.0,3125.2 L977.0,3125.2 L978.2,3140.6 L980.0,3176.5 L981.2,3217.6Z" fill="#e1201f" filter="url(#bl1)"/>
<path d="M1023.5,3217.6 L1023.5,2601.8 L1043.5,2601.8 L1043.5,3217.6Z" fill="#b8bade" fill-opacity="0.9" filter="url(#bl4)"/>
<path d="M1033.5,3217.6 L1033.5,3038.0 L1028.5,2961.0 L1026.5,2858.4 L1027.5,2755.7 L1027.0,2601.8 L1040.0,2601.8 L1039.5,2755.7 L1040.5,2858.4 L1038.5,2961.0 L1033.5,3038.0 L1033.5,3217.6Z" fill="#f6f6fc" fill-opacity="0.95" filter="url(#bl2)"/>
<path d="M1029.5,3217.6 L1029.5,2961.0 L1037.5,2961.0 L1037.5,3217.6Z" fill="#d0d0ea" fill-opacity="0.8" filter="url(#bl2)"/>
<path d="M1033.5,2673.6 L1031.7,2642.8 L1031.1,2601.8 L1035.9,2601.8 L1035.3,2642.8 L1033.5,2673.6Z" fill="#e4282a" filter="url(#bl1)"/>
<path d="M1103.6,3217.6 L1103.6,2601.8 L1127.6,2601.8 L1127.6,3217.6Z" fill="#d4d4ec" fill-opacity="0.9" filter="url(#bl4)"/>
<path d="M1107.6,3217.6 L1107.1,2601.8 L1124.1,2601.8 L1123.6,3217.6Z" fill="#ffffff" filter="url(#bl2)"/>
<path d="M1115.6,3197.1 L1113.1,3176.5 L1111.1,3140.6 L1110.1,3089.3 L1109.8,2601.8 L1121.4,2601.8 L1121.1,3089.3 L1120.1,3140.6 L1118.1,3176.5 L1115.6,3197.1Z" fill="#e1201f" filter="url(#bl1)"/>
</g>
<text x="1425.0" y="2656.0" font-size="39" fill="#fff" >I<tspan dy="11" font-size="30">3</tspan><tspan dy="-32" font-size="30">&#8211;</tspan></text>
<rect x="863.4" y="2601.5" width="641.8000000000001" height="616.0999999999999" fill="none" stroke="#111" stroke-width="2.4"/>
<line x1="851.4" y1="3217.6" x2="863.4" y2="3217.6" stroke="#111" stroke-width="2.2"/>
<line x1="857.4" y1="3166.3" x2="863.4" y2="3166.3" stroke="#111" stroke-width="2.2"/>
<line x1="851.4" y1="3115.0" x2="863.4" y2="3115.0" stroke="#111" stroke-width="2.2"/>
<line x1="857.4" y1="3063.6" x2="863.4" y2="3063.6" stroke="#111" stroke-width="2.2"/>
<line x1="851.4" y1="3012.3" x2="863.4" y2="3012.3" stroke="#111" stroke-width="2.2"/>
<line x1="857.4" y1="2961.0" x2="863.4" y2="2961.0" stroke="#111" stroke-width="2.2"/>
<line x1="851.4" y1="2909.7" x2="863.4" y2="2909.7" stroke="#111" stroke-width="2.2"/>
<line x1="857.4" y1="2858.4" x2="863.4" y2="2858.4" stroke="#111" stroke-width="2.2"/>
<line x1="851.4" y1="2807.1" x2="863.4" y2="2807.1" stroke="#111" stroke-width="2.2"/>
<line x1="857.4" y1="2755.7" x2="863.4" y2="2755.7" stroke="#111" stroke-width="2.2"/>
<line x1="851.4" y1="2704.4" x2="863.4" y2="2704.4" stroke="#111" stroke-width="2.2"/>
<line x1="857.4" y1="2653.1" x2="863.4" y2="2653.1" stroke="#111" stroke-width="2.2"/>
<line x1="851.4" y1="2601.8" x2="863.4" y2="2601.8" stroke="#111" stroke-width="2.2"/>
<line x1="863.4" y1="3217.6" x2="863.4" y2="3229.6" stroke="#111" stroke-width="2.2"/>
<text x="863.4" y="3268.5" font-size="37.5" text-anchor="middle" fill="#222" >10</text>
<line x1="927.6" y1="3217.6" x2="927.6" y2="3223.6" stroke="#111" stroke-width="2.2"/>
<line x1="991.8" y1="3217.6" x2="991.8" y2="3229.6" stroke="#111" stroke-width="2.2"/>
<text x="991.8" y="3268.5" font-size="37.5" text-anchor="middle" fill="#222" >12</text>
<line x1="1055.9" y1="3217.6" x2="1055.9" y2="3223.6" stroke="#111" stroke-width="2.2"/>
<line x1="1120.1" y1="3217.6" x2="1120.1" y2="3229.6" stroke="#111" stroke-width="2.2"/>
<text x="1120.1" y="3268.5" font-size="37.5" text-anchor="middle" fill="#222" >14</text>
<line x1="1184.3" y1="3217.6" x2="1184.3" y2="3223.6" stroke="#111" stroke-width="2.2"/>
<line x1="1248.5" y1="3217.6" x2="1248.5" y2="3229.6" stroke="#111" stroke-width="2.2"/>
<text x="1248.5" y="3268.5" font-size="37.5" text-anchor="middle" fill="#222" >16</text>
<line x1="1312.7" y1="3217.6" x2="1312.7" y2="3223.6" stroke="#111" stroke-width="2.2"/>
<line x1="1376.8" y1="3217.6" x2="1376.8" y2="3229.6" stroke="#111" stroke-width="2.2"/>
<text x="1376.8" y="3268.5" font-size="37.5" text-anchor="middle" fill="#222" >18</text>
<line x1="1441.0" y1="3217.6" x2="1441.0" y2="3223.6" stroke="#111" stroke-width="2.2"/>
<line x1="1505.2" y1="3217.6" x2="1505.2" y2="3229.6" stroke="#111" stroke-width="2.2"/>
<text x="1505.2" y="3268.5" font-size="37.5" text-anchor="middle" fill="#222" >20</text>
<rect x="1540" y="2600.5" width="51" height="616.5" fill="url(#eCb)" stroke="#222" stroke-width="2"/>
<line x1="1591" y1="2600.5" x2="1603" y2="2600.5" stroke="#222" stroke-width="2"/><line x1="1591" y1="3216.8" x2="1603" y2="3216.8" stroke="#222" stroke-width="2"/>
<text x="1568.0" y="2586.0" font-size="37.5" text-anchor="middle" fill="#222" >10000</text>
<text x="1567.0" y="3255.0" font-size="37.5" text-anchor="middle" fill="#222" >0</text>
<text x="1666" y="2919" font-size="46" fill="#222" text-anchor="middle" transform="rotate(-90 1666 2919)">Intensity (a.u.)</text>
<text x="49" y="2910" font-size="45" fill="#222" text-anchor="middle" textLength="353" lengthAdjust="spacingAndGlyphs" transform="rotate(-90 49 2910)">Teamperature (<tspan dy="-16" font-size="29">o</tspan><tspan dy="16">C)</tspan></text>
<text x="452.5" y="3314.0" font-size="47" text-anchor="middle" fill="#222" >2&#952; (degree)</text>
<text x="1184.0" y="3327.0" font-size="47" text-anchor="middle" fill="#222" >2&#952; (degree)</text>
<text x="1657" y="2621" font-size="92" font-weight="bold" fill="#1a1a1a" transform="translate(1657,0) scale(0.79,1) translate(-1657,0)">F</text>
<g clip-path="url(#cpF1)"><rect x="1871.5" y="2602" width="641" height="615" fill="#3e52a0"/>
<path d="M1866.5,3221.8 L2574.3,3216.8 L2575.2,3211.7 L2576.0,3206.6 L2576.9,3201.4 L2577.8,3196.3 L2578.7,3191.2 L2579.5,3186.1 L2580.4,3180.9 L2581.3,3175.8 L2582.2,3170.7 L2583.1,3165.6 L2583.9,3160.4 L2584.8,3155.3 L2585.7,3150.2 L2586.6,3145.1 L2587.4,3140.0 L2588.3,3134.8 L2589.2,3129.7 L2590.1,3124.6 L2591.0,3119.5 L2591.8,3114.3 L2594.7,3109.2 L2597.6,3104.1 L2600.5,3099.0 L2603.4,3093.8 L2606.3,3088.7 L2609.2,3083.6 L2612.1,3078.5 L2615.0,3073.3 L2617.9,3068.2 L2620.8,3063.1 L2623.1,3058.0 L2625.4,3052.9 L2627.8,3047.7 L2630.1,3042.6 L2632.4,3037.5 L2634.8,3032.4 L2637.1,3027.2 L2639.4,3022.1 L2641.7,3017.0 L2644.1,3011.9 L2646.1,3006.7 L2648.2,3001.6 L2650.2,2996.5 L2652.2,2991.4 L2654.3,2986.3 L2656.3,2981.1 L2658.4,2976.0 L2660.4,2970.9 L2662.5,2965.8 L2664.5,2960.6 L2665.9,2955.5 L2667.2,2950.4 L2668.6,2945.3 L2669.9,2940.1 L2671.3,2935.0 L2672.7,2929.9 L2674.0,2924.8 L2675.4,2919.6 L2676.7,2914.5 L2678.1,2909.4 L2678.2,2904.3 L2678.2,2899.2 L2678.3,2894.0 L2678.3,2888.9 L2678.4,2883.8 L2678.4,2878.7 L2678.5,2873.5 L2678.6,2868.4 L2678.6,2863.3 L2678.7,2858.2 L2678.7,2853.0 L2678.8,2847.9 L2678.8,2842.8 L2678.9,2837.7 L2679.0,2832.6 L2679.0,2827.4 L2679.1,2822.3 L2679.1,2817.2 L2679.2,2812.1 L2679.2,2806.9 L2679.3,2801.8 L2679.3,2796.7 L2679.4,2791.6 L2679.5,2786.4 L2679.5,2781.3 L2679.6,2776.2 L2679.6,2771.1 L2679.7,2765.9 L2679.7,2760.8 L2679.8,2755.7 L2679.9,2750.6 L2679.9,2745.5 L2680.0,2740.3 L2680.0,2735.2 L2680.1,2730.1 L2680.1,2725.0 L2680.2,2719.8 L2680.3,2714.7 L2680.3,2709.6 L2680.4,2704.5 L2680.5,2699.3 L2680.5,2694.2 L2680.6,2689.1 L2680.7,2684.0 L2680.8,2678.9 L2680.9,2673.7 L2681.0,2668.6 L2681.1,2663.5 L2681.1,2658.4 L2681.2,2653.2 L2681.3,2648.1 L2681.4,2643.0 L2681.5,2637.9 L2681.6,2632.7 L2681.6,2627.6 L2681.7,2622.5 L2681.8,2617.4 L2681.9,2612.3 L2682.0,2607.1 L2682.1,2602.0 L1866.5,2597.0Z" fill="#4154a1"/>
<path d="M1866.5,3221.8 L2493.0,3216.8 L2494.1,3211.7 L2495.1,3206.6 L2496.2,3201.4 L2497.2,3196.3 L2498.2,3191.2 L2499.3,3186.1 L2500.3,3180.9 L2501.4,3175.8 L2502.4,3170.7 L2503.5,3165.6 L2504.5,3160.4 L2505.6,3155.3 L2506.6,3150.2 L2507.6,3145.1 L2508.7,3140.0 L2509.7,3134.8 L2510.8,3129.7 L2511.8,3124.6 L2512.8,3119.5 L2513.9,3114.3 L2518.2,3109.2 L2522.6,3104.1 L2527.0,3099.0 L2531.4,3093.8 L2535.7,3088.7 L2540.1,3083.6 L2544.5,3078.5 L2548.8,3073.3 L2553.2,3068.2 L2557.5,3063.1 L2560.8,3058.0 L2564.0,3052.9 L2567.2,3047.7 L2570.5,3042.6 L2573.7,3037.5 L2576.9,3032.4 L2580.2,3027.2 L2583.4,3022.1 L2586.6,3017.0 L2589.9,3011.9 L2592.5,3006.7 L2595.2,3001.6 L2597.8,2996.5 L2600.5,2991.4 L2603.2,2986.3 L2605.8,2981.1 L2608.5,2976.0 L2611.1,2970.9 L2613.8,2965.8 L2616.5,2960.6 L2617.8,2955.5 L2619.1,2950.4 L2620.3,2945.3 L2621.6,2940.1 L2622.9,2935.0 L2624.2,2929.9 L2625.5,2924.8 L2626.8,2919.6 L2628.1,2914.5 L2629.4,2909.4 L2629.5,2904.3 L2629.6,2899.2 L2629.7,2894.0 L2629.8,2888.9 L2630.0,2883.8 L2630.1,2878.7 L2630.2,2873.5 L2630.3,2868.4 L2630.4,2863.3 L2630.5,2858.2 L2630.6,2853.0 L2630.8,2847.9 L2630.9,2842.8 L2631.0,2837.7 L2631.1,2832.6 L2631.2,2827.4 L2631.3,2822.3 L2631.4,2817.2 L2631.6,2812.1 L2631.7,2806.9 L2631.8,2801.8 L2631.9,2796.7 L2632.0,2791.6 L2632.1,2786.4 L2632.2,2781.3 L2632.4,2776.2 L2632.5,2771.1 L2632.6,2765.9 L2632.7,2760.8 L2632.8,2755.7 L2632.9,2750.6 L2633.0,2745.5 L2633.2,2740.3 L2633.3,2735.2 L2633.4,2730.1 L2633.5,2725.0 L2633.6,2719.8 L2633.7,2714.7 L2633.8,2709.6 L2634.0,2704.5 L2634.1,2699.3 L2634.3,2694.2 L2634.5,2689.1 L2634.6,2684.0 L2634.8,2678.9 L2635.0,2673.7 L2635.1,2668.6 L2635.3,2663.5 L2635.5,2658.4 L2635.6,2653.2 L2635.8,2648.1 L2636.0,2643.0 L2636.1,2637.9 L2636.3,2632.7 L2636.5,2627.6 L2636.7,2622.5 L2636.8,2617.4 L2637.0,2612.3 L2637.2,2607.1 L2637.3,2602.0 L1866.5,2597.0Z" fill="#4456a2"/>
<path d="M1866.5,3221.8 L2411.8,3216.8 L2413.0,3211.7 L2414.2,3206.6 L2415.4,3201.4 L2416.6,3196.3 L2417.8,3191.2 L2419.0,3186.1 L2420.2,3180.9 L2421.5,3175.8 L2422.7,3170.7 L2423.9,3165.6 L2425.1,3160.4 L2426.3,3155.3 L2427.5,3150.2 L2428.7,3145.1 L2429.9,3140.0 L2431.1,3134.8 L2432.3,3129.7 L2433.5,3124.6 L2434.7,3119.5 L2435.9,3114.3 L2441.8,3109.2 L2447.6,3104.1 L2453.5,3099.0 L2459.3,3093.8 L2465.1,3088.7 L2471.0,3083.6 L2476.8,3078.5 L2482.6,3073.3 L2488.5,3068.2 L2494.3,3063.1 L2498.4,3058.0 L2502.6,3052.9 L2506.7,3047.7 L2510.8,3042.6 L2515.0,3037.5 L2519.1,3032.4 L2523.2,3027.2 L2527.4,3022.1 L2531.5,3017.0 L2535.6,3011.9 L2538.9,3006.7 L2542.2,3001.6 L2545.5,2996.5 L2548.8,2991.4 L2552.0,2986.3 L2555.3,2981.1 L2558.6,2976.0 L2561.9,2970.9 L2565.1,2965.8 L2568.4,2960.6 L2569.7,2955.5 L2570.9,2950.4 L2572.1,2945.3 L2573.3,2940.1 L2574.6,2935.0 L2575.8,2929.9 L2577.0,2924.8 L2578.2,2919.6 L2579.5,2914.5 L2580.7,2909.4 L2580.9,2904.3 L2581.0,2899.2 L2581.2,2894.0 L2581.4,2888.9 L2581.5,2883.8 L2581.7,2878.7 L2581.9,2873.5 L2582.1,2868.4 L2582.2,2863.3 L2582.4,2858.2 L2582.6,2853.0 L2582.7,2847.9 L2582.9,2842.8 L2583.1,2837.7 L2583.3,2832.6 L2583.4,2827.4 L2583.6,2822.3 L2583.8,2817.2 L2583.9,2812.1 L2584.1,2806.9 L2584.3,2801.8 L2584.4,2796.7 L2584.6,2791.6 L2584.8,2786.4 L2585.0,2781.3 L2585.1,2776.2 L2585.3,2771.1 L2585.5,2765.9 L2585.6,2760.8 L2585.8,2755.7 L2586.0,2750.6 L2586.2,2745.5 L2586.3,2740.3 L2586.5,2735.2 L2586.7,2730.1 L2586.8,2725.0 L2587.0,2719.8 L2587.2,2714.7 L2587.4,2709.6 L2587.5,2704.5 L2587.8,2699.3 L2588.0,2694.2 L2588.3,2689.1 L2588.5,2684.0 L2588.8,2678.9 L2589.0,2673.7 L2589.3,2668.6 L2589.6,2663.5 L2589.8,2658.4 L2590.1,2653.2 L2590.3,2648.1 L2590.6,2643.0 L2590.8,2637.9 L2591.1,2632.7 L2591.3,2627.6 L2591.6,2622.5 L2591.8,2617.4 L2592.1,2612.3 L2592.3,2607.1 L2592.6,2602.0 L1866.5,2597.0Z" fill="#4859a4"/>
<path d="M1866.5,3221.8 L2330.5,3216.8 L2331.9,3211.7 L2333.3,3206.6 L2334.6,3201.4 L2336.0,3196.3 L2337.4,3191.2 L2338.8,3186.1 L2340.2,3180.9 L2341.5,3175.8 L2342.9,3170.7 L2344.3,3165.6 L2345.7,3160.4 L2347.0,3155.3 L2348.4,3150.2 L2349.8,3145.1 L2351.1,3140.0 L2352.5,3134.8 L2353.9,3129.7 L2355.2,3124.6 L2356.6,3119.5 L2358.0,3114.3 L2365.3,3109.2 L2372.6,3104.1 L2379.9,3099.0 L2387.2,3093.8 L2394.6,3088.7 L2401.9,3083.6 L2409.2,3078.5 L2416.5,3073.3 L2423.8,3068.2 L2431.1,3063.1 L2436.1,3058.0 L2441.1,3052.9 L2446.2,3047.7 L2451.2,3042.6 L2456.2,3037.5 L2461.3,3032.4 L2466.3,3027.2 L2471.4,3022.1 L2476.4,3017.0 L2481.4,3011.9 L2485.3,3006.7 L2489.2,3001.6 L2493.1,2996.5 L2497.0,2991.4 L2500.9,2986.3 L2504.8,2981.1 L2508.7,2976.0 L2512.6,2970.9 L2516.5,2965.8 L2520.4,2960.6 L2521.5,2955.5 L2522.7,2950.4 L2523.9,2945.3 L2525.0,2940.1 L2526.2,2935.0 L2527.3,2929.9 L2528.5,2924.8 L2529.7,2919.6 L2530.8,2914.5 L2532.0,2909.4 L2532.2,2904.3 L2532.4,2899.2 L2532.7,2894.0 L2532.9,2888.9 L2533.1,2883.8 L2533.4,2878.7 L2533.6,2873.5 L2533.8,2868.4 L2534.0,2863.3 L2534.3,2858.2 L2534.5,2853.0 L2534.7,2847.9 L2534.9,2842.8 L2535.2,2837.7 L2535.4,2832.6 L2535.6,2827.4 L2535.9,2822.3 L2536.1,2817.2 L2536.3,2812.1 L2536.5,2806.9 L2536.8,2801.8 L2537.0,2796.7 L2537.2,2791.6 L2537.5,2786.4 L2537.7,2781.3 L2537.9,2776.2 L2538.1,2771.1 L2538.4,2765.9 L2538.6,2760.8 L2538.8,2755.7 L2539.1,2750.6 L2539.3,2745.5 L2539.5,2740.3 L2539.7,2735.2 L2540.0,2730.1 L2540.2,2725.0 L2540.4,2719.8 L2540.6,2714.7 L2540.9,2709.6 L2541.1,2704.5 L2541.4,2699.3 L2541.8,2694.2 L2542.1,2689.1 L2542.5,2684.0 L2542.8,2678.9 L2543.1,2673.7 L2543.5,2668.6 L2543.8,2663.5 L2544.1,2658.4 L2544.5,2653.2 L2544.8,2648.1 L2545.2,2643.0 L2545.5,2637.9 L2545.8,2632.7 L2546.2,2627.6 L2546.5,2622.5 L2546.8,2617.4 L2547.2,2612.3 L2547.5,2607.1 L2547.9,2602.0 L1866.5,2597.0Z" fill="#4e5ea7"/>
<path d="M1866.5,3221.8 L2249.3,3216.8 L2250.8,3211.7 L2252.3,3206.6 L2253.9,3201.4 L2255.4,3196.3 L2257.0,3191.2 L2258.5,3186.1 L2260.1,3180.9 L2261.6,3175.8 L2263.2,3170.7 L2264.7,3165.6 L2266.2,3160.4 L2267.8,3155.3 L2269.3,3150.2 L2270.8,3145.1 L2272.4,3140.0 L2273.9,3134.8 L2275.4,3129.7 L2277.0,3124.6 L2278.5,3119.5 L2280.0,3114.3 L2288.8,3109.2 L2297.6,3104.1 L2306.4,3099.0 L2315.2,3093.8 L2324.0,3088.7 L2332.7,3083.6 L2341.5,3078.5 L2350.3,3073.3 L2359.0,3068.2 L2367.8,3063.1 L2373.8,3058.0 L2379.7,3052.9 L2385.6,3047.7 L2391.6,3042.6 L2397.5,3037.5 L2403.4,3032.4 L2409.4,3027.2 L2415.3,3022.1 L2421.3,3017.0 L2427.2,3011.9 L2431.7,3006.7 L2436.2,3001.6 L2440.7,2996.5 L2445.3,2991.4 L2449.8,2986.3 L2454.3,2981.1 L2458.8,2976.0 L2463.3,2970.9 L2467.8,2965.8 L2472.3,2960.6 L2473.4,2955.5 L2474.5,2950.4 L2475.6,2945.3 L2476.7,2940.1 L2477.8,2935.0 L2478.9,2929.9 L2480.0,2924.8 L2481.1,2919.6 L2482.2,2914.5 L2483.3,2909.4 L2483.6,2904.3 L2483.8,2899.2 L2484.1,2894.0 L2484.4,2888.9 L2484.7,2883.8 L2485.0,2878.7 L2485.3,2873.5 L2485.6,2868.4 L2485.8,2863.3 L2486.1,2858.2 L2486.4,2853.0 L2486.7,2847.9 L2487.0,2842.8 L2487.3,2837.7 L2487.6,2832.6 L2487.8,2827.4 L2488.1,2822.3 L2488.4,2817.2 L2488.7,2812.1 L2489.0,2806.9 L2489.3,2801.8 L2489.5,2796.7 L2489.8,2791.6 L2490.1,2786.4 L2490.4,2781.3 L2490.7,2776.2 L2491.0,2771.1 L2491.3,2765.9 L2491.5,2760.8 L2491.8,2755.7 L2492.1,2750.6 L2492.4,2745.5 L2492.7,2740.3 L2493.0,2735.2 L2493.3,2730.1 L2493.5,2725.0 L2493.8,2719.8 L2494.1,2714.7 L2494.4,2709.6 L2494.7,2704.5 L2495.1,2699.3 L2495.5,2694.2 L2495.9,2689.1 L2496.4,2684.0 L2496.8,2678.9 L2497.2,2673.7 L2497.6,2668.6 L2498.1,2663.5 L2498.5,2658.4 L2498.9,2653.2 L2499.3,2648.1 L2499.7,2643.0 L2500.2,2637.9 L2500.6,2632.7 L2501.0,2627.6 L2501.4,2622.5 L2501.9,2617.4 L2502.3,2612.3 L2502.7,2607.1 L2503.1,2602.0 L1866.5,2597.0Z" fill="#5664ab"/>
<path d="M1866.5,3221.8 L2168.0,3216.8 L2169.7,3211.7 L2171.4,3206.6 L2173.1,3201.4 L2174.8,3196.3 L2176.6,3191.2 L2178.3,3186.1 L2180.0,3180.9 L2181.7,3175.8 L2183.4,3170.7 L2185.1,3165.6 L2186.8,3160.4 L2188.5,3155.3 L2190.2,3150.2 L2191.9,3145.1 L2193.6,3140.0 L2195.3,3134.8 L2197.0,3129.7 L2198.7,3124.6 L2200.4,3119.5 L2202.1,3114.3 L2212.3,3109.2 L2222.6,3104.1 L2232.9,3099.0 L2243.1,3093.8 L2253.4,3088.7 L2263.6,3083.6 L2273.9,3078.5 L2284.1,3073.3 L2294.3,3068.2 L2304.6,3063.1 L2311.4,3058.0 L2318.3,3052.9 L2325.1,3047.7 L2331.9,3042.6 L2338.8,3037.5 L2345.6,3032.4 L2352.5,3027.2 L2359.3,3022.1 L2366.1,3017.0 L2373.0,3011.9 L2378.1,3006.7 L2383.3,3001.6 L2388.4,2996.5 L2393.5,2991.4 L2398.6,2986.3 L2403.8,2981.1 L2408.9,2976.0 L2414.0,2970.9 L2419.2,2965.8 L2424.3,2960.6 L2425.3,2955.5 L2426.4,2950.4 L2427.4,2945.3 L2428.4,2940.1 L2429.4,2935.0 L2430.5,2929.9 L2431.5,2924.8 L2432.5,2919.6 L2433.5,2914.5 L2434.6,2909.4 L2434.9,2904.3 L2435.3,2899.2 L2435.6,2894.0 L2435.9,2888.9 L2436.3,2883.8 L2436.6,2878.7 L2437.0,2873.5 L2437.3,2868.4 L2437.7,2863.3 L2438.0,2858.2 L2438.3,2853.0 L2438.7,2847.9 L2439.0,2842.8 L2439.4,2837.7 L2439.7,2832.6 L2440.0,2827.4 L2440.4,2822.3 L2440.7,2817.2 L2441.1,2812.1 L2441.4,2806.9 L2441.8,2801.8 L2442.1,2796.7 L2442.4,2791.6 L2442.8,2786.4 L2443.1,2781.3 L2443.5,2776.2 L2443.8,2771.1 L2444.2,2765.9 L2444.5,2760.8 L2444.8,2755.7 L2445.2,2750.6 L2445.5,2745.5 L2445.9,2740.3 L2446.2,2735.2 L2446.5,2730.1 L2446.9,2725.0 L2447.2,2719.8 L2447.6,2714.7 L2447.9,2709.6 L2448.3,2704.5 L2448.8,2699.3 L2449.3,2694.2 L2449.8,2689.1 L2450.3,2684.0 L2450.8,2678.9 L2451.3,2673.7 L2451.8,2668.6 L2452.3,2663.5 L2452.8,2658.4 L2453.3,2653.2 L2453.8,2648.1 L2454.3,2643.0 L2454.8,2637.9 L2455.3,2632.7 L2455.8,2627.6 L2456.4,2622.5 L2456.9,2617.4 L2457.4,2612.3 L2457.9,2607.1 L2458.4,2602.0 L1866.5,2597.0Z" fill="#626cb2"/>
<path d="M1866.5,3221.8 L2153.9,3216.8 L2155.5,3211.7 L2157.0,3206.6 L2158.6,3201.4 L2160.1,3196.3 L2161.6,3191.2 L2163.2,3186.1 L2164.7,3180.9 L2166.3,3175.8 L2167.8,3170.7 L2169.4,3165.6 L2170.9,3160.4 L2172.5,3155.3 L2174.0,3150.2 L2175.5,3145.1 L2177.1,3140.0 L2178.7,3134.8 L2180.4,3129.7 L2182.0,3124.6 L2183.7,3119.5 L2185.3,3114.3 L2195.2,3109.2 L2205.1,3104.1 L2215.0,3099.0 L2224.8,3093.8 L2234.7,3088.7 L2244.6,3083.6 L2254.4,3078.5 L2264.3,3073.3 L2274.1,3068.2 L2284.0,3063.1 L2290.6,3058.0 L2297.2,3052.9 L2303.9,3047.7 L2310.5,3042.6 L2317.1,3037.5 L2323.7,3032.4 L2330.4,3027.2 L2337.0,3022.1 L2343.6,3017.0 L2350.2,3011.9 L2355.8,3006.7 L2361.3,3001.6 L2366.8,2996.5 L2372.4,2991.4 L2377.9,2986.3 L2383.4,2981.1 L2388.9,2976.0 L2394.4,2970.9 L2399.9,2965.8 L2405.3,2960.6 L2407.0,2955.5 L2408.7,2950.4 L2410.4,2945.3 L2412.0,2940.1 L2413.7,2935.0 L2415.2,2929.9 L2416.7,2924.8 L2418.2,2919.6 L2419.8,2914.5 L2421.3,2909.4 L2421.8,2904.3 L2422.4,2899.2 L2423.0,2894.0 L2423.5,2888.9 L2424.1,2883.8 L2424.7,2878.7 L2425.3,2873.5 L2425.8,2868.4 L2426.4,2863.3 L2427.0,2858.2 L2427.5,2853.0 L2428.1,2847.9 L2428.7,2842.8 L2429.3,2837.7 L2429.8,2832.6 L2430.4,2827.4 L2431.0,2822.3 L2431.5,2817.2 L2432.1,2812.1 L2432.7,2806.9 L2433.2,2801.8 L2433.7,2796.7 L2434.2,2791.6 L2434.6,2786.4 L2435.1,2781.3 L2435.6,2776.2 L2436.1,2771.1 L2436.6,2765.9 L2437.1,2760.8 L2437.6,2755.7 L2438.1,2750.6 L2438.5,2745.5 L2439.0,2740.3 L2439.4,2735.2 L2439.9,2730.1 L2440.3,2725.0 L2440.8,2719.8 L2441.2,2714.7 L2441.7,2709.6 L2442.1,2704.5 L2442.8,2699.3 L2443.5,2694.2 L2444.2,2689.1 L2444.9,2684.0 L2445.5,2678.9 L2446.2,2673.7 L2446.9,2668.6 L2447.6,2663.5 L2448.3,2658.4 L2449.0,2653.2 L2449.5,2648.1 L2450.1,2643.0 L2450.6,2637.9 L2451.2,2632.7 L2451.8,2627.6 L2452.3,2622.5 L2452.9,2617.4 L2453.5,2612.3 L2454.0,2607.1 L2454.6,2602.0 L1866.5,2597.0Z" fill="#7078ba"/>
<path d="M1866.5,3221.8 L2139.8,3216.8 L2141.2,3211.7 L2142.6,3206.6 L2144.0,3201.4 L2145.4,3196.3 L2146.7,3191.2 L2148.1,3186.1 L2149.5,3180.9 L2150.9,3175.8 L2152.3,3170.7 L2153.7,3165.6 L2155.0,3160.4 L2156.4,3155.3 L2157.8,3150.2 L2159.2,3145.1 L2160.5,3140.0 L2162.1,3134.8 L2163.7,3129.7 L2165.3,3124.6 L2166.9,3119.5 L2168.5,3114.3 L2178.0,3109.2 L2187.5,3104.1 L2197.0,3099.0 L2206.5,3093.8 L2216.0,3088.7 L2225.5,3083.6 L2235.0,3078.5 L2244.5,3073.3 L2254.0,3068.2 L2263.4,3063.1 L2269.8,3058.0 L2276.2,3052.9 L2282.6,3047.7 L2289.0,3042.6 L2295.4,3037.5 L2301.8,3032.4 L2308.2,3027.2 L2314.6,3022.1 L2321.0,3017.0 L2327.4,3011.9 L2333.4,3006.7 L2339.3,3001.6 L2345.3,2996.5 L2351.3,2991.4 L2357.2,2986.3 L2363.0,2981.1 L2368.9,2976.0 L2374.7,2970.9 L2380.5,2965.8 L2386.4,2960.6 L2388.7,2955.5 L2391.0,2950.4 L2393.3,2945.3 L2395.6,2940.1 L2398.0,2935.0 L2400.0,2929.9 L2402.0,2924.8 L2404.0,2919.6 L2406.0,2914.5 L2408.0,2909.4 L2408.8,2904.3 L2409.6,2899.2 L2410.4,2894.0 L2411.2,2888.9 L2412.0,2883.8 L2412.8,2878.7 L2413.6,2873.5 L2414.3,2868.4 L2415.1,2863.3 L2415.9,2858.2 L2416.7,2853.0 L2417.5,2847.9 L2418.3,2842.8 L2419.1,2837.7 L2419.9,2832.6 L2420.7,2827.4 L2421.5,2822.3 L2422.3,2817.2 L2423.1,2812.1 L2423.9,2806.9 L2424.6,2801.8 L2425.2,2796.7 L2425.9,2791.6 L2426.5,2786.4 L2427.2,2781.3 L2427.8,2776.2 L2428.5,2771.1 L2429.1,2765.9 L2429.7,2760.8 L2430.4,2755.7 L2431.0,2750.6 L2431.5,2745.5 L2432.1,2740.3 L2432.6,2735.2 L2433.2,2730.1 L2433.8,2725.0 L2434.3,2719.8 L2434.9,2714.7 L2435.5,2709.6 L2436.0,2704.5 L2436.9,2699.3 L2437.7,2694.2 L2438.6,2689.1 L2439.5,2684.0 L2440.3,2678.9 L2441.2,2673.7 L2442.0,2668.6 L2442.9,2663.5 L2443.7,2658.4 L2444.6,2653.2 L2445.2,2648.1 L2445.8,2643.0 L2446.5,2637.9 L2447.1,2632.7 L2447.7,2627.6 L2448.3,2622.5 L2448.9,2617.4 L2449.6,2612.3 L2450.2,2607.1 L2450.8,2602.0 L1866.5,2597.0Z" fill="#848ac4"/>
<path d="M1866.5,3221.8 L2125.7,3216.8 L2126.9,3211.7 L2128.2,3206.6 L2129.4,3201.4 L2130.6,3196.3 L2131.8,3191.2 L2133.1,3186.1 L2134.3,3180.9 L2135.5,3175.8 L2136.7,3170.7 L2137.9,3165.6 L2139.2,3160.4 L2140.4,3155.3 L2141.6,3150.2 L2142.8,3145.1 L2144.0,3140.0 L2145.6,3134.8 L2147.1,3129.7 L2148.7,3124.6 L2150.2,3119.5 L2151.8,3114.3 L2160.9,3109.2 L2170.0,3104.1 L2179.1,3099.0 L2188.2,3093.8 L2197.4,3088.7 L2206.5,3083.6 L2215.6,3078.5 L2224.7,3073.3 L2233.8,3068.2 L2242.9,3063.1 L2249.1,3058.0 L2255.2,3052.9 L2261.4,3047.7 L2267.6,3042.6 L2273.8,3037.5 L2280.0,3032.4 L2286.1,3027.2 L2292.3,3022.1 L2298.5,3017.0 L2304.7,3011.9 L2311.0,3006.7 L2317.4,3001.6 L2323.8,2996.5 L2330.1,2991.4 L2336.5,2986.3 L2342.7,2981.1 L2348.9,2976.0 L2355.0,2970.9 L2361.2,2965.8 L2367.4,2960.6 L2370.3,2955.5 L2373.3,2950.4 L2376.3,2945.3 L2379.2,2940.1 L2382.2,2935.0 L2384.7,2929.9 L2387.2,2924.8 L2389.7,2919.6 L2392.2,2914.5 L2394.7,2909.4 L2395.7,2904.3 L2396.7,2899.2 L2397.7,2894.0 L2398.8,2888.9 L2399.8,2883.8 L2400.8,2878.7 L2401.8,2873.5 L2402.9,2868.4 L2403.9,2863.3 L2404.9,2858.2 L2405.9,2853.0 L2407.0,2847.9 L2408.0,2842.8 L2409.0,2837.7 L2410.1,2832.6 L2411.1,2827.4 L2412.1,2822.3 L2413.1,2817.2 L2414.2,2812.1 L2415.2,2806.9 L2416.0,2801.8 L2416.8,2796.7 L2417.6,2791.6 L2418.4,2786.4 L2419.2,2781.3 L2420.0,2776.2 L2420.8,2771.1 L2421.6,2765.9 L2422.4,2760.8 L2423.2,2755.7 L2423.8,2750.6 L2424.5,2745.5 L2425.2,2740.3 L2425.9,2735.2 L2426.5,2730.1 L2427.2,2725.0 L2427.9,2719.8 L2428.6,2714.7 L2429.2,2709.6 L2429.9,2704.5 L2430.9,2699.3 L2432.0,2694.2 L2433.0,2689.1 L2434.0,2684.0 L2435.1,2678.9 L2436.1,2673.7 L2437.1,2668.6 L2438.2,2663.5 L2439.2,2658.4 L2440.2,2653.2 L2440.9,2648.1 L2441.6,2643.0 L2442.3,2637.9 L2442.9,2632.7 L2443.6,2627.6 L2444.3,2622.5 L2445.0,2617.4 L2445.7,2612.3 L2446.3,2607.1 L2447.0,2602.0 L1866.5,2597.0Z" fill="#989cd0"/>
<path d="M1866.5,3221.8 L2111.6,3216.8 L2112.7,3211.7 L2113.7,3206.6 L2114.8,3201.4 L2115.9,3196.3 L2116.9,3191.2 L2118.0,3186.1 L2119.0,3180.9 L2120.1,3175.8 L2121.2,3170.7 L2122.2,3165.6 L2123.3,3160.4 L2124.3,3155.3 L2125.4,3150.2 L2126.4,3145.1 L2127.5,3140.0 L2129.0,3134.8 L2130.5,3129.7 L2132.0,3124.6 L2133.5,3119.5 L2135.0,3114.3 L2143.7,3109.2 L2152.5,3104.1 L2161.2,3099.0 L2170.0,3093.8 L2178.7,3088.7 L2187.4,3083.6 L2196.1,3078.5 L2204.9,3073.3 L2213.6,3068.2 L2222.3,3063.1 L2228.3,3058.0 L2234.2,3052.9 L2240.2,3047.7 L2246.2,3042.6 L2252.1,3037.5 L2258.1,3032.4 L2264.0,3027.2 L2270.0,3022.1 L2275.9,3017.0 L2281.9,3011.9 L2288.7,3006.7 L2295.4,3001.6 L2302.2,2996.5 L2309.0,2991.4 L2315.8,2986.3 L2322.3,2981.1 L2328.8,2976.0 L2335.4,2970.9 L2341.9,2965.8 L2348.4,2960.6 L2352.0,2955.5 L2355.6,2950.4 L2359.2,2945.3 L2362.9,2940.1 L2366.5,2935.0 L2369.4,2929.9 L2372.4,2924.8 L2375.4,2919.6 L2378.4,2914.5 L2381.4,2909.4 L2382.6,2904.3 L2383.9,2899.2 L2385.1,2894.0 L2386.4,2888.9 L2387.6,2883.8 L2388.9,2878.7 L2390.1,2873.5 L2391.4,2868.4 L2392.6,2863.3 L2393.9,2858.2 L2395.2,2853.0 L2396.4,2847.9 L2397.7,2842.8 L2398.9,2837.7 L2400.2,2832.6 L2401.4,2827.4 L2402.7,2822.3 L2403.9,2817.2 L2405.2,2812.1 L2406.4,2806.9 L2407.4,2801.8 L2408.3,2796.7 L2409.3,2791.6 L2410.2,2786.4 L2411.2,2781.3 L2412.1,2776.2 L2413.1,2771.1 L2414.0,2765.9 L2415.0,2760.8 L2415.9,2755.7 L2416.7,2750.6 L2417.5,2745.5 L2418.3,2740.3 L2419.1,2735.2 L2419.9,2730.1 L2420.7,2725.0 L2421.4,2719.8 L2422.2,2714.7 L2423.0,2709.6 L2423.8,2704.5 L2425.0,2699.3 L2426.2,2694.2 L2427.4,2689.1 L2428.6,2684.0 L2429.8,2678.9 L2431.0,2673.7 L2432.2,2668.6 L2433.5,2663.5 L2434.7,2658.4 L2435.9,2653.2 L2436.6,2648.1 L2437.3,2643.0 L2438.1,2637.9 L2438.8,2632.7 L2439.5,2627.6 L2440.3,2622.5 L2441.0,2617.4 L2441.8,2612.3 L2442.5,2607.1 L2443.2,2602.0 L1866.5,2597.0Z" fill="#a9abd6"/>
<path d="M1866.5,3221.8 L2097.5,3216.8 L2098.4,3211.7 L2099.3,3206.6 L2100.2,3201.4 L2101.1,3196.3 L2102.0,3191.2 L2102.9,3186.1 L2103.8,3180.9 L2104.7,3175.8 L2105.6,3170.7 L2106.5,3165.6 L2107.4,3160.4 L2108.3,3155.3 L2109.2,3150.2 L2110.1,3145.1 L2111.0,3140.0 L2112.4,3134.8 L2113.9,3129.7 L2115.3,3124.6 L2116.8,3119.5 L2118.2,3114.3 L2126.6,3109.2 L2134.9,3104.1 L2143.3,3099.0 L2151.7,3093.8 L2160.0,3088.7 L2168.4,3083.6 L2176.7,3078.5 L2185.1,3073.3 L2193.4,3068.2 L2201.8,3063.1 L2207.5,3058.0 L2213.2,3052.9 L2219.0,3047.7 L2224.7,3042.6 L2230.4,3037.5 L2236.2,3032.4 L2241.9,3027.2 L2247.6,3022.1 L2253.4,3017.0 L2259.1,3011.9 L2266.3,3006.7 L2273.5,3001.6 L2280.7,2996.5 L2287.9,2991.4 L2295.1,2986.3 L2301.9,2981.1 L2308.8,2976.0 L2315.7,2970.9 L2322.6,2965.8 L2329.4,2960.6 L2333.7,2955.5 L2337.9,2950.4 L2342.2,2945.3 L2346.5,2940.1 L2350.7,2935.0 L2354.2,2929.9 L2357.7,2924.8 L2361.1,2919.6 L2364.6,2914.5 L2368.0,2909.4 L2369.5,2904.3 L2371.0,2899.2 L2372.5,2894.0 L2374.0,2888.9 L2375.5,2883.8 L2376.9,2878.7 L2378.4,2873.5 L2379.9,2868.4 L2381.4,2863.3 L2382.9,2858.2 L2384.4,2853.0 L2385.8,2847.9 L2387.3,2842.8 L2388.8,2837.7 L2390.3,2832.6 L2391.8,2827.4 L2393.3,2822.3 L2394.7,2817.2 L2396.2,2812.1 L2397.7,2806.9 L2398.8,2801.8 L2399.9,2796.7 L2401.0,2791.6 L2402.1,2786.4 L2403.2,2781.3 L2404.3,2776.2 L2405.4,2771.1 L2406.5,2765.9 L2407.6,2760.8 L2408.7,2755.7 L2409.6,2750.6 L2410.5,2745.5 L2411.4,2740.3 L2412.3,2735.2 L2413.2,2730.1 L2414.1,2725.0 L2415.0,2719.8 L2415.9,2714.7 L2416.8,2709.6 L2417.7,2704.5 L2419.1,2699.3 L2420.5,2694.2 L2421.8,2689.1 L2423.2,2684.0 L2424.6,2678.9 L2426.0,2673.7 L2427.4,2668.6 L2428.7,2663.5 L2430.1,2658.4 L2431.5,2653.2 L2432.3,2648.1 L2433.1,2643.0 L2433.9,2637.9 L2434.7,2632.7 L2435.5,2627.6 L2436.3,2622.5 L2437.1,2617.4 L2437.9,2612.3 L2438.7,2607.1 L2439.5,2602.0 L1866.5,2597.0Z" fill="#bdbddf"/>
<path d="M1866.5,3221.8 L2083.4,3216.8 L2084.2,3211.7 L2084.9,3206.6 L2085.6,3201.4 L2086.4,3196.3 L2087.1,3191.2 L2087.8,3186.1 L2088.6,3180.9 L2089.3,3175.8 L2090.0,3170.7 L2090.8,3165.6 L2091.5,3160.4 L2092.2,3155.3 L2093.0,3150.2 L2093.7,3145.1 L2094.4,3140.0 L2095.8,3134.8 L2097.2,3129.7 L2098.6,3124.6 L2100.0,3119.5 L2101.4,3114.3 L2109.4,3109.2 L2117.4,3104.1 L2125.4,3099.0 L2133.4,3093.8 L2141.3,3088.7 L2149.3,3083.6 L2157.3,3078.5 L2165.3,3073.3 L2173.2,3068.2 L2181.2,3063.1 L2186.7,3058.0 L2192.2,3052.9 L2197.7,3047.7 L2203.3,3042.6 L2208.8,3037.5 L2214.3,3032.4 L2219.8,3027.2 L2225.3,3022.1 L2230.8,3017.0 L2236.3,3011.9 L2243.9,3006.7 L2251.5,3001.6 L2259.1,2996.5 L2266.7,2991.4 L2274.3,2986.3 L2281.6,2981.1 L2288.8,2976.0 L2296.0,2970.9 L2303.2,2965.8 L2310.5,2960.6 L2315.4,2955.5 L2320.3,2950.4 L2325.2,2945.3 L2330.1,2940.1 L2335.0,2935.0 L2338.9,2929.9 L2342.9,2924.8 L2346.8,2919.6 L2350.8,2914.5 L2354.7,2909.4 L2356.5,2904.3 L2358.2,2899.2 L2359.9,2894.0 L2361.6,2888.9 L2363.3,2883.8 L2365.0,2878.7 L2366.7,2873.5 L2368.4,2868.4 L2370.1,2863.3 L2371.9,2858.2 L2373.6,2853.0 L2375.3,2847.9 L2377.0,2842.8 L2378.7,2837.7 L2380.4,2832.6 L2382.1,2827.4 L2383.8,2822.3 L2385.5,2817.2 L2387.2,2812.1 L2389.0,2806.9 L2390.2,2801.8 L2391.5,2796.7 L2392.7,2791.6 L2394.0,2786.4 L2395.2,2781.3 L2396.5,2776.2 L2397.7,2771.1 L2399.0,2765.9 L2400.2,2760.8 L2401.5,2755.7 L2402.5,2750.6 L2403.5,2745.5 L2404.5,2740.3 L2405.5,2735.2 L2406.5,2730.1 L2407.5,2725.0 L2408.6,2719.8 L2409.6,2714.7 L2410.6,2709.6 L2411.6,2704.5 L2413.1,2699.3 L2414.7,2694.2 L2416.2,2689.1 L2417.8,2684.0 L2419.4,2678.9 L2420.9,2673.7 L2422.5,2668.6 L2424.0,2663.5 L2425.6,2658.4 L2427.1,2653.2 L2428.0,2648.1 L2428.8,2643.0 L2429.7,2637.9 L2430.5,2632.7 L2431.4,2627.6 L2432.3,2622.5 L2433.1,2617.4 L2434.0,2612.3 L2434.8,2607.1 L2435.7,2602.0 L1866.5,2597.0Z" fill="#cfcfe8"/>
<path d="M1866.5,3221.8 L2069.3,3216.8 L2069.9,3211.7 L2070.5,3206.6 L2071.0,3201.4 L2071.6,3196.3 L2072.2,3191.2 L2072.8,3186.1 L2073.3,3180.9 L2073.9,3175.8 L2074.5,3170.7 L2075.1,3165.6 L2075.6,3160.4 L2076.2,3155.3 L2076.8,3150.2 L2077.3,3145.1 L2077.9,3140.0 L2079.2,3134.8 L2080.6,3129.7 L2082.0,3124.6 L2083.3,3119.5 L2084.7,3114.3 L2092.3,3109.2 L2099.9,3104.1 L2107.5,3099.0 L2115.1,3093.8 L2122.7,3088.7 L2130.3,3083.6 L2137.9,3078.5 L2145.5,3073.3 L2153.1,3068.2 L2160.7,3063.1 L2165.9,3058.0 L2171.2,3052.9 L2176.5,3047.7 L2181.8,3042.6 L2187.1,3037.5 L2192.4,3032.4 L2197.7,3027.2 L2203.0,3022.1 L2208.3,3017.0 L2213.6,3011.9 L2221.6,3006.7 L2229.6,3001.6 L2237.6,2996.5 L2245.6,2991.4 L2253.6,2986.3 L2261.2,2981.1 L2268.8,2976.0 L2276.3,2970.9 L2283.9,2965.8 L2291.5,2960.6 L2297.0,2955.5 L2302.6,2950.4 L2308.1,2945.3 L2313.7,2940.1 L2319.2,2935.0 L2323.7,2929.9 L2328.1,2924.8 L2332.6,2919.6 L2337.0,2914.5 L2341.4,2909.4 L2343.4,2904.3 L2345.3,2899.2 L2347.3,2894.0 L2349.2,2888.9 L2351.1,2883.8 L2353.1,2878.7 L2355.0,2873.5 L2356.9,2868.4 L2358.9,2863.3 L2360.8,2858.2 L2362.8,2853.0 L2364.7,2847.9 L2366.6,2842.8 L2368.6,2837.7 L2370.5,2832.6 L2372.5,2827.4 L2374.4,2822.3 L2376.3,2817.2 L2378.3,2812.1 L2380.2,2806.9 L2381.6,2801.8 L2383.0,2796.7 L2384.4,2791.6 L2385.8,2786.4 L2387.2,2781.3 L2388.7,2776.2 L2390.1,2771.1 L2391.5,2765.9 L2392.9,2760.8 L2394.3,2755.7 L2395.4,2750.6 L2396.5,2745.5 L2397.6,2740.3 L2398.8,2735.2 L2399.9,2730.1 L2401.0,2725.0 L2402.1,2719.8 L2403.2,2714.7 L2404.3,2709.6 L2405.5,2704.5 L2407.2,2699.3 L2408.9,2694.2 L2410.7,2689.1 L2412.4,2684.0 L2414.1,2678.9 L2415.8,2673.7 L2417.6,2668.6 L2419.3,2663.5 L2421.0,2658.4 L2422.8,2653.2 L2423.7,2648.1 L2424.6,2643.0 L2425.5,2637.9 L2426.4,2632.7 L2427.3,2627.6 L2428.2,2622.5 L2429.1,2617.4 L2430.1,2612.3 L2431.0,2607.1 L2431.9,2602.0 L1866.5,2597.0Z" fill="#dedef0"/>
<path d="M1866.5,3221.8 L2055.2,3216.8 L2055.6,3211.7 L2056.1,3206.6 L2056.5,3201.4 L2056.9,3196.3 L2057.3,3191.2 L2057.7,3186.1 L2058.1,3180.9 L2058.5,3175.8 L2058.9,3170.7 L2059.3,3165.6 L2059.7,3160.4 L2060.1,3155.3 L2060.6,3150.2 L2061.0,3145.1 L2061.4,3140.0 L2062.7,3134.8 L2064.0,3129.7 L2065.3,3124.6 L2066.6,3119.5 L2067.9,3114.3 L2075.1,3109.2 L2082.3,3104.1 L2089.6,3099.0 L2096.8,3093.8 L2104.0,3088.7 L2111.2,3083.6 L2118.4,3078.5 L2125.7,3073.3 L2132.9,3068.2 L2140.1,3063.1 L2145.2,3058.0 L2150.2,3052.9 L2155.3,3047.7 L2160.4,3042.6 L2165.4,3037.5 L2170.5,3032.4 L2175.6,3027.2 L2180.6,3022.1 L2185.7,3017.0 L2190.8,3011.9 L2199.2,3006.7 L2207.6,3001.6 L2216.1,2996.5 L2224.5,2991.4 L2232.9,2986.3 L2240.8,2981.1 L2248.8,2976.0 L2256.7,2970.9 L2264.6,2965.8 L2272.5,2960.6 L2278.7,2955.5 L2284.9,2950.4 L2291.1,2945.3 L2297.3,2940.1 L2303.5,2935.0 L2308.4,2929.9 L2313.3,2924.8 L2318.3,2919.6 L2323.2,2914.5 L2328.1,2909.4 L2330.3,2904.3 L2332.5,2899.2 L2334.6,2894.0 L2336.8,2888.9 L2339.0,2883.8 L2341.1,2878.7 L2343.3,2873.5 L2345.5,2868.4 L2347.6,2863.3 L2349.8,2858.2 L2352.0,2853.0 L2354.1,2847.9 L2356.3,2842.8 L2358.5,2837.7 L2360.6,2832.6 L2362.8,2827.4 L2365.0,2822.3 L2367.1,2817.2 L2369.3,2812.1 L2371.5,2806.9 L2373.0,2801.8 L2374.6,2796.7 L2376.1,2791.6 L2377.7,2786.4 L2379.3,2781.3 L2380.8,2776.2 L2382.4,2771.1 L2383.9,2765.9 L2385.5,2760.8 L2387.1,2755.7 L2388.3,2750.6 L2389.5,2745.5 L2390.7,2740.3 L2392.0,2735.2 L2393.2,2730.1 L2394.4,2725.0 L2395.7,2719.8 L2396.9,2714.7 L2398.1,2709.6 L2399.3,2704.5 L2401.3,2699.3 L2403.2,2694.2 L2405.1,2689.1 L2407.0,2684.0 L2408.9,2678.9 L2410.8,2673.7 L2412.7,2668.6 L2414.6,2663.5 L2416.5,2658.4 L2418.4,2653.2 L2419.4,2648.1 L2420.3,2643.0 L2421.3,2637.9 L2422.3,2632.7 L2423.3,2627.6 L2424.2,2622.5 L2425.2,2617.4 L2426.2,2612.3 L2427.1,2607.1 L2428.1,2602.0 L1866.5,2597.0Z" fill="#f0f0f8"/>
<path d="M1866.5,3221.8 L2041.1,3216.8 L2041.4,3211.7 L2041.6,3206.6 L2041.9,3201.4 L2042.1,3196.3 L2042.4,3191.2 L2042.6,3186.1 L2042.9,3180.9 L2043.1,3175.8 L2043.4,3170.7 L2043.6,3165.6 L2043.9,3160.4 L2044.1,3155.3 L2044.3,3150.2 L2044.6,3145.1 L2044.8,3140.0 L2046.1,3134.8 L2047.3,3129.7 L2048.6,3124.6 L2049.9,3119.5 L2051.1,3114.3 L2058.0,3109.2 L2064.8,3104.1 L2071.6,3099.0 L2078.5,3093.8 L2085.3,3088.7 L2092.2,3083.6 L2099.0,3078.5 L2105.9,3073.3 L2112.7,3068.2 L2119.5,3063.1 L2124.4,3058.0 L2129.2,3052.9 L2134.1,3047.7 L2138.9,3042.6 L2143.8,3037.5 L2148.6,3032.4 L2153.5,3027.2 L2158.3,3022.1 L2163.2,3017.0 L2168.0,3011.9 L2176.8,3006.7 L2185.7,3001.6 L2194.5,2996.5 L2203.4,2991.4 L2212.2,2986.3 L2220.5,2981.1 L2228.7,2976.0 L2237.0,2970.9 L2245.3,2965.8 L2253.5,2960.6 L2260.4,2955.5 L2267.2,2950.4 L2274.1,2945.3 L2280.9,2940.1 L2287.7,2935.0 L2293.2,2929.9 L2298.6,2924.8 L2304.0,2919.6 L2309.4,2914.5 L2314.8,2909.4 L2317.2,2904.3 L2319.6,2899.2 L2322.0,2894.0 L2324.4,2888.9 L2326.8,2883.8 L2329.2,2878.7 L2331.6,2873.5 L2334.0,2868.4 L2336.4,2863.3 L2338.8,2858.2 L2341.2,2853.0 L2343.6,2847.9 L2346.0,2842.8 L2348.4,2837.7 L2350.8,2832.6 L2353.1,2827.4 L2355.5,2822.3 L2357.9,2817.2 L2360.3,2812.1 L2362.7,2806.9 L2364.4,2801.8 L2366.1,2796.7 L2367.9,2791.6 L2369.6,2786.4 L2371.3,2781.3 L2373.0,2776.2 L2374.7,2771.1 L2376.4,2765.9 L2378.1,2760.8 L2379.8,2755.7 L2381.2,2750.6 L2382.5,2745.5 L2383.9,2740.3 L2385.2,2735.2 L2386.5,2730.1 L2387.9,2725.0 L2389.2,2719.8 L2390.6,2714.7 L2391.9,2709.6 L2393.2,2704.5 L2395.3,2699.3 L2397.4,2694.2 L2399.5,2689.1 L2401.6,2684.0 L2403.6,2678.9 L2405.7,2673.7 L2407.8,2668.6 L2409.9,2663.5 L2412.0,2658.4 L2414.0,2653.2 L2415.1,2648.1 L2416.1,2643.0 L2417.1,2637.9 L2418.2,2632.7 L2419.2,2627.6 L2420.2,2622.5 L2421.2,2617.4 L2422.3,2612.3 L2423.3,2607.1 L2424.3,2602.0 L1866.5,2597.0Z" fill="#ffffff"/>
<path d="M1866.5,3221.8 L2035.6,3216.8 L2035.9,3211.7 L2036.1,3206.6 L2036.4,3201.4 L2036.7,3196.3 L2036.9,3191.2 L2037.2,3186.1 L2037.4,3180.9 L2037.7,3175.8 L2038.0,3170.7 L2038.2,3165.6 L2038.5,3160.4 L2038.8,3155.3 L2039.1,3150.2 L2039.4,3145.1 L2039.8,3140.0 L2040.9,3134.8 L2042.1,3129.7 L2043.3,3124.6 L2044.5,3119.5 L2045.6,3114.3 L2052.3,3109.2 L2059.0,3104.1 L2065.6,3099.0 L2072.3,3093.8 L2078.9,3088.7 L2085.5,3083.6 L2092.1,3078.5 L2098.6,3073.3 L2105.2,3068.2 L2111.8,3063.1 L2116.5,3058.0 L2121.2,3052.9 L2126.0,3047.7 L2130.7,3042.6 L2135.5,3037.5 L2140.1,3032.4 L2144.8,3027.2 L2149.4,3022.1 L2154.1,3017.0 L2158.8,3011.9 L2167.1,3006.7 L2175.5,3001.6 L2183.9,2996.5 L2192.3,2991.4 L2200.6,2986.3 L2208.7,2981.1 L2216.8,2976.0 L2224.9,2970.9 L2232.9,2965.8 L2241.0,2960.6 L2247.7,2955.5 L2254.3,2950.4 L2261.0,2945.3 L2267.6,2940.1 L2274.3,2935.0 L2279.3,2929.9 L2284.4,2924.8 L2289.5,2919.6 L2294.5,2914.5 L2299.6,2909.4 L2301.8,2904.3 L2304.0,2899.2 L2306.2,2894.0 L2308.4,2888.9 L2310.5,2883.8 L2312.7,2878.7 L2314.9,2873.5 L2317.1,2868.4 L2319.3,2863.3 L2321.5,2858.2 L2323.7,2853.0 L2325.9,2847.9 L2328.0,2842.8 L2330.2,2837.7 L2332.4,2832.6 L2334.6,2827.4 L2336.8,2822.3 L2339.0,2817.2 L2341.2,2812.1 L2343.3,2806.9 L2344.9,2801.8 L2346.5,2796.7 L2348.1,2791.6 L2349.6,2786.4 L2351.2,2781.3 L2352.8,2776.2 L2354.3,2771.1 L2355.9,2765.9 L2357.5,2760.8 L2359.1,2755.7 L2360.3,2750.6 L2361.6,2745.5 L2362.8,2740.3 L2364.1,2735.2 L2365.3,2730.1 L2366.6,2725.0 L2367.8,2719.8 L2369.1,2714.7 L2370.3,2709.6 L2371.6,2704.5 L2373.4,2699.3 L2375.3,2694.2 L2377.2,2689.1 L2379.0,2684.0 L2380.9,2678.9 L2382.8,2673.7 L2384.6,2668.6 L2386.5,2663.5 L2388.4,2658.4 L2390.3,2653.2 L2391.2,2648.1 L2392.2,2643.0 L2393.1,2637.9 L2394.1,2632.7 L2395.0,2627.6 L2396.0,2622.5 L2397.0,2617.4 L2397.9,2612.3 L2398.9,2607.1 L2399.8,2602.0 L1866.5,2597.0Z" fill="#faf8dc"/>
<path d="M1866.5,3221.8 L2030.1,3216.8 L2030.4,3211.7 L2030.7,3206.6 L2030.9,3201.4 L2031.2,3196.3 L2031.5,3191.2 L2031.8,3186.1 L2032.0,3180.9 L2032.3,3175.8 L2032.6,3170.7 L2032.8,3165.6 L2033.2,3160.4 L2033.6,3155.3 L2033.9,3150.2 L2034.3,3145.1 L2034.7,3140.0 L2035.8,3134.8 L2036.9,3129.7 L2038.0,3124.6 L2039.1,3119.5 L2040.2,3114.3 L2046.6,3109.2 L2053.1,3104.1 L2059.6,3099.0 L2066.1,3093.8 L2072.5,3088.7 L2078.8,3083.6 L2085.1,3078.5 L2091.4,3073.3 L2097.7,3068.2 L2104.0,3063.1 L2108.6,3058.0 L2113.3,3052.9 L2117.9,3047.7 L2122.6,3042.6 L2127.2,3037.5 L2131.7,3032.4 L2136.1,3027.2 L2140.6,3022.1 L2145.0,3017.0 L2149.5,3011.9 L2157.4,3006.7 L2165.3,3001.6 L2173.3,2996.5 L2181.2,2991.4 L2189.1,2986.3 L2197.0,2981.1 L2204.8,2976.0 L2212.7,2970.9 L2220.6,2965.8 L2228.5,2960.6 L2234.9,2955.5 L2241.4,2950.4 L2247.9,2945.3 L2254.3,2940.1 L2260.8,2935.0 L2265.5,2929.9 L2270.2,2924.8 L2274.9,2919.6 L2279.7,2914.5 L2284.4,2909.4 L2286.4,2904.3 L2288.4,2899.2 L2290.3,2894.0 L2292.3,2888.9 L2294.3,2883.8 L2296.3,2878.7 L2298.2,2873.5 L2300.2,2868.4 L2302.2,2863.3 L2304.2,2858.2 L2306.2,2853.0 L2308.1,2847.9 L2310.1,2842.8 L2312.1,2837.7 L2314.1,2832.6 L2316.1,2827.4 L2318.0,2822.3 L2320.0,2817.2 L2322.0,2812.1 L2324.0,2806.9 L2325.4,2801.8 L2326.8,2796.7 L2328.3,2791.6 L2329.7,2786.4 L2331.1,2781.3 L2332.6,2776.2 L2334.0,2771.1 L2335.4,2765.9 L2336.9,2760.8 L2338.3,2755.7 L2339.4,2750.6 L2340.6,2745.5 L2341.8,2740.3 L2342.9,2735.2 L2344.1,2730.1 L2345.2,2725.0 L2346.4,2719.8 L2347.6,2714.7 L2348.7,2709.6 L2349.9,2704.5 L2351.5,2699.3 L2353.2,2694.2 L2354.9,2689.1 L2356.5,2684.0 L2358.2,2678.9 L2359.8,2673.7 L2361.5,2668.6 L2363.1,2663.5 L2364.8,2658.4 L2366.5,2653.2 L2367.4,2648.1 L2368.2,2643.0 L2369.1,2637.9 L2370.0,2632.7 L2370.9,2627.6 L2371.8,2622.5 L2372.7,2617.4 L2373.6,2612.3 L2374.5,2607.1 L2375.3,2602.0 L1866.5,2597.0Z" fill="#f5f1b4"/>
<path d="M1866.5,3221.8 L2024.6,3216.8 L2024.9,3211.7 L2025.2,3206.6 L2025.5,3201.4 L2025.7,3196.3 L2026.0,3191.2 L2026.3,3186.1 L2026.6,3180.9 L2026.9,3175.8 L2027.2,3170.7 L2027.5,3165.6 L2027.9,3160.4 L2028.3,3155.3 L2028.7,3150.2 L2029.2,3145.1 L2029.6,3140.0 L2030.6,3134.8 L2031.6,3129.7 L2032.7,3124.6 L2033.7,3119.5 L2034.7,3114.3 L2041.0,3109.2 L2047.3,3104.1 L2053.6,3099.0 L2059.9,3093.8 L2066.1,3088.7 L2072.1,3083.6 L2078.2,3078.5 L2084.2,3073.3 L2090.2,3068.2 L2096.2,3063.1 L2100.7,3058.0 L2105.3,3052.9 L2109.8,3047.7 L2114.4,3042.6 L2118.9,3037.5 L2123.2,3032.4 L2127.5,3027.2 L2131.7,3022.1 L2136.0,3017.0 L2140.3,3011.9 L2147.7,3006.7 L2155.2,3001.6 L2162.6,2996.5 L2170.1,2991.4 L2177.5,2986.3 L2185.2,2981.1 L2192.9,2976.0 L2200.6,2970.9 L2208.3,2965.8 L2216.0,2960.6 L2222.2,2955.5 L2228.5,2950.4 L2234.8,2945.3 L2241.0,2940.1 L2247.3,2935.0 L2251.7,2929.9 L2256.0,2924.8 L2260.4,2919.6 L2264.8,2914.5 L2269.2,2909.4 L2270.9,2904.3 L2272.7,2899.2 L2274.5,2894.0 L2276.3,2888.9 L2278.0,2883.8 L2279.8,2878.7 L2281.6,2873.5 L2283.3,2868.4 L2285.1,2863.3 L2286.9,2858.2 L2288.7,2853.0 L2290.4,2847.9 L2292.2,2842.8 L2294.0,2837.7 L2295.7,2832.6 L2297.5,2827.4 L2299.3,2822.3 L2301.0,2817.2 L2302.8,2812.1 L2304.6,2806.9 L2305.9,2801.8 L2307.2,2796.7 L2308.5,2791.6 L2309.8,2786.4 L2311.0,2781.3 L2312.3,2776.2 L2313.6,2771.1 L2314.9,2765.9 L2316.2,2760.8 L2317.5,2755.7 L2318.6,2750.6 L2319.6,2745.5 L2320.7,2740.3 L2321.8,2735.2 L2322.9,2730.1 L2323.9,2725.0 L2325.0,2719.8 L2326.1,2714.7 L2327.1,2709.6 L2328.2,2704.5 L2329.7,2699.3 L2331.1,2694.2 L2332.6,2689.1 L2334.0,2684.0 L2335.4,2678.9 L2336.9,2673.7 L2338.3,2668.6 L2339.8,2663.5 L2341.2,2658.4 L2342.7,2653.2 L2343.5,2648.1 L2344.3,2643.0 L2345.1,2637.9 L2345.9,2632.7 L2346.8,2627.6 L2347.6,2622.5 L2348.4,2617.4 L2349.2,2612.3 L2350.0,2607.1 L2350.9,2602.0 L1866.5,2597.0Z" fill="#f1ed8c"/>
<path d="M1866.5,3221.8 L2019.1,3216.8 L2019.4,3211.7 L2019.7,3206.6 L2020.0,3201.4 L2020.3,3196.3 L2020.6,3191.2 L2020.9,3186.1 L2021.2,3180.9 L2021.5,3175.8 L2021.8,3170.7 L2022.1,3165.6 L2022.6,3160.4 L2023.0,3155.3 L2023.5,3150.2 L2024.0,3145.1 L2024.5,3140.0 L2025.4,3134.8 L2026.4,3129.7 L2027.3,3124.6 L2028.3,3119.5 L2029.2,3114.3 L2035.3,3109.2 L2041.4,3104.1 L2047.5,3099.0 L2053.6,3093.8 L2059.7,3088.7 L2065.5,3083.6 L2071.2,3078.5 L2076.9,3073.3 L2082.7,3068.2 L2088.4,3063.1 L2092.9,3058.0 L2097.3,3052.9 L2101.7,3047.7 L2106.2,3042.6 L2110.6,3037.5 L2114.7,3032.4 L2118.8,3027.2 L2122.9,3022.1 L2126.9,3017.0 L2131.0,3011.9 L2138.0,3006.7 L2145.0,3001.6 L2152.0,2996.5 L2159.0,2991.4 L2166.0,2986.3 L2173.5,2981.1 L2181.0,2976.0 L2188.5,2970.9 L2196.0,2965.8 L2203.4,2960.6 L2209.5,2955.5 L2215.6,2950.4 L2221.7,2945.3 L2227.7,2940.1 L2233.8,2935.0 L2237.8,2929.9 L2241.9,2924.8 L2245.9,2919.6 L2249.9,2914.5 L2254.0,2909.4 L2255.5,2904.3 L2257.1,2899.2 L2258.6,2894.0 L2260.2,2888.9 L2261.8,2883.8 L2263.3,2878.7 L2264.9,2873.5 L2266.5,2868.4 L2268.0,2863.3 L2269.6,2858.2 L2271.1,2853.0 L2272.7,2847.9 L2274.3,2842.8 L2275.8,2837.7 L2277.4,2832.6 L2279.0,2827.4 L2280.5,2822.3 L2282.1,2817.2 L2283.6,2812.1 L2285.2,2806.9 L2286.4,2801.8 L2287.5,2796.7 L2288.7,2791.6 L2289.8,2786.4 L2291.0,2781.3 L2292.1,2776.2 L2293.3,2771.1 L2294.4,2765.9 L2295.6,2760.8 L2296.7,2755.7 L2297.7,2750.6 L2298.7,2745.5 L2299.7,2740.3 L2300.7,2735.2 L2301.6,2730.1 L2302.6,2725.0 L2303.6,2719.8 L2304.6,2714.7 L2305.6,2709.6 L2306.5,2704.5 L2307.8,2699.3 L2309.0,2694.2 L2310.2,2689.1 L2311.5,2684.0 L2312.7,2678.9 L2313.9,2673.7 L2315.2,2668.6 L2316.4,2663.5 L2317.6,2658.4 L2318.9,2653.2 L2319.6,2648.1 L2320.4,2643.0 L2321.1,2637.9 L2321.9,2632.7 L2322.6,2627.6 L2323.4,2622.5 L2324.1,2617.4 L2324.9,2612.3 L2325.6,2607.1 L2326.4,2602.0 L1866.5,2597.0Z" fill="#efea6a"/>
<path d="M1866.5,3221.8 L2013.6,3216.8 L2013.9,3211.7 L2014.2,3206.6 L2014.5,3201.4 L2014.8,3196.3 L2015.1,3191.2 L2015.5,3186.1 L2015.8,3180.9 L2016.1,3175.8 L2016.4,3170.7 L2016.7,3165.6 L2017.2,3160.4 L2017.8,3155.3 L2018.3,3150.2 L2018.9,3145.1 L2019.4,3140.0 L2020.3,3134.8 L2021.2,3129.7 L2022.0,3124.6 L2022.9,3119.5 L2023.8,3114.3 L2029.7,3109.2 L2035.6,3104.1 L2041.5,3099.0 L2047.4,3093.8 L2053.3,3088.7 L2058.8,3083.6 L2064.3,3078.5 L2069.7,3073.3 L2075.2,3068.2 L2080.6,3063.1 L2085.0,3058.0 L2089.3,3052.9 L2093.7,3047.7 L2098.0,3042.6 L2102.4,3037.5 L2106.2,3032.4 L2110.1,3027.2 L2114.0,3022.1 L2117.9,3017.0 L2121.8,3011.9 L2128.3,3006.7 L2134.8,3001.6 L2141.4,2996.5 L2147.9,2991.4 L2154.4,2986.3 L2161.7,2981.1 L2169.0,2976.0 L2176.3,2970.9 L2183.6,2965.8 L2190.9,2960.6 L2196.8,2955.5 L2202.7,2950.4 L2208.6,2945.3 L2214.4,2940.1 L2220.3,2935.0 L2224.0,2929.9 L2227.7,2924.8 L2231.4,2919.6 L2235.1,2914.5 L2238.7,2909.4 L2240.1,2904.3 L2241.4,2899.2 L2242.8,2894.0 L2244.2,2888.9 L2245.5,2883.8 L2246.9,2878.7 L2248.2,2873.5 L2249.6,2868.4 L2250.9,2863.3 L2252.3,2858.2 L2253.6,2853.0 L2255.0,2847.9 L2256.3,2842.8 L2257.7,2837.7 L2259.1,2832.6 L2260.4,2827.4 L2261.8,2822.3 L2263.1,2817.2 L2264.5,2812.1 L2265.8,2806.9 L2266.8,2801.8 L2267.9,2796.7 L2268.9,2791.6 L2269.9,2786.4 L2270.9,2781.3 L2271.9,2776.2 L2272.9,2771.1 L2273.9,2765.9 L2274.9,2760.8 L2276.0,2755.7 L2276.8,2750.6 L2277.7,2745.5 L2278.6,2740.3 L2279.5,2735.2 L2280.4,2730.1 L2281.3,2725.0 L2282.2,2719.8 L2283.1,2714.7 L2284.0,2709.6 L2284.9,2704.5 L2285.9,2699.3 L2286.9,2694.2 L2287.9,2689.1 L2289.0,2684.0 L2290.0,2678.9 L2291.0,2673.7 L2292.0,2668.6 L2293.0,2663.5 L2294.1,2658.4 L2295.1,2653.2 L2295.8,2648.1 L2296.5,2643.0 L2297.1,2637.9 L2297.8,2632.7 L2298.5,2627.6 L2299.2,2622.5 L2299.9,2617.4 L2300.5,2612.3 L2301.2,2607.1 L2301.9,2602.0 L1866.5,2597.0Z" fill="#eee640"/>
<path d="M1866.5,3221.8 L2008.1,3216.8 L2008.4,3211.7 L2008.7,3206.6 L2009.1,3201.4 L2009.4,3196.3 L2009.7,3191.2 L2010.0,3186.1 L2010.3,3180.9 L2010.7,3175.8 L2011.0,3170.7 L2011.3,3165.6 L2011.9,3160.4 L2012.5,3155.3 L2013.1,3150.2 L2013.7,3145.1 L2014.3,3140.0 L2015.1,3134.8 L2015.9,3129.7 L2016.7,3124.6 L2017.5,3119.5 L2018.3,3114.3 L2024.0,3109.2 L2029.8,3104.1 L2035.5,3099.0 L2041.2,3093.8 L2047.0,3088.7 L2052.1,3083.6 L2057.3,3078.5 L2062.5,3073.3 L2067.7,3068.2 L2072.8,3063.1 L2077.1,3058.0 L2081.3,3052.9 L2085.6,3047.7 L2089.8,3042.6 L2094.1,3037.5 L2097.8,3032.4 L2101.5,3027.2 L2105.1,3022.1 L2108.8,3017.0 L2112.5,3011.9 L2118.6,3006.7 L2124.7,3001.6 L2130.7,2996.5 L2136.8,2991.4 L2142.8,2986.3 L2150.0,2981.1 L2157.1,2976.0 L2164.2,2970.9 L2171.3,2965.8 L2178.4,2960.6 L2184.1,2955.5 L2189.8,2950.4 L2195.5,2945.3 L2201.2,2940.1 L2206.8,2935.0 L2210.2,2929.9 L2213.5,2924.8 L2216.8,2919.6 L2220.2,2914.5 L2223.5,2909.4 L2224.7,2904.3 L2225.8,2899.2 L2227.0,2894.0 L2228.1,2888.9 L2229.3,2883.8 L2230.4,2878.7 L2231.5,2873.5 L2232.7,2868.4 L2233.8,2863.3 L2235.0,2858.2 L2236.1,2853.0 L2237.3,2847.9 L2238.4,2842.8 L2239.6,2837.7 L2240.7,2832.6 L2241.9,2827.4 L2243.0,2822.3 L2244.2,2817.2 L2245.3,2812.1 L2246.5,2806.9 L2247.3,2801.8 L2248.2,2796.7 L2249.1,2791.6 L2249.9,2786.4 L2250.8,2781.3 L2251.7,2776.2 L2252.6,2771.1 L2253.4,2765.9 L2254.3,2760.8 L2255.2,2755.7 L2256.0,2750.6 L2256.8,2745.5 L2257.6,2740.3 L2258.4,2735.2 L2259.2,2730.1 L2260.0,2725.0 L2260.8,2719.8 L2261.6,2714.7 L2262.4,2709.6 L2263.2,2704.5 L2264.0,2699.3 L2264.8,2694.2 L2265.6,2689.1 L2266.4,2684.0 L2267.3,2678.9 L2268.1,2673.7 L2268.9,2668.6 L2269.7,2663.5 L2270.5,2658.4 L2271.3,2653.2 L2271.9,2648.1 L2272.5,2643.0 L2273.1,2637.9 L2273.7,2632.7 L2274.4,2627.6 L2275.0,2622.5 L2275.6,2617.4 L2276.2,2612.3 L2276.8,2607.1 L2277.4,2602.0 L1866.5,2597.0Z" fill="#eee432"/>
<path d="M1866.5,3221.8 L2002.6,3216.8 L2002.9,3211.7 L2003.2,3206.6 L2003.6,3201.4 L2003.9,3196.3 L2004.3,3191.2 L2004.6,3186.1 L2004.9,3180.9 L2005.3,3175.8 L2005.6,3170.7 L2005.9,3165.6 L2006.6,3160.4 L2007.3,3155.3 L2007.9,3150.2 L2008.6,3145.1 L2009.2,3140.0 L2010.0,3134.8 L2010.7,3129.7 L2011.4,3124.6 L2012.1,3119.5 L2012.8,3114.3 L2018.4,3109.2 L2023.9,3104.1 L2029.5,3099.0 L2035.0,3093.8 L2040.6,3088.7 L2045.5,3083.6 L2050.4,3078.5 L2055.3,3073.3 L2060.2,3068.2 L2065.1,3063.1 L2069.2,3058.0 L2073.4,3052.9 L2077.5,3047.7 L2081.6,3042.6 L2085.8,3037.5 L2089.3,3032.4 L2092.8,3027.2 L2096.3,3022.1 L2099.8,3017.0 L2103.3,3011.9 L2108.9,3006.7 L2114.5,3001.6 L2120.1,2996.5 L2125.7,2991.4 L2131.3,2986.3 L2138.2,2981.1 L2145.1,2976.0 L2152.0,2970.9 L2159.0,2965.8 L2165.9,2960.6 L2171.4,2955.5 L2176.9,2950.4 L2182.4,2945.3 L2187.9,2940.1 L2193.4,2935.0 L2196.3,2929.9 L2199.3,2924.8 L2202.3,2919.6 L2205.3,2914.5 L2208.3,2909.4 L2209.2,2904.3 L2210.2,2899.2 L2211.1,2894.0 L2212.1,2888.9 L2213.0,2883.8 L2213.9,2878.7 L2214.9,2873.5 L2215.8,2868.4 L2216.7,2863.3 L2217.7,2858.2 L2218.6,2853.0 L2219.6,2847.9 L2220.5,2842.8 L2221.4,2837.7 L2222.4,2832.6 L2223.3,2827.4 L2224.3,2822.3 L2225.2,2817.2 L2226.1,2812.1 L2227.1,2806.9 L2227.8,2801.8 L2228.5,2796.7 L2229.3,2791.6 L2230.0,2786.4 L2230.7,2781.3 L2231.5,2776.2 L2232.2,2771.1 L2232.9,2765.9 L2233.7,2760.8 L2234.4,2755.7 L2235.1,2750.6 L2235.8,2745.5 L2236.5,2740.3 L2237.3,2735.2 L2238.0,2730.1 L2238.7,2725.0 L2239.4,2719.8 L2240.1,2714.7 L2240.8,2709.6 L2241.5,2704.5 L2242.1,2699.3 L2242.7,2694.2 L2243.3,2689.1 L2243.9,2684.0 L2244.5,2678.9 L2245.1,2673.7 L2245.7,2668.6 L2246.3,2663.5 L2246.9,2658.4 L2247.5,2653.2 L2248.1,2648.1 L2248.6,2643.0 L2249.1,2637.9 L2249.7,2632.7 L2250.2,2627.6 L2250.8,2622.5 L2251.3,2617.4 L2251.8,2612.3 L2252.4,2607.1 L2252.9,2602.0 L1866.5,2597.0Z" fill="#efd82a"/>
<path d="M1866.5,3221.8 L1998.0,3216.8 L1998.3,3211.7 L1998.6,3206.6 L1999.0,3201.4 L1999.3,3196.3 L1999.7,3191.2 L2000.0,3186.1 L2000.3,3180.9 L2000.7,3175.8 L2001.0,3170.7 L2001.4,3165.6 L2002.0,3160.4 L2002.7,3155.3 L2003.4,3150.2 L2004.1,3145.1 L2004.7,3140.0 L2005.4,3134.8 L2006.1,3129.7 L2006.7,3124.6 L2007.4,3119.5 L2008.1,3114.3 L2013.7,3109.2 L2019.0,3104.1 L2024.4,3099.0 L2029.7,3093.8 L2035.1,3088.7 L2039.8,3083.6 L2044.6,3078.5 L2049.3,3073.3 L2054.0,3068.2 L2058.7,3063.1 L2062.7,3058.0 L2066.6,3052.9 L2070.6,3047.7 L2074.6,3042.6 L2078.5,3037.5 L2081.9,3032.4 L2085.4,3027.2 L2088.8,3022.1 L2092.3,3017.0 L2095.8,3011.9 L2101.1,3006.7 L2106.5,3001.6 L2111.9,2996.5 L2117.3,2991.4 L2122.6,2986.3 L2129.4,2981.1 L2136.2,2976.0 L2143.0,2970.9 L2149.8,2965.8 L2156.6,2960.6 L2162.0,2955.5 L2167.3,2950.4 L2172.7,2945.3 L2178.1,2940.1 L2183.4,2935.0 L2186.4,2929.9 L2189.4,2924.8 L2192.3,2919.6 L2195.3,2914.5 L2198.3,2909.4 L2199.1,2904.3 L2200.0,2899.2 L2200.8,2894.0 L2201.7,2888.9 L2202.6,2883.8 L2203.4,2878.7 L2204.3,2873.5 L2205.1,2868.4 L2206.0,2863.3 L2206.8,2858.2 L2207.7,2853.0 L2208.5,2847.9 L2209.4,2842.8 L2210.3,2837.7 L2211.1,2832.6 L2212.0,2827.4 L2212.8,2822.3 L2213.7,2817.2 L2214.5,2812.1 L2215.4,2806.9 L2216.1,2801.8 L2216.8,2796.7 L2217.5,2791.6 L2218.2,2786.4 L2218.9,2781.3 L2219.6,2776.2 L2220.3,2771.1 L2221.0,2765.9 L2221.7,2760.8 L2222.4,2755.7 L2223.1,2750.6 L2223.8,2745.5 L2224.5,2740.3 L2225.2,2735.2 L2225.9,2730.1 L2226.6,2725.0 L2227.2,2719.8 L2227.9,2714.7 L2228.6,2709.6 L2229.3,2704.5 L2229.9,2699.3 L2230.4,2694.2 L2230.9,2689.1 L2231.5,2684.0 L2232.0,2678.9 L2232.6,2673.7 L2233.1,2668.6 L2233.6,2663.5 L2234.2,2658.4 L2234.7,2653.2 L2235.2,2648.1 L2235.8,2643.0 L2236.3,2637.9 L2236.8,2632.7 L2237.3,2627.6 L2237.8,2622.5 L2238.3,2617.4 L2238.9,2612.3 L2239.4,2607.1 L2239.9,2602.0 L1866.5,2597.0Z" fill="#f2b822"/>
<path d="M1866.5,3221.8 L1993.9,3216.8 L1994.3,3211.7 L1994.6,3206.6 L1995.0,3201.4 L1995.3,3196.3 L1995.6,3191.2 L1996.0,3186.1 L1996.3,3180.9 L1996.6,3175.8 L1997.0,3170.7 L1997.4,3165.6 L1998.0,3160.4 L1998.7,3155.3 L1999.3,3150.2 L2000.0,3145.1 L2000.6,3140.0 L2001.2,3134.8 L2001.9,3129.7 L2002.5,3124.6 L2003.2,3119.5 L2003.8,3114.3 L2009.7,3109.2 L2014.8,3104.1 L2020.0,3099.0 L2025.1,3093.8 L2030.3,3088.7 L2034.9,3083.6 L2039.5,3078.5 L2044.1,3073.3 L2048.7,3068.2 L2053.4,3063.1 L2057.1,3058.0 L2060.8,3052.9 L2064.5,3047.7 L2068.2,3042.6 L2071.9,3037.5 L2075.2,3032.4 L2078.8,3027.2 L2082.3,3022.1 L2085.8,3017.0 L2089.4,3011.9 L2094.7,3006.7 L2100.0,3001.6 L2105.3,2996.5 L2110.6,2991.4 L2115.9,2986.3 L2122.4,2981.1 L2129.2,2976.0 L2136.0,2970.9 L2142.7,2965.8 L2149.5,2960.6 L2154.7,2955.5 L2160.0,2950.4 L2165.3,2945.3 L2170.6,2940.1 L2175.9,2935.0 L2179.1,2929.9 L2182.2,2924.8 L2185.4,2919.6 L2188.6,2914.5 L2191.7,2909.4 L2192.6,2904.3 L2193.4,2899.2 L2194.3,2894.0 L2195.1,2888.9 L2196.0,2883.8 L2196.8,2878.7 L2197.7,2873.5 L2198.6,2868.4 L2199.4,2863.3 L2200.3,2858.2 L2201.1,2853.0 L2202.0,2847.9 L2202.8,2842.8 L2203.7,2837.7 L2204.5,2832.6 L2205.4,2827.4 L2206.3,2822.3 L2207.1,2817.2 L2208.0,2812.1 L2208.8,2806.9 L2209.6,2801.8 L2210.3,2796.7 L2211.1,2791.6 L2211.8,2786.4 L2212.5,2781.3 L2213.3,2776.2 L2214.0,2771.1 L2214.8,2765.9 L2215.5,2760.8 L2216.3,2755.7 L2217.0,2750.6 L2217.7,2745.5 L2218.4,2740.3 L2219.1,2735.2 L2219.8,2730.1 L2220.6,2725.0 L2221.3,2719.8 L2222.0,2714.7 L2222.7,2709.6 L2223.4,2704.5 L2224.0,2699.3 L2224.6,2694.2 L2225.2,2689.1 L2225.8,2684.0 L2226.3,2678.9 L2226.9,2673.7 L2227.5,2668.6 L2228.1,2663.5 L2228.7,2658.4 L2229.3,2653.2 L2229.8,2648.1 L2230.3,2643.0 L2230.8,2637.9 L2231.4,2632.7 L2231.9,2627.6 L2232.4,2622.5 L2232.9,2617.4 L2233.5,2612.3 L2234.0,2607.1 L2234.5,2602.0 L1866.5,2597.0Z" fill="#f09424"/>
<path d="M1866.5,3221.8 L1989.9,3216.8 L1990.3,3211.7 L1990.6,3206.6 L1990.9,3201.4 L1991.3,3196.3 L1991.6,3191.2 L1991.9,3186.1 L1992.3,3180.9 L1992.6,3175.8 L1992.9,3170.7 L1993.3,3165.6 L1994.0,3160.4 L1994.6,3155.3 L1995.2,3150.2 L1995.8,3145.1 L1996.5,3140.0 L1997.1,3134.8 L1997.7,3129.7 L1998.4,3124.6 L1999.0,3119.5 L1999.6,3114.3 L2005.6,3109.2 L2010.6,3104.1 L2015.5,3099.0 L2020.5,3093.8 L2025.4,3088.7 L2030.0,3083.6 L2034.5,3078.5 L2039.0,3073.3 L2043.5,3068.2 L2048.0,3063.1 L2051.5,3058.0 L2054.9,3052.9 L2058.4,3047.7 L2061.9,3042.6 L2065.4,3037.5 L2068.6,3032.4 L2072.2,3027.2 L2075.8,3022.1 L2079.4,3017.0 L2083.0,3011.9 L2088.2,3006.7 L2093.5,3001.6 L2098.7,2996.5 L2104.0,2991.4 L2109.2,2986.3 L2115.5,2981.1 L2122.2,2976.0 L2128.9,2970.9 L2135.6,2965.8 L2142.3,2960.6 L2147.5,2955.5 L2152.7,2950.4 L2157.9,2945.3 L2163.1,2940.1 L2168.3,2935.0 L2171.7,2929.9 L2175.1,2924.8 L2178.4,2919.6 L2181.8,2914.5 L2185.1,2909.4 L2186.0,2904.3 L2186.9,2899.2 L2187.7,2894.0 L2188.6,2888.9 L2189.4,2883.8 L2190.3,2878.7 L2191.1,2873.5 L2192.0,2868.4 L2192.8,2863.3 L2193.7,2858.2 L2194.6,2853.0 L2195.4,2847.9 L2196.3,2842.8 L2197.1,2837.7 L2198.0,2832.6 L2198.8,2827.4 L2199.7,2822.3 L2200.5,2817.2 L2201.4,2812.1 L2202.3,2806.9 L2203.0,2801.8 L2203.8,2796.7 L2204.6,2791.6 L2205.4,2786.4 L2206.2,2781.3 L2207.0,2776.2 L2207.8,2771.1 L2208.5,2765.9 L2209.3,2760.8 L2210.1,2755.7 L2210.9,2750.6 L2211.6,2745.5 L2212.3,2740.3 L2213.1,2735.2 L2213.8,2730.1 L2214.6,2725.0 L2215.3,2719.8 L2216.0,2714.7 L2216.8,2709.6 L2217.5,2704.5 L2218.1,2699.3 L2218.8,2694.2 L2219.4,2689.1 L2220.0,2684.0 L2220.7,2678.9 L2221.3,2673.7 L2221.9,2668.6 L2222.5,2663.5 L2223.2,2658.4 L2223.8,2653.2 L2224.3,2648.1 L2224.9,2643.0 L2225.4,2637.9 L2225.9,2632.7 L2226.5,2627.6 L2227.0,2622.5 L2227.5,2617.4 L2228.1,2612.3 L2228.6,2607.1 L2229.1,2602.0 L1866.5,2597.0Z" fill="#ec7626"/>
<path d="M1866.5,3221.8 L1985.9,3216.8 L1986.2,3211.7 L1986.6,3206.6 L1986.9,3201.4 L1987.2,3196.3 L1987.6,3191.2 L1987.9,3186.1 L1988.2,3180.9 L1988.6,3175.8 L1988.9,3170.7 L1989.3,3165.6 L1989.9,3160.4 L1990.5,3155.3 L1991.1,3150.2 L1991.7,3145.1 L1992.3,3140.0 L1992.9,3134.8 L1993.6,3129.7 L1994.2,3124.6 L1994.8,3119.5 L1995.4,3114.3 L2001.6,3109.2 L2006.4,3104.1 L2011.1,3099.0 L2015.9,3093.8 L2020.6,3088.7 L2025.0,3083.6 L2029.4,3078.5 L2033.8,3073.3 L2038.2,3068.2 L2042.6,3063.1 L2045.9,3058.0 L2049.1,3052.9 L2052.3,3047.7 L2055.5,3042.6 L2058.8,3037.5 L2061.9,3032.4 L2065.6,3027.2 L2069.3,3022.1 L2072.9,3017.0 L2076.6,3011.9 L2081.8,3006.7 L2087.0,3001.6 L2092.1,2996.5 L2097.3,2991.4 L2102.5,2986.3 L2108.6,2981.1 L2115.3,2976.0 L2121.9,2970.9 L2128.6,2965.8 L2135.2,2960.6 L2140.3,2955.5 L2145.4,2950.4 L2150.5,2945.3 L2155.6,2940.1 L2160.7,2935.0 L2164.4,2929.9 L2168.0,2924.8 L2171.5,2919.6 L2175.0,2914.5 L2178.6,2909.4 L2179.4,2904.3 L2180.3,2899.2 L2181.1,2894.0 L2182.0,2888.9 L2182.9,2883.8 L2183.7,2878.7 L2184.6,2873.5 L2185.4,2868.4 L2186.3,2863.3 L2187.1,2858.2 L2188.0,2853.0 L2188.8,2847.9 L2189.7,2842.8 L2190.6,2837.7 L2191.4,2832.6 L2192.3,2827.4 L2193.1,2822.3 L2194.0,2817.2 L2194.8,2812.1 L2195.7,2806.9 L2196.5,2801.8 L2197.3,2796.7 L2198.2,2791.6 L2199.0,2786.4 L2199.8,2781.3 L2200.7,2776.2 L2201.5,2771.1 L2202.3,2765.9 L2203.2,2760.8 L2204.0,2755.7 L2204.7,2750.6 L2205.5,2745.5 L2206.3,2740.3 L2207.0,2735.2 L2207.8,2730.1 L2208.5,2725.0 L2209.3,2719.8 L2210.1,2714.7 L2210.8,2709.6 L2211.6,2704.5 L2212.3,2699.3 L2212.9,2694.2 L2213.6,2689.1 L2214.3,2684.0 L2215.0,2678.9 L2215.6,2673.7 L2216.3,2668.6 L2217.0,2663.5 L2217.7,2658.4 L2218.3,2653.2 L2218.9,2648.1 L2219.4,2643.0 L2220.0,2637.9 L2220.5,2632.7 L2221.0,2627.6 L2221.6,2622.5 L2222.1,2617.4 L2222.7,2612.3 L2223.2,2607.1 L2223.7,2602.0 L1866.5,2597.0Z" fill="#e85c28"/>
<path d="M1866.5,3221.8 L1981.9,3216.8 L1982.2,3211.7 L1982.6,3206.6 L1982.9,3201.4 L1983.2,3196.3 L1983.5,3191.2 L1983.9,3186.1 L1984.2,3180.9 L1984.5,3175.8 L1984.8,3170.7 L1985.3,3165.6 L1985.9,3160.4 L1986.5,3155.3 L1987.0,3150.2 L1987.6,3145.1 L1988.2,3140.0 L1988.8,3134.8 L1989.4,3129.7 L1990.0,3124.6 L1990.5,3119.5 L1991.1,3114.3 L1997.6,3109.2 L2002.2,3104.1 L2006.7,3099.0 L2011.2,3093.8 L2015.8,3088.7 L2020.1,3083.6 L2024.4,3078.5 L2028.7,3073.3 L2033.0,3068.2 L2037.3,3063.1 L2040.3,3058.0 L2043.2,3052.9 L2046.2,3047.7 L2049.2,3042.6 L2052.2,3037.5 L2055.2,3032.4 L2059.0,3027.2 L2062.7,3022.1 L2066.5,3017.0 L2070.2,3011.9 L2075.3,3006.7 L2080.5,3001.6 L2085.6,2996.5 L2090.7,2991.4 L2095.8,2986.3 L2101.7,2981.1 L2108.3,2976.0 L2114.9,2970.9 L2121.5,2965.8 L2128.1,2960.6 L2133.1,2955.5 L2138.1,2950.4 L2143.1,2945.3 L2148.1,2940.1 L2153.2,2935.0 L2157.1,2929.9 L2160.8,2924.8 L2164.6,2919.6 L2168.3,2914.5 L2172.0,2909.4 L2172.9,2904.3 L2173.7,2899.2 L2174.6,2894.0 L2175.4,2888.9 L2176.3,2883.8 L2177.1,2878.7 L2178.0,2873.5 L2178.9,2868.4 L2179.7,2863.3 L2180.6,2858.2 L2181.4,2853.0 L2182.3,2847.9 L2183.1,2842.8 L2184.0,2837.7 L2184.8,2832.6 L2185.7,2827.4 L2186.6,2822.3 L2187.4,2817.2 L2188.3,2812.1 L2189.1,2806.9 L2190.0,2801.8 L2190.9,2796.7 L2191.7,2791.6 L2192.6,2786.4 L2193.5,2781.3 L2194.4,2776.2 L2195.2,2771.1 L2196.1,2765.9 L2197.0,2760.8 L2197.8,2755.7 L2198.6,2750.6 L2199.4,2745.5 L2200.2,2740.3 L2201.0,2735.2 L2201.8,2730.1 L2202.5,2725.0 L2203.3,2719.8 L2204.1,2714.7 L2204.9,2709.6 L2205.7,2704.5 L2206.4,2699.3 L2207.1,2694.2 L2207.8,2689.1 L2208.6,2684.0 L2209.3,2678.9 L2210.0,2673.7 L2210.7,2668.6 L2211.4,2663.5 L2212.2,2658.4 L2212.9,2653.2 L2213.4,2648.1 L2214.0,2643.0 L2214.5,2637.9 L2215.1,2632.7 L2215.6,2627.6 L2216.2,2622.5 L2216.7,2617.4 L2217.3,2612.3 L2217.8,2607.1 L2218.4,2602.0 L1866.5,2597.0Z" fill="#e54828"/>
<path d="M1866.5,3221.8 L1977.9,3216.8 L1978.2,3211.7 L1978.5,3206.6 L1978.9,3201.4 L1979.2,3196.3 L1979.5,3191.2 L1979.8,3186.1 L1980.2,3180.9 L1980.5,3175.8 L1980.8,3170.7 L1981.3,3165.6 L1981.8,3160.4 L1982.4,3155.3 L1983.0,3150.2 L1983.5,3145.1 L1984.1,3140.0 L1984.6,3134.8 L1985.2,3129.7 L1985.8,3124.6 L1986.3,3119.5 L1986.9,3114.3 L1993.6,3109.2 L1997.9,3104.1 L2002.3,3099.0 L2006.6,3093.8 L2011.0,3088.7 L2015.1,3083.6 L2019.3,3078.5 L2023.5,3073.3 L2027.7,3068.2 L2031.9,3063.1 L2034.6,3058.0 L2037.4,3052.9 L2040.1,3047.7 L2042.9,3042.6 L2045.6,3037.5 L2048.5,3032.4 L2052.4,3027.2 L2056.2,3022.1 L2060.0,3017.0 L2063.9,3011.9 L2068.9,3006.7 L2073.9,3001.6 L2079.0,2996.5 L2084.0,2991.4 L2089.1,2986.3 L2094.8,2981.1 L2101.3,2976.0 L2107.9,2970.9 L2114.4,2965.8 L2121.0,2960.6 L2125.9,2955.5 L2130.8,2950.4 L2135.7,2945.3 L2140.7,2940.1 L2145.6,2935.0 L2149.7,2929.9 L2153.7,2924.8 L2157.6,2919.6 L2161.5,2914.5 L2165.5,2909.4 L2166.3,2904.3 L2167.2,2899.2 L2168.0,2894.0 L2168.9,2888.9 L2169.7,2883.8 L2170.6,2878.7 L2171.4,2873.5 L2172.3,2868.4 L2173.2,2863.3 L2174.0,2858.2 L2174.9,2853.0 L2175.7,2847.9 L2176.6,2842.8 L2177.4,2837.7 L2178.3,2832.6 L2179.1,2827.4 L2180.0,2822.3 L2180.8,2817.2 L2181.7,2812.1 L2182.6,2806.9 L2183.5,2801.8 L2184.4,2796.7 L2185.3,2791.6 L2186.2,2786.4 L2187.1,2781.3 L2188.0,2776.2 L2189.0,2771.1 L2189.9,2765.9 L2190.8,2760.8 L2191.7,2755.7 L2192.5,2750.6 L2193.3,2745.5 L2194.1,2740.3 L2194.9,2735.2 L2195.7,2730.1 L2196.5,2725.0 L2197.4,2719.8 L2198.2,2714.7 L2199.0,2709.6 L2199.8,2704.5 L2200.5,2699.3 L2201.3,2694.2 L2202.1,2689.1 L2202.8,2684.0 L2203.6,2678.9 L2204.4,2673.7 L2205.1,2668.6 L2205.9,2663.5 L2206.7,2658.4 L2207.4,2653.2 L2208.0,2648.1 L2208.5,2643.0 L2209.1,2637.9 L2209.7,2632.7 L2210.2,2627.6 L2210.8,2622.5 L2211.3,2617.4 L2211.9,2612.3 L2212.4,2607.1 L2213.0,2602.0 L1866.5,2597.0Z" fill="#e3382a"/>
<path d="M1866.5,3221.8 L1973.9,3216.8 L1974.2,3211.7 L1974.5,3206.6 L1974.8,3201.4 L1975.2,3196.3 L1975.5,3191.2 L1975.8,3186.1 L1976.1,3180.9 L1976.4,3175.8 L1976.8,3170.7 L1977.2,3165.6 L1977.8,3160.4 L1978.3,3155.3 L1978.9,3150.2 L1979.4,3145.1 L1980.0,3140.0 L1980.5,3134.8 L1981.0,3129.7 L1981.6,3124.6 L1982.1,3119.5 L1982.7,3114.3 L1989.6,3109.2 L1993.7,3104.1 L1997.9,3099.0 L2002.0,3093.8 L2006.1,3088.7 L2010.2,3083.6 L2014.3,3078.5 L2018.4,3073.3 L2022.5,3068.2 L2026.5,3063.1 L2029.0,3058.0 L2031.5,3052.9 L2034.0,3047.7 L2036.5,3042.6 L2039.0,3037.5 L2041.9,3032.4 L2045.8,3027.2 L2049.7,3022.1 L2053.6,3017.0 L2057.5,3011.9 L2062.5,3006.7 L2067.4,3001.6 L2072.4,2996.5 L2077.4,2991.4 L2082.3,2986.3 L2087.9,2981.1 L2094.4,2976.0 L2100.9,2970.9 L2107.3,2965.8 L2113.8,2960.6 L2118.7,2955.5 L2123.5,2950.4 L2128.4,2945.3 L2133.2,2940.1 L2138.0,2935.0 L2142.4,2929.9 L2146.5,2924.8 L2150.7,2919.6 L2154.8,2914.5 L2158.9,2909.4 L2159.7,2904.3 L2160.6,2899.2 L2161.5,2894.0 L2162.3,2888.9 L2163.2,2883.8 L2164.0,2878.7 L2164.9,2873.5 L2165.7,2868.4 L2166.6,2863.3 L2167.4,2858.2 L2168.3,2853.0 L2169.2,2847.9 L2170.0,2842.8 L2170.9,2837.7 L2171.7,2832.6 L2172.6,2827.4 L2173.4,2822.3 L2174.3,2817.2 L2175.1,2812.1 L2176.0,2806.9 L2176.9,2801.8 L2177.9,2796.7 L2178.9,2791.6 L2179.8,2786.4 L2180.8,2781.3 L2181.7,2776.2 L2182.7,2771.1 L2183.6,2765.9 L2184.6,2760.8 L2185.6,2755.7 L2186.4,2750.6 L2187.2,2745.5 L2188.0,2740.3 L2188.9,2735.2 L2189.7,2730.1 L2190.5,2725.0 L2191.4,2719.8 L2192.2,2714.7 L2193.0,2709.6 L2193.9,2704.5 L2194.7,2699.3 L2195.5,2694.2 L2196.3,2689.1 L2197.1,2684.0 L2197.9,2678.9 L2198.7,2673.7 L2199.5,2668.6 L2200.4,2663.5 L2201.2,2658.4 L2202.0,2653.2 L2202.5,2648.1 L2203.1,2643.0 L2203.7,2637.9 L2204.2,2632.7 L2204.8,2627.6 L2205.3,2622.5 L2205.9,2617.4 L2206.5,2612.3 L2207.0,2607.1 L2207.6,2602.0 L1866.5,2597.0Z" fill="#e12c2a"/>
<path d="M1866.5,3221.8 L1969.9,3216.8 L1970.2,3211.7 L1970.5,3206.6 L1970.8,3201.4 L1971.1,3196.3 L1971.4,3191.2 L1971.8,3186.1 L1972.1,3180.9 L1972.4,3175.8 L1972.7,3170.7 L1973.2,3165.6 L1973.7,3160.4 L1974.3,3155.3 L1974.8,3150.2 L1975.3,3145.1 L1975.8,3140.0 L1976.3,3134.8 L1976.9,3129.7 L1977.4,3124.6 L1977.9,3119.5 L1978.4,3114.3 L1985.5,3109.2 L1989.5,3104.1 L1993.4,3099.0 L1997.4,3093.8 L2001.3,3088.7 L2005.3,3083.6 L2009.2,3078.5 L2013.2,3073.3 L2017.2,3068.2 L2021.2,3063.1 L2023.4,3058.0 L2025.7,3052.9 L2027.9,3047.7 L2030.2,3042.6 L2032.4,3037.5 L2035.2,3032.4 L2039.2,3027.2 L2043.2,3022.1 L2047.1,3017.0 L2051.1,3011.9 L2056.0,3006.7 L2060.9,3001.6 L2065.8,2996.5 L2070.7,2991.4 L2075.6,2986.3 L2081.0,2981.1 L2087.4,2976.0 L2093.8,2970.9 L2100.3,2965.8 L2106.7,2960.6 L2111.5,2955.5 L2116.2,2950.4 L2121.0,2945.3 L2125.7,2940.1 L2130.5,2935.0 L2135.1,2929.9 L2139.4,2924.8 L2143.7,2919.6 L2148.0,2914.5 L2152.3,2909.4 L2153.2,2904.3 L2154.0,2899.2 L2154.9,2894.0 L2155.7,2888.9 L2156.6,2883.8 L2157.5,2878.7 L2158.3,2873.5 L2159.2,2868.4 L2160.0,2863.3 L2160.9,2858.2 L2161.7,2853.0 L2162.6,2847.9 L2163.4,2842.8 L2164.3,2837.7 L2165.2,2832.6 L2166.0,2827.4 L2166.9,2822.3 L2167.7,2817.2 L2168.6,2812.1 L2169.4,2806.9 L2170.4,2801.8 L2171.4,2796.7 L2172.4,2791.6 L2173.4,2786.4 L2174.4,2781.3 L2175.4,2776.2 L2176.4,2771.1 L2177.4,2765.9 L2178.4,2760.8 L2179.4,2755.7 L2180.3,2750.6 L2181.1,2745.5 L2182.0,2740.3 L2182.8,2735.2 L2183.7,2730.1 L2184.5,2725.0 L2185.4,2719.8 L2186.3,2714.7 L2187.1,2709.6 L2188.0,2704.5 L2188.8,2699.3 L2189.7,2694.2 L2190.5,2689.1 L2191.4,2684.0 L2192.2,2678.9 L2193.1,2673.7 L2193.9,2668.6 L2194.8,2663.5 L2195.7,2658.4 L2196.5,2653.2 L2197.1,2648.1 L2197.7,2643.0 L2198.2,2637.9 L2198.8,2632.7 L2199.4,2627.6 L2199.9,2622.5 L2200.5,2617.4 L2201.1,2612.3 L2201.6,2607.1 L2202.2,2602.0 L1866.5,2597.0Z" fill="#e0282a"/></g>
<text x="1892.5" y="2652.0" font-size="41" fill="#fff" >Ref</text>
<rect x="1871.5" y="2602" width="641" height="614.8" fill="none" stroke="#111" stroke-width="2.4"/>
<line x1="1859.5" y1="3216.8" x2="1871.5" y2="3216.8" stroke="#111" stroke-width="2.2"/>
<text x="1849.5" y="3230.3" font-size="37.5" text-anchor="end" fill="#222" >40</text>
<line x1="1865.5" y1="3165.6" x2="1871.5" y2="3165.6" stroke="#111" stroke-width="2.2"/>
<line x1="1859.5" y1="3114.3" x2="1871.5" y2="3114.3" stroke="#111" stroke-width="2.2"/>
<text x="1849.5" y="3127.8" font-size="37.5" text-anchor="end" fill="#222" >60</text>
<line x1="1865.5" y1="3063.1" x2="1871.5" y2="3063.1" stroke="#111" stroke-width="2.2"/>
<line x1="1859.5" y1="3011.9" x2="1871.5" y2="3011.9" stroke="#111" stroke-width="2.2"/>
<text x="1849.5" y="3025.4" font-size="37.5" text-anchor="end" fill="#222" >80</text>
<line x1="1865.5" y1="2960.6" x2="1871.5" y2="2960.6" stroke="#111" stroke-width="2.2"/>
<line x1="1859.5" y1="2909.4" x2="1871.5" y2="2909.4" stroke="#111" stroke-width="2.2"/>
<text x="1849.5" y="2922.9" font-size="37.5" text-anchor="end" fill="#222" >100</text>
<line x1="1865.5" y1="2858.2" x2="1871.5" y2="2858.2" stroke="#111" stroke-width="2.2"/>
<line x1="1859.5" y1="2806.9" x2="1871.5" y2="2806.9" stroke="#111" stroke-width="2.2"/>
<text x="1849.5" y="2820.4" font-size="37.5" text-anchor="end" fill="#222" >120</text>
<line x1="1865.5" y1="2755.7" x2="1871.5" y2="2755.7" stroke="#111" stroke-width="2.2"/>
<line x1="1859.5" y1="2704.5" x2="1871.5" y2="2704.5" stroke="#111" stroke-width="2.2"/>
<text x="1849.5" y="2718.0" font-size="37.5" text-anchor="end" fill="#222" >140</text>
<line x1="1865.5" y1="2653.2" x2="1871.5" y2="2653.2" stroke="#111" stroke-width="2.2"/>
<line x1="1859.5" y1="2602.0" x2="1871.5" y2="2602.0" stroke="#111" stroke-width="2.2"/>
<text x="1849.5" y="2615.5" font-size="37.5" text-anchor="end" fill="#222" >160</text>
<line x1="1871.5" y1="3216.8" x2="1871.5" y2="3228.8" stroke="#111" stroke-width="2.2"/>
<text x="1871.5" y="3268.5" font-size="37.5" text-anchor="middle" fill="#222" >400</text>
<line x1="2014.0" y1="3216.8" x2="2014.0" y2="3224.8" stroke="#111" stroke-width="2.2"/>
<line x1="2156.6" y1="3216.8" x2="2156.6" y2="3228.8" stroke="#111" stroke-width="2.2"/>
<text x="2156.6" y="3268.5" font-size="37.5" text-anchor="middle" fill="#222" >600</text>
<line x1="2299.2" y1="3216.8" x2="2299.2" y2="3224.8" stroke="#111" stroke-width="2.2"/>
<line x1="2441.7" y1="3216.8" x2="2441.7" y2="3228.8" stroke="#111" stroke-width="2.2"/>
<text x="2441.7" y="3268.5" font-size="37.5" text-anchor="middle" fill="#222" >800</text>
<g clip-path="url(#cpF2)"><rect x="2591.3" y="2602" width="641" height="615" fill="#3e52a0"/>
<path d="M2586.3,3221.8 L3278.5,3216.8 L3278.6,3211.7 L3278.7,3206.6 L3278.8,3201.4 L3278.8,3196.3 L3278.9,3191.2 L3279.0,3186.1 L3279.1,3180.9 L3279.2,3175.8 L3279.2,3170.7 L3279.3,3165.6 L3279.4,3160.4 L3279.5,3155.3 L3279.5,3150.2 L3279.6,3145.1 L3279.7,3140.0 L3279.8,3134.8 L3279.9,3129.7 L3279.9,3124.6 L3280.0,3119.5 L3280.1,3114.3 L3280.2,3109.2 L3280.2,3104.1 L3280.3,3099.0 L3280.3,3093.8 L3280.4,3088.7 L3280.5,3083.6 L3280.5,3078.5 L3280.6,3073.3 L3280.7,3068.2 L3280.7,3063.1 L3280.8,3058.0 L3280.9,3052.9 L3280.9,3047.7 L3281.0,3042.6 L3281.0,3037.5 L3281.1,3032.4 L3281.2,3027.2 L3281.2,3022.1 L3281.3,3017.0 L3281.4,3011.9 L3281.4,3006.7 L3281.5,3001.6 L3281.6,2996.5 L3281.6,2991.4 L3281.7,2986.3 L3281.8,2981.1 L3281.8,2976.0 L3281.9,2970.9 L3281.9,2965.8 L3282.0,2960.6 L3282.1,2955.5 L3282.1,2950.4 L3282.2,2945.3 L3282.3,2940.1 L3282.3,2935.0 L3282.4,2929.9 L3282.5,2924.8 L3282.5,2919.6 L3282.6,2914.5 L3282.6,2909.4 L3282.7,2904.3 L3282.8,2899.2 L3282.8,2894.0 L3282.9,2888.9 L3282.9,2883.8 L3283.0,2878.7 L3283.1,2873.5 L3283.1,2868.4 L3283.2,2863.3 L3283.2,2858.2 L3283.3,2853.0 L3283.4,2847.9 L3283.4,2842.8 L3283.5,2837.7 L3283.5,2832.6 L3283.6,2827.4 L3283.6,2822.3 L3283.7,2817.2 L3283.8,2812.1 L3283.8,2806.9 L3283.9,2801.8 L3283.9,2796.7 L3284.0,2791.6 L3284.1,2786.4 L3284.1,2781.3 L3284.2,2776.2 L3284.2,2771.1 L3284.3,2765.9 L3284.4,2760.8 L3284.4,2755.7 L3284.5,2750.6 L3284.5,2745.5 L3284.6,2740.3 L3284.6,2735.2 L3284.7,2730.1 L3284.8,2725.0 L3284.8,2719.8 L3284.9,2714.7 L3284.9,2709.6 L3285.0,2704.5 L3285.1,2699.3 L3285.1,2694.2 L3285.2,2689.1 L3285.2,2684.0 L3285.3,2678.9 L3285.4,2673.7 L3285.4,2668.6 L3285.5,2663.5 L3285.5,2658.4 L3285.6,2653.2 L3285.7,2648.1 L3285.7,2643.0 L3285.8,2637.9 L3285.8,2632.7 L3285.9,2627.6 L3285.9,2622.5 L3286.0,2617.4 L3286.1,2612.3 L3286.1,2607.1 L3286.2,2602.0 L2586.3,2597.0Z" fill="#4154a1"/>
<path d="M2586.3,3221.8 L3253.0,3216.8 L3253.1,3211.7 L3253.2,3206.6 L3253.3,3201.4 L3253.4,3196.3 L3253.5,3191.2 L3253.6,3186.1 L3253.7,3180.9 L3253.8,3175.8 L3253.9,3170.7 L3254.0,3165.6 L3254.1,3160.4 L3254.2,3155.3 L3254.3,3150.2 L3254.4,3145.1 L3254.5,3140.0 L3254.6,3134.8 L3254.7,3129.7 L3254.8,3124.6 L3254.9,3119.5 L3254.9,3114.3 L3255.0,3109.2 L3255.1,3104.1 L3255.2,3099.0 L3255.2,3093.8 L3255.3,3088.7 L3255.4,3083.6 L3255.4,3078.5 L3255.5,3073.3 L3255.6,3068.2 L3255.6,3063.1 L3255.7,3058.0 L3255.8,3052.9 L3255.8,3047.7 L3255.9,3042.6 L3256.0,3037.5 L3256.0,3032.4 L3256.1,3027.2 L3256.2,3022.1 L3256.2,3017.0 L3256.3,3011.9 L3256.4,3006.7 L3256.4,3001.6 L3256.5,2996.5 L3256.6,2991.4 L3256.7,2986.3 L3256.7,2981.1 L3256.8,2976.0 L3256.9,2970.9 L3256.9,2965.8 L3257.0,2960.6 L3257.1,2955.5 L3257.1,2950.4 L3257.2,2945.3 L3257.3,2940.1 L3257.3,2935.0 L3257.4,2929.9 L3257.5,2924.8 L3257.5,2919.6 L3257.6,2914.5 L3257.7,2909.4 L3257.7,2904.3 L3257.8,2899.2 L3257.8,2894.0 L3257.9,2888.9 L3258.0,2883.8 L3258.0,2878.7 L3258.1,2873.5 L3258.1,2868.4 L3258.2,2863.3 L3258.3,2858.2 L3258.3,2853.0 L3258.4,2847.9 L3258.4,2842.8 L3258.5,2837.7 L3258.6,2832.6 L3258.6,2827.4 L3258.7,2822.3 L3258.7,2817.2 L3258.8,2812.1 L3258.8,2806.9 L3258.9,2801.8 L3259.0,2796.7 L3259.0,2791.6 L3259.1,2786.4 L3259.1,2781.3 L3259.2,2776.2 L3259.3,2771.1 L3259.3,2765.9 L3259.4,2760.8 L3259.4,2755.7 L3259.5,2750.6 L3259.5,2745.5 L3259.6,2740.3 L3259.7,2735.2 L3259.7,2730.1 L3259.8,2725.0 L3259.8,2719.8 L3259.9,2714.7 L3260.0,2709.6 L3260.0,2704.5 L3260.1,2699.3 L3260.1,2694.2 L3260.2,2689.1 L3260.3,2684.0 L3260.3,2678.9 L3260.4,2673.7 L3260.4,2668.6 L3260.5,2663.5 L3260.5,2658.4 L3260.6,2653.2 L3260.7,2648.1 L3260.7,2643.0 L3260.8,2637.9 L3260.8,2632.7 L3260.9,2627.6 L3261.0,2622.5 L3261.0,2617.4 L3261.1,2612.3 L3261.1,2607.1 L3261.2,2602.0 L2586.3,2597.0Z" fill="#4456a2"/>
<path d="M2586.3,3221.8 L3227.5,3216.8 L3227.6,3211.7 L3227.7,3206.6 L3227.8,3201.4 L3228.0,3196.3 L3228.1,3191.2 L3228.2,3186.1 L3228.3,3180.9 L3228.4,3175.8 L3228.5,3170.7 L3228.7,3165.6 L3228.8,3160.4 L3228.9,3155.3 L3229.0,3150.2 L3229.1,3145.1 L3229.2,3140.0 L3229.3,3134.8 L3229.5,3129.7 L3229.6,3124.6 L3229.7,3119.5 L3229.8,3114.3 L3229.9,3109.2 L3230.0,3104.1 L3230.0,3099.0 L3230.1,3093.8 L3230.2,3088.7 L3230.2,3083.6 L3230.3,3078.5 L3230.4,3073.3 L3230.5,3068.2 L3230.5,3063.1 L3230.6,3058.0 L3230.7,3052.9 L3230.7,3047.7 L3230.8,3042.6 L3230.9,3037.5 L3231.0,3032.4 L3231.0,3027.2 L3231.1,3022.1 L3231.2,3017.0 L3231.3,3011.9 L3231.3,3006.7 L3231.4,3001.6 L3231.5,2996.5 L3231.5,2991.4 L3231.6,2986.3 L3231.7,2981.1 L3231.8,2976.0 L3231.8,2970.9 L3231.9,2965.8 L3232.0,2960.6 L3232.1,2955.5 L3232.1,2950.4 L3232.2,2945.3 L3232.3,2940.1 L3232.3,2935.0 L3232.4,2929.9 L3232.5,2924.8 L3232.6,2919.6 L3232.6,2914.5 L3232.7,2909.4 L3232.8,2904.3 L3232.8,2899.2 L3232.9,2894.0 L3232.9,2888.9 L3233.0,2883.8 L3233.1,2878.7 L3233.1,2873.5 L3233.2,2868.4 L3233.2,2863.3 L3233.3,2858.2 L3233.3,2853.0 L3233.4,2847.9 L3233.5,2842.8 L3233.5,2837.7 L3233.6,2832.6 L3233.6,2827.4 L3233.7,2822.3 L3233.8,2817.2 L3233.8,2812.1 L3233.9,2806.9 L3233.9,2801.8 L3234.0,2796.7 L3234.0,2791.6 L3234.1,2786.4 L3234.2,2781.3 L3234.2,2776.2 L3234.3,2771.1 L3234.3,2765.9 L3234.4,2760.8 L3234.4,2755.7 L3234.5,2750.6 L3234.6,2745.5 L3234.6,2740.3 L3234.7,2735.2 L3234.7,2730.1 L3234.8,2725.0 L3234.9,2719.8 L3234.9,2714.7 L3235.0,2709.6 L3235.0,2704.5 L3235.1,2699.3 L3235.1,2694.2 L3235.2,2689.1 L3235.3,2684.0 L3235.3,2678.9 L3235.4,2673.7 L3235.4,2668.6 L3235.5,2663.5 L3235.6,2658.4 L3235.6,2653.2 L3235.7,2648.1 L3235.7,2643.0 L3235.8,2637.9 L3235.8,2632.7 L3235.9,2627.6 L3236.0,2622.5 L3236.0,2617.4 L3236.1,2612.3 L3236.1,2607.1 L3236.2,2602.0 L2586.3,2597.0Z" fill="#4859a4"/>
<path d="M2586.3,3221.8 L3202.0,3216.8 L3202.1,3211.7 L3202.3,3206.6 L3202.4,3201.4 L3202.5,3196.3 L3202.7,3191.2 L3202.8,3186.1 L3202.9,3180.9 L3203.1,3175.8 L3203.2,3170.7 L3203.3,3165.6 L3203.5,3160.4 L3203.6,3155.3 L3203.7,3150.2 L3203.9,3145.1 L3204.0,3140.0 L3204.1,3134.8 L3204.3,3129.7 L3204.4,3124.6 L3204.5,3119.5 L3204.7,3114.3 L3204.7,3109.2 L3204.8,3104.1 L3204.9,3099.0 L3205.0,3093.8 L3205.0,3088.7 L3205.1,3083.6 L3205.2,3078.5 L3205.3,3073.3 L3205.4,3068.2 L3205.4,3063.1 L3205.5,3058.0 L3205.6,3052.9 L3205.7,3047.7 L3205.7,3042.6 L3205.8,3037.5 L3205.9,3032.4 L3206.0,3027.2 L3206.0,3022.1 L3206.1,3017.0 L3206.2,3011.9 L3206.3,3006.7 L3206.4,3001.6 L3206.4,2996.5 L3206.5,2991.4 L3206.6,2986.3 L3206.7,2981.1 L3206.7,2976.0 L3206.8,2970.9 L3206.9,2965.8 L3207.0,2960.6 L3207.0,2955.5 L3207.1,2950.4 L3207.2,2945.3 L3207.3,2940.1 L3207.3,2935.0 L3207.4,2929.9 L3207.5,2924.8 L3207.6,2919.6 L3207.7,2914.5 L3207.7,2909.4 L3207.8,2904.3 L3207.8,2899.2 L3207.9,2894.0 L3208.0,2888.9 L3208.0,2883.8 L3208.1,2878.7 L3208.1,2873.5 L3208.2,2868.4 L3208.3,2863.3 L3208.3,2858.2 L3208.4,2853.0 L3208.4,2847.9 L3208.5,2842.8 L3208.5,2837.7 L3208.6,2832.6 L3208.7,2827.4 L3208.7,2822.3 L3208.8,2817.2 L3208.8,2812.1 L3208.9,2806.9 L3208.9,2801.8 L3209.0,2796.7 L3209.1,2791.6 L3209.1,2786.4 L3209.2,2781.3 L3209.2,2776.2 L3209.3,2771.1 L3209.4,2765.9 L3209.4,2760.8 L3209.5,2755.7 L3209.5,2750.6 L3209.6,2745.5 L3209.6,2740.3 L3209.7,2735.2 L3209.8,2730.1 L3209.8,2725.0 L3209.9,2719.8 L3209.9,2714.7 L3210.0,2709.6 L3210.0,2704.5 L3210.1,2699.3 L3210.2,2694.2 L3210.2,2689.1 L3210.3,2684.0 L3210.3,2678.9 L3210.4,2673.7 L3210.5,2668.6 L3210.5,2663.5 L3210.6,2658.4 L3210.6,2653.2 L3210.7,2648.1 L3210.7,2643.0 L3210.8,2637.9 L3210.9,2632.7 L3210.9,2627.6 L3211.0,2622.5 L3211.0,2617.4 L3211.1,2612.3 L3211.1,2607.1 L3211.2,2602.0 L2586.3,2597.0Z" fill="#4e5ea7"/>
<path d="M2586.3,3221.8 L3176.5,3216.8 L3176.6,3211.7 L3176.8,3206.6 L3176.9,3201.4 L3177.1,3196.3 L3177.2,3191.2 L3177.4,3186.1 L3177.5,3180.9 L3177.7,3175.8 L3177.8,3170.7 L3178.0,3165.6 L3178.1,3160.4 L3178.3,3155.3 L3178.4,3150.2 L3178.6,3145.1 L3178.8,3140.0 L3178.9,3134.8 L3179.1,3129.7 L3179.2,3124.6 L3179.4,3119.5 L3179.5,3114.3 L3179.6,3109.2 L3179.7,3104.1 L3179.8,3099.0 L3179.8,3093.8 L3179.9,3088.7 L3180.0,3083.6 L3180.1,3078.5 L3180.2,3073.3 L3180.2,3068.2 L3180.3,3063.1 L3180.4,3058.0 L3180.5,3052.9 L3180.6,3047.7 L3180.7,3042.6 L3180.7,3037.5 L3180.8,3032.4 L3180.9,3027.2 L3181.0,3022.1 L3181.1,3017.0 L3181.1,3011.9 L3181.2,3006.7 L3181.3,3001.6 L3181.4,2996.5 L3181.5,2991.4 L3181.5,2986.3 L3181.6,2981.1 L3181.7,2976.0 L3181.8,2970.9 L3181.9,2965.8 L3182.0,2960.6 L3182.0,2955.5 L3182.1,2950.4 L3182.2,2945.3 L3182.3,2940.1 L3182.4,2935.0 L3182.4,2929.9 L3182.5,2924.8 L3182.6,2919.6 L3182.7,2914.5 L3182.8,2909.4 L3182.8,2904.3 L3182.9,2899.2 L3182.9,2894.0 L3183.0,2888.9 L3183.1,2883.8 L3183.1,2878.7 L3183.2,2873.5 L3183.2,2868.4 L3183.3,2863.3 L3183.3,2858.2 L3183.4,2853.0 L3183.5,2847.9 L3183.5,2842.8 L3183.6,2837.7 L3183.6,2832.6 L3183.7,2827.4 L3183.7,2822.3 L3183.8,2817.2 L3183.9,2812.1 L3183.9,2806.9 L3184.0,2801.8 L3184.0,2796.7 L3184.1,2791.6 L3184.1,2786.4 L3184.2,2781.3 L3184.3,2776.2 L3184.3,2771.1 L3184.4,2765.9 L3184.4,2760.8 L3184.5,2755.7 L3184.5,2750.6 L3184.6,2745.5 L3184.7,2740.3 L3184.7,2735.2 L3184.8,2730.1 L3184.8,2725.0 L3184.9,2719.8 L3184.9,2714.7 L3185.0,2709.6 L3185.1,2704.5 L3185.1,2699.3 L3185.2,2694.2 L3185.2,2689.1 L3185.3,2684.0 L3185.3,2678.9 L3185.4,2673.7 L3185.5,2668.6 L3185.5,2663.5 L3185.6,2658.4 L3185.6,2653.2 L3185.7,2648.1 L3185.7,2643.0 L3185.8,2637.9 L3185.9,2632.7 L3185.9,2627.6 L3186.0,2622.5 L3186.0,2617.4 L3186.1,2612.3 L3186.2,2607.1 L3186.2,2602.0 L2586.3,2597.0Z" fill="#5664ab"/>
<path d="M2586.3,3221.8 L3151.0,3216.8 L3151.1,3211.7 L3151.3,3206.6 L3151.5,3201.4 L3151.6,3196.3 L3151.8,3191.2 L3152.0,3186.1 L3152.1,3180.9 L3152.3,3175.8 L3152.5,3170.7 L3152.7,3165.6 L3152.8,3160.4 L3153.0,3155.3 L3153.2,3150.2 L3153.3,3145.1 L3153.5,3140.0 L3153.7,3134.8 L3153.9,3129.7 L3154.0,3124.6 L3154.2,3119.5 L3154.4,3114.3 L3154.5,3109.2 L3154.5,3104.1 L3154.6,3099.0 L3154.7,3093.8 L3154.8,3088.7 L3154.9,3083.6 L3155.0,3078.5 L3155.1,3073.3 L3155.1,3068.2 L3155.2,3063.1 L3155.3,3058.0 L3155.4,3052.9 L3155.5,3047.7 L3155.6,3042.6 L3155.7,3037.5 L3155.7,3032.4 L3155.8,3027.2 L3155.9,3022.1 L3156.0,3017.0 L3156.1,3011.9 L3156.2,3006.7 L3156.3,3001.6 L3156.3,2996.5 L3156.4,2991.4 L3156.5,2986.3 L3156.6,2981.1 L3156.7,2976.0 L3156.8,2970.9 L3156.9,2965.8 L3156.9,2960.6 L3157.0,2955.5 L3157.1,2950.4 L3157.2,2945.3 L3157.3,2940.1 L3157.4,2935.0 L3157.5,2929.9 L3157.5,2924.8 L3157.6,2919.6 L3157.7,2914.5 L3157.8,2909.4 L3157.9,2904.3 L3157.9,2899.2 L3158.0,2894.0 L3158.0,2888.9 L3158.1,2883.8 L3158.1,2878.7 L3158.2,2873.5 L3158.2,2868.4 L3158.3,2863.3 L3158.4,2858.2 L3158.4,2853.0 L3158.5,2847.9 L3158.5,2842.8 L3158.6,2837.7 L3158.6,2832.6 L3158.7,2827.4 L3158.8,2822.3 L3158.8,2817.2 L3158.9,2812.1 L3158.9,2806.9 L3159.0,2801.8 L3159.0,2796.7 L3159.1,2791.6 L3159.2,2786.4 L3159.2,2781.3 L3159.3,2776.2 L3159.3,2771.1 L3159.4,2765.9 L3159.4,2760.8 L3159.5,2755.7 L3159.6,2750.6 L3159.6,2745.5 L3159.7,2740.3 L3159.7,2735.2 L3159.8,2730.1 L3159.8,2725.0 L3159.9,2719.8 L3160.0,2714.7 L3160.0,2709.6 L3160.1,2704.5 L3160.1,2699.3 L3160.2,2694.2 L3160.2,2689.1 L3160.3,2684.0 L3160.4,2678.9 L3160.4,2673.7 L3160.5,2668.6 L3160.5,2663.5 L3160.6,2658.4 L3160.6,2653.2 L3160.7,2648.1 L3160.8,2643.0 L3160.8,2637.9 L3160.9,2632.7 L3160.9,2627.6 L3161.0,2622.5 L3161.0,2617.4 L3161.1,2612.3 L3161.2,2607.1 L3161.2,2602.0 L2586.3,2597.0Z" fill="#626cb2"/>
<path d="M2586.3,3221.8 L3136.9,3216.8 L3137.5,3211.7 L3138.1,3206.6 L3138.7,3201.4 L3139.3,3196.3 L3139.9,3191.2 L3140.5,3186.1 L3141.1,3180.9 L3141.7,3175.8 L3142.4,3170.7 L3143.0,3165.6 L3143.6,3160.4 L3144.2,3155.3 L3144.8,3150.2 L3145.4,3145.1 L3146.0,3140.0 L3146.3,3134.8 L3146.6,3129.7 L3146.9,3124.6 L3147.2,3119.5 L3147.5,3114.3 L3147.6,3109.2 L3147.8,3104.1 L3147.9,3099.0 L3148.0,3093.8 L3148.1,3088.7 L3148.2,3083.6 L3148.3,3078.5 L3148.4,3073.3 L3148.6,3068.2 L3148.7,3063.1 L3148.8,3058.0 L3148.9,3052.9 L3149.0,3047.7 L3149.1,3042.6 L3149.2,3037.5 L3149.4,3032.4 L3149.5,3027.2 L3149.6,3022.1 L3149.7,3017.0 L3149.8,3011.9 L3149.9,3006.7 L3150.0,3001.6 L3150.1,2996.5 L3150.2,2991.4 L3150.3,2986.3 L3150.4,2981.1 L3150.5,2976.0 L3150.6,2970.9 L3150.7,2965.8 L3150.8,2960.6 L3150.9,2955.5 L3151.0,2950.4 L3151.0,2945.3 L3151.1,2940.1 L3151.2,2935.0 L3151.3,2929.9 L3151.4,2924.8 L3151.5,2919.6 L3151.6,2914.5 L3151.7,2909.4 L3151.8,2904.3 L3151.8,2899.2 L3151.9,2894.0 L3151.9,2888.9 L3152.0,2883.8 L3152.0,2878.7 L3152.1,2873.5 L3152.1,2868.4 L3152.2,2863.3 L3152.2,2858.2 L3152.3,2853.0 L3152.3,2847.9 L3152.4,2842.8 L3152.4,2837.7 L3152.5,2832.6 L3152.5,2827.4 L3152.6,2822.3 L3152.6,2817.2 L3152.7,2812.1 L3152.7,2806.9 L3152.8,2801.8 L3152.9,2796.7 L3152.9,2791.6 L3153.0,2786.4 L3153.1,2781.3 L3153.1,2776.2 L3153.2,2771.1 L3153.3,2765.9 L3153.3,2760.8 L3153.4,2755.7 L3153.5,2750.6 L3153.5,2745.5 L3153.6,2740.3 L3153.7,2735.2 L3153.7,2730.1 L3153.8,2725.0 L3153.9,2719.8 L3153.9,2714.7 L3154.0,2709.6 L3154.1,2704.5 L3154.1,2699.3 L3154.2,2694.2 L3154.2,2689.1 L3154.3,2684.0 L3154.3,2678.9 L3154.4,2673.7 L3154.4,2668.6 L3154.5,2663.5 L3154.5,2658.4 L3154.6,2653.2 L3154.6,2648.1 L3154.7,2643.0 L3154.7,2637.9 L3154.8,2632.7 L3154.8,2627.6 L3154.9,2622.5 L3154.9,2617.4 L3155.0,2612.3 L3155.0,2607.1 L3155.1,2602.0 L2586.3,2597.0Z" fill="#7078ba"/>
<path d="M2586.3,3221.8 L3122.8,3216.8 L3123.9,3211.7 L3124.9,3206.6 L3125.9,3201.4 L3127.0,3196.3 L3128.0,3191.2 L3129.0,3186.1 L3130.1,3180.9 L3131.2,3175.8 L3132.2,3170.7 L3133.3,3165.6 L3134.3,3160.4 L3135.4,3155.3 L3136.4,3150.2 L3137.5,3145.1 L3138.5,3140.0 L3138.9,3134.8 L3139.4,3129.7 L3139.8,3124.6 L3140.3,3119.5 L3140.7,3114.3 L3140.8,3109.2 L3141.0,3104.1 L3141.1,3099.0 L3141.3,3093.8 L3141.4,3088.7 L3141.5,3083.6 L3141.7,3078.5 L3141.8,3073.3 L3142.0,3068.2 L3142.1,3063.1 L3142.3,3058.0 L3142.4,3052.9 L3142.5,3047.7 L3142.7,3042.6 L3142.8,3037.5 L3143.0,3032.4 L3143.1,3027.2 L3143.3,3022.1 L3143.4,3017.0 L3143.5,3011.9 L3143.6,3006.7 L3143.7,3001.6 L3143.9,2996.5 L3144.0,2991.4 L3144.1,2986.3 L3144.2,2981.1 L3144.3,2976.0 L3144.4,2970.9 L3144.5,2965.8 L3144.6,2960.6 L3144.7,2955.5 L3144.8,2950.4 L3144.9,2945.3 L3145.0,2940.1 L3145.1,2935.0 L3145.2,2929.9 L3145.3,2924.8 L3145.4,2919.6 L3145.5,2914.5 L3145.6,2909.4 L3145.7,2904.3 L3145.7,2899.2 L3145.8,2894.0 L3145.8,2888.9 L3145.9,2883.8 L3145.9,2878.7 L3145.9,2873.5 L3146.0,2868.4 L3146.0,2863.3 L3146.1,2858.2 L3146.1,2853.0 L3146.2,2847.9 L3146.2,2842.8 L3146.3,2837.7 L3146.3,2832.6 L3146.3,2827.4 L3146.4,2822.3 L3146.4,2817.2 L3146.5,2812.1 L3146.5,2806.9 L3146.6,2801.8 L3146.7,2796.7 L3146.7,2791.6 L3146.8,2786.4 L3146.9,2781.3 L3147.0,2776.2 L3147.0,2771.1 L3147.1,2765.9 L3147.2,2760.8 L3147.3,2755.7 L3147.4,2750.6 L3147.4,2745.5 L3147.5,2740.3 L3147.6,2735.2 L3147.7,2730.1 L3147.7,2725.0 L3147.8,2719.8 L3147.9,2714.7 L3148.0,2709.6 L3148.0,2704.5 L3148.1,2699.3 L3148.1,2694.2 L3148.2,2689.1 L3148.2,2684.0 L3148.3,2678.9 L3148.3,2673.7 L3148.3,2668.6 L3148.4,2663.5 L3148.4,2658.4 L3148.5,2653.2 L3148.5,2648.1 L3148.6,2643.0 L3148.6,2637.9 L3148.7,2632.7 L3148.7,2627.6 L3148.7,2622.5 L3148.8,2617.4 L3148.8,2612.3 L3148.9,2607.1 L3148.9,2602.0 L2586.3,2597.0Z" fill="#848ac4"/>
<path d="M2586.3,3221.8 L3108.8,3216.8 L3110.2,3211.7 L3111.7,3206.6 L3113.1,3201.4 L3114.6,3196.3 L3116.1,3191.2 L3117.6,3186.1 L3119.1,3180.9 L3120.6,3175.8 L3122.1,3170.7 L3123.6,3165.6 L3125.1,3160.4 L3126.5,3155.3 L3128.0,3150.2 L3129.5,3145.1 L3131.0,3140.0 L3131.6,3134.8 L3132.1,3129.7 L3132.7,3124.6 L3133.3,3119.5 L3133.8,3114.3 L3134.0,3109.2 L3134.2,3104.1 L3134.4,3099.0 L3134.5,3093.8 L3134.7,3088.7 L3134.9,3083.6 L3135.0,3078.5 L3135.2,3073.3 L3135.4,3068.2 L3135.6,3063.1 L3135.7,3058.0 L3135.9,3052.9 L3136.1,3047.7 L3136.2,3042.6 L3136.4,3037.5 L3136.6,3032.4 L3136.8,3027.2 L3136.9,3022.1 L3137.1,3017.0 L3137.3,3011.9 L3137.4,3006.7 L3137.5,3001.6 L3137.6,2996.5 L3137.7,2991.4 L3137.8,2986.3 L3138.0,2981.1 L3138.1,2976.0 L3138.2,2970.9 L3138.3,2965.8 L3138.4,2960.6 L3138.5,2955.5 L3138.6,2950.4 L3138.7,2945.3 L3138.9,2940.1 L3139.0,2935.0 L3139.1,2929.9 L3139.2,2924.8 L3139.3,2919.6 L3139.4,2914.5 L3139.5,2909.4 L3139.6,2904.3 L3139.6,2899.2 L3139.7,2894.0 L3139.7,2888.9 L3139.7,2883.8 L3139.8,2878.7 L3139.8,2873.5 L3139.9,2868.4 L3139.9,2863.3 L3139.9,2858.2 L3140.0,2853.0 L3140.0,2847.9 L3140.0,2842.8 L3140.1,2837.7 L3140.1,2832.6 L3140.2,2827.4 L3140.2,2822.3 L3140.2,2817.2 L3140.3,2812.1 L3140.3,2806.9 L3140.4,2801.8 L3140.5,2796.7 L3140.6,2791.6 L3140.6,2786.4 L3140.7,2781.3 L3140.8,2776.2 L3140.9,2771.1 L3141.0,2765.9 L3141.1,2760.8 L3141.2,2755.7 L3141.2,2750.6 L3141.3,2745.5 L3141.4,2740.3 L3141.5,2735.2 L3141.6,2730.1 L3141.7,2725.0 L3141.8,2719.8 L3141.8,2714.7 L3141.9,2709.6 L3142.0,2704.5 L3142.1,2699.3 L3142.1,2694.2 L3142.1,2689.1 L3142.2,2684.0 L3142.2,2678.9 L3142.2,2673.7 L3142.3,2668.6 L3142.3,2663.5 L3142.4,2658.4 L3142.4,2653.2 L3142.4,2648.1 L3142.5,2643.0 L3142.5,2637.9 L3142.6,2632.7 L3142.6,2627.6 L3142.6,2622.5 L3142.7,2617.4 L3142.7,2612.3 L3142.7,2607.1 L3142.8,2602.0 L2586.3,2597.0Z" fill="#989cd0"/>
<path d="M2586.3,3221.8 L3094.7,3216.8 L3096.6,3211.7 L3098.5,3206.6 L3100.4,3201.4 L3102.3,3196.3 L3104.2,3191.2 L3106.1,3186.1 L3108.1,3180.9 L3110.0,3175.8 L3111.9,3170.7 L3113.9,3165.6 L3115.8,3160.4 L3117.7,3155.3 L3119.6,3150.2 L3121.6,3145.1 L3123.5,3140.0 L3124.2,3134.8 L3124.9,3129.7 L3125.6,3124.6 L3126.3,3119.5 L3127.0,3114.3 L3127.2,3109.2 L3127.4,3104.1 L3127.6,3099.0 L3127.8,3093.8 L3128.0,3088.7 L3128.2,3083.6 L3128.4,3078.5 L3128.6,3073.3 L3128.8,3068.2 L3129.0,3063.1 L3129.2,3058.0 L3129.4,3052.9 L3129.6,3047.7 L3129.8,3042.6 L3130.0,3037.5 L3130.2,3032.4 L3130.4,3027.2 L3130.6,3022.1 L3130.8,3017.0 L3131.0,3011.9 L3131.1,3006.7 L3131.2,3001.6 L3131.4,2996.5 L3131.5,2991.4 L3131.6,2986.3 L3131.7,2981.1 L3131.9,2976.0 L3132.0,2970.9 L3132.1,2965.8 L3132.2,2960.6 L3132.4,2955.5 L3132.5,2950.4 L3132.6,2945.3 L3132.7,2940.1 L3132.8,2935.0 L3133.0,2929.9 L3133.1,2924.8 L3133.2,2919.6 L3133.3,2914.5 L3133.5,2909.4 L3133.5,2904.3 L3133.5,2899.2 L3133.6,2894.0 L3133.6,2888.9 L3133.6,2883.8 L3133.7,2878.7 L3133.7,2873.5 L3133.7,2868.4 L3133.8,2863.3 L3133.8,2858.2 L3133.8,2853.0 L3133.8,2847.9 L3133.9,2842.8 L3133.9,2837.7 L3133.9,2832.6 L3134.0,2827.4 L3134.0,2822.3 L3134.0,2817.2 L3134.1,2812.1 L3134.1,2806.9 L3134.2,2801.8 L3134.3,2796.7 L3134.4,2791.6 L3134.5,2786.4 L3134.6,2781.3 L3134.7,2776.2 L3134.8,2771.1 L3134.9,2765.9 L3135.0,2760.8 L3135.0,2755.7 L3135.1,2750.6 L3135.2,2745.5 L3135.3,2740.3 L3135.4,2735.2 L3135.5,2730.1 L3135.6,2725.0 L3135.7,2719.8 L3135.8,2714.7 L3135.9,2709.6 L3136.0,2704.5 L3136.0,2699.3 L3136.1,2694.2 L3136.1,2689.1 L3136.1,2684.0 L3136.2,2678.9 L3136.2,2673.7 L3136.2,2668.6 L3136.3,2663.5 L3136.3,2658.4 L3136.3,2653.2 L3136.3,2648.1 L3136.4,2643.0 L3136.4,2637.9 L3136.4,2632.7 L3136.5,2627.6 L3136.5,2622.5 L3136.5,2617.4 L3136.6,2612.3 L3136.6,2607.1 L3136.6,2602.0 L2586.3,2597.0Z" fill="#a9abd6"/>
<path d="M2586.3,3221.8 L3080.6,3216.8 L3083.0,3211.7 L3085.3,3206.6 L3087.6,3201.4 L3089.9,3196.3 L3092.3,3191.2 L3094.6,3186.1 L3097.0,3180.9 L3099.4,3175.8 L3101.8,3170.7 L3104.2,3165.6 L3106.6,3160.4 L3108.9,3155.3 L3111.3,3150.2 L3113.6,3145.1 L3116.0,3140.0 L3116.8,3134.8 L3117.7,3129.7 L3118.5,3124.6 L3119.3,3119.5 L3120.2,3114.3 L3120.4,3109.2 L3120.6,3104.1 L3120.8,3099.0 L3121.1,3093.8 L3121.3,3088.7 L3121.5,3083.6 L3121.8,3078.5 L3122.0,3073.3 L3122.2,3068.2 L3122.4,3063.1 L3122.7,3058.0 L3122.9,3052.9 L3123.1,3047.7 L3123.4,3042.6 L3123.6,3037.5 L3123.8,3032.4 L3124.0,3027.2 L3124.3,3022.1 L3124.5,3017.0 L3124.7,3011.9 L3124.9,3006.7 L3125.0,3001.6 L3125.1,2996.5 L3125.3,2991.4 L3125.4,2986.3 L3125.5,2981.1 L3125.7,2976.0 L3125.8,2970.9 L3125.9,2965.8 L3126.1,2960.6 L3126.2,2955.5 L3126.3,2950.4 L3126.5,2945.3 L3126.6,2940.1 L3126.7,2935.0 L3126.9,2929.9 L3127.0,2924.8 L3127.1,2919.6 L3127.2,2914.5 L3127.4,2909.4 L3127.4,2904.3 L3127.4,2899.2 L3127.5,2894.0 L3127.5,2888.9 L3127.5,2883.8 L3127.5,2878.7 L3127.6,2873.5 L3127.6,2868.4 L3127.6,2863.3 L3127.6,2858.2 L3127.7,2853.0 L3127.7,2847.9 L3127.7,2842.8 L3127.7,2837.7 L3127.8,2832.6 L3127.8,2827.4 L3127.8,2822.3 L3127.8,2817.2 L3127.9,2812.1 L3127.9,2806.9 L3128.0,2801.8 L3128.1,2796.7 L3128.2,2791.6 L3128.3,2786.4 L3128.4,2781.3 L3128.5,2776.2 L3128.6,2771.1 L3128.7,2765.9 L3128.8,2760.8 L3128.9,2755.7 L3129.0,2750.6 L3129.1,2745.5 L3129.2,2740.3 L3129.4,2735.2 L3129.5,2730.1 L3129.6,2725.0 L3129.7,2719.8 L3129.8,2714.7 L3129.9,2709.6 L3130.0,2704.5 L3130.0,2699.3 L3130.0,2694.2 L3130.1,2689.1 L3130.1,2684.0 L3130.1,2678.9 L3130.1,2673.7 L3130.2,2668.6 L3130.2,2663.5 L3130.2,2658.4 L3130.2,2653.2 L3130.3,2648.1 L3130.3,2643.0 L3130.3,2637.9 L3130.3,2632.7 L3130.4,2627.6 L3130.4,2622.5 L3130.4,2617.4 L3130.4,2612.3 L3130.5,2607.1 L3130.5,2602.0 L2586.3,2597.0Z" fill="#bdbddf"/>
<path d="M2586.3,3221.8 L3066.6,3216.8 L3069.3,3211.7 L3072.1,3206.6 L3074.8,3201.4 L3077.6,3196.3 L3080.3,3191.2 L3083.2,3186.1 L3086.0,3180.9 L3088.8,3175.8 L3091.7,3170.7 L3094.5,3165.6 L3097.3,3160.4 L3100.1,3155.3 L3102.9,3150.2 L3105.7,3145.1 L3108.5,3140.0 L3109.4,3134.8 L3110.4,3129.7 L3111.4,3124.6 L3112.3,3119.5 L3113.3,3114.3 L3113.6,3109.2 L3113.8,3104.1 L3114.1,3099.0 L3114.3,3093.8 L3114.6,3088.7 L3114.9,3083.6 L3115.1,3078.5 L3115.4,3073.3 L3115.6,3068.2 L3115.9,3063.1 L3116.1,3058.0 L3116.4,3052.9 L3116.7,3047.7 L3116.9,3042.6 L3117.2,3037.5 L3117.4,3032.4 L3117.7,3027.2 L3117.9,3022.1 L3118.2,3017.0 L3118.4,3011.9 L3118.6,3006.7 L3118.7,3001.6 L3118.9,2996.5 L3119.0,2991.4 L3119.2,2986.3 L3119.3,2981.1 L3119.4,2976.0 L3119.6,2970.9 L3119.7,2965.8 L3119.9,2960.6 L3120.0,2955.5 L3120.2,2950.4 L3120.3,2945.3 L3120.4,2940.1 L3120.6,2935.0 L3120.7,2929.9 L3120.9,2924.8 L3121.0,2919.6 L3121.2,2914.5 L3121.3,2909.4 L3121.3,2904.3 L3121.3,2899.2 L3121.4,2894.0 L3121.4,2888.9 L3121.4,2883.8 L3121.4,2878.7 L3121.4,2873.5 L3121.5,2868.4 L3121.5,2863.3 L3121.5,2858.2 L3121.5,2853.0 L3121.5,2847.9 L3121.5,2842.8 L3121.6,2837.7 L3121.6,2832.6 L3121.6,2827.4 L3121.6,2822.3 L3121.6,2817.2 L3121.7,2812.1 L3121.7,2806.9 L3121.8,2801.8 L3121.9,2796.7 L3122.0,2791.6 L3122.1,2786.4 L3122.3,2781.3 L3122.4,2776.2 L3122.5,2771.1 L3122.6,2765.9 L3122.7,2760.8 L3122.8,2755.7 L3122.9,2750.6 L3123.0,2745.5 L3123.2,2740.3 L3123.3,2735.2 L3123.4,2730.1 L3123.5,2725.0 L3123.6,2719.8 L3123.7,2714.7 L3123.8,2709.6 L3124.0,2704.5 L3124.0,2699.3 L3124.0,2694.2 L3124.0,2689.1 L3124.0,2684.0 L3124.1,2678.9 L3124.1,2673.7 L3124.1,2668.6 L3124.1,2663.5 L3124.1,2658.4 L3124.2,2653.2 L3124.2,2648.1 L3124.2,2643.0 L3124.2,2637.9 L3124.2,2632.7 L3124.2,2627.6 L3124.3,2622.5 L3124.3,2617.4 L3124.3,2612.3 L3124.3,2607.1 L3124.3,2602.0 L2586.3,2597.0Z" fill="#cfcfe8"/>
<path d="M2586.3,3221.8 L3052.5,3216.8 L3055.7,3211.7 L3058.9,3206.6 L3062.1,3201.4 L3065.2,3196.3 L3068.4,3191.2 L3071.7,3186.1 L3075.0,3180.9 L3078.3,3175.8 L3081.5,3170.7 L3084.8,3165.6 L3088.0,3160.4 L3091.3,3155.3 L3094.5,3150.2 L3097.7,3145.1 L3101.0,3140.0 L3102.1,3134.8 L3103.2,3129.7 L3104.3,3124.6 L3105.4,3119.5 L3106.5,3114.3 L3106.8,3109.2 L3107.0,3104.1 L3107.3,3099.0 L3107.6,3093.8 L3107.9,3088.7 L3108.2,3083.6 L3108.5,3078.5 L3108.8,3073.3 L3109.0,3068.2 L3109.3,3063.1 L3109.6,3058.0 L3109.9,3052.9 L3110.2,3047.7 L3110.5,3042.6 L3110.8,3037.5 L3111.0,3032.4 L3111.3,3027.2 L3111.6,3022.1 L3111.9,3017.0 L3112.2,3011.9 L3112.3,3006.7 L3112.5,3001.6 L3112.6,2996.5 L3112.8,2991.4 L3112.9,2986.3 L3113.1,2981.1 L3113.2,2976.0 L3113.4,2970.9 L3113.5,2965.8 L3113.7,2960.6 L3113.9,2955.5 L3114.0,2950.4 L3114.2,2945.3 L3114.3,2940.1 L3114.5,2935.0 L3114.6,2929.9 L3114.8,2924.8 L3114.9,2919.6 L3115.1,2914.5 L3115.2,2909.4 L3115.2,2904.3 L3115.2,2899.2 L3115.3,2894.0 L3115.3,2888.9 L3115.3,2883.8 L3115.3,2878.7 L3115.3,2873.5 L3115.3,2868.4 L3115.3,2863.3 L3115.3,2858.2 L3115.4,2853.0 L3115.4,2847.9 L3115.4,2842.8 L3115.4,2837.7 L3115.4,2832.6 L3115.4,2827.4 L3115.4,2822.3 L3115.4,2817.2 L3115.5,2812.1 L3115.5,2806.9 L3115.6,2801.8 L3115.7,2796.7 L3115.8,2791.6 L3116.0,2786.4 L3116.1,2781.3 L3116.2,2776.2 L3116.3,2771.1 L3116.5,2765.9 L3116.6,2760.8 L3116.7,2755.7 L3116.8,2750.6 L3117.0,2745.5 L3117.1,2740.3 L3117.2,2735.2 L3117.3,2730.1 L3117.4,2725.0 L3117.6,2719.8 L3117.7,2714.7 L3117.8,2709.6 L3117.9,2704.5 L3118.0,2699.3 L3118.0,2694.2 L3118.0,2689.1 L3118.0,2684.0 L3118.0,2678.9 L3118.0,2673.7 L3118.0,2668.6 L3118.0,2663.5 L3118.1,2658.4 L3118.1,2653.2 L3118.1,2648.1 L3118.1,2643.0 L3118.1,2637.9 L3118.1,2632.7 L3118.1,2627.6 L3118.1,2622.5 L3118.2,2617.4 L3118.2,2612.3 L3118.2,2607.1 L3118.2,2602.0 L2586.3,2597.0Z" fill="#dedef0"/>
<path d="M2586.3,3221.8 L3038.4,3216.8 L3042.0,3211.7 L3045.7,3206.6 L3049.3,3201.4 L3052.9,3196.3 L3056.5,3191.2 L3060.2,3186.1 L3064.0,3180.9 L3067.7,3175.8 L3071.4,3170.7 L3075.1,3165.6 L3078.8,3160.4 L3082.5,3155.3 L3086.1,3150.2 L3089.8,3145.1 L3093.5,3140.0 L3094.7,3134.8 L3095.9,3129.7 L3097.2,3124.6 L3098.4,3119.5 L3099.6,3114.3 L3099.9,3109.2 L3100.3,3104.1 L3100.6,3099.0 L3100.9,3093.8 L3101.2,3088.7 L3101.5,3083.6 L3101.8,3078.5 L3102.1,3073.3 L3102.5,3068.2 L3102.8,3063.1 L3103.1,3058.0 L3103.4,3052.9 L3103.7,3047.7 L3104.0,3042.6 L3104.3,3037.5 L3104.7,3032.4 L3105.0,3027.2 L3105.3,3022.1 L3105.6,3017.0 L3105.9,3011.9 L3106.1,3006.7 L3106.2,3001.6 L3106.4,2996.5 L3106.6,2991.4 L3106.7,2986.3 L3106.9,2981.1 L3107.0,2976.0 L3107.2,2970.9 L3107.4,2965.8 L3107.5,2960.6 L3107.7,2955.5 L3107.8,2950.4 L3108.0,2945.3 L3108.2,2940.1 L3108.3,2935.0 L3108.5,2929.9 L3108.7,2924.8 L3108.8,2919.6 L3109.0,2914.5 L3109.1,2909.4 L3109.1,2904.3 L3109.1,2899.2 L3109.2,2894.0 L3109.2,2888.9 L3109.2,2883.8 L3109.2,2878.7 L3109.2,2873.5 L3109.2,2868.4 L3109.2,2863.3 L3109.2,2858.2 L3109.2,2853.0 L3109.2,2847.9 L3109.2,2842.8 L3109.2,2837.7 L3109.2,2832.6 L3109.2,2827.4 L3109.2,2822.3 L3109.3,2817.2 L3109.3,2812.1 L3109.3,2806.9 L3109.4,2801.8 L3109.5,2796.7 L3109.7,2791.6 L3109.8,2786.4 L3109.9,2781.3 L3110.1,2776.2 L3110.2,2771.1 L3110.3,2765.9 L3110.5,2760.8 L3110.6,2755.7 L3110.7,2750.6 L3110.9,2745.5 L3111.0,2740.3 L3111.1,2735.2 L3111.3,2730.1 L3111.4,2725.0 L3111.5,2719.8 L3111.7,2714.7 L3111.8,2709.6 L3111.9,2704.5 L3111.9,2699.3 L3111.9,2694.2 L3111.9,2689.1 L3111.9,2684.0 L3112.0,2678.9 L3112.0,2673.7 L3112.0,2668.6 L3112.0,2663.5 L3112.0,2658.4 L3112.0,2653.2 L3112.0,2648.1 L3112.0,2643.0 L3112.0,2637.9 L3112.0,2632.7 L3112.0,2627.6 L3112.0,2622.5 L3112.0,2617.4 L3112.0,2612.3 L3112.0,2607.1 L3112.1,2602.0 L2586.3,2597.0Z" fill="#f0f0f8"/>
<path d="M2586.3,3221.8 L3024.4,3216.8 L3028.4,3211.7 L3032.5,3206.6 L3036.5,3201.4 L3040.6,3196.3 L3044.6,3191.2 L3048.8,3186.1 L3052.9,3180.9 L3057.1,3175.8 L3061.3,3170.7 L3065.4,3165.6 L3069.5,3160.4 L3073.6,3155.3 L3077.7,3150.2 L3081.8,3145.1 L3085.9,3140.0 L3087.3,3134.8 L3088.7,3129.7 L3090.1,3124.6 L3091.4,3119.5 L3092.8,3114.3 L3093.1,3109.2 L3093.5,3104.1 L3093.8,3099.0 L3094.2,3093.8 L3094.5,3088.7 L3094.8,3083.6 L3095.2,3078.5 L3095.5,3073.3 L3095.9,3068.2 L3096.2,3063.1 L3096.6,3058.0 L3096.9,3052.9 L3097.2,3047.7 L3097.6,3042.6 L3097.9,3037.5 L3098.3,3032.4 L3098.6,3027.2 L3098.9,3022.1 L3099.3,3017.0 L3099.6,3011.9 L3099.8,3006.7 L3100.0,3001.6 L3100.1,2996.5 L3100.3,2991.4 L3100.5,2986.3 L3100.7,2981.1 L3100.8,2976.0 L3101.0,2970.9 L3101.2,2965.8 L3101.3,2960.6 L3101.5,2955.5 L3101.7,2950.4 L3101.9,2945.3 L3102.0,2940.1 L3102.2,2935.0 L3102.4,2929.9 L3102.5,2924.8 L3102.7,2919.6 L3102.9,2914.5 L3103.1,2909.4 L3103.1,2904.3 L3103.1,2899.2 L3103.1,2894.0 L3103.1,2888.9 L3103.1,2883.8 L3103.1,2878.7 L3103.1,2873.5 L3103.1,2868.4 L3103.1,2863.3 L3103.1,2858.2 L3103.1,2853.0 L3103.1,2847.9 L3103.1,2842.8 L3103.1,2837.7 L3103.1,2832.6 L3103.1,2827.4 L3103.1,2822.3 L3103.1,2817.2 L3103.1,2812.1 L3103.1,2806.9 L3103.2,2801.8 L3103.3,2796.7 L3103.5,2791.6 L3103.6,2786.4 L3103.8,2781.3 L3103.9,2776.2 L3104.1,2771.1 L3104.2,2765.9 L3104.3,2760.8 L3104.5,2755.7 L3104.6,2750.6 L3104.8,2745.5 L3104.9,2740.3 L3105.1,2735.2 L3105.2,2730.1 L3105.3,2725.0 L3105.5,2719.8 L3105.6,2714.7 L3105.8,2709.6 L3105.9,2704.5 L3105.9,2699.3 L3105.9,2694.2 L3105.9,2689.1 L3105.9,2684.0 L3105.9,2678.9 L3105.9,2673.7 L3105.9,2668.6 L3105.9,2663.5 L3105.9,2658.4 L3105.9,2653.2 L3105.9,2648.1 L3105.9,2643.0 L3105.9,2637.9 L3105.9,2632.7 L3105.9,2627.6 L3105.9,2622.5 L3105.9,2617.4 L3105.9,2612.3 L3105.9,2607.1 L3105.9,2602.0 L2586.3,2597.0Z" fill="#ffffff"/>
<path d="M2586.3,3221.8 L3007.7,3216.8 L3011.5,3211.7 L3015.3,3206.6 L3019.1,3201.4 L3022.9,3196.3 L3026.6,3191.2 L3030.5,3186.1 L3034.4,3180.9 L3038.3,3175.8 L3042.2,3170.7 L3046.0,3165.6 L3049.9,3160.4 L3053.7,3155.3 L3057.5,3150.2 L3061.3,3145.1 L3065.1,3140.0 L3066.6,3134.8 L3068.1,3129.7 L3069.5,3124.6 L3071.0,3119.5 L3072.4,3114.3 L3072.7,3109.2 L3073.1,3104.1 L3073.4,3099.0 L3073.7,3093.8 L3074.1,3088.7 L3074.4,3083.6 L3074.8,3078.5 L3075.1,3073.3 L3075.4,3068.2 L3075.8,3063.1 L3076.1,3058.0 L3076.4,3052.9 L3076.8,3047.7 L3077.1,3042.6 L3077.4,3037.5 L3077.8,3032.4 L3078.1,3027.2 L3078.4,3022.1 L3078.8,3017.0 L3079.1,3011.9 L3079.3,3006.7 L3079.4,3001.6 L3079.6,2996.5 L3079.8,2991.4 L3079.9,2986.3 L3080.1,2981.1 L3080.3,2976.0 L3080.4,2970.9 L3080.6,2965.8 L3080.8,2960.6 L3080.9,2955.5 L3081.1,2950.4 L3081.3,2945.3 L3081.4,2940.1 L3081.6,2935.0 L3081.8,2929.9 L3081.9,2924.8 L3082.1,2919.6 L3082.3,2914.5 L3082.4,2909.4 L3082.4,2904.3 L3082.4,2899.2 L3082.4,2894.0 L3082.4,2888.9 L3082.4,2883.8 L3082.4,2878.7 L3082.4,2873.5 L3082.4,2868.4 L3082.4,2863.3 L3082.3,2858.2 L3082.3,2853.0 L3082.3,2847.9 L3082.3,2842.8 L3082.3,2837.7 L3082.3,2832.6 L3082.3,2827.4 L3082.3,2822.3 L3082.3,2817.2 L3082.3,2812.1 L3082.2,2806.9 L3082.4,2801.8 L3082.5,2796.7 L3082.7,2791.6 L3082.8,2786.4 L3083.0,2781.3 L3083.1,2776.2 L3083.3,2771.1 L3083.4,2765.9 L3083.6,2760.8 L3083.7,2755.7 L3083.9,2750.6 L3084.0,2745.5 L3084.2,2740.3 L3084.3,2735.2 L3084.5,2730.1 L3084.6,2725.0 L3084.8,2719.8 L3084.9,2714.7 L3085.0,2709.6 L3085.2,2704.5 L3085.2,2699.3 L3085.2,2694.2 L3085.3,2689.1 L3085.3,2684.0 L3085.3,2678.9 L3085.3,2673.7 L3085.4,2668.6 L3085.4,2663.5 L3085.4,2658.4 L3085.4,2653.2 L3085.5,2648.1 L3085.5,2643.0 L3085.5,2637.9 L3085.5,2632.7 L3085.6,2627.6 L3085.6,2622.5 L3085.6,2617.4 L3085.6,2612.3 L3085.7,2607.1 L3085.7,2602.0 L2586.3,2597.0Z" fill="#faf8dc"/>
<path d="M2586.3,3221.8 L2991.1,3216.8 L2994.6,3211.7 L2998.1,3206.6 L3001.7,3201.4 L3005.2,3196.3 L3008.7,3191.2 L3012.3,3186.1 L3015.9,3180.9 L3019.5,3175.8 L3023.1,3170.7 L3026.7,3165.6 L3030.2,3160.4 L3033.7,3155.3 L3037.3,3150.2 L3040.8,3145.1 L3044.3,3140.0 L3045.9,3134.8 L3047.4,3129.7 L3049.0,3124.6 L3050.5,3119.5 L3052.0,3114.3 L3052.4,3109.2 L3052.7,3104.1 L3053.0,3099.0 L3053.3,3093.8 L3053.7,3088.7 L3054.0,3083.6 L3054.3,3078.5 L3054.6,3073.3 L3055.0,3068.2 L3055.3,3063.1 L3055.6,3058.0 L3055.9,3052.9 L3056.3,3047.7 L3056.6,3042.6 L3056.9,3037.5 L3057.3,3032.4 L3057.6,3027.2 L3057.9,3022.1 L3058.2,3017.0 L3058.6,3011.9 L3058.7,3006.7 L3058.9,3001.6 L3059.1,2996.5 L3059.2,2991.4 L3059.4,2986.3 L3059.5,2981.1 L3059.7,2976.0 L3059.9,2970.9 L3060.0,2965.8 L3060.2,2960.6 L3060.4,2955.5 L3060.5,2950.4 L3060.7,2945.3 L3060.9,2940.1 L3061.0,2935.0 L3061.2,2929.9 L3061.3,2924.8 L3061.5,2919.6 L3061.7,2914.5 L3061.8,2909.4 L3061.8,2904.3 L3061.8,2899.2 L3061.8,2894.0 L3061.8,2888.9 L3061.7,2883.8 L3061.7,2878.7 L3061.7,2873.5 L3061.7,2868.4 L3061.7,2863.3 L3061.6,2858.2 L3061.6,2853.0 L3061.6,2847.9 L3061.6,2842.8 L3061.6,2837.7 L3061.5,2832.6 L3061.5,2827.4 L3061.5,2822.3 L3061.5,2817.2 L3061.5,2812.1 L3061.4,2806.9 L3061.6,2801.8 L3061.7,2796.7 L3061.9,2791.6 L3062.1,2786.4 L3062.2,2781.3 L3062.4,2776.2 L3062.5,2771.1 L3062.7,2765.9 L3062.8,2760.8 L3063.0,2755.7 L3063.1,2750.6 L3063.3,2745.5 L3063.4,2740.3 L3063.6,2735.2 L3063.7,2730.1 L3063.9,2725.0 L3064.0,2719.8 L3064.2,2714.7 L3064.3,2709.6 L3064.5,2704.5 L3064.5,2699.3 L3064.6,2694.2 L3064.6,2689.1 L3064.7,2684.0 L3064.7,2678.9 L3064.8,2673.7 L3064.8,2668.6 L3064.9,2663.5 L3064.9,2658.4 L3065.0,2653.2 L3065.0,2648.1 L3065.1,2643.0 L3065.1,2637.9 L3065.2,2632.7 L3065.2,2627.6 L3065.3,2622.5 L3065.3,2617.4 L3065.4,2612.3 L3065.4,2607.1 L3065.5,2602.0 L2586.3,2597.0Z" fill="#f5f1b4"/>
<path d="M2586.3,3221.8 L2974.5,3216.8 L2977.7,3211.7 L2981.0,3206.6 L2984.2,3201.4 L2987.5,3196.3 L2990.7,3191.2 L2994.0,3186.1 L2997.3,3180.9 L3000.7,3175.8 L3004.0,3170.7 L3007.3,3165.6 L3010.5,3160.4 L3013.8,3155.3 L3017.0,3150.2 L3020.3,3145.1 L3023.5,3140.0 L3025.2,3134.8 L3026.8,3129.7 L3028.4,3124.6 L3030.0,3119.5 L3031.6,3114.3 L3032.0,3109.2 L3032.3,3104.1 L3032.6,3099.0 L3032.9,3093.8 L3033.2,3088.7 L3033.6,3083.6 L3033.9,3078.5 L3034.2,3073.3 L3034.5,3068.2 L3034.8,3063.1 L3035.2,3058.0 L3035.5,3052.9 L3035.8,3047.7 L3036.1,3042.6 L3036.4,3037.5 L3036.8,3032.4 L3037.1,3027.2 L3037.4,3022.1 L3037.7,3017.0 L3038.0,3011.9 L3038.2,3006.7 L3038.3,3001.6 L3038.5,2996.5 L3038.7,2991.4 L3038.8,2986.3 L3039.0,2981.1 L3039.1,2976.0 L3039.3,2970.9 L3039.5,2965.8 L3039.6,2960.6 L3039.8,2955.5 L3039.9,2950.4 L3040.1,2945.3 L3040.3,2940.1 L3040.4,2935.0 L3040.6,2929.9 L3040.7,2924.8 L3040.9,2919.6 L3041.1,2914.5 L3041.2,2909.4 L3041.2,2904.3 L3041.2,2899.2 L3041.1,2894.0 L3041.1,2888.9 L3041.1,2883.8 L3041.0,2878.7 L3041.0,2873.5 L3041.0,2868.4 L3041.0,2863.3 L3040.9,2858.2 L3040.9,2853.0 L3040.9,2847.9 L3040.8,2842.8 L3040.8,2837.7 L3040.8,2832.6 L3040.8,2827.4 L3040.7,2822.3 L3040.7,2817.2 L3040.7,2812.1 L3040.6,2806.9 L3040.8,2801.8 L3041.0,2796.7 L3041.1,2791.6 L3041.3,2786.4 L3041.4,2781.3 L3041.6,2776.2 L3041.7,2771.1 L3041.9,2765.9 L3042.1,2760.8 L3042.2,2755.7 L3042.4,2750.6 L3042.5,2745.5 L3042.7,2740.3 L3042.8,2735.2 L3043.0,2730.1 L3043.2,2725.0 L3043.3,2719.8 L3043.5,2714.7 L3043.6,2709.6 L3043.8,2704.5 L3043.9,2699.3 L3043.9,2694.2 L3044.0,2689.1 L3044.1,2684.0 L3044.1,2678.9 L3044.2,2673.7 L3044.3,2668.6 L3044.4,2663.5 L3044.4,2658.4 L3044.5,2653.2 L3044.6,2648.1 L3044.6,2643.0 L3044.7,2637.9 L3044.8,2632.7 L3044.9,2627.6 L3044.9,2622.5 L3045.0,2617.4 L3045.1,2612.3 L3045.2,2607.1 L3045.2,2602.0 L2586.3,2597.0Z" fill="#f1ed8c"/>
<path d="M2586.3,3221.8 L2957.9,3216.8 L2960.8,3211.7 L2963.8,3206.6 L2966.8,3201.4 L2969.8,3196.3 L2972.8,3191.2 L2975.8,3186.1 L2978.8,3180.9 L2981.8,3175.8 L2984.9,3170.7 L2987.9,3165.6 L2990.9,3160.4 L2993.8,3155.3 L2996.8,3150.2 L2999.8,3145.1 L3002.7,3140.0 L3004.4,3134.8 L3006.1,3129.7 L3007.9,3124.6 L3009.6,3119.5 L3011.3,3114.3 L3011.6,3109.2 L3011.9,3104.1 L3012.2,3099.0 L3012.5,3093.8 L3012.8,3088.7 L3013.1,3083.6 L3013.4,3078.5 L3013.8,3073.3 L3014.1,3068.2 L3014.4,3063.1 L3014.7,3058.0 L3015.0,3052.9 L3015.3,3047.7 L3015.6,3042.6 L3015.9,3037.5 L3016.2,3032.4 L3016.6,3027.2 L3016.9,3022.1 L3017.2,3017.0 L3017.5,3011.9 L3017.6,3006.7 L3017.8,3001.6 L3018.0,2996.5 L3018.1,2991.4 L3018.3,2986.3 L3018.4,2981.1 L3018.6,2976.0 L3018.7,2970.9 L3018.9,2965.8 L3019.1,2960.6 L3019.2,2955.5 L3019.4,2950.4 L3019.5,2945.3 L3019.7,2940.1 L3019.8,2935.0 L3020.0,2929.9 L3020.1,2924.8 L3020.3,2919.6 L3020.5,2914.5 L3020.6,2909.4 L3020.6,2904.3 L3020.5,2899.2 L3020.5,2894.0 L3020.5,2888.9 L3020.4,2883.8 L3020.4,2878.7 L3020.3,2873.5 L3020.3,2868.4 L3020.3,2863.3 L3020.2,2858.2 L3020.2,2853.0 L3020.1,2847.9 L3020.1,2842.8 L3020.1,2837.7 L3020.0,2832.6 L3020.0,2827.4 L3020.0,2822.3 L3019.9,2817.2 L3019.9,2812.1 L3019.8,2806.9 L3020.0,2801.8 L3020.2,2796.7 L3020.3,2791.6 L3020.5,2786.4 L3020.6,2781.3 L3020.8,2776.2 L3021.0,2771.1 L3021.1,2765.9 L3021.3,2760.8 L3021.5,2755.7 L3021.6,2750.6 L3021.8,2745.5 L3021.9,2740.3 L3022.1,2735.2 L3022.3,2730.1 L3022.4,2725.0 L3022.6,2719.8 L3022.7,2714.7 L3022.9,2709.6 L3023.1,2704.5 L3023.2,2699.3 L3023.3,2694.2 L3023.4,2689.1 L3023.5,2684.0 L3023.6,2678.9 L3023.7,2673.7 L3023.7,2668.6 L3023.8,2663.5 L3023.9,2658.4 L3024.0,2653.2 L3024.1,2648.1 L3024.2,2643.0 L3024.3,2637.9 L3024.4,2632.7 L3024.5,2627.6 L3024.6,2622.5 L3024.7,2617.4 L3024.8,2612.3 L3024.9,2607.1 L3025.0,2602.0 L2586.3,2597.0Z" fill="#efea6a"/>
<path d="M2586.3,3221.8 L2941.2,3216.8 L2944.0,3211.7 L2946.7,3206.6 L2949.4,3201.4 L2952.1,3196.3 L2954.8,3191.2 L2957.5,3186.1 L2960.3,3180.9 L2963.0,3175.8 L2965.8,3170.7 L2968.5,3165.6 L2971.2,3160.4 L2973.9,3155.3 L2976.6,3150.2 L2979.2,3145.1 L2981.9,3140.0 L2983.7,3134.8 L2985.5,3129.7 L2987.3,3124.6 L2989.1,3119.5 L2990.9,3114.3 L2991.2,3109.2 L2991.5,3104.1 L2991.8,3099.0 L2992.1,3093.8 L2992.4,3088.7 L2992.7,3083.6 L2993.0,3078.5 L2993.3,3073.3 L2993.6,3068.2 L2993.9,3063.1 L2994.2,3058.0 L2994.5,3052.9 L2994.8,3047.7 L2995.1,3042.6 L2995.4,3037.5 L2995.7,3032.4 L2996.0,3027.2 L2996.4,3022.1 L2996.7,3017.0 L2997.0,3011.9 L2997.1,3006.7 L2997.3,3001.6 L2997.4,2996.5 L2997.6,2991.4 L2997.7,2986.3 L2997.9,2981.1 L2998.0,2976.0 L2998.2,2970.9 L2998.3,2965.8 L2998.5,2960.6 L2998.6,2955.5 L2998.8,2950.4 L2998.9,2945.3 L2999.1,2940.1 L2999.2,2935.0 L2999.4,2929.9 L2999.5,2924.8 L2999.7,2919.6 L2999.8,2914.5 L3000.0,2909.4 L2999.9,2904.3 L2999.9,2899.2 L2999.9,2894.0 L2999.8,2888.9 L2999.8,2883.8 L2999.7,2878.7 L2999.7,2873.5 L2999.6,2868.4 L2999.6,2863.3 L2999.5,2858.2 L2999.5,2853.0 L2999.4,2847.9 L2999.4,2842.8 L2999.3,2837.7 L2999.3,2832.6 L2999.2,2827.4 L2999.2,2822.3 L2999.1,2817.2 L2999.1,2812.1 L2999.0,2806.9 L2999.2,2801.8 L2999.4,2796.7 L2999.5,2791.6 L2999.7,2786.4 L2999.9,2781.3 L3000.0,2776.2 L3000.2,2771.1 L3000.4,2765.9 L3000.5,2760.8 L3000.7,2755.7 L3000.9,2750.6 L3001.0,2745.5 L3001.2,2740.3 L3001.4,2735.2 L3001.5,2730.1 L3001.7,2725.0 L3001.9,2719.8 L3002.0,2714.7 L3002.2,2709.6 L3002.4,2704.5 L3002.5,2699.3 L3002.6,2694.2 L3002.7,2689.1 L3002.8,2684.0 L3003.0,2678.9 L3003.1,2673.7 L3003.2,2668.6 L3003.3,2663.5 L3003.4,2658.4 L3003.6,2653.2 L3003.7,2648.1 L3003.8,2643.0 L3003.9,2637.9 L3004.0,2632.7 L3004.2,2627.6 L3004.3,2622.5 L3004.4,2617.4 L3004.5,2612.3 L3004.7,2607.1 L3004.8,2602.0 L2586.3,2597.0Z" fill="#eee640"/>
<path d="M2586.3,3221.8 L2924.6,3216.8 L2927.1,3211.7 L2929.5,3206.6 L2931.9,3201.4 L2934.4,3196.3 L2936.8,3191.2 L2939.3,3186.1 L2941.8,3180.9 L2944.2,3175.8 L2946.7,3170.7 L2949.1,3165.6 L2951.5,3160.4 L2953.9,3155.3 L2956.3,3150.2 L2958.7,3145.1 L2961.1,3140.0 L2963.0,3134.8 L2964.9,3129.7 L2966.8,3124.6 L2968.6,3119.5 L2970.5,3114.3 L2970.8,3109.2 L2971.1,3104.1 L2971.4,3099.0 L2971.7,3093.8 L2972.0,3088.7 L2972.3,3083.6 L2972.6,3078.5 L2972.9,3073.3 L2973.2,3068.2 L2973.5,3063.1 L2973.8,3058.0 L2974.1,3052.9 L2974.4,3047.7 L2974.6,3042.6 L2974.9,3037.5 L2975.2,3032.4 L2975.5,3027.2 L2975.8,3022.1 L2976.1,3017.0 L2976.4,3011.9 L2976.6,3006.7 L2976.7,3001.6 L2976.9,2996.5 L2977.0,2991.4 L2977.2,2986.3 L2977.3,2981.1 L2977.5,2976.0 L2977.6,2970.9 L2977.8,2965.8 L2977.9,2960.6 L2978.1,2955.5 L2978.2,2950.4 L2978.3,2945.3 L2978.5,2940.1 L2978.6,2935.0 L2978.8,2929.9 L2978.9,2924.8 L2979.1,2919.6 L2979.2,2914.5 L2979.4,2909.4 L2979.3,2904.3 L2979.3,2899.2 L2979.2,2894.0 L2979.2,2888.9 L2979.1,2883.8 L2979.0,2878.7 L2979.0,2873.5 L2978.9,2868.4 L2978.9,2863.3 L2978.8,2858.2 L2978.7,2853.0 L2978.7,2847.9 L2978.6,2842.8 L2978.6,2837.7 L2978.5,2832.6 L2978.5,2827.4 L2978.4,2822.3 L2978.3,2817.2 L2978.3,2812.1 L2978.2,2806.9 L2978.4,2801.8 L2978.6,2796.7 L2978.7,2791.6 L2978.9,2786.4 L2979.1,2781.3 L2979.3,2776.2 L2979.4,2771.1 L2979.6,2765.9 L2979.8,2760.8 L2979.9,2755.7 L2980.1,2750.6 L2980.3,2745.5 L2980.5,2740.3 L2980.6,2735.2 L2980.8,2730.1 L2981.0,2725.0 L2981.1,2719.8 L2981.3,2714.7 L2981.5,2709.6 L2981.7,2704.5 L2981.8,2699.3 L2981.9,2694.2 L2982.1,2689.1 L2982.2,2684.0 L2982.4,2678.9 L2982.5,2673.7 L2982.7,2668.6 L2982.8,2663.5 L2983.0,2658.4 L2983.1,2653.2 L2983.2,2648.1 L2983.4,2643.0 L2983.5,2637.9 L2983.7,2632.7 L2983.8,2627.6 L2984.0,2622.5 L2984.1,2617.4 L2984.3,2612.3 L2984.4,2607.1 L2984.5,2602.0 L2586.3,2597.0Z" fill="#eee432"/>
<path d="M2586.3,3221.8 L2908.0,3216.8 L2910.2,3211.7 L2912.3,3206.6 L2914.5,3201.4 L2916.7,3196.3 L2918.9,3191.2 L2921.0,3186.1 L2923.2,3180.9 L2925.4,3175.8 L2927.6,3170.7 L2929.8,3165.6 L2931.9,3160.4 L2934.0,3155.3 L2936.1,3150.2 L2938.2,3145.1 L2940.3,3140.0 L2942.3,3134.8 L2944.2,3129.7 L2946.2,3124.6 L2948.2,3119.5 L2950.1,3114.3 L2950.4,3109.2 L2950.7,3104.1 L2951.0,3099.0 L2951.3,3093.8 L2951.6,3088.7 L2951.9,3083.6 L2952.1,3078.5 L2952.4,3073.3 L2952.7,3068.2 L2953.0,3063.1 L2953.3,3058.0 L2953.6,3052.9 L2953.9,3047.7 L2954.2,3042.6 L2954.4,3037.5 L2954.7,3032.4 L2955.0,3027.2 L2955.3,3022.1 L2955.6,3017.0 L2955.9,3011.9 L2956.0,3006.7 L2956.2,3001.6 L2956.3,2996.5 L2956.5,2991.4 L2956.6,2986.3 L2956.8,2981.1 L2956.9,2976.0 L2957.0,2970.9 L2957.2,2965.8 L2957.3,2960.6 L2957.5,2955.5 L2957.6,2950.4 L2957.8,2945.3 L2957.9,2940.1 L2958.1,2935.0 L2958.2,2929.9 L2958.3,2924.8 L2958.5,2919.6 L2958.6,2914.5 L2958.8,2909.4 L2958.7,2904.3 L2958.6,2899.2 L2958.6,2894.0 L2958.5,2888.9 L2958.4,2883.8 L2958.4,2878.7 L2958.3,2873.5 L2958.2,2868.4 L2958.2,2863.3 L2958.1,2858.2 L2958.0,2853.0 L2958.0,2847.9 L2957.9,2842.8 L2957.8,2837.7 L2957.8,2832.6 L2957.7,2827.4 L2957.6,2822.3 L2957.6,2817.2 L2957.5,2812.1 L2957.4,2806.9 L2957.6,2801.8 L2957.8,2796.7 L2958.0,2791.6 L2958.1,2786.4 L2958.3,2781.3 L2958.5,2776.2 L2958.7,2771.1 L2958.8,2765.9 L2959.0,2760.8 L2959.2,2755.7 L2959.4,2750.6 L2959.5,2745.5 L2959.7,2740.3 L2959.9,2735.2 L2960.1,2730.1 L2960.2,2725.0 L2960.4,2719.8 L2960.6,2714.7 L2960.8,2709.6 L2960.9,2704.5 L2961.1,2699.3 L2961.3,2694.2 L2961.5,2689.1 L2961.6,2684.0 L2961.8,2678.9 L2962.0,2673.7 L2962.1,2668.6 L2962.3,2663.5 L2962.5,2658.4 L2962.6,2653.2 L2962.8,2648.1 L2963.0,2643.0 L2963.1,2637.9 L2963.3,2632.7 L2963.5,2627.6 L2963.6,2622.5 L2963.8,2617.4 L2964.0,2612.3 L2964.2,2607.1 L2964.3,2602.0 L2586.3,2597.0Z" fill="#efd82a"/>
<path d="M2586.3,3221.8 L2898.4,3216.8 L2900.4,3211.7 L2902.4,3206.6 L2904.4,3201.4 L2906.4,3196.3 L2908.4,3191.2 L2910.5,3186.1 L2912.5,3180.9 L2914.5,3175.8 L2916.5,3170.7 L2918.5,3165.6 L2920.5,3160.4 L2922.5,3155.3 L2924.5,3150.2 L2926.5,3145.1 L2928.5,3140.0 L2930.5,3134.8 L2932.5,3129.7 L2934.6,3124.6 L2936.6,3119.5 L2938.6,3114.3 L2938.9,3109.2 L2939.2,3104.1 L2939.5,3099.0 L2939.8,3093.8 L2940.1,3088.7 L2940.4,3083.6 L2940.8,3078.5 L2941.1,3073.3 L2941.4,3068.2 L2941.7,3063.1 L2942.0,3058.0 L2942.2,3052.9 L2942.5,3047.7 L2942.8,3042.6 L2943.1,3037.5 L2943.4,3032.4 L2943.7,3027.2 L2944.0,3022.1 L2944.3,3017.0 L2944.6,3011.9 L2944.7,3006.7 L2944.9,3001.6 L2945.0,2996.5 L2945.2,2991.4 L2945.3,2986.3 L2945.5,2981.1 L2945.6,2976.0 L2945.8,2970.9 L2945.9,2965.8 L2946.1,2960.6 L2946.2,2955.5 L2946.4,2950.4 L2946.5,2945.3 L2946.7,2940.1 L2946.8,2935.0 L2947.0,2929.9 L2947.1,2924.8 L2947.3,2919.6 L2947.4,2914.5 L2947.6,2909.4 L2947.5,2904.3 L2947.5,2899.2 L2947.4,2894.0 L2947.3,2888.9 L2947.3,2883.8 L2947.2,2878.7 L2947.1,2873.5 L2947.0,2868.4 L2946.9,2863.3 L2946.8,2858.2 L2946.8,2853.0 L2946.7,2847.9 L2946.6,2842.8 L2946.5,2837.7 L2946.4,2832.6 L2946.3,2827.4 L2946.3,2822.3 L2946.2,2817.2 L2946.1,2812.1 L2946.0,2806.9 L2946.2,2801.8 L2946.3,2796.7 L2946.4,2791.6 L2946.6,2786.4 L2946.7,2781.3 L2946.9,2776.2 L2947.0,2771.1 L2947.2,2765.9 L2947.3,2760.8 L2947.4,2755.7 L2947.6,2750.6 L2947.7,2745.5 L2947.9,2740.3 L2948.0,2735.2 L2948.2,2730.1 L2948.3,2725.0 L2948.5,2719.8 L2948.6,2714.7 L2948.7,2709.6 L2948.9,2704.5 L2949.1,2699.3 L2949.2,2694.2 L2949.4,2689.1 L2949.6,2684.0 L2949.8,2678.9 L2950.0,2673.7 L2950.1,2668.6 L2950.3,2663.5 L2950.5,2658.4 L2950.7,2653.2 L2950.8,2648.1 L2951.0,2643.0 L2951.2,2637.9 L2951.4,2632.7 L2951.6,2627.6 L2951.7,2622.5 L2951.9,2617.4 L2952.1,2612.3 L2952.3,2607.1 L2952.4,2602.0 L2586.3,2597.0Z" fill="#f2b822"/>
<path d="M2586.3,3221.8 L2893.4,3216.8 L2895.3,3211.7 L2897.3,3206.6 L2899.2,3201.4 L2901.1,3196.3 L2903.1,3191.2 L2905.0,3186.1 L2906.9,3180.9 L2908.8,3175.8 L2910.7,3170.7 L2912.6,3165.6 L2914.6,3160.4 L2916.7,3155.3 L2918.7,3150.2 L2920.7,3145.1 L2922.7,3140.0 L2924.7,3134.8 L2926.8,3129.7 L2928.9,3124.6 L2930.9,3119.5 L2933.0,3114.3 L2933.3,3109.2 L2933.7,3104.1 L2934.0,3099.0 L2934.4,3093.8 L2934.7,3088.7 L2935.0,3083.6 L2935.4,3078.5 L2935.7,3073.3 L2936.1,3068.2 L2936.4,3063.1 L2936.7,3058.0 L2937.0,3052.9 L2937.3,3047.7 L2937.6,3042.6 L2937.9,3037.5 L2938.2,3032.4 L2938.5,3027.2 L2938.8,3022.1 L2939.1,3017.0 L2939.4,3011.9 L2939.5,3006.7 L2939.7,3001.6 L2939.9,2996.5 L2940.0,2991.4 L2940.2,2986.3 L2940.4,2981.1 L2940.5,2976.0 L2940.7,2970.9 L2940.9,2965.8 L2941.0,2960.6 L2941.2,2955.5 L2941.4,2950.4 L2941.5,2945.3 L2941.7,2940.1 L2941.9,2935.0 L2942.1,2929.9 L2942.2,2924.8 L2942.4,2919.6 L2942.6,2914.5 L2942.7,2909.4 L2942.7,2904.3 L2942.6,2899.2 L2942.6,2894.0 L2942.5,2888.9 L2942.4,2883.8 L2942.3,2878.7 L2942.2,2873.5 L2942.1,2868.4 L2942.0,2863.3 L2941.9,2858.2 L2941.8,2853.0 L2941.7,2847.9 L2941.6,2842.8 L2941.5,2837.7 L2941.4,2832.6 L2941.3,2827.4 L2941.2,2822.3 L2941.1,2817.2 L2941.0,2812.1 L2940.8,2806.9 L2940.9,2801.8 L2941.0,2796.7 L2941.1,2791.6 L2941.2,2786.4 L2941.3,2781.3 L2941.4,2776.2 L2941.5,2771.1 L2941.6,2765.9 L2941.6,2760.8 L2941.7,2755.7 L2941.8,2750.6 L2941.9,2745.5 L2942.0,2740.3 L2942.1,2735.2 L2942.2,2730.1 L2942.3,2725.0 L2942.3,2719.8 L2942.4,2714.7 L2942.5,2709.6 L2942.6,2704.5 L2942.8,2699.3 L2943.0,2694.2 L2943.1,2689.1 L2943.3,2684.0 L2943.5,2678.9 L2943.7,2673.7 L2943.8,2668.6 L2944.0,2663.5 L2944.2,2658.4 L2944.4,2653.2 L2944.5,2648.1 L2944.7,2643.0 L2944.9,2637.9 L2945.1,2632.7 L2945.2,2627.6 L2945.4,2622.5 L2945.6,2617.4 L2945.8,2612.3 L2945.9,2607.1 L2946.1,2602.0 L2586.3,2597.0Z" fill="#f09424"/>
<path d="M2586.3,3221.8 L2888.4,3216.8 L2890.3,3211.7 L2892.1,3206.6 L2894.0,3201.4 L2895.8,3196.3 L2897.7,3191.2 L2899.5,3186.1 L2901.3,3180.9 L2903.1,3175.8 L2904.9,3170.7 L2906.8,3165.6 L2908.8,3160.4 L2910.8,3155.3 L2912.8,3150.2 L2914.9,3145.1 L2916.9,3140.0 L2919.0,3134.8 L2921.1,3129.7 L2923.2,3124.6 L2925.2,3119.5 L2927.3,3114.3 L2927.7,3109.2 L2928.1,3104.1 L2928.5,3099.0 L2928.9,3093.8 L2929.3,3088.7 L2929.6,3083.6 L2930.0,3078.5 L2930.4,3073.3 L2930.8,3068.2 L2931.2,3063.1 L2931.5,3058.0 L2931.8,3052.9 L2932.1,3047.7 L2932.4,3042.6 L2932.7,3037.5 L2933.0,3032.4 L2933.3,3027.2 L2933.6,3022.1 L2933.9,3017.0 L2934.2,3011.9 L2934.4,3006.7 L2934.5,3001.6 L2934.7,2996.5 L2934.9,2991.4 L2935.1,2986.3 L2935.3,2981.1 L2935.5,2976.0 L2935.6,2970.9 L2935.8,2965.8 L2936.0,2960.6 L2936.2,2955.5 L2936.4,2950.4 L2936.6,2945.3 L2936.7,2940.1 L2936.9,2935.0 L2937.1,2929.9 L2937.3,2924.8 L2937.5,2919.6 L2937.7,2914.5 L2937.8,2909.4 L2937.8,2904.3 L2937.8,2899.2 L2937.7,2894.0 L2937.7,2888.9 L2937.6,2883.8 L2937.5,2878.7 L2937.4,2873.5 L2937.2,2868.4 L2937.1,2863.3 L2937.0,2858.2 L2936.8,2853.0 L2936.7,2847.9 L2936.6,2842.8 L2936.5,2837.7 L2936.3,2832.6 L2936.2,2827.4 L2936.1,2822.3 L2935.9,2817.2 L2935.8,2812.1 L2935.7,2806.9 L2935.7,2801.8 L2935.8,2796.7 L2935.8,2791.6 L2935.8,2786.4 L2935.8,2781.3 L2935.9,2776.2 L2935.9,2771.1 L2935.9,2765.9 L2936.0,2760.8 L2936.0,2755.7 L2936.0,2750.6 L2936.1,2745.5 L2936.1,2740.3 L2936.1,2735.2 L2936.2,2730.1 L2936.2,2725.0 L2936.2,2719.8 L2936.3,2714.7 L2936.3,2709.6 L2936.3,2704.5 L2936.5,2699.3 L2936.7,2694.2 L2936.8,2689.1 L2937.0,2684.0 L2937.2,2678.9 L2937.4,2673.7 L2937.5,2668.6 L2937.7,2663.5 L2937.9,2658.4 L2938.1,2653.2 L2938.2,2648.1 L2938.4,2643.0 L2938.6,2637.9 L2938.8,2632.7 L2938.9,2627.6 L2939.1,2622.5 L2939.3,2617.4 L2939.4,2612.3 L2939.6,2607.1 L2939.8,2602.0 L2586.3,2597.0Z" fill="#ec7626"/>
<path d="M2586.3,3221.8 L2883.5,3216.8 L2885.2,3211.7 L2887.0,3206.6 L2888.7,3201.4 L2890.5,3196.3 L2892.3,3191.2 L2894.0,3186.1 L2895.7,3180.9 L2897.4,3175.8 L2899.2,3170.7 L2900.9,3165.6 L2902.9,3160.4 L2905.0,3155.3 L2907.0,3150.2 L2909.0,3145.1 L2911.1,3140.0 L2913.2,3134.8 L2915.3,3129.7 L2917.5,3124.6 L2919.6,3119.5 L2921.7,3114.3 L2922.1,3109.2 L2922.6,3104.1 L2923.0,3099.0 L2923.4,3093.8 L2923.8,3088.7 L2924.2,3083.6 L2924.7,3078.5 L2925.1,3073.3 L2925.5,3068.2 L2925.9,3063.1 L2926.2,3058.0 L2926.5,3052.9 L2926.8,3047.7 L2927.1,3042.6 L2927.4,3037.5 L2927.7,3032.4 L2928.1,3027.2 L2928.4,3022.1 L2928.7,3017.0 L2929.0,3011.9 L2929.2,3006.7 L2929.4,3001.6 L2929.6,2996.5 L2929.8,2991.4 L2930.0,2986.3 L2930.2,2981.1 L2930.4,2976.0 L2930.6,2970.9 L2930.8,2965.8 L2931.0,2960.6 L2931.2,2955.5 L2931.4,2950.4 L2931.6,2945.3 L2931.8,2940.1 L2932.0,2935.0 L2932.2,2929.9 L2932.4,2924.8 L2932.6,2919.6 L2932.8,2914.5 L2933.0,2909.4 L2932.9,2904.3 L2932.9,2899.2 L2932.9,2894.0 L2932.8,2888.9 L2932.8,2883.8 L2932.6,2878.7 L2932.5,2873.5 L2932.3,2868.4 L2932.2,2863.3 L2932.0,2858.2 L2931.9,2853.0 L2931.7,2847.9 L2931.6,2842.8 L2931.4,2837.7 L2931.3,2832.6 L2931.1,2827.4 L2931.0,2822.3 L2930.8,2817.2 L2930.7,2812.1 L2930.5,2806.9 L2930.5,2801.8 L2930.5,2796.7 L2930.5,2791.6 L2930.4,2786.4 L2930.4,2781.3 L2930.4,2776.2 L2930.4,2771.1 L2930.3,2765.9 L2930.3,2760.8 L2930.3,2755.7 L2930.3,2750.6 L2930.2,2745.5 L2930.2,2740.3 L2930.2,2735.2 L2930.2,2730.1 L2930.1,2725.0 L2930.1,2719.8 L2930.1,2714.7 L2930.1,2709.6 L2930.0,2704.5 L2930.2,2699.3 L2930.4,2694.2 L2930.6,2689.1 L2930.7,2684.0 L2930.9,2678.9 L2931.1,2673.7 L2931.2,2668.6 L2931.4,2663.5 L2931.6,2658.4 L2931.8,2653.2 L2931.9,2648.1 L2932.1,2643.0 L2932.3,2637.9 L2932.4,2632.7 L2932.6,2627.6 L2932.8,2622.5 L2933.0,2617.4 L2933.1,2612.3 L2933.3,2607.1 L2933.5,2602.0 L2586.3,2597.0Z" fill="#e85c28"/>
<path d="M2586.3,3221.8 L2878.5,3216.8 L2880.2,3211.7 L2881.8,3206.6 L2883.5,3201.4 L2885.2,3196.3 L2886.9,3191.2 L2888.5,3186.1 L2890.1,3180.9 L2891.8,3175.8 L2893.4,3170.7 L2895.0,3165.6 L2897.1,3160.4 L2899.1,3155.3 L2901.2,3150.2 L2903.2,3145.1 L2905.2,3140.0 L2907.4,3134.8 L2909.6,3129.7 L2911.8,3124.6 L2913.9,3119.5 L2916.1,3114.3 L2916.5,3109.2 L2917.0,3104.1 L2917.5,3099.0 L2917.9,3093.8 L2918.4,3088.7 L2918.8,3083.6 L2919.3,3078.5 L2919.8,3073.3 L2920.2,3068.2 L2920.7,3063.1 L2921.0,3058.0 L2921.3,3052.9 L2921.6,3047.7 L2921.9,3042.6 L2922.2,3037.5 L2922.5,3032.4 L2922.8,3027.2 L2923.2,3022.1 L2923.5,3017.0 L2923.8,3011.9 L2924.0,3006.7 L2924.2,3001.6 L2924.4,2996.5 L2924.6,2991.4 L2924.9,2986.3 L2925.1,2981.1 L2925.3,2976.0 L2925.5,2970.9 L2925.7,2965.8 L2925.9,2960.6 L2926.2,2955.5 L2926.4,2950.4 L2926.6,2945.3 L2926.8,2940.1 L2927.0,2935.0 L2927.2,2929.9 L2927.4,2924.8 L2927.7,2919.6 L2927.9,2914.5 L2928.1,2909.4 L2928.1,2904.3 L2928.0,2899.2 L2928.0,2894.0 L2928.0,2888.9 L2928.0,2883.8 L2927.8,2878.7 L2927.6,2873.5 L2927.4,2868.4 L2927.3,2863.3 L2927.1,2858.2 L2926.9,2853.0 L2926.7,2847.9 L2926.6,2842.8 L2926.4,2837.7 L2926.2,2832.6 L2926.1,2827.4 L2925.9,2822.3 L2925.7,2817.2 L2925.5,2812.1 L2925.4,2806.9 L2925.3,2801.8 L2925.2,2796.7 L2925.1,2791.6 L2925.1,2786.4 L2925.0,2781.3 L2924.9,2776.2 L2924.8,2771.1 L2924.7,2765.9 L2924.6,2760.8 L2924.6,2755.7 L2924.5,2750.6 L2924.4,2745.5 L2924.3,2740.3 L2924.2,2735.2 L2924.2,2730.1 L2924.1,2725.0 L2924.0,2719.8 L2923.9,2714.7 L2923.8,2709.6 L2923.8,2704.5 L2923.9,2699.3 L2924.1,2694.2 L2924.3,2689.1 L2924.4,2684.0 L2924.6,2678.9 L2924.8,2673.7 L2924.9,2668.6 L2925.1,2663.5 L2925.3,2658.4 L2925.5,2653.2 L2925.6,2648.1 L2925.8,2643.0 L2926.0,2637.9 L2926.1,2632.7 L2926.3,2627.6 L2926.5,2622.5 L2926.6,2617.4 L2926.8,2612.3 L2927.0,2607.1 L2927.2,2602.0 L2586.3,2597.0Z" fill="#e54828"/>
<path d="M2586.3,3221.8 L2873.5,3216.8 L2875.1,3211.7 L2876.7,3206.6 L2878.3,3201.4 L2879.9,3196.3 L2881.5,3191.2 L2883.0,3186.1 L2884.5,3180.9 L2886.1,3175.8 L2887.6,3170.7 L2889.1,3165.6 L2891.2,3160.4 L2893.3,3155.3 L2895.3,3150.2 L2897.4,3145.1 L2899.4,3140.0 L2901.6,3134.8 L2903.8,3129.7 L2906.1,3124.6 L2908.3,3119.5 L2910.5,3114.3 L2911.0,3109.2 L2911.5,3104.1 L2911.9,3099.0 L2912.4,3093.8 L2912.9,3088.7 L2913.4,3083.6 L2913.9,3078.5 L2914.4,3073.3 L2914.9,3068.2 L2915.4,3063.1 L2915.7,3058.0 L2916.0,3052.9 L2916.4,3047.7 L2916.7,3042.6 L2917.0,3037.5 L2917.3,3032.4 L2917.6,3027.2 L2917.9,3022.1 L2918.3,3017.0 L2918.6,3011.9 L2918.8,3006.7 L2919.0,3001.6 L2919.3,2996.5 L2919.5,2991.4 L2919.7,2986.3 L2920.0,2981.1 L2920.2,2976.0 L2920.4,2970.9 L2920.7,2965.8 L2920.9,2960.6 L2921.1,2955.5 L2921.4,2950.4 L2921.6,2945.3 L2921.8,2940.1 L2922.1,2935.0 L2922.3,2929.9 L2922.5,2924.8 L2922.8,2919.6 L2923.0,2914.5 L2923.2,2909.4 L2923.2,2904.3 L2923.2,2899.2 L2923.2,2894.0 L2923.1,2888.9 L2923.1,2883.8 L2922.9,2878.7 L2922.7,2873.5 L2922.5,2868.4 L2922.3,2863.3 L2922.2,2858.2 L2922.0,2853.0 L2921.8,2847.9 L2921.6,2842.8 L2921.4,2837.7 L2921.2,2832.6 L2921.0,2827.4 L2920.8,2822.3 L2920.6,2817.2 L2920.4,2812.1 L2920.2,2806.9 L2920.1,2801.8 L2919.9,2796.7 L2919.8,2791.6 L2919.7,2786.4 L2919.5,2781.3 L2919.4,2776.2 L2919.3,2771.1 L2919.1,2765.9 L2919.0,2760.8 L2918.8,2755.7 L2918.7,2750.6 L2918.6,2745.5 L2918.4,2740.3 L2918.3,2735.2 L2918.2,2730.1 L2918.0,2725.0 L2917.9,2719.8 L2917.8,2714.7 L2917.6,2709.6 L2917.5,2704.5 L2917.6,2699.3 L2917.8,2694.2 L2918.0,2689.1 L2918.1,2684.0 L2918.3,2678.9 L2918.5,2673.7 L2918.7,2668.6 L2918.8,2663.5 L2919.0,2658.4 L2919.2,2653.2 L2919.3,2648.1 L2919.5,2643.0 L2919.7,2637.9 L2919.8,2632.7 L2920.0,2627.6 L2920.2,2622.5 L2920.3,2617.4 L2920.5,2612.3 L2920.7,2607.1 L2920.8,2602.0 L2586.3,2597.0Z" fill="#e3382a"/>
<path d="M2586.3,3221.8 L2868.5,3216.8 L2870.1,3211.7 L2871.6,3206.6 L2873.1,3201.4 L2874.6,3196.3 L2876.1,3191.2 L2877.5,3186.1 L2879.0,3180.9 L2880.4,3175.8 L2881.8,3170.7 L2883.3,3165.6 L2885.3,3160.4 L2887.4,3155.3 L2889.5,3150.2 L2891.5,3145.1 L2893.6,3140.0 L2895.9,3134.8 L2898.1,3129.7 L2900.3,3124.6 L2902.6,3119.5 L2904.8,3114.3 L2905.4,3109.2 L2905.9,3104.1 L2906.4,3099.0 L2907.0,3093.8 L2907.5,3088.7 L2908.0,3083.6 L2908.6,3078.5 L2909.1,3073.3 L2909.6,3068.2 L2910.2,3063.1 L2910.5,3058.0 L2910.8,3052.9 L2911.1,3047.7 L2911.5,3042.6 L2911.8,3037.5 L2912.1,3032.4 L2912.4,3027.2 L2912.7,3022.1 L2913.1,3017.0 L2913.4,3011.9 L2913.6,3006.7 L2913.9,3001.6 L2914.1,2996.5 L2914.4,2991.4 L2914.6,2986.3 L2914.9,2981.1 L2915.1,2976.0 L2915.4,2970.9 L2915.6,2965.8 L2915.9,2960.6 L2916.1,2955.5 L2916.4,2950.4 L2916.6,2945.3 L2916.9,2940.1 L2917.1,2935.0 L2917.3,2929.9 L2917.6,2924.8 L2917.8,2919.6 L2918.1,2914.5 L2918.3,2909.4 L2918.3,2904.3 L2918.3,2899.2 L2918.3,2894.0 L2918.3,2888.9 L2918.3,2883.8 L2918.1,2878.7 L2917.9,2873.5 L2917.6,2868.4 L2917.4,2863.3 L2917.2,2858.2 L2917.0,2853.0 L2916.8,2847.9 L2916.6,2842.8 L2916.4,2837.7 L2916.1,2832.6 L2915.9,2827.4 L2915.7,2822.3 L2915.5,2817.2 L2915.3,2812.1 L2915.1,2806.9 L2914.9,2801.8 L2914.7,2796.7 L2914.5,2791.6 L2914.3,2786.4 L2914.1,2781.3 L2913.9,2776.2 L2913.7,2771.1 L2913.5,2765.9 L2913.3,2760.8 L2913.1,2755.7 L2912.9,2750.6 L2912.7,2745.5 L2912.5,2740.3 L2912.4,2735.2 L2912.2,2730.1 L2912.0,2725.0 L2911.8,2719.8 L2911.6,2714.7 L2911.4,2709.6 L2911.2,2704.5 L2911.4,2699.3 L2911.5,2694.2 L2911.7,2689.1 L2911.9,2684.0 L2912.0,2678.9 L2912.2,2673.7 L2912.4,2668.6 L2912.5,2663.5 L2912.7,2658.4 L2912.9,2653.2 L2913.0,2648.1 L2913.2,2643.0 L2913.3,2637.9 L2913.5,2632.7 L2913.7,2627.6 L2913.8,2622.5 L2914.0,2617.4 L2914.2,2612.3 L2914.3,2607.1 L2914.5,2602.0 L2586.3,2597.0Z" fill="#e12c2a"/>
<path d="M2586.3,3221.8 L2863.6,3216.8 L2865.0,3211.7 L2866.4,3206.6 L2867.8,3201.4 L2869.3,3196.3 L2870.7,3191.2 L2872.0,3186.1 L2873.4,3180.9 L2874.7,3175.8 L2876.1,3170.7 L2877.4,3165.6 L2879.5,3160.4 L2881.6,3155.3 L2883.6,3150.2 L2885.7,3145.1 L2887.8,3140.0 L2890.1,3134.8 L2892.4,3129.7 L2894.6,3124.6 L2896.9,3119.5 L2899.2,3114.3 L2899.8,3109.2 L2900.3,3104.1 L2900.9,3099.0 L2901.5,3093.8 L2902.1,3088.7 L2902.6,3083.6 L2903.2,3078.5 L2903.8,3073.3 L2904.3,3068.2 L2904.9,3063.1 L2905.2,3058.0 L2905.6,3052.9 L2905.9,3047.7 L2906.2,3042.6 L2906.5,3037.5 L2906.9,3032.4 L2907.2,3027.2 L2907.5,3022.1 L2907.9,3017.0 L2908.2,3011.9 L2908.5,3006.7 L2908.7,3001.6 L2909.0,2996.5 L2909.2,2991.4 L2909.5,2986.3 L2909.8,2981.1 L2910.0,2976.0 L2910.3,2970.9 L2910.6,2965.8 L2910.8,2960.6 L2911.1,2955.5 L2911.4,2950.4 L2911.6,2945.3 L2911.9,2940.1 L2912.1,2935.0 L2912.4,2929.9 L2912.7,2924.8 L2912.9,2919.6 L2913.2,2914.5 L2913.5,2909.4 L2913.5,2904.3 L2913.5,2899.2 L2913.5,2894.0 L2913.5,2888.9 L2913.5,2883.8 L2913.2,2878.7 L2913.0,2873.5 L2912.8,2868.4 L2912.5,2863.3 L2912.3,2858.2 L2912.0,2853.0 L2911.8,2847.9 L2911.6,2842.8 L2911.3,2837.7 L2911.1,2832.6 L2910.8,2827.4 L2910.6,2822.3 L2910.4,2817.2 L2910.1,2812.1 L2909.9,2806.9 L2909.6,2801.8 L2909.4,2796.7 L2909.2,2791.6 L2908.9,2786.4 L2908.7,2781.3 L2908.4,2776.2 L2908.2,2771.1 L2907.9,2765.9 L2907.7,2760.8 L2907.4,2755.7 L2907.2,2750.6 L2906.9,2745.5 L2906.7,2740.3 L2906.4,2735.2 L2906.2,2730.1 L2905.9,2725.0 L2905.7,2719.8 L2905.4,2714.7 L2905.2,2709.6 L2904.9,2704.5 L2905.1,2699.3 L2905.2,2694.2 L2905.4,2689.1 L2905.6,2684.0 L2905.7,2678.9 L2905.9,2673.7 L2906.1,2668.6 L2906.2,2663.5 L2906.4,2658.4 L2906.5,2653.2 L2906.7,2648.1 L2906.9,2643.0 L2907.0,2637.9 L2907.2,2632.7 L2907.4,2627.6 L2907.5,2622.5 L2907.7,2617.4 L2907.9,2612.3 L2908.0,2607.1 L2908.2,2602.0 L2586.3,2597.0Z" fill="#e0282a"/></g>
<text x="2622.0" y="2654.0" font-size="39" fill="#fff" >I<tspan dy="11" font-size="30">3</tspan><tspan dy="-32" font-size="30">&#8211;</tspan></text>
<rect x="2591.3" y="2602" width="641" height="614.8" fill="none" stroke="#111" stroke-width="2.4"/>
<line x1="2579.3" y1="3216.8" x2="2591.3" y2="3216.8" stroke="#111" stroke-width="2.2"/>
<line x1="2585.3" y1="3165.6" x2="2591.3" y2="3165.6" stroke="#111" stroke-width="2.2"/>
<line x1="2579.3" y1="3114.3" x2="2591.3" y2="3114.3" stroke="#111" stroke-width="2.2"/>
<line x1="2585.3" y1="3063.1" x2="2591.3" y2="3063.1" stroke="#111" stroke-width="2.2"/>
<line x1="2579.3" y1="3011.9" x2="2591.3" y2="3011.9" stroke="#111" stroke-width="2.2"/>
<line x1="2585.3" y1="2960.6" x2="2591.3" y2="2960.6" stroke="#111" stroke-width="2.2"/>
<line x1="2579.3" y1="2909.4" x2="2591.3" y2="2909.4" stroke="#111" stroke-width="2.2"/>
<line x1="2585.3" y1="2858.2" x2="2591.3" y2="2858.2" stroke="#111" stroke-width="2.2"/>
<line x1="2579.3" y1="2806.9" x2="2591.3" y2="2806.9" stroke="#111" stroke-width="2.2"/>
<line x1="2585.3" y1="2755.7" x2="2591.3" y2="2755.7" stroke="#111" stroke-width="2.2"/>
<line x1="2579.3" y1="2704.5" x2="2591.3" y2="2704.5" stroke="#111" stroke-width="2.2"/>
<line x1="2585.3" y1="2653.2" x2="2591.3" y2="2653.2" stroke="#111" stroke-width="2.2"/>
<line x1="2579.3" y1="2602.0" x2="2591.3" y2="2602.0" stroke="#111" stroke-width="2.2"/>
<line x1="2591.3" y1="3216.8" x2="2591.3" y2="3228.8" stroke="#111" stroke-width="2.2"/>
<text x="2591.3" y="3268.5" font-size="37.5" text-anchor="middle" fill="#222" >400</text>
<line x1="2733.9" y1="3216.8" x2="2733.9" y2="3224.8" stroke="#111" stroke-width="2.2"/>
<line x1="2876.4" y1="3216.8" x2="2876.4" y2="3228.8" stroke="#111" stroke-width="2.2"/>
<text x="2876.4" y="3268.5" font-size="37.5" text-anchor="middle" fill="#222" >600</text>
<line x1="3019.0" y1="3216.8" x2="3019.0" y2="3224.8" stroke="#111" stroke-width="2.2"/>
<line x1="3161.5" y1="3216.8" x2="3161.5" y2="3228.8" stroke="#111" stroke-width="2.2"/>
<text x="3161.5" y="3268.5" font-size="37.5" text-anchor="middle" fill="#222" >800</text>
<rect x="3269.5" y="2597.5" width="50.5" height="605" fill="url(#fCb)"/>
<rect x="3269.5" y="3202.5" width="50.5" height="11.5" fill="#222"/>
<rect x="3269.5" y="2597.5" width="50.5" height="616.5" fill="none" stroke="#222" stroke-width="2"/>
<line x1="3320" y1="2609.6" x2="3332" y2="2609.6" stroke="#222" stroke-width="2"/><line x1="3320" y1="3201.6" x2="3332" y2="3201.6" stroke="#222" stroke-width="2"/>
<text x="3295.0" y="2585.5" font-size="37.5" text-anchor="middle" fill="#222" >1.5</text>
<text x="3295.0" y="3253.5" font-size="37.5" text-anchor="middle" fill="#222" >0</text>
<text x="3383" y="2933.6" font-size="38.5" fill="#222" text-anchor="middle" textLength="304" lengthAdjust="spacingAndGlyphs" transform="rotate(-90 3383 2933.6)">Absorbance (a.u.)</text>
<text x="1766" y="2912.7" font-size="46" fill="#222" text-anchor="middle" textLength="350" lengthAdjust="spacingAndGlyphs" transform="rotate(-90 1766 2912.7)">Temperature (<tspan dy="-16" font-size="29">o</tspan><tspan dy="16">C)</tspan></text>
<text x="2205.0" y="3311.0" font-size="47" text-anchor="middle" fill="#222" >Wavelength (nm)</text>
<text x="2910.0" y="3325.0" font-size="47" text-anchor="middle" fill="#222" >Wavelength (nm)</text>
</svg></body></html>
